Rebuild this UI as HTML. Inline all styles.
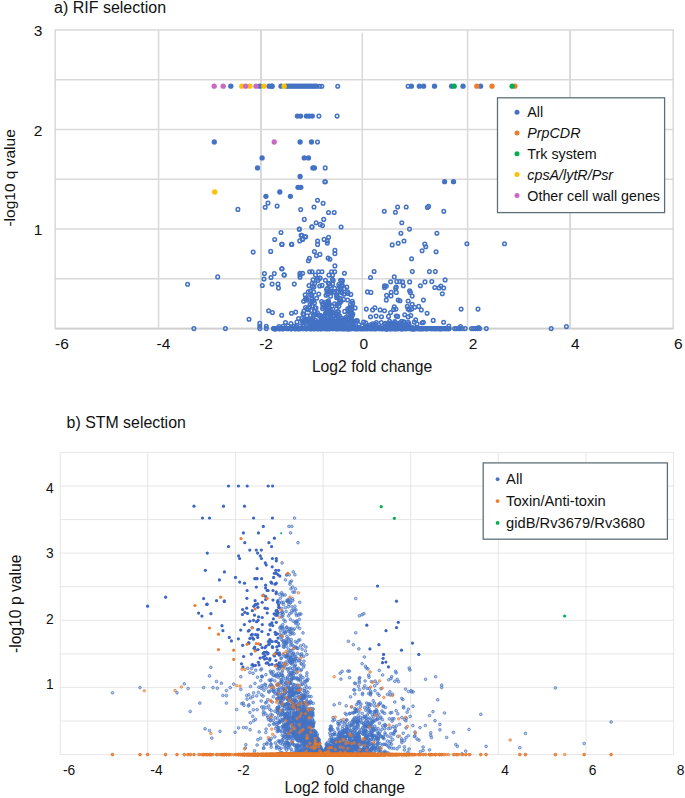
<!DOCTYPE html><html><head><meta charset="utf-8"><title>Volcano plots</title><style>
html,body{margin:0;padding:0;background:#fff}svg{display:block}text{font-family:"Liberation Sans", Arial, sans-serif;fill:#111}
.g line{stroke:#d9d9d9;stroke-width:1.5}.g2 line{stroke:#dedede;stroke-width:.75}
.to circle{r:1.8px}.ts circle{r:2.65px}.bo circle{r:1.35px}.bs circle{r:1.6px}.bb circle{r:1.3px}
</style></head><body>
<svg width="685" height="798" viewBox="0 0 685 798">
<rect width="685" height="798" fill="#fff"/>
<g class="g">
<line x1="55.2" y1="30" x2="55.2" y2="328.6"/>
<line x1="158.6" y1="30" x2="158.6" y2="328.6"/>
<line x1="261" y1="30" x2="261" y2="328.6" style="stroke-width:2"/>
<line x1="362.3" y1="32.8" x2="362.3" y2="328.6"/>
<line x1="467.6" y1="30" x2="467.6" y2="328.6"/>
<line x1="570.1" y1="30" x2="570.1" y2="328.6" style="stroke-width:2"/>
<line x1="673.2" y1="30" x2="673.2" y2="328.6"/>
<line x1="54.5" y1="328.6" x2="674" y2="328.6"/>
<line x1="54.5" y1="278.8" x2="674" y2="278.8"/>
<line x1="54.5" y1="229.1" x2="674" y2="229.1"/>
<line x1="54.5" y1="179.3" x2="674" y2="179.3"/>
<line x1="54.5" y1="129.5" x2="674" y2="129.5"/>
<line x1="54.5" y1="79.8" x2="674" y2="79.8"/>
<line x1="54.5" y1="30" x2="674" y2="30"/>
</g>
<line x1="55.2" y1="328.6" x2="673.2" y2="328.6" stroke="#cfcfcf" stroke-width="1.6"/>
<g class="to" fill="none" stroke="#4472c4" stroke-width="1.5">
<circle cx="339.7" cy="321.1" r="1.8"/>
<circle cx="344.7" cy="311.4" r="1.8"/>
<circle cx="322.9" cy="307.1" r="1.8"/>
<circle cx="326.8" cy="320.6" r="1.8"/>
<circle cx="330.6" cy="316.1" r="1.8"/>
<circle cx="350.4" cy="307.2" r="1.8"/>
<circle cx="320.2" cy="278.1" r="1.8"/>
<circle cx="334.8" cy="318.9" r="1.8"/>
<circle cx="317.4" cy="312.7" r="1.8"/>
<circle cx="312" cy="301.1" r="1.8"/>
<circle cx="321.6" cy="301.6" r="1.8"/>
<circle cx="336.5" cy="295" r="1.8"/>
<circle cx="330.7" cy="312.4" r="1.8"/>
<circle cx="325.7" cy="313" r="1.8"/>
<circle cx="337.9" cy="315.4" r="1.8"/>
<circle cx="329.3" cy="283.9" r="1.8"/>
<circle cx="317.4" cy="278.2" r="1.8"/>
<circle cx="305" cy="319.6" r="1.8"/>
<circle cx="339.4" cy="321.9" r="1.8"/>
<circle cx="341.2" cy="301.3" r="1.8"/>
<circle cx="318.7" cy="294.1" r="1.8"/>
<circle cx="332" cy="306" r="1.8"/>
<circle cx="350.2" cy="310.6" r="1.8"/>
<circle cx="306" cy="299.5" r="1.8"/>
<circle cx="352.7" cy="303.3" r="1.8"/>
<circle cx="310.2" cy="322.3" r="1.8"/>
<circle cx="341.7" cy="318.3" r="1.8"/>
<circle cx="350.9" cy="320.5" r="1.8"/>
<circle cx="336.3" cy="309.1" r="1.8"/>
<circle cx="307" cy="309.1" r="1.8"/>
<circle cx="347.6" cy="291.9" r="1.8"/>
<circle cx="308.4" cy="309.8" r="1.8"/>
<circle cx="355.2" cy="321.3" r="1.8"/>
<circle cx="301.9" cy="318.6" r="1.8"/>
<circle cx="307.1" cy="315.9" r="1.8"/>
<circle cx="328.9" cy="307.8" r="1.8"/>
<circle cx="312" cy="295.7" r="1.8"/>
<circle cx="310.3" cy="321.6" r="1.8"/>
<circle cx="342" cy="286" r="1.8"/>
<circle cx="322.6" cy="308.7" r="1.8"/>
<circle cx="311.8" cy="298.6" r="1.8"/>
<circle cx="336.4" cy="318.3" r="1.8"/>
<circle cx="331.2" cy="321.6" r="1.8"/>
<circle cx="331" cy="310.3" r="1.8"/>
<circle cx="332.6" cy="284" r="1.8"/>
<circle cx="310.4" cy="315.5" r="1.8"/>
<circle cx="322" cy="285.4" r="1.8"/>
<circle cx="326.3" cy="304.7" r="1.8"/>
<circle cx="332.8" cy="320.2" r="1.8"/>
<circle cx="324.4" cy="318.3" r="1.8"/>
<circle cx="355.1" cy="307.9" r="1.8"/>
<circle cx="338.4" cy="322.2" r="1.8"/>
<circle cx="342" cy="280.3" r="1.8"/>
<circle cx="337.8" cy="314.7" r="1.8"/>
<circle cx="339.8" cy="302.9" r="1.8"/>
<circle cx="319.5" cy="316.1" r="1.8"/>
<circle cx="352.2" cy="301.3" r="1.8"/>
<circle cx="343.9" cy="294.2" r="1.8"/>
<circle cx="349.4" cy="308.2" r="1.8"/>
<circle cx="330.5" cy="313.8" r="1.8"/>
<circle cx="327.6" cy="294.1" r="1.8"/>
<circle cx="325.4" cy="280.3" r="1.8"/>
<circle cx="350.8" cy="314.4" r="1.8"/>
<circle cx="328.4" cy="316.8" r="1.8"/>
<circle cx="348" cy="293.5" r="1.8"/>
<circle cx="336.8" cy="296.4" r="1.8"/>
<circle cx="307.2" cy="300.1" r="1.8"/>
<circle cx="342.1" cy="292.7" r="1.8"/>
<circle cx="338.5" cy="311.8" r="1.8"/>
<circle cx="351.6" cy="314.2" r="1.8"/>
<circle cx="350.8" cy="294.4" r="1.8"/>
<circle cx="311.5" cy="319.6" r="1.8"/>
<circle cx="349.5" cy="319.8" r="1.8"/>
<circle cx="352" cy="307" r="1.8"/>
<circle cx="311.7" cy="302.7" r="1.8"/>
<circle cx="330.6" cy="296.3" r="1.8"/>
<circle cx="341.6" cy="286" r="1.8"/>
<circle cx="313.6" cy="315.2" r="1.8"/>
<circle cx="320.5" cy="315.4" r="1.8"/>
<circle cx="316" cy="308" r="1.8"/>
<circle cx="338.8" cy="306.3" r="1.8"/>
<circle cx="348.2" cy="310.9" r="1.8"/>
<circle cx="328.1" cy="302.4" r="1.8"/>
<circle cx="319.5" cy="322.3" r="1.8"/>
<circle cx="327.5" cy="288.2" r="1.8"/>
<circle cx="328.2" cy="305.2" r="1.8"/>
<circle cx="330.8" cy="311.9" r="1.8"/>
<circle cx="302.3" cy="321.1" r="1.8"/>
<circle cx="315.4" cy="314.1" r="1.8"/>
<circle cx="328.4" cy="300.9" r="1.8"/>
<circle cx="348.6" cy="310.3" r="1.8"/>
<circle cx="328.3" cy="303.3" r="1.8"/>
<circle cx="325.6" cy="302.3" r="1.8"/>
<circle cx="318" cy="280.4" r="1.8"/>
<circle cx="346.8" cy="287" r="1.8"/>
<circle cx="313.9" cy="287.1" r="1.8"/>
<circle cx="338.7" cy="321.1" r="1.8"/>
<circle cx="338.2" cy="321.1" r="1.8"/>
<circle cx="342.2" cy="284.9" r="1.8"/>
<circle cx="322.3" cy="318.9" r="1.8"/>
<circle cx="351.4" cy="318.6" r="1.8"/>
<circle cx="322.9" cy="304.5" r="1.8"/>
<circle cx="344.6" cy="318.7" r="1.8"/>
<circle cx="305.5" cy="307.6" r="1.8"/>
<circle cx="331.4" cy="292.5" r="1.8"/>
<circle cx="339.4" cy="301.8" r="1.8"/>
<circle cx="340.4" cy="298.5" r="1.8"/>
<circle cx="328.5" cy="321.3" r="1.8"/>
<circle cx="342.4" cy="280.9" r="1.8"/>
<circle cx="326.6" cy="289.4" r="1.8"/>
<circle cx="331.2" cy="319.4" r="1.8"/>
<circle cx="350.5" cy="317.3" r="1.8"/>
<circle cx="312.3" cy="283.4" r="1.8"/>
<circle cx="338" cy="320.6" r="1.8"/>
<circle cx="321" cy="321.1" r="1.8"/>
<circle cx="334.7" cy="288.2" r="1.8"/>
<circle cx="312.4" cy="286.8" r="1.8"/>
<circle cx="337.7" cy="311.5" r="1.8"/>
<circle cx="349.3" cy="316.5" r="1.8"/>
<circle cx="314.5" cy="303.1" r="1.8"/>
<circle cx="333.9" cy="321.7" r="1.8"/>
<circle cx="332.7" cy="312.5" r="1.8"/>
<circle cx="327.7" cy="303.9" r="1.8"/>
<circle cx="314.6" cy="311.3" r="1.8"/>
<circle cx="327" cy="291.9" r="1.8"/>
<circle cx="312.5" cy="306" r="1.8"/>
<circle cx="308.3" cy="291.7" r="1.8"/>
<circle cx="329.6" cy="304.2" r="1.8"/>
<circle cx="322.7" cy="303.6" r="1.8"/>
<circle cx="352.1" cy="316" r="1.8"/>
<circle cx="338.3" cy="297.5" r="1.8"/>
<circle cx="324.1" cy="319.4" r="1.8"/>
<circle cx="331.1" cy="291.5" r="1.8"/>
<circle cx="330.3" cy="285.9" r="1.8"/>
<circle cx="336.5" cy="313.8" r="1.8"/>
<circle cx="332.4" cy="313.3" r="1.8"/>
<circle cx="335.9" cy="314.5" r="1.8"/>
<circle cx="351.6" cy="309.8" r="1.8"/>
<circle cx="340.6" cy="280.2" r="1.8"/>
<circle cx="326.6" cy="309.5" r="1.8"/>
<circle cx="327.5" cy="303.8" r="1.8"/>
<circle cx="325.5" cy="314.4" r="1.8"/>
<circle cx="327" cy="308.6" r="1.8"/>
<circle cx="339.6" cy="315.9" r="1.8"/>
<circle cx="329.5" cy="290.9" r="1.8"/>
<circle cx="338.8" cy="284.5" r="1.8"/>
<circle cx="328.8" cy="311.9" r="1.8"/>
<circle cx="310.5" cy="294.8" r="1.8"/>
<circle cx="305.2" cy="294.9" r="1.8"/>
<circle cx="334.4" cy="291.9" r="1.8"/>
<circle cx="310" cy="304.5" r="1.8"/>
<circle cx="340.8" cy="288.1" r="1.8"/>
<circle cx="347.6" cy="300" r="1.8"/>
<circle cx="314.5" cy="322.1" r="1.8"/>
<circle cx="303.7" cy="314.2" r="1.8"/>
<circle cx="336.8" cy="297.7" r="1.8"/>
<circle cx="337" cy="304.6" r="1.8"/>
<circle cx="310.5" cy="291" r="1.8"/>
<circle cx="328.1" cy="302.2" r="1.8"/>
<circle cx="306.3" cy="297.7" r="1.8"/>
<circle cx="337.5" cy="292.5" r="1.8"/>
<circle cx="332.3" cy="291.5" r="1.8"/>
<circle cx="327.7" cy="309.4" r="1.8"/>
<circle cx="316.6" cy="298.3" r="1.8"/>
<circle cx="306.9" cy="319.4" r="1.8"/>
<circle cx="303.6" cy="301.3" r="1.8"/>
<circle cx="324.8" cy="321.4" r="1.8"/>
<circle cx="326" cy="295.2" r="1.8"/>
<circle cx="336.8" cy="313.5" r="1.8"/>
<circle cx="310.6" cy="319.9" r="1.8"/>
<circle cx="313" cy="279.7" r="1.8"/>
<circle cx="303.9" cy="311" r="1.8"/>
<circle cx="351.4" cy="312.5" r="1.8"/>
<circle cx="330.7" cy="316.6" r="1.8"/>
<circle cx="313.5" cy="300.7" r="1.8"/>
<circle cx="321.4" cy="319.3" r="1.8"/>
<circle cx="328.4" cy="283.2" r="1.8"/>
<circle cx="314.6" cy="283.6" r="1.8"/>
<circle cx="328.3" cy="304.3" r="1.8"/>
<circle cx="327.2" cy="312.9" r="1.8"/>
<circle cx="319.7" cy="286" r="1.8"/>
<circle cx="337.9" cy="291.4" r="1.8"/>
<circle cx="309" cy="285.6" r="1.8"/>
<circle cx="348.1" cy="315.3" r="1.8"/>
<circle cx="315" cy="307.7" r="1.8"/>
<circle cx="319.5" cy="321.7" r="1.8"/>
<circle cx="333.2" cy="280.5" r="1.8"/>
<circle cx="316.4" cy="314.5" r="1.8"/>
<circle cx="332.4" cy="279.2" r="1.8"/>
<circle cx="343.6" cy="299.4" r="1.8"/>
<circle cx="350" cy="307.8" r="1.8"/>
<circle cx="305.5" cy="298.9" r="1.8"/>
<circle cx="340.5" cy="291.9" r="1.8"/>
<circle cx="317.3" cy="321.7" r="1.8"/>
<circle cx="309.4" cy="307" r="1.8"/>
<circle cx="319.7" cy="278.1" r="1.8"/>
<circle cx="350.5" cy="304.6" r="1.8"/>
<circle cx="312.9" cy="318.3" r="1.8"/>
<circle cx="321.7" cy="316.6" r="1.8"/>
<circle cx="327.9" cy="316.2" r="1.8"/>
<circle cx="352.8" cy="314" r="1.8"/>
<circle cx="329.3" cy="311.2" r="1.8"/>
<circle cx="333.1" cy="315.4" r="1.8"/>
<circle cx="313.7" cy="292" r="1.8"/>
<circle cx="311.3" cy="310.5" r="1.8"/>
<circle cx="336.4" cy="321.4" r="1.8"/>
<circle cx="334.6" cy="303.8" r="1.8"/>
<circle cx="346.1" cy="317.2" r="1.8"/>
<circle cx="325.4" cy="315.1" r="1.8"/>
<circle cx="339.4" cy="286.4" r="1.8"/>
<circle cx="304.1" cy="322.2" r="1.8"/>
<circle cx="347.8" cy="308.7" r="1.8"/>
<circle cx="303" cy="313.8" r="1.8"/>
<circle cx="344.3" cy="288.6" r="1.8"/>
<circle cx="315.4" cy="320.1" r="1.8"/>
<circle cx="341" cy="320.6" r="1.8"/>
<circle cx="346" cy="323.1" r="1.8"/>
<circle cx="331.6" cy="328.3" r="1.8"/>
<circle cx="312.4" cy="327.7" r="1.8"/>
<circle cx="350.2" cy="327.5" r="1.8"/>
<circle cx="318.9" cy="323.2" r="1.8"/>
<circle cx="327.5" cy="324.1" r="1.8"/>
<circle cx="322.6" cy="325.3" r="1.8"/>
<circle cx="333.6" cy="326" r="1.8"/>
<circle cx="351.4" cy="320.4" r="1.8"/>
<circle cx="309.6" cy="326.6" r="1.8"/>
<circle cx="303.8" cy="320.4" r="1.8"/>
<circle cx="326.1" cy="324.4" r="1.8"/>
<circle cx="316.8" cy="325" r="1.8"/>
<circle cx="328.9" cy="327.7" r="1.8"/>
<circle cx="353.7" cy="325.7" r="1.8"/>
<circle cx="308.7" cy="321.8" r="1.8"/>
<circle cx="341.6" cy="324.3" r="1.8"/>
<circle cx="341.8" cy="321.6" r="1.8"/>
<circle cx="331.4" cy="327.4" r="1.8"/>
<circle cx="341.2" cy="326.6" r="1.8"/>
<circle cx="334.4" cy="322.9" r="1.8"/>
<circle cx="340.5" cy="328" r="1.8"/>
<circle cx="321.3" cy="328" r="1.8"/>
<circle cx="336.9" cy="328.1" r="1.8"/>
<circle cx="303.2" cy="325.7" r="1.8"/>
<circle cx="351.2" cy="324.9" r="1.8"/>
<circle cx="325.1" cy="325.6" r="1.8"/>
<circle cx="339" cy="323" r="1.8"/>
<circle cx="318.8" cy="327.2" r="1.8"/>
<circle cx="340.7" cy="326.2" r="1.8"/>
<circle cx="306.2" cy="320.4" r="1.8"/>
<circle cx="362.1" cy="325.6" r="1.8"/>
<circle cx="342.9" cy="328.2" r="1.8"/>
<circle cx="303.2" cy="325.4" r="1.8"/>
<circle cx="339.2" cy="321" r="1.8"/>
<circle cx="324.9" cy="325.1" r="1.8"/>
<circle cx="340.3" cy="328.3" r="1.8"/>
<circle cx="304.7" cy="320.8" r="1.8"/>
<circle cx="328.8" cy="327.2" r="1.8"/>
<circle cx="356.5" cy="320.5" r="1.8"/>
<circle cx="320.7" cy="325.9" r="1.8"/>
<circle cx="321.6" cy="328.6" r="1.8"/>
<circle cx="331.3" cy="320.6" r="1.8"/>
<circle cx="341.5" cy="320.5" r="1.8"/>
<circle cx="331.8" cy="327.1" r="1.8"/>
<circle cx="329.9" cy="320.7" r="1.8"/>
<circle cx="347" cy="321.8" r="1.8"/>
<circle cx="327.8" cy="326.2" r="1.8"/>
<circle cx="300.3" cy="325.9" r="1.8"/>
<circle cx="311.9" cy="326.9" r="1.8"/>
<circle cx="351.3" cy="327.6" r="1.8"/>
<circle cx="333.9" cy="325.8" r="1.8"/>
<circle cx="331.7" cy="325.1" r="1.8"/>
<circle cx="342.5" cy="327.8" r="1.8"/>
<circle cx="329" cy="322.6" r="1.8"/>
<circle cx="319" cy="323.3" r="1.8"/>
<circle cx="333.8" cy="322.2" r="1.8"/>
<circle cx="343.5" cy="321.5" r="1.8"/>
<circle cx="310.6" cy="323.8" r="1.8"/>
<circle cx="311.7" cy="326.5" r="1.8"/>
<circle cx="348.8" cy="327.3" r="1.8"/>
<circle cx="345.7" cy="325.2" r="1.8"/>
<circle cx="316" cy="326.6" r="1.8"/>
<circle cx="333.4" cy="320.2" r="1.8"/>
<circle cx="358.9" cy="324.6" r="1.8"/>
<circle cx="342.9" cy="328.4" r="1.8"/>
<circle cx="302.2" cy="327.6" r="1.8"/>
<circle cx="345.9" cy="320.7" r="1.8"/>
<circle cx="307.7" cy="326.4" r="1.8"/>
<circle cx="353.1" cy="324.8" r="1.8"/>
<circle cx="347" cy="326.8" r="1.8"/>
<circle cx="343.3" cy="327.4" r="1.8"/>
<circle cx="333.5" cy="323.1" r="1.8"/>
<circle cx="341.8" cy="328.5" r="1.8"/>
<circle cx="318.8" cy="325.9" r="1.8"/>
<circle cx="351.3" cy="321.8" r="1.8"/>
<circle cx="324.5" cy="325.2" r="1.8"/>
<circle cx="328.3" cy="323.2" r="1.8"/>
<circle cx="338" cy="325.1" r="1.8"/>
<circle cx="335.2" cy="326" r="1.8"/>
<circle cx="343.3" cy="325.6" r="1.8"/>
<circle cx="326" cy="321.3" r="1.8"/>
<circle cx="345.2" cy="322.4" r="1.8"/>
<circle cx="329.7" cy="328.6" r="1.8"/>
<circle cx="343.7" cy="327" r="1.8"/>
<circle cx="320.3" cy="326.8" r="1.8"/>
<circle cx="331.4" cy="323.2" r="1.8"/>
<circle cx="332.4" cy="328.2" r="1.8"/>
<circle cx="318.9" cy="327.4" r="1.8"/>
<circle cx="319.3" cy="324.2" r="1.8"/>
<circle cx="336.9" cy="321.8" r="1.8"/>
<circle cx="326.5" cy="327.8" r="1.8"/>
<circle cx="356.8" cy="326.7" r="1.8"/>
<circle cx="357.4" cy="320.7" r="1.8"/>
<circle cx="303.6" cy="321.6" r="1.8"/>
<circle cx="352.4" cy="321.9" r="1.8"/>
<circle cx="332.8" cy="325.3" r="1.8"/>
<circle cx="346" cy="326.7" r="1.8"/>
<circle cx="314.4" cy="327.6" r="1.8"/>
<circle cx="341.4" cy="322.4" r="1.8"/>
<circle cx="333.7" cy="322.2" r="1.8"/>
<circle cx="327.2" cy="321.5" r="1.8"/>
<circle cx="346" cy="323.3" r="1.8"/>
<circle cx="344.6" cy="325" r="1.8"/>
<circle cx="315.4" cy="324.8" r="1.8"/>
<circle cx="321.6" cy="328.4" r="1.8"/>
<circle cx="316.4" cy="322.1" r="1.8"/>
<circle cx="317.4" cy="326.8" r="1.8"/>
<circle cx="337.8" cy="327.5" r="1.8"/>
<circle cx="346.4" cy="327.8" r="1.8"/>
<circle cx="312.1" cy="323.2" r="1.8"/>
<circle cx="336.8" cy="322.4" r="1.8"/>
<circle cx="333.3" cy="324.3" r="1.8"/>
<circle cx="311.1" cy="320.5" r="1.8"/>
<circle cx="350.7" cy="325.7" r="1.8"/>
<circle cx="353.8" cy="327.8" r="1.8"/>
<circle cx="348.5" cy="324.9" r="1.8"/>
<circle cx="327.9" cy="321.9" r="1.8"/>
<circle cx="335.3" cy="322.2" r="1.8"/>
<circle cx="327.5" cy="321" r="1.8"/>
<circle cx="325.4" cy="324.3" r="1.8"/>
<circle cx="359.1" cy="327.8" r="1.8"/>
<circle cx="328.5" cy="328.3" r="1.8"/>
<circle cx="348.9" cy="327.2" r="1.8"/>
<circle cx="352.2" cy="327.9" r="1.8"/>
<circle cx="320.6" cy="328.1" r="1.8"/>
<circle cx="307.7" cy="321.2" r="1.8"/>
<circle cx="325.6" cy="323.7" r="1.8"/>
<circle cx="335.6" cy="326.1" r="1.8"/>
<circle cx="324.9" cy="321.8" r="1.8"/>
<circle cx="325.5" cy="325.5" r="1.8"/>
<circle cx="331.6" cy="322.3" r="1.8"/>
<circle cx="312.8" cy="321.6" r="1.8"/>
<circle cx="329.5" cy="326.3" r="1.8"/>
<circle cx="352.8" cy="325.9" r="1.8"/>
<circle cx="334.2" cy="323.4" r="1.8"/>
<circle cx="330" cy="324.2" r="1.8"/>
<circle cx="336.7" cy="323" r="1.8"/>
<circle cx="324.8" cy="328.6" r="1.8"/>
<circle cx="325.4" cy="326.7" r="1.8"/>
<circle cx="336" cy="323.6" r="1.8"/>
<circle cx="336.4" cy="327.5" r="1.8"/>
<circle cx="351.5" cy="327.6" r="1.8"/>
<circle cx="334.2" cy="321.2" r="1.8"/>
<circle cx="335.8" cy="327" r="1.8"/>
<circle cx="329.8" cy="323.8" r="1.8"/>
<circle cx="332.4" cy="323.1" r="1.8"/>
<circle cx="343" cy="326.5" r="1.8"/>
<circle cx="333.9" cy="325.1" r="1.8"/>
<circle cx="285.5" cy="322.5" r="1.8"/>
<circle cx="288" cy="326" r="1.8"/>
<circle cx="291" cy="323.5" r="1.8"/>
<circle cx="283" cy="326.2" r="1.8"/>
<circle cx="294" cy="326" r="1.8"/>
<circle cx="297" cy="322" r="1.8"/>
<circle cx="279" cy="326.5" r="1.8"/>
<circle cx="296" cy="326.5" r="1.8"/>
<circle cx="387.1" cy="327.7" r="1.8"/>
<circle cx="417.6" cy="328.6" r="1.8"/>
<circle cx="400.6" cy="325.8" r="1.8"/>
<circle cx="398.8" cy="327.8" r="1.8"/>
<circle cx="386.6" cy="325.3" r="1.8"/>
<circle cx="365.7" cy="322.7" r="1.8"/>
<circle cx="388.9" cy="327.9" r="1.8"/>
<circle cx="384.8" cy="328.4" r="1.8"/>
<circle cx="395.5" cy="328.6" r="1.8"/>
<circle cx="363.6" cy="322.1" r="1.8"/>
<circle cx="389.4" cy="323.9" r="1.8"/>
<circle cx="371" cy="326.5" r="1.8"/>
<circle cx="391.2" cy="327.7" r="1.8"/>
<circle cx="397.9" cy="328.5" r="1.8"/>
<circle cx="375.5" cy="324.4" r="1.8"/>
<circle cx="414.3" cy="322.1" r="1.8"/>
<circle cx="386.8" cy="325.8" r="1.8"/>
<circle cx="377" cy="326.6" r="1.8"/>
<circle cx="395" cy="327.5" r="1.8"/>
<circle cx="369.9" cy="325" r="1.8"/>
<circle cx="401.6" cy="321.2" r="1.8"/>
<circle cx="387.4" cy="328.5" r="1.8"/>
<circle cx="389.2" cy="323.8" r="1.8"/>
<circle cx="389.6" cy="321.2" r="1.8"/>
<circle cx="374.9" cy="327.2" r="1.8"/>
<circle cx="392.5" cy="325.1" r="1.8"/>
<circle cx="366.5" cy="326.4" r="1.8"/>
<circle cx="404" cy="321.8" r="1.8"/>
<circle cx="367.8" cy="326.6" r="1.8"/>
<circle cx="386.5" cy="327.3" r="1.8"/>
<circle cx="368.2" cy="327.8" r="1.8"/>
<circle cx="385.2" cy="328.1" r="1.8"/>
<circle cx="391.4" cy="327.1" r="1.8"/>
<circle cx="392.6" cy="328.5" r="1.8"/>
<circle cx="393.2" cy="324.5" r="1.8"/>
<circle cx="372.5" cy="323.9" r="1.8"/>
<circle cx="370.4" cy="328.4" r="1.8"/>
<circle cx="376.4" cy="322.6" r="1.8"/>
<circle cx="381.3" cy="322.6" r="1.8"/>
<circle cx="394.9" cy="321.5" r="1.8"/>
<circle cx="397.6" cy="327.8" r="1.8"/>
<circle cx="387.2" cy="328.2" r="1.8"/>
<circle cx="422.2" cy="322.8" r="1.8"/>
<circle cx="397.1" cy="325.1" r="1.8"/>
<circle cx="400.9" cy="327.4" r="1.8"/>
<circle cx="368.6" cy="328.2" r="1.8"/>
<circle cx="413.4" cy="327.8" r="1.8"/>
<circle cx="406.5" cy="327.3" r="1.8"/>
<circle cx="386.9" cy="327.6" r="1.8"/>
<circle cx="391.6" cy="327.4" r="1.8"/>
<circle cx="386.5" cy="327.2" r="1.8"/>
<circle cx="389.2" cy="325.2" r="1.8"/>
<circle cx="407.2" cy="326.6" r="1.8"/>
<circle cx="393.4" cy="323.4" r="1.8"/>
<circle cx="374.8" cy="325.9" r="1.8"/>
<circle cx="411.8" cy="327.7" r="1.8"/>
<circle cx="394.8" cy="322.6" r="1.8"/>
<circle cx="384.3" cy="327.9" r="1.8"/>
<circle cx="401.4" cy="323.6" r="1.8"/>
<circle cx="409.7" cy="326.2" r="1.8"/>
<circle cx="390.5" cy="323" r="1.8"/>
<circle cx="397.9" cy="327.1" r="1.8"/>
<circle cx="408.2" cy="322.4" r="1.8"/>
<circle cx="387.3" cy="327.4" r="1.8"/>
<circle cx="395.8" cy="326.2" r="1.8"/>
<circle cx="415.7" cy="328.2" r="1.8"/>
<circle cx="385.4" cy="323.2" r="1.8"/>
<circle cx="384.7" cy="324.4" r="1.8"/>
<circle cx="395.5" cy="327.1" r="1.8"/>
<circle cx="366.7" cy="326.8" r="1.8"/>
<circle cx="412" cy="328.3" r="1.8"/>
<circle cx="392.9" cy="327.8" r="1.8"/>
<circle cx="387.5" cy="327.5" r="1.8"/>
<circle cx="406.3" cy="326.9" r="1.8"/>
<circle cx="391.9" cy="325.9" r="1.8"/>
<circle cx="408.8" cy="323.7" r="1.8"/>
<circle cx="390.5" cy="327.1" r="1.8"/>
<circle cx="365.5" cy="327.2" r="1.8"/>
<circle cx="408.3" cy="324.8" r="1.8"/>
<circle cx="417.1" cy="323.9" r="1.8"/>
<circle cx="398.8" cy="323.4" r="1.8"/>
<circle cx="406" cy="325.6" r="1.8"/>
<circle cx="403.5" cy="327.6" r="1.8"/>
<circle cx="395.2" cy="324.3" r="1.8"/>
<circle cx="403.4" cy="322.1" r="1.8"/>
<circle cx="395.6" cy="327.6" r="1.8"/>
<circle cx="398.2" cy="327.2" r="1.8"/>
<circle cx="380" cy="327.2" r="1.8"/>
<circle cx="388.6" cy="327.9" r="1.8"/>
<circle cx="417.1" cy="328.2" r="1.8"/>
<circle cx="400" cy="323.1" r="1.8"/>
<circle cx="388.1" cy="327.8" r="1.8"/>
<circle cx="371.9" cy="325" r="1.8"/>
<circle cx="292.1" cy="328.6" r="1.8"/>
<circle cx="310" cy="328.6" r="1.8"/>
<circle cx="342.5" cy="328.6" r="1.8"/>
<circle cx="279.1" cy="328.6" r="1.8"/>
<circle cx="344.4" cy="328.6" r="1.8"/>
<circle cx="414.6" cy="328.6" r="1.8"/>
<circle cx="397.1" cy="328.6" r="1.8"/>
<circle cx="362.6" cy="328.6" r="1.8"/>
<circle cx="386.2" cy="328.6" r="1.8"/>
<circle cx="355.9" cy="328.6" r="1.8"/>
<circle cx="298.4" cy="328.6" r="1.8"/>
<circle cx="381.1" cy="328.6" r="1.8"/>
<circle cx="345.4" cy="328.6" r="1.8"/>
<circle cx="405.6" cy="328.6" r="1.8"/>
<circle cx="435.5" cy="328.6" r="1.8"/>
<circle cx="350" cy="328.6" r="1.8"/>
<circle cx="375.7" cy="328.6" r="1.8"/>
<circle cx="407.1" cy="328.6" r="1.8"/>
<circle cx="348.4" cy="328.6" r="1.8"/>
<circle cx="313.9" cy="328.6" r="1.8"/>
<circle cx="402.3" cy="328.6" r="1.8"/>
<circle cx="430.5" cy="328.6" r="1.8"/>
<circle cx="411.6" cy="328.6" r="1.8"/>
<circle cx="398.3" cy="328.6" r="1.8"/>
<circle cx="425.6" cy="328.6" r="1.8"/>
<circle cx="394.6" cy="328.6" r="1.8"/>
<circle cx="387.8" cy="328.6" r="1.8"/>
<circle cx="354.2" cy="328.6" r="1.8"/>
<circle cx="329" cy="328.6" r="1.8"/>
<circle cx="385.5" cy="328.6" r="1.8"/>
<circle cx="290.5" cy="328.6" r="1.8"/>
<circle cx="348.1" cy="328.6" r="1.8"/>
<circle cx="413" cy="328.6" r="1.8"/>
<circle cx="400.7" cy="328.6" r="1.8"/>
<circle cx="385.7" cy="328.6" r="1.8"/>
<circle cx="317.8" cy="328.6" r="1.8"/>
<circle cx="348.8" cy="328.6" r="1.8"/>
<circle cx="354.5" cy="328.6" r="1.8"/>
<circle cx="384.3" cy="328.6" r="1.8"/>
<circle cx="346.3" cy="328.6" r="1.8"/>
<circle cx="393.9" cy="328.6" r="1.8"/>
<circle cx="439.5" cy="328.6" r="1.8"/>
<circle cx="305.8" cy="328.6" r="1.8"/>
<circle cx="390.2" cy="328.6" r="1.8"/>
<circle cx="412.3" cy="328.6" r="1.8"/>
<circle cx="342.6" cy="328.6" r="1.8"/>
<circle cx="360.7" cy="328.6" r="1.8"/>
<circle cx="447.5" cy="328.6" r="1.8"/>
<circle cx="279.8" cy="328.6" r="1.8"/>
<circle cx="370.3" cy="328.6" r="1.8"/>
<circle cx="301.8" cy="328.6" r="1.8"/>
<circle cx="412.9" cy="328.6" r="1.8"/>
<circle cx="441.4" cy="328.6" r="1.8"/>
<circle cx="365.9" cy="328.6" r="1.8"/>
<circle cx="291.1" cy="328.6" r="1.8"/>
<circle cx="375.8" cy="328.6" r="1.8"/>
<circle cx="369.8" cy="328.6" r="1.8"/>
<circle cx="401.4" cy="328.6" r="1.8"/>
<circle cx="364.7" cy="328.6" r="1.8"/>
<circle cx="387.4" cy="328.6" r="1.8"/>
<circle cx="421.4" cy="328.6" r="1.8"/>
<circle cx="366.4" cy="328.6" r="1.8"/>
<circle cx="346.5" cy="328.6" r="1.8"/>
<circle cx="442.7" cy="328.6" r="1.8"/>
<circle cx="310.6" cy="328.6" r="1.8"/>
<circle cx="395.5" cy="328.6" r="1.8"/>
<circle cx="343.3" cy="328.6" r="1.8"/>
<circle cx="409.5" cy="328.6" r="1.8"/>
<circle cx="294.9" cy="328.6" r="1.8"/>
<circle cx="449.2" cy="328.6" r="1.8"/>
<circle cx="336.6" cy="328.6" r="1.8"/>
<circle cx="283.1" cy="328.6" r="1.8"/>
<circle cx="322.1" cy="328.6" r="1.8"/>
<circle cx="344.5" cy="328.6" r="1.8"/>
<circle cx="275.4" cy="328.6" r="1.8"/>
<circle cx="347.9" cy="328.6" r="1.8"/>
<circle cx="348.3" cy="328.6" r="1.8"/>
<circle cx="398" cy="328.6" r="1.8"/>
<circle cx="336" cy="328.6" r="1.8"/>
<circle cx="320.5" cy="328.6" r="1.8"/>
<circle cx="313.2" cy="328.6" r="1.8"/>
<circle cx="405.7" cy="328.6" r="1.8"/>
<circle cx="441.2" cy="328.6" r="1.8"/>
<circle cx="367.3" cy="328.6" r="1.8"/>
<circle cx="312.2" cy="328.6" r="1.8"/>
<circle cx="416.5" cy="328.6" r="1.8"/>
<circle cx="343.2" cy="328.6" r="1.8"/>
<circle cx="311" cy="328.6" r="1.8"/>
<circle cx="296.1" cy="328.6" r="1.8"/>
<circle cx="412" cy="328.6" r="1.8"/>
<circle cx="417.9" cy="328.6" r="1.8"/>
<circle cx="386.5" cy="328.6" r="1.8"/>
<circle cx="357" cy="328.6" r="1.8"/>
<circle cx="373.6" cy="328.6" r="1.8"/>
<circle cx="313.5" cy="328.6" r="1.8"/>
<circle cx="445.5" cy="328.6" r="1.8"/>
<circle cx="336.2" cy="328.6" r="1.8"/>
<circle cx="387.3" cy="328.6" r="1.8"/>
<circle cx="419.6" cy="328.6" r="1.8"/>
<circle cx="419.1" cy="328.6" r="1.8"/>
<circle cx="356.8" cy="328.6" r="1.8"/>
<circle cx="325.7" cy="328.6" r="1.8"/>
<circle cx="371.1" cy="328.6" r="1.8"/>
<circle cx="295.4" cy="328.6" r="1.8"/>
<circle cx="422.2" cy="328.6" r="1.8"/>
<circle cx="336.5" cy="328.6" r="1.8"/>
<circle cx="425.3" cy="328.6" r="1.8"/>
<circle cx="320.9" cy="328.6" r="1.8"/>
<circle cx="340.3" cy="328.6" r="1.8"/>
<circle cx="318.4" cy="328.6" r="1.8"/>
<circle cx="349.3" cy="328.6" r="1.8"/>
<circle cx="306.3" cy="328.6" r="1.8"/>
<circle cx="273.5" cy="328.6" r="1.8"/>
<circle cx="402.2" cy="328.6" r="1.8"/>
<circle cx="323.3" cy="328.6" r="1.8"/>
<circle cx="316.8" cy="328.6" r="1.8"/>
<circle cx="327" cy="328.6" r="1.8"/>
<circle cx="358.8" cy="328.6" r="1.8"/>
<circle cx="349.7" cy="328.6" r="1.8"/>
<circle cx="387.1" cy="328.6" r="1.8"/>
<circle cx="391" cy="328.6" r="1.8"/>
<circle cx="337.9" cy="328.6" r="1.8"/>
<circle cx="439.2" cy="328.6" r="1.8"/>
<circle cx="425.9" cy="328.6" r="1.8"/>
<circle cx="283.2" cy="328.6" r="1.8"/>
<circle cx="421.2" cy="328.6" r="1.8"/>
<circle cx="435.1" cy="328.6" r="1.8"/>
<circle cx="413.3" cy="328.6" r="1.8"/>
<circle cx="298.1" cy="328.6" r="1.8"/>
<circle cx="421.8" cy="328.6" r="1.8"/>
<circle cx="386.3" cy="328.6" r="1.8"/>
<circle cx="275.7" cy="328.6" r="1.8"/>
<circle cx="275.1" cy="328.6" r="1.8"/>
<circle cx="443.4" cy="328.6" r="1.8"/>
<circle cx="390.4" cy="328.6" r="1.8"/>
<circle cx="317.8" cy="328.6" r="1.8"/>
<circle cx="291.2" cy="328.6" r="1.8"/>
<circle cx="298.5" cy="328.6" r="1.8"/>
<circle cx="314.8" cy="328.6" r="1.8"/>
<circle cx="412" cy="328.6" r="1.8"/>
<circle cx="335" cy="328.6" r="1.8"/>
<circle cx="300.3" cy="328.6" r="1.8"/>
<circle cx="434.8" cy="328.6" r="1.8"/>
<circle cx="414.7" cy="328.6" r="1.8"/>
<circle cx="303.1" cy="328.6" r="1.8"/>
<circle cx="432.5" cy="328.6" r="1.8"/>
<circle cx="381.9" cy="328.6" r="1.8"/>
<circle cx="412.8" cy="328.6" r="1.8"/>
<circle cx="392.7" cy="328.6" r="1.8"/>
<circle cx="433" cy="328.6" r="1.8"/>
<circle cx="414.1" cy="328.6" r="1.8"/>
<circle cx="423.1" cy="328.6" r="1.8"/>
<circle cx="308.3" cy="328.6" r="1.8"/>
<circle cx="397" cy="328.6" r="1.8"/>
<circle cx="368" cy="328.6" r="1.8"/>
<circle cx="405.8" cy="328.6" r="1.8"/>
<circle cx="351.5" cy="328.6" r="1.8"/>
<circle cx="431" cy="328.6" r="1.8"/>
<circle cx="372.4" cy="328.6" r="1.8"/>
<circle cx="320.3" cy="328.6" r="1.8"/>
<circle cx="314.9" cy="328.6" r="1.8"/>
<circle cx="297.9" cy="328.6" r="1.8"/>
<circle cx="361.3" cy="328.6" r="1.8"/>
<circle cx="283.5" cy="328.6" r="1.8"/>
<circle cx="356.6" cy="328.6" r="1.8"/>
<circle cx="298.9" cy="328.6" r="1.8"/>
<circle cx="361" cy="328.6" r="1.8"/>
<circle cx="362.2" cy="328.6" r="1.8"/>
<circle cx="369.6" cy="328.6" r="1.8"/>
<circle cx="427.5" cy="328.6" r="1.8"/>
<circle cx="274.2" cy="328.6" r="1.8"/>
<circle cx="423.5" cy="328.6" r="1.8"/>
<circle cx="356.8" cy="328.6" r="1.8"/>
<circle cx="373.7" cy="328.6" r="1.8"/>
<circle cx="392.1" cy="328.6" r="1.8"/>
<circle cx="423.5" cy="328.6" r="1.8"/>
<circle cx="340.1" cy="328.6" r="1.8"/>
<circle cx="348" cy="328.6" r="1.8"/>
<circle cx="444.9" cy="328.6" r="1.8"/>
<circle cx="286.5" cy="328.6" r="1.8"/>
<circle cx="387" cy="328.6" r="1.8"/>
<circle cx="386.9" cy="328.6" r="1.8"/>
<circle cx="278.1" cy="328.6" r="1.8"/>
<circle cx="382.1" cy="328.6" r="1.8"/>
<circle cx="395.2" cy="328.6" r="1.8"/>
<circle cx="439.7" cy="328.6" r="1.8"/>
<circle cx="332.2" cy="328.6" r="1.8"/>
<circle cx="448.7" cy="328.6" r="1.8"/>
<circle cx="364.4" cy="328.6" r="1.8"/>
<circle cx="359.8" cy="328.6" r="1.8"/>
<circle cx="433.7" cy="328.6" r="1.8"/>
<circle cx="279.1" cy="328.6" r="1.8"/>
<circle cx="401.6" cy="328.6" r="1.8"/>
<circle cx="384.9" cy="328.6" r="1.8"/>
<circle cx="333.6" cy="328.6" r="1.8"/>
<circle cx="427.2" cy="328.6" r="1.8"/>
<circle cx="338.5" cy="328.6" r="1.8"/>
<circle cx="357.9" cy="328.6" r="1.8"/>
<circle cx="367.1" cy="328.6" r="1.8"/>
<circle cx="410.9" cy="328.6" r="1.8"/>
<circle cx="310.7" cy="328.6" r="1.8"/>
<circle cx="350.9" cy="328.6" r="1.8"/>
<circle cx="348.6" cy="328.6" r="1.8"/>
<circle cx="372.2" cy="328.6" r="1.8"/>
<circle cx="421" cy="328.6" r="1.8"/>
<circle cx="325.4" cy="328.6" r="1.8"/>
<circle cx="421.2" cy="328.6" r="1.8"/>
<circle cx="345.3" cy="328.6" r="1.8"/>
<circle cx="363.2" cy="328.6" r="1.8"/>
<circle cx="321.6" cy="328.6" r="1.8"/>
<circle cx="363.6" cy="328.6" r="1.8"/>
<circle cx="447.5" cy="328.6" r="1.8"/>
<circle cx="390.2" cy="328.6" r="1.8"/>
<circle cx="414.8" cy="328.6" r="1.8"/>
<circle cx="332.2" cy="328.6" r="1.8"/>
<circle cx="329.8" cy="328.6" r="1.8"/>
<circle cx="326.6" cy="328.6" r="1.8"/>
<circle cx="378" cy="328.6" r="1.8"/>
<circle cx="386.6" cy="328.6" r="1.8"/>
<circle cx="413.4" cy="328.6" r="1.8"/>
<circle cx="280.2" cy="328.6" r="1.8"/>
<circle cx="402.4" cy="328.6" r="1.8"/>
<circle cx="431.5" cy="328.6" r="1.8"/>
<circle cx="370.6" cy="328.6" r="1.8"/>
<circle cx="281.9" cy="328.6" r="1.8"/>
<circle cx="326.8" cy="328.6" r="1.8"/>
<circle cx="274.1" cy="328.6" r="1.8"/>
<circle cx="307" cy="328.6" r="1.8"/>
<circle cx="437.9" cy="328.6" r="1.8"/>
<circle cx="382" cy="328.6" r="1.8"/>
<circle cx="390.8" cy="328.6" r="1.8"/>
<circle cx="414.2" cy="328.6" r="1.8"/>
<circle cx="435.9" cy="328.6" r="1.8"/>
<circle cx="382.5" cy="328.6" r="1.8"/>
<circle cx="383.4" cy="328.6" r="1.8"/>
<circle cx="385.2" cy="328.6" r="1.8"/>
<circle cx="397.7" cy="328.6" r="1.8"/>
<circle cx="379.7" cy="328.6" r="1.8"/>
<circle cx="394.9" cy="328.6" r="1.8"/>
<circle cx="311" cy="328.6" r="1.8"/>
<circle cx="392.4" cy="328.6" r="1.8"/>
<circle cx="355" cy="328.6" r="1.8"/>
<circle cx="409.5" cy="328.6" r="1.8"/>
<circle cx="291.1" cy="328.6" r="1.8"/>
<circle cx="305.5" cy="328.6" r="1.8"/>
<circle cx="279.6" cy="328.6" r="1.8"/>
<circle cx="411.6" cy="328.6" r="1.8"/>
<circle cx="436.6" cy="328.6" r="1.8"/>
<circle cx="390.4" cy="328.6" r="1.8"/>
<circle cx="339" cy="328.6" r="1.8"/>
<circle cx="420.2" cy="328.6" r="1.8"/>
<circle cx="413.8" cy="328.6" r="1.8"/>
<circle cx="373.6" cy="328.6" r="1.8"/>
<circle cx="319.2" cy="328.6" r="1.8"/>
<circle cx="327.1" cy="328.6" r="1.8"/>
<circle cx="348.5" cy="328.6" r="1.8"/>
<circle cx="330" cy="328.6" r="1.8"/>
<circle cx="350.1" cy="328.6" r="1.8"/>
<circle cx="387.9" cy="328.6" r="1.8"/>
<circle cx="440.2" cy="328.6" r="1.8"/>
<circle cx="282.8" cy="328.6" r="1.8"/>
<circle cx="374.6" cy="328.6" r="1.8"/>
<circle cx="280" cy="328.6" r="1.8"/>
<circle cx="294.3" cy="328.6" r="1.8"/>
<circle cx="418" cy="328.6" r="1.8"/>
<circle cx="376" cy="328.6" r="1.8"/>
<circle cx="437.4" cy="328.6" r="1.8"/>
<circle cx="352.9" cy="328.6" r="1.8"/>
<circle cx="275.5" cy="328.6" r="1.8"/>
<circle cx="342.3" cy="328.6" r="1.8"/>
<circle cx="379" cy="328.6" r="1.8"/>
<circle cx="440.9" cy="328.6" r="1.8"/>
<circle cx="448.6" cy="328.6" r="1.8"/>
<circle cx="358.1" cy="328.6" r="1.8"/>
<circle cx="346.8" cy="328.6" r="1.8"/>
<circle cx="291.3" cy="328.6" r="1.8"/>
<circle cx="388.4" cy="328.6" r="1.8"/>
<circle cx="311" cy="328.6" r="1.8"/>
<circle cx="300.2" cy="328.6" r="1.8"/>
<circle cx="275.8" cy="328.6" r="1.8"/>
<circle cx="273.9" cy="328.6" r="1.8"/>
<circle cx="395.4" cy="328.6" r="1.8"/>
<circle cx="294.8" cy="328.6" r="1.8"/>
<circle cx="446" cy="328.6" r="1.8"/>
<circle cx="288.8" cy="328.6" r="1.8"/>
<circle cx="428.6" cy="328.6" r="1.8"/>
<circle cx="296.1" cy="328.6" r="1.8"/>
<circle cx="276.2" cy="328.6" r="1.8"/>
<circle cx="401.8" cy="328.6" r="1.8"/>
<circle cx="316.4" cy="328.6" r="1.8"/>
<circle cx="404.3" cy="328.6" r="1.8"/>
<circle cx="306.5" cy="328.6" r="1.8"/>
<circle cx="282" cy="328.6" r="1.8"/>
<circle cx="411.6" cy="328.6" r="1.8"/>
<circle cx="400.7" cy="328.6" r="1.8"/>
<circle cx="426.1" cy="328.6" r="1.8"/>
<circle cx="403.6" cy="328.6" r="1.8"/>
<circle cx="288.1" cy="328.6" r="1.8"/>
<circle cx="385.5" cy="328.6" r="1.8"/>
<circle cx="400" cy="328.6" r="1.8"/>
<circle cx="355.4" cy="328.6" r="1.8"/>
<circle cx="439.9" cy="328.6" r="1.8"/>
<circle cx="318.5" cy="328.6" r="1.8"/>
<circle cx="445.6" cy="328.6" r="1.8"/>
<circle cx="401.4" cy="328.6" r="1.8"/>
<circle cx="275" cy="328.6" r="1.8"/>
<circle cx="275.6" cy="328.6" r="1.8"/>
<circle cx="389.5" cy="328.6" r="1.8"/>
<circle cx="419.3" cy="328.6" r="1.8"/>
<circle cx="287.3" cy="328.6" r="1.8"/>
<circle cx="328.7" cy="328.6" r="1.8"/>
<circle cx="403.6" cy="328.6" r="1.8"/>
<circle cx="302.7" cy="328.6" r="1.8"/>
<circle cx="427.1" cy="328.6" r="1.8"/>
<circle cx="360.1" cy="328.6" r="1.8"/>
<circle cx="283.7" cy="328.6" r="1.8"/>
<circle cx="338.8" cy="328.6" r="1.8"/>
<circle cx="375.9" cy="328.6" r="1.8"/>
<circle cx="351.5" cy="328.6" r="1.8"/>
<circle cx="394.2" cy="328.6" r="1.8"/>
<circle cx="298.9" cy="328.6" r="1.8"/>
<circle cx="415.7" cy="328.6" r="1.8"/>
<circle cx="338" cy="328.6" r="1.8"/>
<circle cx="388.4" cy="328.6" r="1.8"/>
<circle cx="385.7" cy="328.6" r="1.8"/>
<circle cx="347.8" cy="328.6" r="1.8"/>
<circle cx="342" cy="328.6" r="1.8"/>
<circle cx="413.7" cy="328.6" r="1.8"/>
<circle cx="442.1" cy="328.6" r="1.8"/>
<circle cx="413.4" cy="328.6" r="1.8"/>
<circle cx="454.6" cy="328.6" r="1.8"/>
<circle cx="456.4" cy="328.6" r="1.8"/>
<circle cx="458.5" cy="328.6" r="1.8"/>
<circle cx="460.2" cy="328.6" r="1.8"/>
<circle cx="462.2" cy="328.6" r="1.8"/>
<circle cx="465.2" cy="328.6" r="1.8"/>
<circle cx="471.5" cy="328.6" r="1.8"/>
<circle cx="473.5" cy="328.6" r="1.8"/>
<circle cx="475.6" cy="328.6" r="1.8"/>
<circle cx="477.7" cy="328.6" r="1.8"/>
<circle cx="479.7" cy="328.6" r="1.8"/>
<circle cx="478.6" cy="327.6" r="1.8"/>
<circle cx="319.4" cy="86.2" r="1.8"/>
<circle cx="321.8" cy="86.2" r="1.8"/>
<circle cx="337.7" cy="86.2" r="1.8"/>
<circle cx="408.1" cy="86.2" r="1.8"/>
<circle cx="318.9" cy="116.1" r="1.8"/>
<circle cx="337.1" cy="116.1" r="1.8"/>
<circle cx="317.5" cy="142" r="1.8"/>
<circle cx="325.2" cy="167.9" r="1.8"/>
<circle cx="324.8" cy="181.7" r="1.8"/>
<circle cx="325.4" cy="181.7" r="1.8"/>
<circle cx="317.5" cy="200.3" r="1.8"/>
<circle cx="268" cy="203.1" r="1.8"/>
<circle cx="265.2" cy="207.3" r="1.8"/>
<circle cx="277.1" cy="206.1" r="1.8"/>
<circle cx="237.9" cy="209.4" r="1.8"/>
<circle cx="300.7" cy="209.6" r="1.8"/>
<circle cx="323.1" cy="203.3" r="1.8"/>
<circle cx="314" cy="207" r="1.8"/>
<circle cx="328.5" cy="212.5" r="1.8"/>
<circle cx="334.2" cy="212.5" r="1.8"/>
<circle cx="304.3" cy="219.4" r="1.8"/>
<circle cx="323.7" cy="219.4" r="1.8"/>
<circle cx="316.1" cy="222.7" r="1.8"/>
<circle cx="320.3" cy="224.4" r="1.8"/>
<circle cx="322.5" cy="225.6" r="1.8"/>
<circle cx="312" cy="227" r="1.8"/>
<circle cx="341.1" cy="227" r="1.8"/>
<circle cx="299.3" cy="229" r="1.8"/>
<circle cx="384.3" cy="211.3" r="1.8"/>
<circle cx="397.6" cy="207" r="1.8"/>
<circle cx="395.4" cy="212.3" r="1.8"/>
<circle cx="406.2" cy="207" r="1.8"/>
<circle cx="427.4" cy="207.4" r="1.8"/>
<circle cx="428.6" cy="206.4" r="1.8"/>
<circle cx="443.8" cy="211.3" r="1.8"/>
<circle cx="401.8" cy="222.7" r="1.8"/>
<circle cx="409.5" cy="229.1" r="1.8"/>
<circle cx="400.9" cy="233.3" r="1.8"/>
<circle cx="436.9" cy="233.3" r="1.8"/>
<circle cx="404" cy="241" r="1.8"/>
<circle cx="398.2" cy="243.3" r="1.8"/>
<circle cx="392.2" cy="244.9" r="1.8"/>
<circle cx="424.8" cy="244.1" r="1.8"/>
<circle cx="425.8" cy="246.7" r="1.8"/>
<circle cx="422.1" cy="250.7" r="1.8"/>
<circle cx="436.1" cy="251.7" r="1.8"/>
<circle cx="411.6" cy="258.8" r="1.8"/>
<circle cx="374.1" cy="271.5" r="1.8"/>
<circle cx="412.3" cy="271.6" r="1.8"/>
<circle cx="429.4" cy="271.6" r="1.8"/>
<circle cx="435.3" cy="271.6" r="1.8"/>
<circle cx="370.5" cy="277.5" r="1.8"/>
<circle cx="394.3" cy="276.9" r="1.8"/>
<circle cx="445.1" cy="279.9" r="1.8"/>
<circle cx="390.6" cy="281.7" r="1.8"/>
<circle cx="396.8" cy="281.6" r="1.8"/>
<circle cx="399.9" cy="281.6" r="1.8"/>
<circle cx="402.6" cy="281.9" r="1.8"/>
<circle cx="409.6" cy="281.9" r="1.8"/>
<circle cx="425" cy="281.9" r="1.8"/>
<circle cx="431.8" cy="281.6" r="1.8"/>
<circle cx="384.5" cy="285.8" r="1.8"/>
<circle cx="386.3" cy="286.1" r="1.8"/>
<circle cx="384.5" cy="287.5" r="1.8"/>
<circle cx="403.3" cy="285.8" r="1.8"/>
<circle cx="420.4" cy="285.8" r="1.8"/>
<circle cx="396.3" cy="287" r="1.8"/>
<circle cx="395.6" cy="288.4" r="1.8"/>
<circle cx="434.8" cy="287.5" r="1.8"/>
<circle cx="439.2" cy="287.9" r="1.8"/>
<circle cx="440.9" cy="286.1" r="1.8"/>
<circle cx="443.7" cy="288" r="1.8"/>
<circle cx="367.5" cy="291.9" r="1.8"/>
<circle cx="370.9" cy="292.4" r="1.8"/>
<circle cx="391.2" cy="292.4" r="1.8"/>
<circle cx="396.3" cy="292.4" r="1.8"/>
<circle cx="409.6" cy="290.7" r="1.8"/>
<circle cx="410.4" cy="292.4" r="1.8"/>
<circle cx="442.3" cy="293.7" r="1.8"/>
<circle cx="386.6" cy="295.4" r="1.8"/>
<circle cx="391" cy="295.9" r="1.8"/>
<circle cx="412.2" cy="296.1" r="1.8"/>
<circle cx="386.3" cy="300.1" r="1.8"/>
<circle cx="398.2" cy="300.1" r="1.8"/>
<circle cx="399.9" cy="300.8" r="1.8"/>
<circle cx="408.2" cy="301" r="1.8"/>
<circle cx="423.4" cy="300.1" r="1.8"/>
<circle cx="412.2" cy="304.2" r="1.8"/>
<circle cx="366.3" cy="309.1" r="1.8"/>
<circle cx="372.6" cy="309.9" r="1.8"/>
<circle cx="374.9" cy="307.7" r="1.8"/>
<circle cx="380.1" cy="309.9" r="1.8"/>
<circle cx="384.5" cy="310.8" r="1.8"/>
<circle cx="394.3" cy="306.8" r="1.8"/>
<circle cx="393.6" cy="309.4" r="1.8"/>
<circle cx="395.9" cy="309.1" r="1.8"/>
<circle cx="407.3" cy="306.4" r="1.8"/>
<circle cx="408.2" cy="308.9" r="1.8"/>
<circle cx="409.6" cy="309.9" r="1.8"/>
<circle cx="411.7" cy="308.9" r="1.8"/>
<circle cx="414.6" cy="307.3" r="1.8"/>
<circle cx="418.7" cy="306.4" r="1.8"/>
<circle cx="421.3" cy="309.9" r="1.8"/>
<circle cx="461.1" cy="309.1" r="1.8"/>
<circle cx="478" cy="309.1" r="1.8"/>
<circle cx="390.6" cy="312.6" r="1.8"/>
<circle cx="427.1" cy="313.3" r="1.8"/>
<circle cx="370.5" cy="316.8" r="1.8"/>
<circle cx="376.1" cy="316.1" r="1.8"/>
<circle cx="381.5" cy="316.8" r="1.8"/>
<circle cx="388.5" cy="316.4" r="1.8"/>
<circle cx="396.3" cy="316.1" r="1.8"/>
<circle cx="397.7" cy="316.4" r="1.8"/>
<circle cx="404.7" cy="314.7" r="1.8"/>
<circle cx="408.2" cy="316.9" r="1.8"/>
<circle cx="410.8" cy="315.5" r="1.8"/>
<circle cx="433.2" cy="320.4" r="1.8"/>
<circle cx="415.7" cy="319.9" r="1.8"/>
<circle cx="423.4" cy="322.2" r="1.8"/>
<circle cx="443.6" cy="322.3" r="1.8"/>
<circle cx="448.8" cy="326.1" r="1.8"/>
<circle cx="460.5" cy="326.6" r="1.8"/>
<circle cx="466.9" cy="243.7" r="1.8"/>
<circle cx="504.5" cy="243.7" r="1.8"/>
<circle cx="566.4" cy="326.6" r="1.8"/>
<circle cx="551.2" cy="328.6" r="1.8"/>
<circle cx="486.3" cy="328.6" r="1.8"/>
<circle cx="187.6" cy="284.3" r="1.8"/>
<circle cx="217.7" cy="276.9" r="1.8"/>
<circle cx="253.2" cy="252.1" r="1.8"/>
<circle cx="193.9" cy="328.6" r="1.8"/>
<circle cx="225.4" cy="328.6" r="1.8"/>
<circle cx="249" cy="319.2" r="1.8"/>
<circle cx="259.8" cy="323.4" r="1.8"/>
<circle cx="259.8" cy="326.2" r="1.8"/>
<circle cx="259.8" cy="328.6" r="1.8"/>
<circle cx="266.3" cy="326.2" r="1.8"/>
<circle cx="266.3" cy="328.6" r="1.8"/>
<circle cx="270.7" cy="251.4" r="1.8"/>
<circle cx="264.4" cy="273.6" r="1.8"/>
<circle cx="274.3" cy="273.6" r="1.8"/>
<circle cx="262.3" cy="285.5" r="1.8"/>
<circle cx="272.1" cy="284.1" r="1.8"/>
<circle cx="278.5" cy="288.1" r="1.8"/>
<circle cx="274.7" cy="239.5" r="1.8"/>
<circle cx="281" cy="232.5" r="1.8"/>
<circle cx="281.7" cy="244.2" r="1.8"/>
<circle cx="291.5" cy="244.2" r="1.8"/>
<circle cx="299.3" cy="229.2" r="1.8"/>
<circle cx="301.1" cy="235.3" r="1.8"/>
<circle cx="305.3" cy="236.7" r="1.8"/>
<circle cx="299.7" cy="240.9" r="1.8"/>
<circle cx="302.5" cy="239.5" r="1.8"/>
<circle cx="311.9" cy="226.9" r="1.8"/>
<circle cx="281.7" cy="268.7" r="1.8"/>
<circle cx="284.1" cy="275" r="1.8"/>
<circle cx="294.3" cy="284.1" r="1.8"/>
<circle cx="268.6" cy="310.7" r="1.8"/>
<circle cx="272.4" cy="312.6" r="1.8"/>
<circle cx="281.7" cy="315.2" r="1.8"/>
<circle cx="291.5" cy="313.3" r="1.8"/>
<circle cx="295.7" cy="312.1" r="1.8"/>
<circle cx="298.6" cy="318.5" r="1.8"/>
<circle cx="301.8" cy="235.4" r="1.8"/>
<circle cx="305.7" cy="236.8" r="1.8"/>
<circle cx="302.9" cy="238.9" r="1.8"/>
<circle cx="328.6" cy="237.3" r="1.8"/>
<circle cx="324.1" cy="239.4" r="1.8"/>
<circle cx="327.3" cy="241" r="1.8"/>
<circle cx="317.6" cy="241" r="1.8"/>
<circle cx="327.3" cy="243.1" r="1.8"/>
<circle cx="317.6" cy="244.4" r="1.8"/>
<circle cx="282.1" cy="244.4" r="1.8"/>
<circle cx="291.8" cy="244.4" r="1.8"/>
<circle cx="334.9" cy="250.4" r="1.8"/>
<circle cx="314.4" cy="251.5" r="1.8"/>
<circle cx="334.9" cy="253.8" r="1.8"/>
<circle cx="319.9" cy="254.4" r="1.8"/>
<circle cx="316.5" cy="255.7" r="1.8"/>
<circle cx="328.1" cy="258" r="1.8"/>
<circle cx="329.9" cy="259.3" r="1.8"/>
<circle cx="309.4" cy="258.3" r="1.8"/>
<circle cx="308.4" cy="260.7" r="1.8"/>
<circle cx="334.9" cy="265.9" r="1.8"/>
<circle cx="282.1" cy="268.8" r="1.8"/>
<circle cx="309.7" cy="271.7" r="1.8"/>
<circle cx="312.1" cy="271.7" r="1.8"/>
<circle cx="318.6" cy="271.7" r="1.8"/>
<circle cx="322" cy="271.7" r="1.8"/>
<circle cx="331.5" cy="271.7" r="1.8"/>
<circle cx="334.7" cy="271.7" r="1.8"/>
<circle cx="300" cy="273.3" r="1.8"/>
<circle cx="302.6" cy="273.3" r="1.8"/>
<circle cx="344.4" cy="273.3" r="1.8"/>
<circle cx="284.2" cy="274.9" r="1.8"/>
<circle cx="300" cy="274.9" r="1.8"/>
<circle cx="300" cy="277.2" r="1.8"/>
<circle cx="315.5" cy="275.1" r="1.8"/>
<circle cx="328.9" cy="275.1" r="1.8"/>
<circle cx="332.5" cy="275.1" r="1.8"/>
<circle cx="264" cy="279" r="1.8"/>
<circle cx="271" cy="277.5" r="1.8"/>
<circle cx="278" cy="284" r="1.8"/>
</g>
<g class="ts" fill="#4472c4">
<circle cx="230.8" cy="86.2" r="2.65"/>
<circle cx="259.7" cy="86.2" r="2.65"/>
<circle cx="269" cy="86.2" r="2.65"/>
<circle cx="272" cy="86.2" r="2.65"/>
<circle cx="271.9" cy="86.2" r="2.65"/>
<circle cx="281" cy="86.2" r="2.65"/>
<circle cx="286.6" cy="86.2" r="2.65"/>
<circle cx="288.9" cy="86.2" r="2.65"/>
<circle cx="291.2" cy="86.2" r="2.65"/>
<circle cx="293.5" cy="86.2" r="2.65"/>
<circle cx="295.8" cy="86.2" r="2.65"/>
<circle cx="298.1" cy="86.2" r="2.65"/>
<circle cx="300.4" cy="86.2" r="2.65"/>
<circle cx="302.7" cy="86.2" r="2.65"/>
<circle cx="305" cy="86.2" r="2.65"/>
<circle cx="307.3" cy="86.2" r="2.65"/>
<circle cx="309.6" cy="86.2" r="2.65"/>
<circle cx="311.9" cy="86.2" r="2.65"/>
<circle cx="314.2" cy="86.2" r="2.65"/>
<circle cx="316.5" cy="86.2" r="2.65"/>
<circle cx="411.4" cy="86.2" r="2.65"/>
<circle cx="419.3" cy="86.2" r="2.65"/>
<circle cx="423.6" cy="86.2" r="2.65"/>
<circle cx="434.5" cy="86.2" r="2.65"/>
<circle cx="451.6" cy="86.2" r="2.65"/>
<circle cx="463" cy="86.2" r="2.65"/>
<circle cx="480.6" cy="86.2" r="2.65"/>
<circle cx="297.4" cy="116.1" r="2.65"/>
<circle cx="300.6" cy="116.1" r="2.65"/>
<circle cx="306.4" cy="116.1" r="2.65"/>
<circle cx="309.2" cy="116.1" r="2.65"/>
<circle cx="312.3" cy="116.1" r="2.65"/>
<circle cx="214.3" cy="142" r="2.65"/>
<circle cx="300.1" cy="142" r="2.65"/>
<circle cx="311.5" cy="142" r="2.65"/>
<circle cx="262.1" cy="157.9" r="2.65"/>
<circle cx="304.2" cy="157.9" r="2.65"/>
<circle cx="308.5" cy="157.9" r="2.65"/>
<circle cx="257.5" cy="167.9" r="2.65"/>
<circle cx="312.9" cy="167.9" r="2.65"/>
<circle cx="314.4" cy="167.9" r="2.65"/>
<circle cx="300.1" cy="176.5" r="2.65"/>
<circle cx="444.6" cy="181.7" r="2.65"/>
<circle cx="453.5" cy="181.7" r="2.65"/>
<circle cx="298" cy="187.3" r="2.65"/>
<circle cx="300.8" cy="187.3" r="2.65"/>
<circle cx="279.8" cy="192" r="2.65"/>
<circle cx="265.9" cy="196.3" r="2.65"/>
<circle cx="290.4" cy="196.3" r="2.65"/>
</g>
<g class="ts" fill="#ed7d31">
<circle cx="476.8" cy="86.2" r="2.65"/>
<circle cx="492" cy="86.2" r="2.65"/>
<circle cx="514.9" cy="86.2" r="2.65"/>
</g>
<g class="ts" fill="#00b050">
<circle cx="454.2" cy="86.2" r="2.65"/>
<circle cx="512.1" cy="86.2" r="2.65"/>
</g>
<g class="ts" fill="#ffc000">
<circle cx="241.8" cy="86.2" r="2.65"/>
<circle cx="249.9" cy="86.2" r="2.65"/>
<circle cx="263.9" cy="86.2" r="2.65"/>
<circle cx="284.1" cy="86.2" r="2.65"/>
<circle cx="214.7" cy="192" r="2.65"/>
</g>
<g class="ts" fill="#c969c3">
<circle cx="214.2" cy="86.2" r="2.65"/>
<circle cx="223.2" cy="86.2" r="2.65"/>
<circle cx="245.7" cy="86.2" r="2.65"/>
<circle cx="256" cy="86.2" r="2.65"/>
<circle cx="274.2" cy="142" r="2.65"/>
</g>
<rect x="497.5" y="97.8" width="167.1" height="114.8" fill="#fff" stroke="#5d7078" stroke-width="1.3"/>
<circle cx="517" cy="112.2" r="2.5" fill="#4472c4"/>
<text x="527.3" y="117.4" font-size="14.3">All</text>
<circle cx="517" cy="133" r="2.5" fill="#ed7d31"/>
<text x="527.3" y="138.2" font-size="14.3" font-style="italic">PrpCDR</text>
<circle cx="517" cy="153.8" r="2.5" fill="#00b050"/>
<text x="527.3" y="159" font-size="14.3">Trk system</text>
<circle cx="517" cy="174.6" r="2.5" fill="#ffc000"/>
<text x="527.3" y="179.8" font-size="14.3" font-style="italic">cpsA/lytR/Psr</text>
<circle cx="517" cy="195.4" r="2.5" fill="#c969c3"/>
<text x="527.3" y="200.6" font-size="14.3">Other cell wall genes</text>
<text x="54" y="13.3" font-size="16">a) RIF selection</text>
<text x="42.3" y="36.4" font-size="15.5" text-anchor="end">3</text>
<text x="42.3" y="136" font-size="15.5" text-anchor="end">2</text>
<text x="42.3" y="235.4" font-size="15.5" text-anchor="end">1</text>
<text x="61.9" y="348.9" font-size="15.5" text-anchor="middle">-6</text>
<text x="163.5" y="348.9" font-size="15.5" text-anchor="middle">-4</text>
<text x="266.1" y="348.9" font-size="15.5" text-anchor="middle">-2</text>
<text x="363.9" y="348.9" font-size="15.5" text-anchor="middle">0</text>
<text x="473" y="348.9" font-size="15.5" text-anchor="middle">2</text>
<text x="575.2" y="348.9" font-size="15.5" text-anchor="middle">4</text>
<text x="678.2" y="348.9" font-size="15.5" text-anchor="middle">6</text>
<text x="372.1" y="372" font-size="15.7" text-anchor="middle">Log2 fold change</text>
<text transform="translate(14.6,177.9) rotate(-90)" font-size="15.5" text-anchor="middle">-log10 q value</text>
<g class="g2">
<line x1="60.2" y1="452.4" x2="60.2" y2="754.6"/>
<line x1="147.8" y1="452.4" x2="147.8" y2="754.6"/>
<line x1="235.5" y1="452.4" x2="235.5" y2="754.6"/>
<line x1="323.1" y1="452.4" x2="323.1" y2="754.6"/>
<line x1="410.7" y1="452.4" x2="410.7" y2="754.6"/>
<line x1="498.3" y1="452.4" x2="498.3" y2="754.6"/>
<line x1="586" y1="452.4" x2="586" y2="754.6"/>
<line x1="673.6" y1="452.4" x2="673.6" y2="754.6"/>
<line x1="60.2" y1="754.6" x2="673.6" y2="754.6"/>
<line x1="60.2" y1="721" x2="673.6" y2="721"/>
<line x1="60.2" y1="687.4" x2="673.6" y2="687.4"/>
<line x1="60.2" y1="653.9" x2="673.6" y2="653.9"/>
<line x1="60.2" y1="620.3" x2="673.6" y2="620.3"/>
<line x1="60.2" y1="586.7" x2="673.6" y2="586.7"/>
<line x1="60.2" y1="553.1" x2="673.6" y2="553.1"/>
<line x1="60.2" y1="519.6" x2="673.6" y2="519.6"/>
<line x1="60.2" y1="486" x2="673.6" y2="486"/>
<line x1="60.2" y1="452.4" x2="673.6" y2="452.4"/>
</g>
<g class="bo" fill="#4472c4" fill-opacity=".4" stroke="#4472c4" stroke-opacity=".8" stroke-width=".85">
<circle cx="294.5" cy="518" r="1.35"/>
<circle cx="288.9" cy="526.4" r="1.35"/>
<circle cx="291.8" cy="526.4" r="1.35"/>
<circle cx="290.6" cy="532.9" r="1.35"/>
<circle cx="298" cy="542.7" r="1.35"/>
<circle cx="282.1" cy="562.9" r="1.35"/>
<circle cx="293.3" cy="571.9" r="1.35"/>
<circle cx="355.7" cy="598.5" r="1.35"/>
<circle cx="359.4" cy="615.8" r="1.35"/>
<circle cx="362" cy="614.7" r="1.35"/>
<circle cx="363.9" cy="613.7" r="1.35"/>
<circle cx="355.7" cy="632.8" r="1.35"/>
<circle cx="348.4" cy="641.3" r="1.35"/>
<circle cx="353.4" cy="644.7" r="1.35"/>
<circle cx="358.9" cy="648.9" r="1.35"/>
<circle cx="364.4" cy="657" r="1.35"/>
<circle cx="425.6" cy="679.3" r="1.35"/>
<circle cx="435.6" cy="676.7" r="1.35"/>
<circle cx="441.7" cy="685.1" r="1.35"/>
<circle cx="441.7" cy="687.5" r="1.35"/>
<circle cx="437.7" cy="699.8" r="1.35"/>
<circle cx="444.5" cy="713" r="1.35"/>
<circle cx="480.8" cy="714.3" r="1.35"/>
<circle cx="469" cy="729.5" r="1.35"/>
<circle cx="453.5" cy="732.4" r="1.35"/>
<circle cx="455.8" cy="744.5" r="1.35"/>
<circle cx="457.4" cy="746.3" r="1.35"/>
<circle cx="486.1" cy="746.4" r="1.35"/>
<circle cx="555.4" cy="687.9" r="1.35"/>
<circle cx="611.1" cy="722" r="1.35"/>
<circle cx="525.5" cy="733.4" r="1.35"/>
<circle cx="519.8" cy="747.7" r="1.35"/>
<circle cx="584.2" cy="743.5" r="1.35"/>
<circle cx="433" cy="711.7" r="1.35"/>
<circle cx="429.6" cy="715.6" r="1.35"/>
<circle cx="420" cy="727.6" r="1.35"/>
<circle cx="425.3" cy="725.5" r="1.35"/>
<circle cx="419" cy="740.1" r="1.35"/>
<circle cx="423.1" cy="747" r="1.35"/>
<circle cx="423.1" cy="750.4" r="1.35"/>
<circle cx="420.4" cy="751.7" r="1.35"/>
<circle cx="430.7" cy="732.7" r="1.35"/>
<circle cx="430.7" cy="735.3" r="1.35"/>
<circle cx="431.5" cy="737.5" r="1.35"/>
<circle cx="429.5" cy="749.9" r="1.35"/>
<circle cx="435" cy="720.7" r="1.35"/>
<circle cx="439.9" cy="724.4" r="1.35"/>
<circle cx="439.9" cy="729.8" r="1.35"/>
<circle cx="446.7" cy="737.5" r="1.35"/>
<circle cx="462" cy="753.9" r="1.35"/>
<circle cx="465.7" cy="751.1" r="1.35"/>
<circle cx="203.6" cy="687.6" r="1.35"/>
<circle cx="210.9" cy="667.4" r="1.35"/>
<circle cx="209.5" cy="675.9" r="1.35"/>
<circle cx="216.5" cy="681.5" r="1.35"/>
<circle cx="221.4" cy="683.2" r="1.35"/>
<circle cx="213" cy="687.6" r="1.35"/>
<circle cx="217.3" cy="688.2" r="1.35"/>
<circle cx="226.4" cy="690.5" r="1.35"/>
<circle cx="230.2" cy="687.6" r="1.35"/>
<circle cx="233.7" cy="684.1" r="1.35"/>
<circle cx="222.9" cy="695.5" r="1.35"/>
<circle cx="226.4" cy="695.5" r="1.35"/>
<circle cx="226.4" cy="703.1" r="1.35"/>
<circle cx="236.6" cy="709.5" r="1.35"/>
<circle cx="205.1" cy="728.8" r="1.35"/>
<circle cx="209.5" cy="730.5" r="1.35"/>
<circle cx="220" cy="731.4" r="1.35"/>
<circle cx="211.8" cy="738.1" r="1.35"/>
<circle cx="235.1" cy="732.3" r="1.35"/>
<circle cx="238.5" cy="727.9" r="1.35"/>
<circle cx="112.5" cy="692.8" r="1.35"/>
<circle cx="140" cy="687.6" r="1.35"/>
<circle cx="177" cy="692.8" r="1.35"/>
<circle cx="184.3" cy="683.8" r="1.35"/>
<circle cx="188.1" cy="688.5" r="1.35"/>
<circle cx="190.2" cy="711.5" r="1.35"/>
<circle cx="199.8" cy="703.1" r="1.35"/>
<circle cx="340.7" cy="738.5" r="1.35"/>
<circle cx="335.6" cy="743.4" r="1.35"/>
<circle cx="340.5" cy="750.5" r="1.35"/>
<circle cx="372.1" cy="733.1" r="1.35"/>
<circle cx="383" cy="737.9" r="1.35"/>
<circle cx="297" cy="707.8" r="1.35"/>
<circle cx="265.8" cy="732.5" r="1.35"/>
<circle cx="300.7" cy="733.7" r="1.35"/>
<circle cx="307.1" cy="680.9" r="1.35"/>
<circle cx="317.2" cy="749.5" r="1.35"/>
<circle cx="321.3" cy="748.8" r="1.35"/>
<circle cx="358.8" cy="741.7" r="1.35"/>
<circle cx="320" cy="749.2" r="1.35"/>
<circle cx="313.2" cy="709.1" r="1.35"/>
<circle cx="374" cy="743.8" r="1.35"/>
<circle cx="338.4" cy="752.9" r="1.35"/>
<circle cx="293.7" cy="653.2" r="1.35"/>
<circle cx="405.9" cy="720.8" r="1.35"/>
<circle cx="358" cy="733.8" r="1.35"/>
<circle cx="296.4" cy="661.2" r="1.35"/>
<circle cx="303.9" cy="740.8" r="1.35"/>
<circle cx="305.2" cy="727.2" r="1.35"/>
<circle cx="356.1" cy="747.1" r="1.35"/>
<circle cx="313.7" cy="730.1" r="1.35"/>
<circle cx="289.7" cy="723.2" r="1.35"/>
<circle cx="311" cy="738.9" r="1.35"/>
<circle cx="275.3" cy="743" r="1.35"/>
<circle cx="294.4" cy="706.3" r="1.35"/>
<circle cx="289" cy="604.4" r="1.35"/>
<circle cx="296.6" cy="738.9" r="1.35"/>
<circle cx="333.5" cy="734.5" r="1.35"/>
<circle cx="322.2" cy="753.2" r="1.35"/>
<circle cx="318.7" cy="752.6" r="1.35"/>
<circle cx="293.2" cy="630.1" r="1.35"/>
<circle cx="347" cy="744.7" r="1.35"/>
<circle cx="303.1" cy="738.2" r="1.35"/>
<circle cx="284.2" cy="689.4" r="1.35"/>
<circle cx="291.5" cy="712.8" r="1.35"/>
<circle cx="289.7" cy="613.8" r="1.35"/>
<circle cx="293.7" cy="609.5" r="1.35"/>
<circle cx="309.5" cy="740.7" r="1.35"/>
<circle cx="282" cy="612.3" r="1.35"/>
<circle cx="299.7" cy="602.3" r="1.35"/>
<circle cx="297.6" cy="707" r="1.35"/>
<circle cx="244" cy="705.3" r="1.35"/>
<circle cx="307.7" cy="745.8" r="1.35"/>
<circle cx="314" cy="744.1" r="1.35"/>
<circle cx="324.8" cy="754" r="1.35"/>
<circle cx="337.5" cy="751.6" r="1.35"/>
<circle cx="306" cy="745.6" r="1.35"/>
<circle cx="271.3" cy="673.5" r="1.35"/>
<circle cx="347.7" cy="746.4" r="1.35"/>
<circle cx="296.6" cy="720.3" r="1.35"/>
<circle cx="284.3" cy="696.3" r="1.35"/>
<circle cx="363.6" cy="688.2" r="1.35"/>
<circle cx="305.8" cy="715.9" r="1.35"/>
<circle cx="321.7" cy="750.6" r="1.35"/>
<circle cx="345.9" cy="732.1" r="1.35"/>
<circle cx="337.3" cy="752.5" r="1.35"/>
<circle cx="305.4" cy="732.5" r="1.35"/>
<circle cx="263.1" cy="696.1" r="1.35"/>
<circle cx="369.8" cy="744.3" r="1.35"/>
<circle cx="318.6" cy="742.7" r="1.35"/>
<circle cx="297.2" cy="727" r="1.35"/>
<circle cx="301.5" cy="716.2" r="1.35"/>
<circle cx="327.7" cy="742.3" r="1.35"/>
<circle cx="320.8" cy="750.2" r="1.35"/>
<circle cx="291.1" cy="632.3" r="1.35"/>
<circle cx="353.3" cy="719.3" r="1.35"/>
<circle cx="290.5" cy="645.5" r="1.35"/>
<circle cx="280.4" cy="706.2" r="1.35"/>
<circle cx="347.6" cy="749.1" r="1.35"/>
<circle cx="321.1" cy="748.7" r="1.35"/>
<circle cx="343.5" cy="733.3" r="1.35"/>
<circle cx="312.1" cy="710.3" r="1.35"/>
<circle cx="393.7" cy="734.4" r="1.35"/>
<circle cx="362.6" cy="693.2" r="1.35"/>
<circle cx="277.9" cy="709.2" r="1.35"/>
<circle cx="293.3" cy="726.5" r="1.35"/>
<circle cx="287.9" cy="652.3" r="1.35"/>
<circle cx="305.7" cy="725.2" r="1.35"/>
<circle cx="322.6" cy="753.2" r="1.35"/>
<circle cx="286.4" cy="697.3" r="1.35"/>
<circle cx="353.1" cy="751.2" r="1.35"/>
<circle cx="301.9" cy="702.3" r="1.35"/>
<circle cx="307.4" cy="748.1" r="1.35"/>
<circle cx="323.6" cy="753.7" r="1.35"/>
<circle cx="274.3" cy="723.8" r="1.35"/>
<circle cx="286.7" cy="600.7" r="1.35"/>
<circle cx="306.6" cy="675.8" r="1.35"/>
<circle cx="368.3" cy="739" r="1.35"/>
<circle cx="314.2" cy="730.6" r="1.35"/>
<circle cx="304.6" cy="732.5" r="1.35"/>
<circle cx="306.5" cy="716.5" r="1.35"/>
<circle cx="289.8" cy="717.7" r="1.35"/>
<circle cx="299.2" cy="706.1" r="1.35"/>
<circle cx="381.7" cy="752" r="1.35"/>
<circle cx="291.1" cy="691.6" r="1.35"/>
<circle cx="352" cy="749.6" r="1.35"/>
<circle cx="393.1" cy="733.4" r="1.35"/>
<circle cx="330.2" cy="730" r="1.35"/>
<circle cx="308.6" cy="753.4" r="1.35"/>
<circle cx="377.7" cy="744" r="1.35"/>
<circle cx="314.7" cy="744.3" r="1.35"/>
<circle cx="318.8" cy="739.8" r="1.35"/>
<circle cx="365.3" cy="751.6" r="1.35"/>
<circle cx="282.4" cy="675.7" r="1.35"/>
<circle cx="289.3" cy="718.2" r="1.35"/>
<circle cx="337.1" cy="749.1" r="1.35"/>
<circle cx="364.6" cy="707.7" r="1.35"/>
<circle cx="283.7" cy="666.2" r="1.35"/>
<circle cx="293.1" cy="702.1" r="1.35"/>
<circle cx="298.2" cy="709.2" r="1.35"/>
<circle cx="298.4" cy="692.7" r="1.35"/>
<circle cx="373.7" cy="745.8" r="1.35"/>
<circle cx="300.4" cy="675.2" r="1.35"/>
<circle cx="304.1" cy="696.8" r="1.35"/>
<circle cx="319.5" cy="752.6" r="1.35"/>
<circle cx="314.6" cy="738.3" r="1.35"/>
<circle cx="324.2" cy="754.4" r="1.35"/>
<circle cx="285.8" cy="682.9" r="1.35"/>
<circle cx="302.2" cy="724.8" r="1.35"/>
<circle cx="304.9" cy="739.7" r="1.35"/>
<circle cx="305.5" cy="650.9" r="1.35"/>
<circle cx="342.8" cy="746.2" r="1.35"/>
<circle cx="296" cy="609.9" r="1.35"/>
<circle cx="304.2" cy="733.8" r="1.35"/>
<circle cx="300.6" cy="645.9" r="1.35"/>
<circle cx="370.4" cy="693.7" r="1.35"/>
<circle cx="338" cy="752.9" r="1.35"/>
<circle cx="298.2" cy="690.7" r="1.35"/>
<circle cx="334.3" cy="750.6" r="1.35"/>
<circle cx="318.5" cy="752.4" r="1.35"/>
<circle cx="355.6" cy="749.5" r="1.35"/>
<circle cx="330.7" cy="749.9" r="1.35"/>
<circle cx="329.7" cy="748.7" r="1.35"/>
<circle cx="348.4" cy="751.4" r="1.35"/>
<circle cx="278.1" cy="707.1" r="1.35"/>
<circle cx="309" cy="742.6" r="1.35"/>
<circle cx="347.2" cy="745.6" r="1.35"/>
<circle cx="298.5" cy="752.3" r="1.35"/>
<circle cx="285.4" cy="717.8" r="1.35"/>
<circle cx="319.9" cy="750.6" r="1.35"/>
<circle cx="292.8" cy="654.9" r="1.35"/>
<circle cx="342.3" cy="728.6" r="1.35"/>
<circle cx="413" cy="706.2" r="1.35"/>
<circle cx="357" cy="746.9" r="1.35"/>
<circle cx="321.6" cy="752.4" r="1.35"/>
<circle cx="262.7" cy="687.1" r="1.35"/>
<circle cx="286.8" cy="738.7" r="1.35"/>
<circle cx="318.5" cy="745.4" r="1.35"/>
<circle cx="304.2" cy="720.5" r="1.35"/>
<circle cx="287.7" cy="669.5" r="1.35"/>
<circle cx="302.9" cy="714.3" r="1.35"/>
<circle cx="327.5" cy="750" r="1.35"/>
<circle cx="371.4" cy="681.7" r="1.35"/>
<circle cx="342.9" cy="731.5" r="1.35"/>
<circle cx="286" cy="688.4" r="1.35"/>
<circle cx="341.8" cy="743.4" r="1.35"/>
<circle cx="359" cy="750.5" r="1.35"/>
<circle cx="337.6" cy="750.3" r="1.35"/>
<circle cx="305.8" cy="723.2" r="1.35"/>
<circle cx="333.3" cy="754" r="1.35"/>
<circle cx="295.8" cy="738.1" r="1.35"/>
<circle cx="390.3" cy="712.9" r="1.35"/>
<circle cx="302.3" cy="728.2" r="1.35"/>
<circle cx="366" cy="730.6" r="1.35"/>
<circle cx="292.2" cy="668.5" r="1.35"/>
<circle cx="327.7" cy="752.7" r="1.35"/>
<circle cx="342.8" cy="745.9" r="1.35"/>
<circle cx="355.4" cy="736" r="1.35"/>
<circle cx="295" cy="752.1" r="1.35"/>
<circle cx="283.2" cy="644.5" r="1.35"/>
<circle cx="370.4" cy="726.1" r="1.35"/>
<circle cx="361.3" cy="749.9" r="1.35"/>
<circle cx="269.7" cy="709.2" r="1.35"/>
<circle cx="351.1" cy="753.3" r="1.35"/>
<circle cx="378.5" cy="738.3" r="1.35"/>
<circle cx="368.8" cy="743.8" r="1.35"/>
<circle cx="302.4" cy="719.6" r="1.35"/>
<circle cx="317.4" cy="748.9" r="1.35"/>
<circle cx="289.1" cy="736" r="1.35"/>
<circle cx="288.4" cy="700" r="1.35"/>
<circle cx="310.6" cy="736.9" r="1.35"/>
<circle cx="299.1" cy="751.1" r="1.35"/>
<circle cx="285.3" cy="668.1" r="1.35"/>
<circle cx="332.5" cy="747.1" r="1.35"/>
<circle cx="348" cy="747.3" r="1.35"/>
<circle cx="303.1" cy="742.3" r="1.35"/>
<circle cx="328" cy="753.5" r="1.35"/>
<circle cx="340.2" cy="752.1" r="1.35"/>
<circle cx="367.2" cy="688.4" r="1.35"/>
<circle cx="350.6" cy="730.5" r="1.35"/>
<circle cx="335.7" cy="750.2" r="1.35"/>
<circle cx="375.5" cy="739.9" r="1.35"/>
<circle cx="360.4" cy="717.3" r="1.35"/>
<circle cx="386.5" cy="745" r="1.35"/>
<circle cx="355.7" cy="683.6" r="1.35"/>
<circle cx="364.6" cy="730.5" r="1.35"/>
<circle cx="312.8" cy="722.7" r="1.35"/>
<circle cx="327.3" cy="751" r="1.35"/>
<circle cx="286.9" cy="643.2" r="1.35"/>
<circle cx="334.4" cy="733.8" r="1.35"/>
<circle cx="312" cy="744.2" r="1.35"/>
<circle cx="364.7" cy="685.8" r="1.35"/>
<circle cx="278.9" cy="689.5" r="1.35"/>
<circle cx="339.7" cy="752.2" r="1.35"/>
<circle cx="367.2" cy="715" r="1.35"/>
<circle cx="316.3" cy="745.7" r="1.35"/>
<circle cx="283.2" cy="602.3" r="1.35"/>
<circle cx="361.1" cy="744.9" r="1.35"/>
<circle cx="282.8" cy="627.7" r="1.35"/>
<circle cx="338.5" cy="750.8" r="1.35"/>
<circle cx="339.8" cy="733" r="1.35"/>
<circle cx="334.8" cy="749.9" r="1.35"/>
<circle cx="292.6" cy="691.5" r="1.35"/>
<circle cx="322.7" cy="754.4" r="1.35"/>
<circle cx="271.2" cy="710.7" r="1.35"/>
<circle cx="332.4" cy="749.2" r="1.35"/>
<circle cx="270.6" cy="680.9" r="1.35"/>
<circle cx="318.7" cy="752.9" r="1.35"/>
<circle cx="290.2" cy="657.3" r="1.35"/>
<circle cx="288.4" cy="704.4" r="1.35"/>
<circle cx="285" cy="747.9" r="1.35"/>
<circle cx="292.7" cy="718.3" r="1.35"/>
<circle cx="302" cy="719.9" r="1.35"/>
<circle cx="306.3" cy="741.1" r="1.35"/>
<circle cx="344.3" cy="747.6" r="1.35"/>
<circle cx="299.7" cy="628.4" r="1.35"/>
<circle cx="361.2" cy="751" r="1.35"/>
<circle cx="277.6" cy="684.8" r="1.35"/>
<circle cx="320" cy="750" r="1.35"/>
<circle cx="327.8" cy="752.6" r="1.35"/>
<circle cx="263.5" cy="748.3" r="1.35"/>
<circle cx="282.9" cy="705.9" r="1.35"/>
<circle cx="371.4" cy="750.3" r="1.35"/>
<circle cx="315.2" cy="742.8" r="1.35"/>
<circle cx="283.9" cy="620" r="1.35"/>
<circle cx="304.5" cy="738.6" r="1.35"/>
<circle cx="389.3" cy="747.6" r="1.35"/>
<circle cx="382.5" cy="744.8" r="1.35"/>
<circle cx="278.8" cy="747.2" r="1.35"/>
<circle cx="304.2" cy="743.9" r="1.35"/>
<circle cx="337.2" cy="746.4" r="1.35"/>
<circle cx="292.6" cy="684.1" r="1.35"/>
<circle cx="276.7" cy="698.8" r="1.35"/>
<circle cx="406" cy="737.8" r="1.35"/>
<circle cx="357.5" cy="724.2" r="1.35"/>
<circle cx="340.6" cy="747.8" r="1.35"/>
<circle cx="303.7" cy="752.7" r="1.35"/>
<circle cx="347.5" cy="747.6" r="1.35"/>
<circle cx="380.8" cy="736" r="1.35"/>
<circle cx="306.9" cy="731.9" r="1.35"/>
<circle cx="257.9" cy="739.7" r="1.35"/>
<circle cx="310.8" cy="744.2" r="1.35"/>
<circle cx="346.2" cy="744" r="1.35"/>
<circle cx="300.9" cy="726.5" r="1.35"/>
<circle cx="299.5" cy="703" r="1.35"/>
<circle cx="263.9" cy="690.2" r="1.35"/>
<circle cx="290.9" cy="722.3" r="1.35"/>
<circle cx="369.3" cy="726.2" r="1.35"/>
<circle cx="369.8" cy="740.3" r="1.35"/>
<circle cx="330.8" cy="745.6" r="1.35"/>
<circle cx="313.9" cy="745.8" r="1.35"/>
<circle cx="351.3" cy="724.7" r="1.35"/>
<circle cx="300.9" cy="708.9" r="1.35"/>
<circle cx="283" cy="654.7" r="1.35"/>
<circle cx="324.8" cy="754.4" r="1.35"/>
<circle cx="300.3" cy="654.7" r="1.35"/>
<circle cx="351.4" cy="741.7" r="1.35"/>
<circle cx="389.3" cy="718.8" r="1.35"/>
<circle cx="290.2" cy="582.1" r="1.35"/>
<circle cx="314" cy="736.7" r="1.35"/>
<circle cx="276.9" cy="724.4" r="1.35"/>
<circle cx="279.5" cy="683.2" r="1.35"/>
<circle cx="316.2" cy="739.2" r="1.35"/>
<circle cx="321.8" cy="752.7" r="1.35"/>
<circle cx="312.1" cy="726.5" r="1.35"/>
<circle cx="311.8" cy="735.5" r="1.35"/>
<circle cx="293.1" cy="716.4" r="1.35"/>
<circle cx="367.3" cy="747.6" r="1.35"/>
<circle cx="365.9" cy="752.3" r="1.35"/>
<circle cx="248.9" cy="704.8" r="1.35"/>
<circle cx="284.1" cy="728.3" r="1.35"/>
<circle cx="282.6" cy="719.4" r="1.35"/>
<circle cx="367.9" cy="668.9" r="1.35"/>
<circle cx="352.5" cy="752" r="1.35"/>
<circle cx="298.2" cy="747.3" r="1.35"/>
<circle cx="327" cy="753.2" r="1.35"/>
<circle cx="308.8" cy="731" r="1.35"/>
<circle cx="305.7" cy="744.8" r="1.35"/>
<circle cx="365.7" cy="743.4" r="1.35"/>
<circle cx="290.7" cy="704.1" r="1.35"/>
<circle cx="280.3" cy="721.6" r="1.35"/>
<circle cx="364.9" cy="745.1" r="1.35"/>
<circle cx="323.7" cy="753.7" r="1.35"/>
<circle cx="300.8" cy="728.5" r="1.35"/>
<circle cx="355.7" cy="721.6" r="1.35"/>
<circle cx="297.4" cy="729.7" r="1.35"/>
<circle cx="266.3" cy="687.8" r="1.35"/>
<circle cx="316.1" cy="739.3" r="1.35"/>
<circle cx="367.4" cy="742.8" r="1.35"/>
<circle cx="359.8" cy="722.9" r="1.35"/>
<circle cx="301.3" cy="741.6" r="1.35"/>
<circle cx="326.6" cy="752.8" r="1.35"/>
<circle cx="346.1" cy="740.8" r="1.35"/>
<circle cx="305.2" cy="729.4" r="1.35"/>
<circle cx="296.4" cy="669.7" r="1.35"/>
<circle cx="381" cy="688.7" r="1.35"/>
<circle cx="365.1" cy="738.4" r="1.35"/>
<circle cx="282.5" cy="675.6" r="1.35"/>
<circle cx="299.2" cy="707.6" r="1.35"/>
<circle cx="338" cy="753.8" r="1.35"/>
<circle cx="306.1" cy="711.4" r="1.35"/>
<circle cx="277.7" cy="692.5" r="1.35"/>
<circle cx="357.4" cy="737.7" r="1.35"/>
<circle cx="347.4" cy="744.1" r="1.35"/>
<circle cx="253.6" cy="692.8" r="1.35"/>
<circle cx="344.2" cy="749.4" r="1.35"/>
<circle cx="310.4" cy="723.4" r="1.35"/>
<circle cx="353.9" cy="722.4" r="1.35"/>
<circle cx="392.6" cy="694.3" r="1.35"/>
<circle cx="343.1" cy="739.3" r="1.35"/>
<circle cx="303.1" cy="710.6" r="1.35"/>
<circle cx="285.2" cy="729" r="1.35"/>
<circle cx="377.1" cy="683.4" r="1.35"/>
<circle cx="371" cy="735.5" r="1.35"/>
<circle cx="315.8" cy="736.9" r="1.35"/>
<circle cx="324.2" cy="754" r="1.35"/>
<circle cx="344.1" cy="746.7" r="1.35"/>
<circle cx="308.5" cy="742.9" r="1.35"/>
<circle cx="321" cy="754" r="1.35"/>
<circle cx="295.5" cy="714.4" r="1.35"/>
<circle cx="354.1" cy="733.8" r="1.35"/>
<circle cx="308" cy="679.1" r="1.35"/>
<circle cx="294" cy="717.4" r="1.35"/>
<circle cx="298.4" cy="697" r="1.35"/>
<circle cx="297.8" cy="715.2" r="1.35"/>
<circle cx="309.9" cy="753.1" r="1.35"/>
<circle cx="297.2" cy="658.4" r="1.35"/>
<circle cx="308.5" cy="715.4" r="1.35"/>
<circle cx="299.2" cy="732.2" r="1.35"/>
<circle cx="290.4" cy="619.4" r="1.35"/>
<circle cx="329.7" cy="751" r="1.35"/>
<circle cx="399.6" cy="724.3" r="1.35"/>
<circle cx="274.2" cy="675.4" r="1.35"/>
<circle cx="324.1" cy="753" r="1.35"/>
<circle cx="295.8" cy="730.5" r="1.35"/>
<circle cx="345.4" cy="752.9" r="1.35"/>
<circle cx="308.4" cy="718.7" r="1.35"/>
<circle cx="355.9" cy="729.7" r="1.35"/>
<circle cx="307.7" cy="696" r="1.35"/>
<circle cx="342.6" cy="749.4" r="1.35"/>
<circle cx="316.9" cy="745.4" r="1.35"/>
<circle cx="357.3" cy="722.4" r="1.35"/>
<circle cx="366.7" cy="731.7" r="1.35"/>
<circle cx="276.6" cy="747" r="1.35"/>
<circle cx="279.5" cy="654.9" r="1.35"/>
<circle cx="338.2" cy="753.6" r="1.35"/>
<circle cx="340.3" cy="741" r="1.35"/>
<circle cx="282.6" cy="744.3" r="1.35"/>
<circle cx="330.9" cy="751.6" r="1.35"/>
<circle cx="344.6" cy="732" r="1.35"/>
<circle cx="294.7" cy="722.9" r="1.35"/>
<circle cx="352.4" cy="712.9" r="1.35"/>
<circle cx="279.5" cy="653" r="1.35"/>
<circle cx="313" cy="715.8" r="1.35"/>
<circle cx="317.7" cy="745.9" r="1.35"/>
<circle cx="318.8" cy="740" r="1.35"/>
<circle cx="308.4" cy="752.1" r="1.35"/>
<circle cx="347.2" cy="743.4" r="1.35"/>
<circle cx="338.8" cy="737.9" r="1.35"/>
<circle cx="316.6" cy="749" r="1.35"/>
<circle cx="288" cy="599.5" r="1.35"/>
<circle cx="291.2" cy="642.3" r="1.35"/>
<circle cx="322.1" cy="753" r="1.35"/>
<circle cx="336.1" cy="740.4" r="1.35"/>
<circle cx="293.9" cy="712.2" r="1.35"/>
<circle cx="326.3" cy="748.4" r="1.35"/>
<circle cx="370.1" cy="729.1" r="1.35"/>
<circle cx="264.2" cy="744.5" r="1.35"/>
<circle cx="318.9" cy="746.3" r="1.35"/>
<circle cx="378.7" cy="714" r="1.35"/>
<circle cx="290.6" cy="657.7" r="1.35"/>
<circle cx="342.9" cy="726.3" r="1.35"/>
<circle cx="302.2" cy="728.3" r="1.35"/>
<circle cx="305.2" cy="749.7" r="1.35"/>
<circle cx="355.7" cy="747.8" r="1.35"/>
<circle cx="298" cy="728.5" r="1.35"/>
<circle cx="331.1" cy="753.5" r="1.35"/>
<circle cx="283.4" cy="686.5" r="1.35"/>
<circle cx="303.8" cy="710.8" r="1.35"/>
<circle cx="321.2" cy="753.1" r="1.35"/>
<circle cx="320.4" cy="747.6" r="1.35"/>
<circle cx="273.2" cy="720.4" r="1.35"/>
<circle cx="319.6" cy="747.8" r="1.35"/>
<circle cx="365.4" cy="729.6" r="1.35"/>
<circle cx="354.4" cy="744" r="1.35"/>
<circle cx="243.1" cy="703" r="1.35"/>
<circle cx="299.5" cy="698" r="1.35"/>
<circle cx="336.6" cy="744.2" r="1.35"/>
<circle cx="326.7" cy="752.6" r="1.35"/>
<circle cx="297" cy="642.7" r="1.35"/>
<circle cx="325.2" cy="752.1" r="1.35"/>
<circle cx="363.6" cy="742.6" r="1.35"/>
<circle cx="292.3" cy="725.4" r="1.35"/>
<circle cx="314" cy="737.9" r="1.35"/>
<circle cx="351.2" cy="747.7" r="1.35"/>
<circle cx="295.9" cy="692.7" r="1.35"/>
<circle cx="302.9" cy="697" r="1.35"/>
<circle cx="325.4" cy="753.4" r="1.35"/>
<circle cx="382.6" cy="675" r="1.35"/>
<circle cx="356.1" cy="737.7" r="1.35"/>
<circle cx="282.6" cy="594.3" r="1.35"/>
<circle cx="318.2" cy="750.3" r="1.35"/>
<circle cx="383" cy="737.5" r="1.35"/>
<circle cx="282.1" cy="683.4" r="1.35"/>
<circle cx="357.8" cy="720.8" r="1.35"/>
<circle cx="270.8" cy="714.6" r="1.35"/>
<circle cx="283.9" cy="705.2" r="1.35"/>
<circle cx="299.3" cy="688.4" r="1.35"/>
<circle cx="337" cy="751.4" r="1.35"/>
<circle cx="358.3" cy="703.3" r="1.35"/>
<circle cx="345.4" cy="744.6" r="1.35"/>
<circle cx="281.5" cy="639.5" r="1.35"/>
<circle cx="325.2" cy="754.1" r="1.35"/>
<circle cx="321.4" cy="754.3" r="1.35"/>
<circle cx="319.1" cy="744.5" r="1.35"/>
<circle cx="310.2" cy="740.2" r="1.35"/>
<circle cx="311.8" cy="746.9" r="1.35"/>
<circle cx="347.6" cy="724.9" r="1.35"/>
<circle cx="371.8" cy="753.1" r="1.35"/>
<circle cx="283" cy="725.9" r="1.35"/>
<circle cx="290.5" cy="739.1" r="1.35"/>
<circle cx="280.3" cy="598.3" r="1.35"/>
<circle cx="310.5" cy="744.7" r="1.35"/>
<circle cx="292.9" cy="653.8" r="1.35"/>
<circle cx="325.7" cy="752.8" r="1.35"/>
<circle cx="301.7" cy="732.2" r="1.35"/>
<circle cx="307.2" cy="751.1" r="1.35"/>
<circle cx="280.7" cy="702.2" r="1.35"/>
<circle cx="295.8" cy="738.6" r="1.35"/>
<circle cx="326.5" cy="753.2" r="1.35"/>
<circle cx="286.9" cy="627.3" r="1.35"/>
<circle cx="296.2" cy="718.3" r="1.35"/>
<circle cx="298.5" cy="615.2" r="1.35"/>
<circle cx="294" cy="728.8" r="1.35"/>
<circle cx="319.9" cy="751.7" r="1.35"/>
<circle cx="279.3" cy="602.9" r="1.35"/>
<circle cx="296.8" cy="707.6" r="1.35"/>
<circle cx="366.4" cy="726.2" r="1.35"/>
<circle cx="350.1" cy="751.1" r="1.35"/>
<circle cx="306.3" cy="742.5" r="1.35"/>
<circle cx="310.9" cy="732.1" r="1.35"/>
<circle cx="307.7" cy="702.3" r="1.35"/>
<circle cx="325.8" cy="752.1" r="1.35"/>
<circle cx="276.8" cy="689.7" r="1.35"/>
<circle cx="352.1" cy="721.7" r="1.35"/>
<circle cx="334.2" cy="704.9" r="1.35"/>
<circle cx="313.9" cy="741.9" r="1.35"/>
<circle cx="404.5" cy="740.7" r="1.35"/>
<circle cx="305.1" cy="723.6" r="1.35"/>
<circle cx="288.4" cy="639.6" r="1.35"/>
<circle cx="309.6" cy="748.5" r="1.35"/>
<circle cx="296.1" cy="695.3" r="1.35"/>
<circle cx="293.4" cy="738.3" r="1.35"/>
<circle cx="373" cy="721.2" r="1.35"/>
<circle cx="290.7" cy="722.4" r="1.35"/>
<circle cx="283.6" cy="699" r="1.35"/>
<circle cx="354.3" cy="746.6" r="1.35"/>
<circle cx="293.6" cy="693.9" r="1.35"/>
<circle cx="342.5" cy="753.3" r="1.35"/>
<circle cx="322.1" cy="754.2" r="1.35"/>
<circle cx="288.2" cy="734.3" r="1.35"/>
<circle cx="322.3" cy="754.4" r="1.35"/>
<circle cx="354.4" cy="739.9" r="1.35"/>
<circle cx="287.3" cy="730.1" r="1.35"/>
<circle cx="285.8" cy="656.5" r="1.35"/>
<circle cx="340.7" cy="746.1" r="1.35"/>
<circle cx="297.2" cy="685.2" r="1.35"/>
<circle cx="318.5" cy="749.7" r="1.35"/>
<circle cx="332.5" cy="745.6" r="1.35"/>
<circle cx="293.3" cy="718" r="1.35"/>
<circle cx="357.2" cy="740.1" r="1.35"/>
<circle cx="367.2" cy="741.4" r="1.35"/>
<circle cx="293.6" cy="703.1" r="1.35"/>
<circle cx="263.5" cy="709.3" r="1.35"/>
<circle cx="284.1" cy="647.2" r="1.35"/>
<circle cx="295" cy="606.3" r="1.35"/>
<circle cx="321.1" cy="749.5" r="1.35"/>
<circle cx="332.3" cy="734.7" r="1.35"/>
<circle cx="333.2" cy="741.3" r="1.35"/>
<circle cx="302.3" cy="731.1" r="1.35"/>
<circle cx="343.7" cy="747.7" r="1.35"/>
<circle cx="297.3" cy="747" r="1.35"/>
<circle cx="305.8" cy="732.9" r="1.35"/>
<circle cx="271" cy="744.7" r="1.35"/>
<circle cx="355.9" cy="744.9" r="1.35"/>
<circle cx="296.6" cy="647.5" r="1.35"/>
<circle cx="318.7" cy="750.5" r="1.35"/>
<circle cx="290.8" cy="695.1" r="1.35"/>
<circle cx="326.3" cy="751.5" r="1.35"/>
<circle cx="364.3" cy="746.3" r="1.35"/>
<circle cx="313.2" cy="740.1" r="1.35"/>
<circle cx="283.7" cy="742.4" r="1.35"/>
<circle cx="364.2" cy="732.5" r="1.35"/>
<circle cx="337.5" cy="751.8" r="1.35"/>
<circle cx="391.8" cy="712.5" r="1.35"/>
<circle cx="280.2" cy="752.9" r="1.35"/>
<circle cx="312.7" cy="748.1" r="1.35"/>
<circle cx="321.6" cy="754.6" r="1.35"/>
<circle cx="329.4" cy="748.5" r="1.35"/>
<circle cx="316.4" cy="747.3" r="1.35"/>
<circle cx="333.4" cy="738.7" r="1.35"/>
<circle cx="279.5" cy="722" r="1.35"/>
<circle cx="322" cy="753.4" r="1.35"/>
<circle cx="373.6" cy="730.6" r="1.35"/>
<circle cx="324.8" cy="753.1" r="1.35"/>
<circle cx="302.9" cy="736.6" r="1.35"/>
<circle cx="333.5" cy="746.8" r="1.35"/>
<circle cx="309.6" cy="747.9" r="1.35"/>
<circle cx="343.4" cy="747.9" r="1.35"/>
<circle cx="282.6" cy="695.3" r="1.35"/>
<circle cx="324.4" cy="750.2" r="1.35"/>
<circle cx="299" cy="737.6" r="1.35"/>
<circle cx="268.6" cy="691.3" r="1.35"/>
<circle cx="316.2" cy="748.1" r="1.35"/>
<circle cx="339.4" cy="751.4" r="1.35"/>
<circle cx="319.9" cy="746.5" r="1.35"/>
<circle cx="292.2" cy="729.4" r="1.35"/>
<circle cx="308.8" cy="737" r="1.35"/>
<circle cx="318.9" cy="753.6" r="1.35"/>
<circle cx="321.1" cy="752.3" r="1.35"/>
<circle cx="324" cy="752.9" r="1.35"/>
<circle cx="305.5" cy="723.2" r="1.35"/>
<circle cx="319.8" cy="746.2" r="1.35"/>
<circle cx="314.8" cy="751.9" r="1.35"/>
<circle cx="298.4" cy="736.6" r="1.35"/>
<circle cx="354.8" cy="694" r="1.35"/>
<circle cx="347.2" cy="735.5" r="1.35"/>
<circle cx="354.5" cy="720.1" r="1.35"/>
<circle cx="313.5" cy="738.9" r="1.35"/>
<circle cx="276.4" cy="748.2" r="1.35"/>
<circle cx="335.9" cy="754.2" r="1.35"/>
<circle cx="284.8" cy="731.7" r="1.35"/>
<circle cx="266.9" cy="744.1" r="1.35"/>
<circle cx="368.2" cy="703.8" r="1.35"/>
<circle cx="367.4" cy="726.8" r="1.35"/>
<circle cx="314.5" cy="747.6" r="1.35"/>
<circle cx="287.2" cy="706.1" r="1.35"/>
<circle cx="290.2" cy="602.3" r="1.35"/>
<circle cx="287.9" cy="707.7" r="1.35"/>
<circle cx="315.4" cy="747.1" r="1.35"/>
<circle cx="282.5" cy="740.4" r="1.35"/>
<circle cx="318.2" cy="752.3" r="1.35"/>
<circle cx="285.1" cy="734.1" r="1.35"/>
<circle cx="346.1" cy="748.3" r="1.35"/>
<circle cx="263.4" cy="714.7" r="1.35"/>
<circle cx="371.8" cy="734.9" r="1.35"/>
<circle cx="359" cy="736.9" r="1.35"/>
<circle cx="301.1" cy="735" r="1.35"/>
<circle cx="286.6" cy="574.8" r="1.35"/>
<circle cx="305.6" cy="731.6" r="1.35"/>
<circle cx="349.7" cy="752.1" r="1.35"/>
<circle cx="311.2" cy="733.6" r="1.35"/>
<circle cx="288.2" cy="718.4" r="1.35"/>
<circle cx="333.5" cy="746.6" r="1.35"/>
<circle cx="278.3" cy="740.9" r="1.35"/>
<circle cx="278.7" cy="727.4" r="1.35"/>
<circle cx="279.2" cy="722.8" r="1.35"/>
<circle cx="322.3" cy="752.7" r="1.35"/>
<circle cx="299.2" cy="753.1" r="1.35"/>
<circle cx="294.8" cy="688.9" r="1.35"/>
<circle cx="340.2" cy="673.2" r="1.35"/>
<circle cx="323.1" cy="754.6" r="1.35"/>
<circle cx="303.8" cy="730" r="1.35"/>
<circle cx="358.7" cy="721.1" r="1.35"/>
<circle cx="389.9" cy="691.8" r="1.35"/>
<circle cx="302.3" cy="683.9" r="1.35"/>
<circle cx="279.9" cy="634.2" r="1.35"/>
<circle cx="339.7" cy="723.7" r="1.35"/>
<circle cx="289.9" cy="683.6" r="1.35"/>
<circle cx="290.9" cy="674.7" r="1.35"/>
<circle cx="335.3" cy="748.7" r="1.35"/>
<circle cx="312.1" cy="708.7" r="1.35"/>
<circle cx="339.4" cy="733.4" r="1.35"/>
<circle cx="276.7" cy="726.5" r="1.35"/>
<circle cx="283.4" cy="689.1" r="1.35"/>
<circle cx="314.5" cy="736.2" r="1.35"/>
<circle cx="299.4" cy="739.5" r="1.35"/>
<circle cx="302.9" cy="749.1" r="1.35"/>
<circle cx="303.1" cy="728.4" r="1.35"/>
<circle cx="282.4" cy="671" r="1.35"/>
<circle cx="300.9" cy="689.1" r="1.35"/>
<circle cx="282.2" cy="710" r="1.35"/>
<circle cx="343.8" cy="738.9" r="1.35"/>
<circle cx="277.5" cy="694.3" r="1.35"/>
<circle cx="395.3" cy="730.6" r="1.35"/>
<circle cx="325.2" cy="751.4" r="1.35"/>
<circle cx="364.3" cy="716.7" r="1.35"/>
<circle cx="350.9" cy="731.9" r="1.35"/>
<circle cx="406.5" cy="718.3" r="1.35"/>
<circle cx="401.6" cy="738.9" r="1.35"/>
<circle cx="364.8" cy="735.2" r="1.35"/>
<circle cx="292.3" cy="724.6" r="1.35"/>
<circle cx="338.9" cy="725.1" r="1.35"/>
<circle cx="304.8" cy="727.8" r="1.35"/>
<circle cx="305.9" cy="750.3" r="1.35"/>
<circle cx="320" cy="746.6" r="1.35"/>
<circle cx="366.9" cy="744.1" r="1.35"/>
<circle cx="297.8" cy="678.5" r="1.35"/>
<circle cx="293.9" cy="659.6" r="1.35"/>
<circle cx="288.9" cy="692.2" r="1.35"/>
<circle cx="283" cy="710.3" r="1.35"/>
<circle cx="313" cy="749" r="1.35"/>
<circle cx="332.2" cy="741.5" r="1.35"/>
<circle cx="371.5" cy="749.4" r="1.35"/>
<circle cx="317.9" cy="749.5" r="1.35"/>
<circle cx="351.9" cy="740.8" r="1.35"/>
<circle cx="281.2" cy="679.6" r="1.35"/>
<circle cx="319" cy="743.5" r="1.35"/>
<circle cx="336" cy="750.7" r="1.35"/>
<circle cx="293" cy="693.1" r="1.35"/>
<circle cx="354.1" cy="748.2" r="1.35"/>
<circle cx="350.8" cy="735.6" r="1.35"/>
<circle cx="314.8" cy="748.6" r="1.35"/>
<circle cx="373.7" cy="728.7" r="1.35"/>
<circle cx="295.1" cy="700.8" r="1.35"/>
<circle cx="369.8" cy="703.9" r="1.35"/>
<circle cx="328.5" cy="752.7" r="1.35"/>
<circle cx="358" cy="722" r="1.35"/>
<circle cx="288.9" cy="704.8" r="1.35"/>
<circle cx="326.8" cy="754.4" r="1.35"/>
<circle cx="310.4" cy="723.6" r="1.35"/>
<circle cx="297" cy="740.2" r="1.35"/>
<circle cx="241.7" cy="703.6" r="1.35"/>
<circle cx="300" cy="660.5" r="1.35"/>
<circle cx="331" cy="753.6" r="1.35"/>
<circle cx="351.6" cy="736.6" r="1.35"/>
<circle cx="355.2" cy="738.8" r="1.35"/>
<circle cx="281.9" cy="608.6" r="1.35"/>
<circle cx="359.3" cy="737.9" r="1.35"/>
<circle cx="284.8" cy="656.5" r="1.35"/>
<circle cx="278.7" cy="730.7" r="1.35"/>
<circle cx="281.1" cy="662.9" r="1.35"/>
<circle cx="338.5" cy="746.1" r="1.35"/>
<circle cx="376.1" cy="711.3" r="1.35"/>
<circle cx="336.1" cy="753.5" r="1.35"/>
<circle cx="302.2" cy="720.8" r="1.35"/>
<circle cx="279.7" cy="687.8" r="1.35"/>
<circle cx="293.5" cy="730" r="1.35"/>
<circle cx="284.5" cy="708.5" r="1.35"/>
<circle cx="340.7" cy="751.7" r="1.35"/>
<circle cx="300.8" cy="739.1" r="1.35"/>
<circle cx="357.3" cy="709.2" r="1.35"/>
<circle cx="291.2" cy="628.4" r="1.35"/>
<circle cx="347.3" cy="747.3" r="1.35"/>
<circle cx="316" cy="749.6" r="1.35"/>
<circle cx="304.1" cy="702.6" r="1.35"/>
<circle cx="289.2" cy="692" r="1.35"/>
<circle cx="317.6" cy="753" r="1.35"/>
<circle cx="295.3" cy="641.6" r="1.35"/>
<circle cx="297.8" cy="744.4" r="1.35"/>
<circle cx="308.6" cy="738.2" r="1.35"/>
<circle cx="358.9" cy="747.9" r="1.35"/>
<circle cx="351.9" cy="734.8" r="1.35"/>
<circle cx="292.3" cy="695.5" r="1.35"/>
<circle cx="353.1" cy="742.1" r="1.35"/>
<circle cx="301.9" cy="743.5" r="1.35"/>
<circle cx="378.2" cy="728.7" r="1.35"/>
<circle cx="246.7" cy="695.5" r="1.35"/>
<circle cx="303.1" cy="712.3" r="1.35"/>
<circle cx="359.8" cy="742.7" r="1.35"/>
<circle cx="327.4" cy="751.6" r="1.35"/>
<circle cx="293.6" cy="706.5" r="1.35"/>
<circle cx="364.2" cy="716.8" r="1.35"/>
<circle cx="360.9" cy="752" r="1.35"/>
<circle cx="315" cy="752.4" r="1.35"/>
<circle cx="319.9" cy="751.1" r="1.35"/>
<circle cx="296.9" cy="729.6" r="1.35"/>
<circle cx="309" cy="711.6" r="1.35"/>
<circle cx="334.4" cy="750.3" r="1.35"/>
<circle cx="293.5" cy="646.1" r="1.35"/>
<circle cx="310.9" cy="742.3" r="1.35"/>
<circle cx="291.9" cy="664.1" r="1.35"/>
<circle cx="278" cy="730.8" r="1.35"/>
<circle cx="307.2" cy="736.7" r="1.35"/>
<circle cx="307.2" cy="731.6" r="1.35"/>
<circle cx="307.7" cy="723.2" r="1.35"/>
<circle cx="358.6" cy="718.4" r="1.35"/>
<circle cx="293.2" cy="709.7" r="1.35"/>
<circle cx="329.8" cy="732.9" r="1.35"/>
<circle cx="287.9" cy="718.4" r="1.35"/>
<circle cx="303.8" cy="712.2" r="1.35"/>
<circle cx="309.9" cy="703.7" r="1.35"/>
<circle cx="360.3" cy="752.1" r="1.35"/>
<circle cx="378.5" cy="704.6" r="1.35"/>
<circle cx="339.5" cy="750.8" r="1.35"/>
<circle cx="369.5" cy="718.1" r="1.35"/>
<circle cx="292.1" cy="732.9" r="1.35"/>
<circle cx="339.7" cy="747.4" r="1.35"/>
<circle cx="364.4" cy="748.9" r="1.35"/>
<circle cx="364.7" cy="739.9" r="1.35"/>
<circle cx="299.3" cy="710.5" r="1.35"/>
<circle cx="305.5" cy="718.9" r="1.35"/>
<circle cx="291.8" cy="689.1" r="1.35"/>
<circle cx="322.4" cy="754.3" r="1.35"/>
<circle cx="301.3" cy="732" r="1.35"/>
<circle cx="307" cy="701.2" r="1.35"/>
<circle cx="280.2" cy="702.1" r="1.35"/>
<circle cx="328.2" cy="753.9" r="1.35"/>
<circle cx="277.3" cy="694" r="1.35"/>
<circle cx="341.7" cy="736" r="1.35"/>
<circle cx="338.7" cy="743.3" r="1.35"/>
<circle cx="355.5" cy="737.2" r="1.35"/>
<circle cx="310.5" cy="708.4" r="1.35"/>
<circle cx="294.4" cy="691.1" r="1.35"/>
<circle cx="307.8" cy="750.8" r="1.35"/>
<circle cx="346.7" cy="749.4" r="1.35"/>
<circle cx="302.1" cy="684.4" r="1.35"/>
<circle cx="341.4" cy="749.4" r="1.35"/>
<circle cx="315.1" cy="751.7" r="1.35"/>
<circle cx="372.6" cy="747.6" r="1.35"/>
<circle cx="290.5" cy="728.1" r="1.35"/>
<circle cx="295.8" cy="748.6" r="1.35"/>
<circle cx="362.7" cy="727.7" r="1.35"/>
<circle cx="308.3" cy="732.6" r="1.35"/>
<circle cx="302.9" cy="702.5" r="1.35"/>
<circle cx="352.9" cy="721" r="1.35"/>
<circle cx="341.3" cy="744.2" r="1.35"/>
<circle cx="307" cy="716.5" r="1.35"/>
<circle cx="341.7" cy="748.9" r="1.35"/>
<circle cx="313.2" cy="726.7" r="1.35"/>
<circle cx="312.8" cy="712.3" r="1.35"/>
<circle cx="347.2" cy="749.3" r="1.35"/>
<circle cx="302.5" cy="722.3" r="1.35"/>
<circle cx="336" cy="751.1" r="1.35"/>
<circle cx="307.9" cy="743.7" r="1.35"/>
<circle cx="335.8" cy="743.4" r="1.35"/>
<circle cx="359.5" cy="738.6" r="1.35"/>
<circle cx="293.4" cy="702.1" r="1.35"/>
<circle cx="281.5" cy="616.9" r="1.35"/>
<circle cx="310" cy="742.9" r="1.35"/>
<circle cx="294.4" cy="736.7" r="1.35"/>
<circle cx="324.1" cy="754.3" r="1.35"/>
<circle cx="345.1" cy="747.2" r="1.35"/>
<circle cx="359.4" cy="689.7" r="1.35"/>
<circle cx="315.8" cy="743.9" r="1.35"/>
<circle cx="263.3" cy="712.5" r="1.35"/>
<circle cx="317.7" cy="752.9" r="1.35"/>
<circle cx="261.9" cy="685.6" r="1.35"/>
<circle cx="340.9" cy="679.1" r="1.35"/>
<circle cx="291.9" cy="674.4" r="1.35"/>
<circle cx="304.5" cy="743.7" r="1.35"/>
<circle cx="299.7" cy="721" r="1.35"/>
<circle cx="366" cy="721" r="1.35"/>
<circle cx="369" cy="708.7" r="1.35"/>
<circle cx="294.1" cy="734.2" r="1.35"/>
<circle cx="311.6" cy="741.7" r="1.35"/>
<circle cx="365.1" cy="681" r="1.35"/>
<circle cx="301.3" cy="663.8" r="1.35"/>
<circle cx="286.4" cy="704.2" r="1.35"/>
<circle cx="397" cy="748.8" r="1.35"/>
<circle cx="292.3" cy="704.7" r="1.35"/>
<circle cx="341.6" cy="752.8" r="1.35"/>
<circle cx="285" cy="715.1" r="1.35"/>
<circle cx="346.1" cy="745.4" r="1.35"/>
<circle cx="258.8" cy="687.2" r="1.35"/>
<circle cx="303.1" cy="711.3" r="1.35"/>
<circle cx="325" cy="754.6" r="1.35"/>
<circle cx="287.6" cy="713.9" r="1.35"/>
<circle cx="298.2" cy="740.8" r="1.35"/>
<circle cx="324.5" cy="754.6" r="1.35"/>
<circle cx="371.3" cy="749.9" r="1.35"/>
<circle cx="314.9" cy="731.6" r="1.35"/>
<circle cx="392.7" cy="739.7" r="1.35"/>
<circle cx="348.5" cy="749.4" r="1.35"/>
<circle cx="330" cy="729" r="1.35"/>
<circle cx="349.4" cy="739.7" r="1.35"/>
<circle cx="285" cy="690.7" r="1.35"/>
<circle cx="334.2" cy="751" r="1.35"/>
<circle cx="287" cy="654.8" r="1.35"/>
<circle cx="375.8" cy="745.4" r="1.35"/>
<circle cx="280.7" cy="719.8" r="1.35"/>
<circle cx="337.3" cy="750.3" r="1.35"/>
<circle cx="346.4" cy="746.6" r="1.35"/>
<circle cx="347.8" cy="736.6" r="1.35"/>
<circle cx="317.5" cy="745.8" r="1.35"/>
<circle cx="288.1" cy="747.6" r="1.35"/>
<circle cx="313.6" cy="750.1" r="1.35"/>
<circle cx="355.3" cy="742.2" r="1.35"/>
<circle cx="365.6" cy="725.4" r="1.35"/>
<circle cx="315.6" cy="742.7" r="1.35"/>
<circle cx="374.7" cy="685.9" r="1.35"/>
<circle cx="348.7" cy="749.8" r="1.35"/>
<circle cx="330.1" cy="750.4" r="1.35"/>
<circle cx="342.4" cy="747.5" r="1.35"/>
<circle cx="307.5" cy="745.3" r="1.35"/>
<circle cx="301.7" cy="699.4" r="1.35"/>
<circle cx="270.3" cy="671.2" r="1.35"/>
<circle cx="348.3" cy="746.5" r="1.35"/>
<circle cx="287.1" cy="698.5" r="1.35"/>
<circle cx="288.9" cy="704.7" r="1.35"/>
<circle cx="318.4" cy="750.6" r="1.35"/>
<circle cx="285.2" cy="704.9" r="1.35"/>
<circle cx="288.9" cy="722.7" r="1.35"/>
<circle cx="281.1" cy="731.7" r="1.35"/>
<circle cx="380.1" cy="743.5" r="1.35"/>
<circle cx="300.5" cy="681.2" r="1.35"/>
<circle cx="293.2" cy="660.1" r="1.35"/>
<circle cx="332.7" cy="740.9" r="1.35"/>
<circle cx="306.9" cy="752.7" r="1.35"/>
<circle cx="408.3" cy="735.7" r="1.35"/>
<circle cx="308.2" cy="743.9" r="1.35"/>
<circle cx="334.7" cy="747.3" r="1.35"/>
<circle cx="376.2" cy="709.7" r="1.35"/>
<circle cx="388.1" cy="752.9" r="1.35"/>
<circle cx="322.6" cy="754.6" r="1.35"/>
<circle cx="367.8" cy="749.6" r="1.35"/>
<circle cx="274.8" cy="736.9" r="1.35"/>
<circle cx="311" cy="742.9" r="1.35"/>
<circle cx="381.9" cy="711.1" r="1.35"/>
<circle cx="313.7" cy="744.8" r="1.35"/>
<circle cx="350.2" cy="738" r="1.35"/>
<circle cx="301.6" cy="653.8" r="1.35"/>
<circle cx="261.9" cy="676.7" r="1.35"/>
<circle cx="356" cy="717.9" r="1.35"/>
<circle cx="325.7" cy="753.7" r="1.35"/>
<circle cx="293.6" cy="717" r="1.35"/>
<circle cx="326.8" cy="750.5" r="1.35"/>
<circle cx="293.5" cy="721.5" r="1.35"/>
<circle cx="341.9" cy="749.8" r="1.35"/>
<circle cx="318.5" cy="749.1" r="1.35"/>
<circle cx="285.6" cy="724.2" r="1.35"/>
<circle cx="288" cy="747.8" r="1.35"/>
<circle cx="339.1" cy="749.2" r="1.35"/>
<circle cx="349.4" cy="742.5" r="1.35"/>
<circle cx="385.6" cy="744.2" r="1.35"/>
<circle cx="305.5" cy="723" r="1.35"/>
<circle cx="392.1" cy="721.1" r="1.35"/>
<circle cx="343.6" cy="739.7" r="1.35"/>
<circle cx="290.1" cy="713.4" r="1.35"/>
<circle cx="266.1" cy="729.1" r="1.35"/>
<circle cx="354.7" cy="690" r="1.35"/>
<circle cx="318.2" cy="746.3" r="1.35"/>
<circle cx="297.7" cy="739.9" r="1.35"/>
<circle cx="321.3" cy="753.4" r="1.35"/>
<circle cx="371.2" cy="704.9" r="1.35"/>
<circle cx="311.8" cy="745.4" r="1.35"/>
<circle cx="373.2" cy="700.7" r="1.35"/>
<circle cx="298.1" cy="733.8" r="1.35"/>
<circle cx="299.6" cy="749" r="1.35"/>
<circle cx="380.2" cy="731.5" r="1.35"/>
<circle cx="354.5" cy="722.3" r="1.35"/>
<circle cx="287.7" cy="693.1" r="1.35"/>
<circle cx="384.1" cy="738.7" r="1.35"/>
<circle cx="305.5" cy="715.9" r="1.35"/>
<circle cx="373.3" cy="716.6" r="1.35"/>
<circle cx="299.9" cy="750.5" r="1.35"/>
<circle cx="367.7" cy="722.4" r="1.35"/>
<circle cx="307.6" cy="733.3" r="1.35"/>
<circle cx="305.4" cy="718" r="1.35"/>
<circle cx="300.5" cy="739.1" r="1.35"/>
<circle cx="305" cy="734.7" r="1.35"/>
<circle cx="281" cy="658.6" r="1.35"/>
<circle cx="287" cy="664.6" r="1.35"/>
<circle cx="303.7" cy="729.8" r="1.35"/>
<circle cx="291.4" cy="650.4" r="1.35"/>
<circle cx="354.2" cy="737.1" r="1.35"/>
<circle cx="339.8" cy="743.8" r="1.35"/>
<circle cx="346.5" cy="747" r="1.35"/>
<circle cx="302.2" cy="734.3" r="1.35"/>
<circle cx="357.8" cy="742.8" r="1.35"/>
<circle cx="354.4" cy="721.9" r="1.35"/>
<circle cx="304.1" cy="690.7" r="1.35"/>
<circle cx="324.2" cy="753.6" r="1.35"/>
<circle cx="297.6" cy="653.4" r="1.35"/>
<circle cx="300.9" cy="614.1" r="1.35"/>
<circle cx="307.1" cy="704.8" r="1.35"/>
<circle cx="408.5" cy="691.5" r="1.35"/>
<circle cx="302.8" cy="739.1" r="1.35"/>
<circle cx="359.2" cy="680.9" r="1.35"/>
<circle cx="334.8" cy="732.7" r="1.35"/>
<circle cx="393.8" cy="748.3" r="1.35"/>
<circle cx="317.4" cy="752.5" r="1.35"/>
<circle cx="294.5" cy="744.9" r="1.35"/>
<circle cx="338.7" cy="743.7" r="1.35"/>
<circle cx="385.1" cy="725.9" r="1.35"/>
<circle cx="317.7" cy="752" r="1.35"/>
<circle cx="354.9" cy="708.6" r="1.35"/>
<circle cx="349.6" cy="677.7" r="1.35"/>
<circle cx="324" cy="754.4" r="1.35"/>
<circle cx="372.5" cy="744.1" r="1.35"/>
<circle cx="309.4" cy="747" r="1.35"/>
<circle cx="292" cy="633.6" r="1.35"/>
<circle cx="280.8" cy="715.9" r="1.35"/>
<circle cx="304.6" cy="729.4" r="1.35"/>
<circle cx="377.6" cy="719.3" r="1.35"/>
<circle cx="312.6" cy="720.4" r="1.35"/>
<circle cx="325.5" cy="750.3" r="1.35"/>
<circle cx="368.1" cy="746.1" r="1.35"/>
<circle cx="245.8" cy="744.7" r="1.35"/>
<circle cx="316.6" cy="735.9" r="1.35"/>
<circle cx="357.9" cy="742.2" r="1.35"/>
<circle cx="300.8" cy="732.9" r="1.35"/>
<circle cx="296.7" cy="688.5" r="1.35"/>
<circle cx="299.3" cy="722.1" r="1.35"/>
<circle cx="327.7" cy="746.9" r="1.35"/>
<circle cx="317.6" cy="748.9" r="1.35"/>
<circle cx="344.9" cy="751.5" r="1.35"/>
<circle cx="289.1" cy="738.5" r="1.35"/>
<circle cx="292.7" cy="740.9" r="1.35"/>
<circle cx="356.3" cy="749.1" r="1.35"/>
<circle cx="298.2" cy="688.9" r="1.35"/>
<circle cx="310.6" cy="750.4" r="1.35"/>
<circle cx="320.2" cy="752.3" r="1.35"/>
<circle cx="361.3" cy="732.6" r="1.35"/>
<circle cx="331.6" cy="751.7" r="1.35"/>
<circle cx="283" cy="677.1" r="1.35"/>
<circle cx="261.2" cy="688.3" r="1.35"/>
<circle cx="287.7" cy="678.8" r="1.35"/>
<circle cx="259.2" cy="731.9" r="1.35"/>
<circle cx="330.3" cy="735.3" r="1.35"/>
<circle cx="308.6" cy="711.3" r="1.35"/>
<circle cx="350.3" cy="743.4" r="1.35"/>
<circle cx="318.7" cy="752.8" r="1.35"/>
<circle cx="366.7" cy="737.5" r="1.35"/>
<circle cx="303.7" cy="656.3" r="1.35"/>
<circle cx="305.2" cy="729.4" r="1.35"/>
<circle cx="308" cy="740.3" r="1.35"/>
<circle cx="331" cy="751.9" r="1.35"/>
<circle cx="338.6" cy="747.5" r="1.35"/>
<circle cx="320.9" cy="752.8" r="1.35"/>
<circle cx="240.8" cy="689.4" r="1.35"/>
<circle cx="394.8" cy="681.3" r="1.35"/>
<circle cx="332" cy="749.4" r="1.35"/>
<circle cx="307.2" cy="714.1" r="1.35"/>
<circle cx="350" cy="737.9" r="1.35"/>
<circle cx="297.3" cy="691.1" r="1.35"/>
<circle cx="297.2" cy="746.2" r="1.35"/>
<circle cx="304.6" cy="740.1" r="1.35"/>
<circle cx="279.2" cy="668.9" r="1.35"/>
<circle cx="370.4" cy="724.5" r="1.35"/>
<circle cx="304.2" cy="738.6" r="1.35"/>
<circle cx="321" cy="752.2" r="1.35"/>
<circle cx="364.9" cy="724.8" r="1.35"/>
<circle cx="302.8" cy="720" r="1.35"/>
<circle cx="348.6" cy="749" r="1.35"/>
<circle cx="382.5" cy="719.7" r="1.35"/>
<circle cx="308.1" cy="744.4" r="1.35"/>
<circle cx="358.4" cy="742.7" r="1.35"/>
<circle cx="301" cy="712.8" r="1.35"/>
<circle cx="317.3" cy="743.8" r="1.35"/>
<circle cx="307.7" cy="741.8" r="1.35"/>
<circle cx="277.3" cy="718.5" r="1.35"/>
<circle cx="295.8" cy="698.9" r="1.35"/>
<circle cx="340.8" cy="738.3" r="1.35"/>
<circle cx="278.3" cy="698.6" r="1.35"/>
<circle cx="335.6" cy="744" r="1.35"/>
<circle cx="319.3" cy="749.9" r="1.35"/>
<circle cx="356" cy="739.9" r="1.35"/>
<circle cx="354.2" cy="749.3" r="1.35"/>
<circle cx="340.9" cy="739.1" r="1.35"/>
<circle cx="355.3" cy="746.2" r="1.35"/>
<circle cx="340.4" cy="737.9" r="1.35"/>
<circle cx="289.9" cy="631.5" r="1.35"/>
<circle cx="296.1" cy="721.5" r="1.35"/>
<circle cx="331.7" cy="739.4" r="1.35"/>
<circle cx="300.3" cy="710.2" r="1.35"/>
<circle cx="358.6" cy="733.3" r="1.35"/>
<circle cx="377.8" cy="742.4" r="1.35"/>
<circle cx="327" cy="754" r="1.35"/>
<circle cx="306.2" cy="699" r="1.35"/>
<circle cx="330.2" cy="748.5" r="1.35"/>
<circle cx="304.5" cy="721.1" r="1.35"/>
<circle cx="285.3" cy="632.9" r="1.35"/>
<circle cx="369.9" cy="711.9" r="1.35"/>
<circle cx="301.2" cy="724.7" r="1.35"/>
<circle cx="333.4" cy="746.5" r="1.35"/>
<circle cx="291.8" cy="612.7" r="1.35"/>
<circle cx="295.4" cy="721.4" r="1.35"/>
<circle cx="298.8" cy="740.5" r="1.35"/>
<circle cx="286.8" cy="729.1" r="1.35"/>
<circle cx="359.9" cy="739.7" r="1.35"/>
<circle cx="368" cy="736.4" r="1.35"/>
<circle cx="371.8" cy="739.2" r="1.35"/>
<circle cx="311.6" cy="741.3" r="1.35"/>
<circle cx="311.6" cy="713.6" r="1.35"/>
<circle cx="318.5" cy="748.3" r="1.35"/>
<circle cx="291.5" cy="691.9" r="1.35"/>
<circle cx="257.1" cy="709.6" r="1.35"/>
<circle cx="326.9" cy="747.4" r="1.35"/>
<circle cx="364.6" cy="745.9" r="1.35"/>
<circle cx="318.8" cy="739.3" r="1.35"/>
<circle cx="269" cy="739.6" r="1.35"/>
<circle cx="307.7" cy="737.5" r="1.35"/>
<circle cx="294" cy="713.4" r="1.35"/>
<circle cx="320.1" cy="753.6" r="1.35"/>
<circle cx="303.7" cy="707.5" r="1.35"/>
<circle cx="309.3" cy="729.9" r="1.35"/>
<circle cx="301.6" cy="740.7" r="1.35"/>
<circle cx="297.5" cy="724.1" r="1.35"/>
<circle cx="305.6" cy="742.9" r="1.35"/>
<circle cx="306.4" cy="717.9" r="1.35"/>
<circle cx="308.3" cy="737.8" r="1.35"/>
<circle cx="301" cy="712.2" r="1.35"/>
<circle cx="283.2" cy="698.2" r="1.35"/>
<circle cx="282.9" cy="700" r="1.35"/>
<circle cx="293.9" cy="702.7" r="1.35"/>
<circle cx="285.6" cy="690.1" r="1.35"/>
<circle cx="313.9" cy="753.5" r="1.35"/>
<circle cx="308.6" cy="750.1" r="1.35"/>
<circle cx="340.4" cy="751.5" r="1.35"/>
<circle cx="303.2" cy="698.6" r="1.35"/>
<circle cx="327.1" cy="751.7" r="1.35"/>
<circle cx="382.7" cy="725.9" r="1.35"/>
<circle cx="317.5" cy="738.5" r="1.35"/>
<circle cx="279.3" cy="704.1" r="1.35"/>
<circle cx="383.2" cy="705.9" r="1.35"/>
<circle cx="350.5" cy="745.4" r="1.35"/>
<circle cx="319.2" cy="752.7" r="1.35"/>
<circle cx="299.4" cy="736.7" r="1.35"/>
<circle cx="323.1" cy="754.5" r="1.35"/>
<circle cx="289.9" cy="584.2" r="1.35"/>
<circle cx="306" cy="714.6" r="1.35"/>
<circle cx="273.5" cy="688.1" r="1.35"/>
<circle cx="283.7" cy="640.9" r="1.35"/>
<circle cx="339.6" cy="735" r="1.35"/>
<circle cx="346.5" cy="750.1" r="1.35"/>
<circle cx="316.2" cy="749.3" r="1.35"/>
<circle cx="303.5" cy="729.9" r="1.35"/>
<circle cx="329.3" cy="754.2" r="1.35"/>
<circle cx="391" cy="678.6" r="1.35"/>
<circle cx="299.2" cy="704.7" r="1.35"/>
<circle cx="365" cy="735.1" r="1.35"/>
<circle cx="324.4" cy="753.1" r="1.35"/>
<circle cx="291.9" cy="606.8" r="1.35"/>
<circle cx="281.3" cy="697.5" r="1.35"/>
<circle cx="300.1" cy="705.2" r="1.35"/>
<circle cx="287.8" cy="722.2" r="1.35"/>
<circle cx="293.9" cy="708.8" r="1.35"/>
<circle cx="360.4" cy="750" r="1.35"/>
<circle cx="330.4" cy="753.9" r="1.35"/>
<circle cx="401.7" cy="740.7" r="1.35"/>
<circle cx="289" cy="688.4" r="1.35"/>
<circle cx="282.1" cy="636.9" r="1.35"/>
<circle cx="309.7" cy="737.8" r="1.35"/>
<circle cx="395.6" cy="671.3" r="1.35"/>
<circle cx="321.9" cy="753.9" r="1.35"/>
<circle cx="411.7" cy="692" r="1.35"/>
<circle cx="292.5" cy="695.3" r="1.35"/>
<circle cx="361.2" cy="730.1" r="1.35"/>
<circle cx="314.4" cy="735.8" r="1.35"/>
<circle cx="344.5" cy="747.4" r="1.35"/>
<circle cx="293.1" cy="670.6" r="1.35"/>
<circle cx="285.4" cy="736.9" r="1.35"/>
<circle cx="303.9" cy="705" r="1.35"/>
<circle cx="302.9" cy="738.6" r="1.35"/>
<circle cx="338" cy="754.2" r="1.35"/>
<circle cx="318.9" cy="740.2" r="1.35"/>
<circle cx="290.8" cy="700.6" r="1.35"/>
<circle cx="341.2" cy="746.9" r="1.35"/>
<circle cx="364" cy="741.9" r="1.35"/>
<circle cx="321.2" cy="754.2" r="1.35"/>
<circle cx="338.9" cy="744.6" r="1.35"/>
<circle cx="315.3" cy="737.2" r="1.35"/>
<circle cx="304.5" cy="688.4" r="1.35"/>
<circle cx="359" cy="749.2" r="1.35"/>
<circle cx="306.1" cy="729.8" r="1.35"/>
<circle cx="383.3" cy="736.6" r="1.35"/>
<circle cx="343.7" cy="745.2" r="1.35"/>
<circle cx="286.1" cy="734.8" r="1.35"/>
<circle cx="348.9" cy="752.7" r="1.35"/>
<circle cx="312.9" cy="750.8" r="1.35"/>
<circle cx="293" cy="592.1" r="1.35"/>
<circle cx="320.8" cy="752.1" r="1.35"/>
<circle cx="314.6" cy="749.9" r="1.35"/>
<circle cx="303" cy="677.8" r="1.35"/>
<circle cx="356.6" cy="752.7" r="1.35"/>
<circle cx="280.8" cy="636.1" r="1.35"/>
<circle cx="316.5" cy="746.1" r="1.35"/>
<circle cx="320.7" cy="753.9" r="1.35"/>
<circle cx="281.3" cy="658.1" r="1.35"/>
<circle cx="318.3" cy="749.9" r="1.35"/>
<circle cx="279.9" cy="713.6" r="1.35"/>
<circle cx="293.3" cy="687.9" r="1.35"/>
<circle cx="369.3" cy="688.5" r="1.35"/>
<circle cx="369.3" cy="735" r="1.35"/>
<circle cx="337.9" cy="748.4" r="1.35"/>
<circle cx="302.1" cy="727.9" r="1.35"/>
<circle cx="366.8" cy="737.8" r="1.35"/>
<circle cx="341.8" cy="751.9" r="1.35"/>
<circle cx="316.8" cy="743.7" r="1.35"/>
<circle cx="358.5" cy="686.2" r="1.35"/>
<circle cx="315.6" cy="746.3" r="1.35"/>
<circle cx="341.9" cy="753.2" r="1.35"/>
<circle cx="410.2" cy="716.4" r="1.35"/>
<circle cx="343.6" cy="750.7" r="1.35"/>
<circle cx="294" cy="633.8" r="1.35"/>
<circle cx="401.8" cy="698.4" r="1.35"/>
<circle cx="366.3" cy="718.4" r="1.35"/>
<circle cx="315" cy="751.3" r="1.35"/>
<circle cx="299.6" cy="733.6" r="1.35"/>
<circle cx="270.7" cy="680.6" r="1.35"/>
<circle cx="346.2" cy="705.8" r="1.35"/>
<circle cx="340" cy="750.4" r="1.35"/>
<circle cx="304.2" cy="729.4" r="1.35"/>
<circle cx="334.4" cy="752.5" r="1.35"/>
<circle cx="282.1" cy="752.7" r="1.35"/>
<circle cx="301.9" cy="724" r="1.35"/>
<circle cx="403.6" cy="707.9" r="1.35"/>
<circle cx="296" cy="701" r="1.35"/>
<circle cx="277" cy="685" r="1.35"/>
<circle cx="364.7" cy="740.2" r="1.35"/>
<circle cx="293.4" cy="734.6" r="1.35"/>
<circle cx="316" cy="751.6" r="1.35"/>
<circle cx="269.2" cy="680.1" r="1.35"/>
<circle cx="312" cy="749" r="1.35"/>
<circle cx="346.7" cy="745.8" r="1.35"/>
<circle cx="374" cy="748.1" r="1.35"/>
<circle cx="304" cy="664.9" r="1.35"/>
<circle cx="345.6" cy="743.9" r="1.35"/>
<circle cx="298.2" cy="716" r="1.35"/>
<circle cx="306" cy="740.1" r="1.35"/>
<circle cx="367" cy="743.5" r="1.35"/>
<circle cx="342.1" cy="749.4" r="1.35"/>
<circle cx="281.8" cy="672.9" r="1.35"/>
<circle cx="305.3" cy="726.3" r="1.35"/>
<circle cx="355.1" cy="733.7" r="1.35"/>
<circle cx="298" cy="711" r="1.35"/>
<circle cx="331.6" cy="752.4" r="1.35"/>
<circle cx="288.3" cy="685.1" r="1.35"/>
<circle cx="313.1" cy="724.5" r="1.35"/>
<circle cx="271.2" cy="747.2" r="1.35"/>
<circle cx="321.7" cy="753" r="1.35"/>
<circle cx="308.2" cy="716.3" r="1.35"/>
<circle cx="322" cy="753.6" r="1.35"/>
<circle cx="298.3" cy="712.7" r="1.35"/>
<circle cx="297.7" cy="692.4" r="1.35"/>
<circle cx="292.8" cy="716.9" r="1.35"/>
<circle cx="303.9" cy="741.3" r="1.35"/>
<circle cx="344.8" cy="752.4" r="1.35"/>
<circle cx="331" cy="754.1" r="1.35"/>
<circle cx="296.2" cy="745.2" r="1.35"/>
<circle cx="351.7" cy="736.2" r="1.35"/>
<circle cx="385.7" cy="752.3" r="1.35"/>
<circle cx="352" cy="736.8" r="1.35"/>
<circle cx="306.2" cy="744.1" r="1.35"/>
<circle cx="357.3" cy="721.2" r="1.35"/>
<circle cx="358.1" cy="741.1" r="1.35"/>
<circle cx="280.4" cy="698.4" r="1.35"/>
<circle cx="303.4" cy="737.2" r="1.35"/>
<circle cx="344.1" cy="751.4" r="1.35"/>
<circle cx="289" cy="708.6" r="1.35"/>
<circle cx="331" cy="752.6" r="1.35"/>
<circle cx="343.2" cy="743.3" r="1.35"/>
<circle cx="298.2" cy="728.9" r="1.35"/>
<circle cx="282.8" cy="712.2" r="1.35"/>
<circle cx="328.4" cy="753.3" r="1.35"/>
<circle cx="348.5" cy="743.5" r="1.35"/>
<circle cx="280.5" cy="665.6" r="1.35"/>
<circle cx="321.6" cy="754.2" r="1.35"/>
<circle cx="403.2" cy="733.2" r="1.35"/>
<circle cx="305.7" cy="696.5" r="1.35"/>
<circle cx="290.6" cy="683.2" r="1.35"/>
<circle cx="255.8" cy="670.2" r="1.35"/>
<circle cx="304.2" cy="698" r="1.35"/>
<circle cx="295.4" cy="708.8" r="1.35"/>
<circle cx="299.9" cy="724.9" r="1.35"/>
<circle cx="399.3" cy="746.6" r="1.35"/>
<circle cx="294.4" cy="628.8" r="1.35"/>
<circle cx="321.4" cy="753" r="1.35"/>
<circle cx="296.6" cy="677.7" r="1.35"/>
<circle cx="349.5" cy="749.1" r="1.35"/>
<circle cx="368.4" cy="749.5" r="1.35"/>
<circle cx="316.2" cy="744.6" r="1.35"/>
<circle cx="298.3" cy="623.9" r="1.35"/>
<circle cx="300.8" cy="719.2" r="1.35"/>
<circle cx="374.8" cy="726.1" r="1.35"/>
<circle cx="388.4" cy="728.7" r="1.35"/>
<circle cx="287.8" cy="681.3" r="1.35"/>
<circle cx="316.2" cy="751.7" r="1.35"/>
<circle cx="376.4" cy="736.1" r="1.35"/>
<circle cx="249.9" cy="672.5" r="1.35"/>
<circle cx="246.3" cy="727.7" r="1.35"/>
<circle cx="297" cy="716.4" r="1.35"/>
<circle cx="311.4" cy="747.2" r="1.35"/>
<circle cx="372.6" cy="728" r="1.35"/>
<circle cx="317.3" cy="744.9" r="1.35"/>
<circle cx="298.1" cy="692.9" r="1.35"/>
<circle cx="342.1" cy="671.4" r="1.35"/>
<circle cx="302.1" cy="722.5" r="1.35"/>
<circle cx="315.5" cy="740.9" r="1.35"/>
<circle cx="289.4" cy="712" r="1.35"/>
<circle cx="273.2" cy="675.2" r="1.35"/>
<circle cx="342.2" cy="735.4" r="1.35"/>
<circle cx="294.5" cy="735.6" r="1.35"/>
<circle cx="291.6" cy="672.8" r="1.35"/>
<circle cx="324.4" cy="754.1" r="1.35"/>
<circle cx="398.5" cy="681.6" r="1.35"/>
<circle cx="334.2" cy="743.2" r="1.35"/>
<circle cx="322.2" cy="754.4" r="1.35"/>
<circle cx="281.6" cy="602.3" r="1.35"/>
<circle cx="357.9" cy="743.2" r="1.35"/>
<circle cx="293.7" cy="704.8" r="1.35"/>
<circle cx="357.5" cy="745.5" r="1.35"/>
<circle cx="339.2" cy="732.6" r="1.35"/>
<circle cx="357.1" cy="722.2" r="1.35"/>
<circle cx="308.6" cy="752.5" r="1.35"/>
<circle cx="289.8" cy="662.2" r="1.35"/>
<circle cx="295.4" cy="588.8" r="1.35"/>
<circle cx="268.4" cy="719.3" r="1.35"/>
<circle cx="344.8" cy="730.4" r="1.35"/>
<circle cx="302.4" cy="748.4" r="1.35"/>
<circle cx="329.8" cy="745.9" r="1.35"/>
<circle cx="358.3" cy="715.6" r="1.35"/>
<circle cx="315.6" cy="732.3" r="1.35"/>
<circle cx="298.2" cy="713.1" r="1.35"/>
<circle cx="318.9" cy="750" r="1.35"/>
<circle cx="359.8" cy="677.8" r="1.35"/>
<circle cx="342.3" cy="722" r="1.35"/>
<circle cx="287.1" cy="713.7" r="1.35"/>
<circle cx="305.1" cy="735.5" r="1.35"/>
<circle cx="288.8" cy="672.1" r="1.35"/>
<circle cx="335.1" cy="742.8" r="1.35"/>
<circle cx="313.7" cy="749.6" r="1.35"/>
<circle cx="286.4" cy="627.3" r="1.35"/>
<circle cx="289.8" cy="641.9" r="1.35"/>
<circle cx="340.2" cy="745.3" r="1.35"/>
<circle cx="305.9" cy="743.7" r="1.35"/>
<circle cx="288.3" cy="638.4" r="1.35"/>
<circle cx="297.9" cy="714.9" r="1.35"/>
<circle cx="348.3" cy="750.3" r="1.35"/>
<circle cx="339.6" cy="703.4" r="1.35"/>
<circle cx="341.1" cy="747.6" r="1.35"/>
<circle cx="366.2" cy="746.4" r="1.35"/>
<circle cx="301" cy="751.9" r="1.35"/>
<circle cx="290.4" cy="736.6" r="1.35"/>
<circle cx="315.7" cy="739.9" r="1.35"/>
<circle cx="307.4" cy="721.3" r="1.35"/>
<circle cx="311.7" cy="712.3" r="1.35"/>
<circle cx="293.4" cy="732.4" r="1.35"/>
<circle cx="331.4" cy="741.4" r="1.35"/>
<circle cx="312.9" cy="750.6" r="1.35"/>
<circle cx="313.3" cy="724.2" r="1.35"/>
<circle cx="339.1" cy="744.1" r="1.35"/>
<circle cx="343.3" cy="739.3" r="1.35"/>
<circle cx="354.1" cy="743.8" r="1.35"/>
<circle cx="284.5" cy="693.6" r="1.35"/>
<circle cx="315.2" cy="734.9" r="1.35"/>
<circle cx="364.3" cy="740.3" r="1.35"/>
<circle cx="338.2" cy="734.7" r="1.35"/>
<circle cx="298.2" cy="689.7" r="1.35"/>
<circle cx="369.1" cy="732.4" r="1.35"/>
<circle cx="340.9" cy="735.1" r="1.35"/>
<circle cx="261.4" cy="694.8" r="1.35"/>
<circle cx="359.3" cy="743.9" r="1.35"/>
<circle cx="353.6" cy="725.1" r="1.35"/>
<circle cx="317.5" cy="751.9" r="1.35"/>
<circle cx="305.4" cy="705.6" r="1.35"/>
<circle cx="313.8" cy="739.8" r="1.35"/>
<circle cx="322.8" cy="754.6" r="1.35"/>
<circle cx="350.6" cy="753" r="1.35"/>
<circle cx="358.3" cy="726.2" r="1.35"/>
<circle cx="253.1" cy="673.3" r="1.35"/>
<circle cx="365.7" cy="726.6" r="1.35"/>
<circle cx="295.3" cy="723.5" r="1.35"/>
<circle cx="306.3" cy="712.9" r="1.35"/>
<circle cx="350.4" cy="748.6" r="1.35"/>
<circle cx="414.9" cy="735.7" r="1.35"/>
<circle cx="318.6" cy="753.8" r="1.35"/>
<circle cx="357" cy="753.7" r="1.35"/>
<circle cx="260.6" cy="738.3" r="1.35"/>
<circle cx="274.8" cy="680.9" r="1.35"/>
<circle cx="293.4" cy="705.3" r="1.35"/>
<circle cx="357.1" cy="739.7" r="1.35"/>
<circle cx="296.9" cy="726.2" r="1.35"/>
<circle cx="356.1" cy="747" r="1.35"/>
<circle cx="299.2" cy="707.2" r="1.35"/>
<circle cx="345.2" cy="736.5" r="1.35"/>
<circle cx="372.4" cy="736.9" r="1.35"/>
<circle cx="297.3" cy="717.1" r="1.35"/>
<circle cx="305.3" cy="719.7" r="1.35"/>
<circle cx="300.5" cy="731.7" r="1.35"/>
<circle cx="314.8" cy="737.1" r="1.35"/>
<circle cx="281.8" cy="694.8" r="1.35"/>
<circle cx="281.5" cy="679.9" r="1.35"/>
<circle cx="335.4" cy="752.1" r="1.35"/>
<circle cx="310.4" cy="727" r="1.35"/>
<circle cx="357.6" cy="738.4" r="1.35"/>
<circle cx="288.7" cy="715.6" r="1.35"/>
<circle cx="310.6" cy="749.9" r="1.35"/>
<circle cx="322.3" cy="754.1" r="1.35"/>
<circle cx="309.7" cy="725.5" r="1.35"/>
<circle cx="310.2" cy="710.1" r="1.35"/>
<circle cx="333.4" cy="751.9" r="1.35"/>
<circle cx="309.5" cy="739.4" r="1.35"/>
<circle cx="348.7" cy="730.1" r="1.35"/>
<circle cx="355.3" cy="709.9" r="1.35"/>
<circle cx="287.6" cy="699" r="1.35"/>
<circle cx="299.8" cy="741.2" r="1.35"/>
<circle cx="293.8" cy="648.5" r="1.35"/>
<circle cx="273.2" cy="691.4" r="1.35"/>
<circle cx="353.8" cy="689.8" r="1.35"/>
<circle cx="323.7" cy="753.8" r="1.35"/>
<circle cx="350" cy="749.5" r="1.35"/>
<circle cx="334.4" cy="740" r="1.35"/>
<circle cx="297.2" cy="729.8" r="1.35"/>
<circle cx="278.5" cy="707.6" r="1.35"/>
<circle cx="290.2" cy="634.4" r="1.35"/>
<circle cx="296.9" cy="621.2" r="1.35"/>
<circle cx="296.2" cy="751.8" r="1.35"/>
<circle cx="331.5" cy="730.2" r="1.35"/>
<circle cx="381" cy="736.1" r="1.35"/>
<circle cx="304.8" cy="744.2" r="1.35"/>
<circle cx="320.9" cy="748.9" r="1.35"/>
<circle cx="277" cy="708.8" r="1.35"/>
<circle cx="385.2" cy="734.5" r="1.35"/>
<circle cx="291.1" cy="690.2" r="1.35"/>
<circle cx="346.8" cy="751.1" r="1.35"/>
<circle cx="324.9" cy="753.8" r="1.35"/>
<circle cx="280.7" cy="698" r="1.35"/>
<circle cx="341.8" cy="746.5" r="1.35"/>
<circle cx="314.1" cy="747.5" r="1.35"/>
<circle cx="331.4" cy="747.2" r="1.35"/>
<circle cx="345.1" cy="743.3" r="1.35"/>
<circle cx="320.6" cy="753.2" r="1.35"/>
<circle cx="307.8" cy="718.8" r="1.35"/>
<circle cx="303" cy="632.9" r="1.35"/>
<circle cx="286.8" cy="657.4" r="1.35"/>
<circle cx="297.2" cy="716.7" r="1.35"/>
<circle cx="304.4" cy="736.6" r="1.35"/>
<circle cx="304" cy="724.1" r="1.35"/>
<circle cx="314.1" cy="744.1" r="1.35"/>
<circle cx="293.8" cy="659.1" r="1.35"/>
<circle cx="355.6" cy="711.8" r="1.35"/>
<circle cx="316.3" cy="751.5" r="1.35"/>
<circle cx="363.7" cy="731.7" r="1.35"/>
<circle cx="364.4" cy="744.4" r="1.35"/>
<circle cx="370.2" cy="711.8" r="1.35"/>
<circle cx="397.8" cy="736.5" r="1.35"/>
<circle cx="325.6" cy="753.8" r="1.35"/>
<circle cx="308.7" cy="731.6" r="1.35"/>
<circle cx="289.3" cy="659.6" r="1.35"/>
<circle cx="291.4" cy="732.4" r="1.35"/>
<circle cx="331.2" cy="752" r="1.35"/>
<circle cx="298.2" cy="708.4" r="1.35"/>
<circle cx="287.3" cy="601.2" r="1.35"/>
<circle cx="326.2" cy="754.1" r="1.35"/>
<circle cx="380.2" cy="748.2" r="1.35"/>
<circle cx="317.8" cy="743.7" r="1.35"/>
<circle cx="359.5" cy="732.3" r="1.35"/>
<circle cx="344" cy="737.5" r="1.35"/>
<circle cx="319.2" cy="752.3" r="1.35"/>
<circle cx="325.7" cy="754.5" r="1.35"/>
<circle cx="349.7" cy="753.6" r="1.35"/>
<circle cx="326.3" cy="751.8" r="1.35"/>
<circle cx="323.6" cy="753.7" r="1.35"/>
<circle cx="357.7" cy="721.6" r="1.35"/>
<circle cx="349.6" cy="748.5" r="1.35"/>
<circle cx="345.2" cy="721.9" r="1.35"/>
<circle cx="329" cy="748.2" r="1.35"/>
<circle cx="248.5" cy="706" r="1.35"/>
<circle cx="370.6" cy="691.2" r="1.35"/>
<circle cx="348.9" cy="750.2" r="1.35"/>
<circle cx="293.9" cy="726.1" r="1.35"/>
<circle cx="310.5" cy="744.5" r="1.35"/>
<circle cx="287" cy="698.4" r="1.35"/>
<circle cx="289.4" cy="744.8" r="1.35"/>
<circle cx="302.1" cy="714.1" r="1.35"/>
<circle cx="306.7" cy="725.9" r="1.35"/>
<circle cx="369.3" cy="751.4" r="1.35"/>
<circle cx="350.4" cy="725.9" r="1.35"/>
<circle cx="286.6" cy="727" r="1.35"/>
<circle cx="289.9" cy="692.3" r="1.35"/>
<circle cx="311.5" cy="744.1" r="1.35"/>
<circle cx="287.1" cy="655.3" r="1.35"/>
<circle cx="363.5" cy="723.6" r="1.35"/>
<circle cx="346.8" cy="729.6" r="1.35"/>
<circle cx="294.8" cy="731.3" r="1.35"/>
<circle cx="305.4" cy="729.4" r="1.35"/>
<circle cx="302" cy="720.5" r="1.35"/>
<circle cx="287.1" cy="629.7" r="1.35"/>
<circle cx="312.5" cy="713.9" r="1.35"/>
<circle cx="311.5" cy="752" r="1.35"/>
<circle cx="272.3" cy="702.1" r="1.35"/>
<circle cx="313.9" cy="752.2" r="1.35"/>
<circle cx="320.7" cy="752.4" r="1.35"/>
<circle cx="351.5" cy="750.4" r="1.35"/>
<circle cx="335.9" cy="749.8" r="1.35"/>
<circle cx="280.8" cy="666.3" r="1.35"/>
<circle cx="254.5" cy="750.8" r="1.35"/>
<circle cx="379.1" cy="695.3" r="1.35"/>
<circle cx="285.7" cy="643.3" r="1.35"/>
<circle cx="300.3" cy="750.3" r="1.35"/>
<circle cx="312.9" cy="736.2" r="1.35"/>
<circle cx="303.1" cy="715.1" r="1.35"/>
<circle cx="306.6" cy="711.3" r="1.35"/>
<circle cx="327.6" cy="745.6" r="1.35"/>
<circle cx="329.7" cy="739.5" r="1.35"/>
<circle cx="266.6" cy="702.1" r="1.35"/>
<circle cx="344.6" cy="749.7" r="1.35"/>
<circle cx="295.5" cy="685.2" r="1.35"/>
<circle cx="309.7" cy="727.9" r="1.35"/>
<circle cx="357.6" cy="735.2" r="1.35"/>
<circle cx="389.8" cy="743.4" r="1.35"/>
<circle cx="338.5" cy="748.9" r="1.35"/>
<circle cx="288.4" cy="727.1" r="1.35"/>
<circle cx="377.7" cy="693.6" r="1.35"/>
<circle cx="360.1" cy="744.4" r="1.35"/>
<circle cx="283.4" cy="633.3" r="1.35"/>
<circle cx="336.1" cy="741.2" r="1.35"/>
<circle cx="365.3" cy="738.1" r="1.35"/>
<circle cx="302.1" cy="738.4" r="1.35"/>
<circle cx="302.1" cy="649.1" r="1.35"/>
<circle cx="313" cy="740.7" r="1.35"/>
<circle cx="325" cy="752.2" r="1.35"/>
<circle cx="297" cy="727.7" r="1.35"/>
<circle cx="298.7" cy="678.9" r="1.35"/>
<circle cx="271.6" cy="684.8" r="1.35"/>
<circle cx="319.3" cy="751.4" r="1.35"/>
<circle cx="314.8" cy="752.2" r="1.35"/>
<circle cx="305.5" cy="709" r="1.35"/>
<circle cx="356.4" cy="727.9" r="1.35"/>
<circle cx="318.2" cy="751.1" r="1.35"/>
<circle cx="356.3" cy="752.8" r="1.35"/>
<circle cx="271.1" cy="717.5" r="1.35"/>
<circle cx="293.9" cy="725.9" r="1.35"/>
<circle cx="312" cy="722.4" r="1.35"/>
<circle cx="383" cy="712.5" r="1.35"/>
<circle cx="292.9" cy="704" r="1.35"/>
<circle cx="292" cy="644.8" r="1.35"/>
<circle cx="356.5" cy="704.7" r="1.35"/>
<circle cx="343.9" cy="743.2" r="1.35"/>
<circle cx="321.3" cy="752.3" r="1.35"/>
<circle cx="325" cy="752.8" r="1.35"/>
<circle cx="365" cy="726.1" r="1.35"/>
<circle cx="303" cy="737.6" r="1.35"/>
<circle cx="336.1" cy="738.6" r="1.35"/>
<circle cx="370.2" cy="711.2" r="1.35"/>
<circle cx="325.1" cy="753.8" r="1.35"/>
<circle cx="343.7" cy="747" r="1.35"/>
<circle cx="299" cy="660.9" r="1.35"/>
<circle cx="292.6" cy="598.9" r="1.35"/>
<circle cx="288.6" cy="660.1" r="1.35"/>
<circle cx="322.6" cy="754.5" r="1.35"/>
<circle cx="305.8" cy="736.2" r="1.35"/>
<circle cx="289.5" cy="715" r="1.35"/>
<circle cx="396.2" cy="672.9" r="1.35"/>
<circle cx="295.7" cy="678.6" r="1.35"/>
<circle cx="253.6" cy="720.8" r="1.35"/>
<circle cx="291" cy="695.2" r="1.35"/>
<circle cx="310.5" cy="701.1" r="1.35"/>
<circle cx="306.2" cy="710.6" r="1.35"/>
<circle cx="294.9" cy="574.8" r="1.35"/>
<circle cx="282.7" cy="690.5" r="1.35"/>
<circle cx="307" cy="743.1" r="1.35"/>
<circle cx="307.1" cy="736.1" r="1.35"/>
<circle cx="375.8" cy="748.7" r="1.35"/>
<circle cx="353.7" cy="753" r="1.35"/>
<circle cx="287.3" cy="703.4" r="1.35"/>
<circle cx="309.6" cy="720.6" r="1.35"/>
<circle cx="325.1" cy="754.4" r="1.35"/>
<circle cx="290" cy="721.2" r="1.35"/>
<circle cx="415" cy="732.2" r="1.35"/>
<circle cx="305.4" cy="733.6" r="1.35"/>
<circle cx="286.9" cy="656.3" r="1.35"/>
<circle cx="303.1" cy="695.6" r="1.35"/>
<circle cx="300.6" cy="731.4" r="1.35"/>
<circle cx="349.4" cy="737.9" r="1.35"/>
<circle cx="377.1" cy="731.4" r="1.35"/>
<circle cx="291.3" cy="639.6" r="1.35"/>
<circle cx="370.7" cy="723.8" r="1.35"/>
<circle cx="291.7" cy="610.7" r="1.35"/>
<circle cx="324.8" cy="752.9" r="1.35"/>
<circle cx="295.4" cy="664.9" r="1.35"/>
<circle cx="289.1" cy="730.8" r="1.35"/>
<circle cx="296.1" cy="746.6" r="1.35"/>
<circle cx="351.2" cy="747" r="1.35"/>
<circle cx="283.5" cy="696.8" r="1.35"/>
<circle cx="310.2" cy="745.8" r="1.35"/>
<circle cx="281.5" cy="682.3" r="1.35"/>
<circle cx="339.2" cy="749.6" r="1.35"/>
<circle cx="310.9" cy="717.2" r="1.35"/>
<circle cx="302.3" cy="737.7" r="1.35"/>
<circle cx="340" cy="746.8" r="1.35"/>
<circle cx="359.3" cy="743.6" r="1.35"/>
<circle cx="296.1" cy="687.8" r="1.35"/>
<circle cx="379.5" cy="723.2" r="1.35"/>
<circle cx="282.8" cy="720.9" r="1.35"/>
<circle cx="319.4" cy="751.3" r="1.35"/>
<circle cx="313.3" cy="743.3" r="1.35"/>
<circle cx="270.6" cy="720.8" r="1.35"/>
<circle cx="334.3" cy="750.8" r="1.35"/>
<circle cx="323.1" cy="754.8" r="1.35"/>
<circle cx="315.4" cy="732.4" r="1.35"/>
<circle cx="298.6" cy="737.1" r="1.35"/>
<circle cx="360.3" cy="706.9" r="1.35"/>
<circle cx="345.2" cy="713.4" r="1.35"/>
<circle cx="288.9" cy="675" r="1.35"/>
<circle cx="306.4" cy="735.3" r="1.35"/>
<circle cx="255.5" cy="719.3" r="1.35"/>
<circle cx="377.6" cy="715.9" r="1.35"/>
<circle cx="378" cy="733.4" r="1.35"/>
<circle cx="305.6" cy="694.2" r="1.35"/>
<circle cx="309.7" cy="720.6" r="1.35"/>
<circle cx="286.5" cy="718.7" r="1.35"/>
<circle cx="284.8" cy="704.2" r="1.35"/>
<circle cx="334.9" cy="752.4" r="1.35"/>
<circle cx="353.2" cy="732" r="1.35"/>
<circle cx="318.3" cy="754.2" r="1.35"/>
<circle cx="326.2" cy="744.8" r="1.35"/>
<circle cx="265.5" cy="702.9" r="1.35"/>
<circle cx="340.9" cy="747.7" r="1.35"/>
<circle cx="288.3" cy="631.3" r="1.35"/>
<circle cx="374.6" cy="714.4" r="1.35"/>
<circle cx="291" cy="701.4" r="1.35"/>
<circle cx="356.2" cy="709.9" r="1.35"/>
<circle cx="326.4" cy="751.9" r="1.35"/>
<circle cx="321.9" cy="750.1" r="1.35"/>
<circle cx="301" cy="676.5" r="1.35"/>
<circle cx="282.7" cy="616.2" r="1.35"/>
<circle cx="274.3" cy="691.9" r="1.35"/>
<circle cx="374.2" cy="730" r="1.35"/>
<circle cx="303" cy="744.8" r="1.35"/>
<circle cx="342" cy="747" r="1.35"/>
<circle cx="291.5" cy="723.1" r="1.35"/>
<circle cx="349.2" cy="735.1" r="1.35"/>
<circle cx="285.7" cy="678.5" r="1.35"/>
<circle cx="337.3" cy="746.7" r="1.35"/>
<circle cx="293.8" cy="733.8" r="1.35"/>
<circle cx="313.6" cy="741.8" r="1.35"/>
<circle cx="312.4" cy="730.7" r="1.35"/>
<circle cx="336.4" cy="749.3" r="1.35"/>
<circle cx="303" cy="735" r="1.35"/>
<circle cx="297.5" cy="718.7" r="1.35"/>
<circle cx="289.9" cy="679.9" r="1.35"/>
<circle cx="299.2" cy="746" r="1.35"/>
<circle cx="344.8" cy="751.7" r="1.35"/>
<circle cx="373.1" cy="735.8" r="1.35"/>
<circle cx="288.7" cy="601.2" r="1.35"/>
<circle cx="285.3" cy="714" r="1.35"/>
<circle cx="278.4" cy="697.5" r="1.35"/>
<circle cx="363.4" cy="724.1" r="1.35"/>
<circle cx="353.4" cy="737.1" r="1.35"/>
<circle cx="292.1" cy="708.5" r="1.35"/>
<circle cx="294.5" cy="610.7" r="1.35"/>
<circle cx="375.9" cy="719.5" r="1.35"/>
<circle cx="304.9" cy="710.1" r="1.35"/>
<circle cx="269.2" cy="692.1" r="1.35"/>
<circle cx="301.5" cy="716.8" r="1.35"/>
<circle cx="333" cy="729.8" r="1.35"/>
<circle cx="358" cy="744.5" r="1.35"/>
<circle cx="310.4" cy="741" r="1.35"/>
<circle cx="289" cy="725.6" r="1.35"/>
<circle cx="310.1" cy="721.5" r="1.35"/>
<circle cx="271.4" cy="672.5" r="1.35"/>
<circle cx="302.2" cy="728.5" r="1.35"/>
<circle cx="285.4" cy="579.9" r="1.35"/>
<circle cx="284.5" cy="713.4" r="1.35"/>
<circle cx="294.7" cy="714.3" r="1.35"/>
<circle cx="289.4" cy="690.9" r="1.35"/>
<circle cx="338.3" cy="743.6" r="1.35"/>
<circle cx="288.5" cy="720.2" r="1.35"/>
<circle cx="337.4" cy="745.9" r="1.35"/>
<circle cx="306.5" cy="680.1" r="1.35"/>
<circle cx="321.6" cy="754.7" r="1.35"/>
<circle cx="413.1" cy="691.8" r="1.35"/>
<circle cx="337.2" cy="746.1" r="1.35"/>
<circle cx="340.9" cy="746.5" r="1.35"/>
<circle cx="373.8" cy="739.4" r="1.35"/>
<circle cx="396.3" cy="725.9" r="1.35"/>
<circle cx="303.2" cy="721.8" r="1.35"/>
<circle cx="251.5" cy="668.6" r="1.35"/>
<circle cx="260.8" cy="680.7" r="1.35"/>
<circle cx="364" cy="747.4" r="1.35"/>
<circle cx="267.9" cy="717.4" r="1.35"/>
<circle cx="390.4" cy="728.1" r="1.35"/>
<circle cx="301.4" cy="695.2" r="1.35"/>
<circle cx="380" cy="747.5" r="1.35"/>
<circle cx="354.5" cy="744.4" r="1.35"/>
<circle cx="353.1" cy="729.3" r="1.35"/>
<circle cx="341.4" cy="741.2" r="1.35"/>
<circle cx="367.4" cy="723.1" r="1.35"/>
<circle cx="334.4" cy="719.7" r="1.35"/>
<circle cx="306.3" cy="717.6" r="1.35"/>
<circle cx="299" cy="733.3" r="1.35"/>
<circle cx="288.5" cy="615.9" r="1.35"/>
<circle cx="303.7" cy="714.1" r="1.35"/>
<circle cx="328.8" cy="749.7" r="1.35"/>
<circle cx="352.1" cy="740.9" r="1.35"/>
<circle cx="409.1" cy="749" r="1.35"/>
<circle cx="303" cy="734" r="1.35"/>
<circle cx="313.7" cy="739.2" r="1.35"/>
<circle cx="342.2" cy="746.7" r="1.35"/>
<circle cx="357.2" cy="746.1" r="1.35"/>
<circle cx="367.5" cy="747.2" r="1.35"/>
<circle cx="335.9" cy="741.7" r="1.35"/>
<circle cx="301.5" cy="727.8" r="1.35"/>
<circle cx="314.4" cy="747.6" r="1.35"/>
<circle cx="295.5" cy="706.4" r="1.35"/>
<circle cx="346.8" cy="732.1" r="1.35"/>
<circle cx="346.7" cy="732.4" r="1.35"/>
<circle cx="375.4" cy="750.5" r="1.35"/>
<circle cx="281" cy="702.8" r="1.35"/>
<circle cx="328.8" cy="751.2" r="1.35"/>
<circle cx="291.8" cy="690.6" r="1.35"/>
<circle cx="310.2" cy="749.3" r="1.35"/>
<circle cx="290" cy="656.5" r="1.35"/>
<circle cx="276" cy="675.3" r="1.35"/>
<circle cx="293.6" cy="735.6" r="1.35"/>
<circle cx="306.6" cy="691.1" r="1.35"/>
<circle cx="283.1" cy="736.6" r="1.35"/>
<circle cx="316.1" cy="741.3" r="1.35"/>
<circle cx="277.1" cy="699.1" r="1.35"/>
<circle cx="281" cy="627.7" r="1.35"/>
<circle cx="289" cy="688.2" r="1.35"/>
<circle cx="395.1" cy="731" r="1.35"/>
<circle cx="257.5" cy="677.2" r="1.35"/>
<circle cx="321.8" cy="752.1" r="1.35"/>
<circle cx="311.6" cy="741.7" r="1.35"/>
<circle cx="300.6" cy="711.2" r="1.35"/>
<circle cx="277.5" cy="710.4" r="1.35"/>
<circle cx="310.9" cy="738.8" r="1.35"/>
<circle cx="395" cy="728.1" r="1.35"/>
<circle cx="339.7" cy="743.1" r="1.35"/>
<circle cx="286.8" cy="741.1" r="1.35"/>
<circle cx="279.5" cy="721" r="1.35"/>
<circle cx="330.5" cy="746.1" r="1.35"/>
<circle cx="358.5" cy="737" r="1.35"/>
<circle cx="299.6" cy="685.8" r="1.35"/>
<circle cx="292.9" cy="725.6" r="1.35"/>
<circle cx="290.6" cy="721.6" r="1.35"/>
<circle cx="356.2" cy="739.6" r="1.35"/>
<circle cx="364.1" cy="752.7" r="1.35"/>
<circle cx="347.4" cy="751.1" r="1.35"/>
<circle cx="296.3" cy="734.7" r="1.35"/>
<circle cx="304" cy="745.2" r="1.35"/>
<circle cx="347.4" cy="740.8" r="1.35"/>
<circle cx="305" cy="741" r="1.35"/>
<circle cx="372.6" cy="722.4" r="1.35"/>
<circle cx="337.1" cy="744" r="1.35"/>
<circle cx="308.4" cy="715.7" r="1.35"/>
<circle cx="345.2" cy="738.5" r="1.35"/>
<circle cx="295.3" cy="705.4" r="1.35"/>
<circle cx="391.6" cy="676.7" r="1.35"/>
<circle cx="302.4" cy="723.5" r="1.35"/>
<circle cx="293.6" cy="700.7" r="1.35"/>
<circle cx="290.1" cy="682.7" r="1.35"/>
<circle cx="334.5" cy="752.1" r="1.35"/>
<circle cx="322.9" cy="754.7" r="1.35"/>
<circle cx="417" cy="739" r="1.35"/>
<circle cx="327.4" cy="754" r="1.35"/>
<circle cx="272.4" cy="686.1" r="1.35"/>
<circle cx="321.6" cy="752.8" r="1.35"/>
<circle cx="327.1" cy="746.1" r="1.35"/>
<circle cx="397.2" cy="679.4" r="1.35"/>
<circle cx="306.3" cy="727.5" r="1.35"/>
<circle cx="285.6" cy="724.5" r="1.35"/>
<circle cx="330" cy="749.1" r="1.35"/>
<circle cx="349.4" cy="713.7" r="1.35"/>
<circle cx="295.4" cy="658.9" r="1.35"/>
<circle cx="321.7" cy="752.2" r="1.35"/>
<circle cx="335.5" cy="747.6" r="1.35"/>
<circle cx="325" cy="753.6" r="1.35"/>
<circle cx="311.3" cy="742.1" r="1.35"/>
<circle cx="311.4" cy="747.3" r="1.35"/>
<circle cx="293.1" cy="708.6" r="1.35"/>
<circle cx="282.8" cy="728.2" r="1.35"/>
<circle cx="282.4" cy="712.1" r="1.35"/>
<circle cx="291.7" cy="678.5" r="1.35"/>
<circle cx="324.3" cy="751.5" r="1.35"/>
<circle cx="303.8" cy="726.6" r="1.35"/>
<circle cx="332.5" cy="750.1" r="1.35"/>
<circle cx="272.3" cy="715.1" r="1.35"/>
<circle cx="355.4" cy="746.4" r="1.35"/>
<circle cx="303.4" cy="738.2" r="1.35"/>
<circle cx="277.4" cy="669" r="1.35"/>
<circle cx="293" cy="736.7" r="1.35"/>
<circle cx="372.2" cy="714.7" r="1.35"/>
<circle cx="293.9" cy="705.4" r="1.35"/>
<circle cx="411.1" cy="690.6" r="1.35"/>
<circle cx="324.6" cy="752.8" r="1.35"/>
<circle cx="354.4" cy="742" r="1.35"/>
<circle cx="302.9" cy="706.9" r="1.35"/>
<circle cx="343.3" cy="741.9" r="1.35"/>
<circle cx="317.8" cy="742.9" r="1.35"/>
<circle cx="297.8" cy="689.8" r="1.35"/>
<circle cx="314.6" cy="750.3" r="1.35"/>
<circle cx="390.1" cy="695" r="1.35"/>
<circle cx="371.9" cy="726.5" r="1.35"/>
<circle cx="308.5" cy="724.7" r="1.35"/>
<circle cx="299.7" cy="697.7" r="1.35"/>
<circle cx="279.1" cy="675.9" r="1.35"/>
<circle cx="243.5" cy="727.5" r="1.35"/>
<circle cx="280.7" cy="613.4" r="1.35"/>
<circle cx="295.7" cy="725.8" r="1.35"/>
<circle cx="317.6" cy="748.6" r="1.35"/>
<circle cx="379" cy="749.7" r="1.35"/>
<circle cx="323.5" cy="753.8" r="1.35"/>
<circle cx="290.2" cy="672.3" r="1.35"/>
<circle cx="303.6" cy="742.1" r="1.35"/>
<circle cx="346.6" cy="726.8" r="1.35"/>
<circle cx="305.2" cy="749.2" r="1.35"/>
<circle cx="346.2" cy="729.2" r="1.35"/>
<circle cx="324.8" cy="753.8" r="1.35"/>
<circle cx="308.1" cy="735.4" r="1.35"/>
<circle cx="331.9" cy="747.7" r="1.35"/>
<circle cx="302.7" cy="742.8" r="1.35"/>
<circle cx="412.9" cy="725.6" r="1.35"/>
<circle cx="315.9" cy="751.9" r="1.35"/>
<circle cx="309.7" cy="726.5" r="1.35"/>
<circle cx="277.1" cy="707.6" r="1.35"/>
<circle cx="289" cy="699.8" r="1.35"/>
<circle cx="388.4" cy="746.5" r="1.35"/>
<circle cx="302.3" cy="698.7" r="1.35"/>
<circle cx="302.2" cy="710.9" r="1.35"/>
<circle cx="288.3" cy="728.8" r="1.35"/>
<circle cx="326.6" cy="753" r="1.35"/>
<circle cx="367.2" cy="725.9" r="1.35"/>
<circle cx="302.5" cy="714.7" r="1.35"/>
<circle cx="321.5" cy="752.5" r="1.35"/>
<circle cx="304.8" cy="726.1" r="1.35"/>
<circle cx="291.7" cy="657.6" r="1.35"/>
<circle cx="284.6" cy="719.1" r="1.35"/>
<circle cx="322.6" cy="754.3" r="1.35"/>
<circle cx="338.5" cy="738.2" r="1.35"/>
<circle cx="305.4" cy="681.5" r="1.35"/>
<circle cx="384.5" cy="752.7" r="1.35"/>
<circle cx="320" cy="750.4" r="1.35"/>
<circle cx="308.1" cy="714.5" r="1.35"/>
<circle cx="316.9" cy="752.3" r="1.35"/>
<circle cx="336.5" cy="748" r="1.35"/>
<circle cx="301.7" cy="740.8" r="1.35"/>
<circle cx="378.6" cy="737.1" r="1.35"/>
<circle cx="306.1" cy="739.2" r="1.35"/>
<circle cx="354.9" cy="745.1" r="1.35"/>
<circle cx="331.4" cy="726.6" r="1.35"/>
<circle cx="301.5" cy="664" r="1.35"/>
<circle cx="311.6" cy="742.3" r="1.35"/>
<circle cx="291.1" cy="661.3" r="1.35"/>
<circle cx="308.9" cy="742.3" r="1.35"/>
<circle cx="323.9" cy="753.7" r="1.35"/>
<circle cx="299.2" cy="691.8" r="1.35"/>
<circle cx="319.3" cy="746.5" r="1.35"/>
<circle cx="304.5" cy="723.8" r="1.35"/>
<circle cx="308.5" cy="711.9" r="1.35"/>
<circle cx="285.8" cy="719.7" r="1.35"/>
<circle cx="305.9" cy="719.9" r="1.35"/>
<circle cx="309.7" cy="732.3" r="1.35"/>
<circle cx="317.8" cy="746" r="1.35"/>
<circle cx="312.7" cy="747" r="1.35"/>
<circle cx="284.6" cy="745.3" r="1.35"/>
<circle cx="300.2" cy="734.1" r="1.35"/>
<circle cx="293.1" cy="706.4" r="1.35"/>
<circle cx="335.1" cy="751.5" r="1.35"/>
<circle cx="359.5" cy="701.7" r="1.35"/>
<circle cx="313.5" cy="746.2" r="1.35"/>
<circle cx="285.3" cy="736.9" r="1.35"/>
<circle cx="366.6" cy="703" r="1.35"/>
<circle cx="315.7" cy="751" r="1.35"/>
<circle cx="414.4" cy="736.5" r="1.35"/>
<circle cx="273.4" cy="724" r="1.35"/>
<circle cx="329.5" cy="749.2" r="1.35"/>
<circle cx="299.3" cy="729.2" r="1.35"/>
<circle cx="315.6" cy="748.4" r="1.35"/>
<circle cx="333.2" cy="743.9" r="1.35"/>
<circle cx="365.2" cy="722.3" r="1.35"/>
<circle cx="337.2" cy="749.8" r="1.35"/>
<circle cx="311.6" cy="716.6" r="1.35"/>
<circle cx="290.1" cy="697.1" r="1.35"/>
<circle cx="354.3" cy="746" r="1.35"/>
<circle cx="285.3" cy="693.2" r="1.35"/>
<circle cx="309.6" cy="723.6" r="1.35"/>
<circle cx="322.5" cy="754.3" r="1.35"/>
<circle cx="409.2" cy="668" r="1.35"/>
<circle cx="384.8" cy="728.8" r="1.35"/>
<circle cx="378.5" cy="750.8" r="1.35"/>
<circle cx="293.7" cy="733.7" r="1.35"/>
<circle cx="320.4" cy="753.1" r="1.35"/>
<circle cx="296.7" cy="722" r="1.35"/>
<circle cx="361.1" cy="750.5" r="1.35"/>
<circle cx="338" cy="723.7" r="1.35"/>
<circle cx="390.5" cy="741.5" r="1.35"/>
<circle cx="394" cy="718.7" r="1.35"/>
<circle cx="338.4" cy="749.1" r="1.35"/>
<circle cx="312.3" cy="725.6" r="1.35"/>
<circle cx="338.1" cy="744.8" r="1.35"/>
<circle cx="297.7" cy="711.1" r="1.35"/>
<circle cx="362" cy="722.4" r="1.35"/>
<circle cx="337.4" cy="743" r="1.35"/>
<circle cx="374.4" cy="703" r="1.35"/>
<circle cx="319.8" cy="747.7" r="1.35"/>
<circle cx="356.7" cy="739.2" r="1.35"/>
<circle cx="370.9" cy="693" r="1.35"/>
<circle cx="284.9" cy="693.2" r="1.35"/>
<circle cx="343.6" cy="744.9" r="1.35"/>
<circle cx="346.6" cy="745.3" r="1.35"/>
<circle cx="309.9" cy="726.1" r="1.35"/>
<circle cx="384.8" cy="751.2" r="1.35"/>
<circle cx="296.3" cy="728.6" r="1.35"/>
<circle cx="374.4" cy="751.7" r="1.35"/>
<circle cx="288" cy="735" r="1.35"/>
<circle cx="374.9" cy="735.3" r="1.35"/>
<circle cx="338.8" cy="744.3" r="1.35"/>
<circle cx="298.3" cy="668.2" r="1.35"/>
<circle cx="296.4" cy="621.2" r="1.35"/>
<circle cx="377.3" cy="718.6" r="1.35"/>
<circle cx="283" cy="704" r="1.35"/>
<circle cx="305.7" cy="716.5" r="1.35"/>
<circle cx="316.5" cy="751.6" r="1.35"/>
<circle cx="298.3" cy="715.5" r="1.35"/>
<circle cx="298" cy="722.7" r="1.35"/>
<circle cx="288.4" cy="735.9" r="1.35"/>
<circle cx="311" cy="743.3" r="1.35"/>
<circle cx="402.9" cy="699.5" r="1.35"/>
<circle cx="297.2" cy="706.1" r="1.35"/>
<circle cx="285.3" cy="724.7" r="1.35"/>
<circle cx="339.6" cy="750.4" r="1.35"/>
<circle cx="308.6" cy="742.8" r="1.35"/>
<circle cx="297.9" cy="730.1" r="1.35"/>
<circle cx="320.2" cy="752.3" r="1.35"/>
<circle cx="291.9" cy="742.4" r="1.35"/>
<circle cx="344.4" cy="730" r="1.35"/>
<circle cx="290.7" cy="707.6" r="1.35"/>
<circle cx="299.1" cy="736.1" r="1.35"/>
<circle cx="257.1" cy="745" r="1.35"/>
<circle cx="305.5" cy="743.4" r="1.35"/>
<circle cx="325.6" cy="754.1" r="1.35"/>
<circle cx="341.6" cy="749.6" r="1.35"/>
<circle cx="332.6" cy="751.3" r="1.35"/>
<circle cx="296.3" cy="669.1" r="1.35"/>
<circle cx="364.4" cy="743.8" r="1.35"/>
<circle cx="279.1" cy="742" r="1.35"/>
<circle cx="283.5" cy="604.4" r="1.35"/>
<circle cx="305.2" cy="713.6" r="1.35"/>
<circle cx="296.7" cy="750.1" r="1.35"/>
<circle cx="290.5" cy="698.6" r="1.35"/>
<circle cx="312.6" cy="743.6" r="1.35"/>
<circle cx="287.9" cy="723.5" r="1.35"/>
<circle cx="338.7" cy="744.3" r="1.35"/>
<circle cx="312.4" cy="747" r="1.35"/>
<circle cx="329.5" cy="751.5" r="1.35"/>
<circle cx="294.1" cy="732.8" r="1.35"/>
<circle cx="325.7" cy="751.5" r="1.35"/>
<circle cx="273.2" cy="671.6" r="1.35"/>
<circle cx="363.3" cy="734" r="1.35"/>
<circle cx="289.5" cy="628.6" r="1.35"/>
<circle cx="293.9" cy="677.9" r="1.35"/>
<circle cx="316" cy="740.6" r="1.35"/>
<circle cx="296.9" cy="738.5" r="1.35"/>
<circle cx="318.6" cy="750.7" r="1.35"/>
<circle cx="287" cy="687.4" r="1.35"/>
<circle cx="293.6" cy="695.7" r="1.35"/>
<circle cx="290.6" cy="602.3" r="1.35"/>
<circle cx="240.8" cy="676.7" r="1.35"/>
<circle cx="303" cy="704.6" r="1.35"/>
<circle cx="326.2" cy="753.3" r="1.35"/>
<circle cx="406.1" cy="727.9" r="1.35"/>
<circle cx="378" cy="740.3" r="1.35"/>
<circle cx="344.3" cy="741.7" r="1.35"/>
<circle cx="385.7" cy="725.6" r="1.35"/>
<circle cx="346.9" cy="751.8" r="1.35"/>
<circle cx="339.7" cy="750" r="1.35"/>
<circle cx="303.6" cy="667.1" r="1.35"/>
<circle cx="268.7" cy="705.9" r="1.35"/>
<circle cx="295.9" cy="623.6" r="1.35"/>
<circle cx="289.4" cy="697" r="1.35"/>
<circle cx="375.3" cy="748.5" r="1.35"/>
<circle cx="288.9" cy="724.1" r="1.35"/>
<circle cx="313.1" cy="734.9" r="1.35"/>
<circle cx="326.4" cy="752.5" r="1.35"/>
<circle cx="326" cy="750.7" r="1.35"/>
<circle cx="300.3" cy="679.3" r="1.35"/>
<circle cx="325.8" cy="754" r="1.35"/>
<circle cx="377.5" cy="746.6" r="1.35"/>
<circle cx="328.6" cy="752.9" r="1.35"/>
<circle cx="350.7" cy="746.9" r="1.35"/>
<circle cx="275.2" cy="693.9" r="1.35"/>
<circle cx="302.9" cy="731.8" r="1.35"/>
<circle cx="291.9" cy="677.3" r="1.35"/>
<circle cx="350.5" cy="732.1" r="1.35"/>
<circle cx="362.4" cy="741.2" r="1.35"/>
<circle cx="336.5" cy="741.8" r="1.35"/>
<circle cx="341.7" cy="742.9" r="1.35"/>
<circle cx="283.3" cy="646.8" r="1.35"/>
<circle cx="357.7" cy="753.3" r="1.35"/>
<circle cx="334.7" cy="734.7" r="1.35"/>
<circle cx="384.7" cy="713.3" r="1.35"/>
<circle cx="286" cy="716.9" r="1.35"/>
<circle cx="297.9" cy="735.2" r="1.35"/>
<circle cx="326.2" cy="753.3" r="1.35"/>
<circle cx="317.3" cy="742.3" r="1.35"/>
<circle cx="328.6" cy="751.5" r="1.35"/>
<circle cx="362.9" cy="727.8" r="1.35"/>
<circle cx="315.6" cy="732.6" r="1.35"/>
<circle cx="358" cy="748" r="1.35"/>
<circle cx="323.3" cy="754.3" r="1.35"/>
<circle cx="305" cy="730.6" r="1.35"/>
<circle cx="309.3" cy="740.2" r="1.35"/>
<circle cx="356.8" cy="734.4" r="1.35"/>
<circle cx="291" cy="737.5" r="1.35"/>
<circle cx="299.8" cy="639.9" r="1.35"/>
<circle cx="303" cy="706.7" r="1.35"/>
<circle cx="298.6" cy="737.9" r="1.35"/>
<circle cx="380.3" cy="718.4" r="1.35"/>
<circle cx="250.5" cy="686.5" r="1.35"/>
<circle cx="308.4" cy="747.8" r="1.35"/>
<circle cx="312.2" cy="725.3" r="1.35"/>
<circle cx="262.1" cy="676.7" r="1.35"/>
<circle cx="322.6" cy="753.7" r="1.35"/>
<circle cx="309.1" cy="728.8" r="1.35"/>
<circle cx="357.7" cy="718.7" r="1.35"/>
<circle cx="305.1" cy="702.7" r="1.35"/>
<circle cx="310.7" cy="715" r="1.35"/>
<circle cx="298.3" cy="724.4" r="1.35"/>
<circle cx="270.2" cy="720.3" r="1.35"/>
<circle cx="298" cy="689.5" r="1.35"/>
<circle cx="332.9" cy="720.8" r="1.35"/>
<circle cx="292.5" cy="661.5" r="1.35"/>
<circle cx="360.1" cy="741.2" r="1.35"/>
<circle cx="304.6" cy="723" r="1.35"/>
<circle cx="295.2" cy="725.6" r="1.35"/>
<circle cx="281.4" cy="674.4" r="1.35"/>
<circle cx="371.7" cy="723.3" r="1.35"/>
<circle cx="304" cy="696.5" r="1.35"/>
<circle cx="354.9" cy="741.6" r="1.35"/>
<circle cx="404.4" cy="750" r="1.35"/>
<circle cx="377" cy="711.1" r="1.35"/>
<circle cx="342.3" cy="750.5" r="1.35"/>
<circle cx="333.1" cy="717.6" r="1.35"/>
<circle cx="408.3" cy="709.2" r="1.35"/>
<circle cx="343.3" cy="752.3" r="1.35"/>
<circle cx="271" cy="743.7" r="1.35"/>
<circle cx="280.6" cy="743.3" r="1.35"/>
<circle cx="322.4" cy="752.6" r="1.35"/>
<circle cx="303.4" cy="644.8" r="1.35"/>
<circle cx="319.4" cy="749.5" r="1.35"/>
<circle cx="409.9" cy="670" r="1.35"/>
<circle cx="281.4" cy="702.3" r="1.35"/>
<circle cx="315.9" cy="751.7" r="1.35"/>
<circle cx="307.2" cy="721.6" r="1.35"/>
<circle cx="331.9" cy="751.8" r="1.35"/>
<circle cx="336.5" cy="753.9" r="1.35"/>
<circle cx="349.8" cy="747.7" r="1.35"/>
<circle cx="293.6" cy="671.9" r="1.35"/>
<circle cx="351.1" cy="747" r="1.35"/>
<circle cx="337" cy="752.3" r="1.35"/>
<circle cx="351.9" cy="744" r="1.35"/>
<circle cx="297.6" cy="704.9" r="1.35"/>
<circle cx="309.4" cy="732.4" r="1.35"/>
<circle cx="369.6" cy="735.3" r="1.35"/>
<circle cx="253.4" cy="709.8" r="1.35"/>
<circle cx="283.2" cy="614.1" r="1.35"/>
<circle cx="370.6" cy="694.9" r="1.35"/>
<circle cx="290.3" cy="668" r="1.35"/>
<circle cx="344.3" cy="732.3" r="1.35"/>
<circle cx="314.3" cy="746.4" r="1.35"/>
<circle cx="337" cy="750.5" r="1.35"/>
<circle cx="317.3" cy="751.5" r="1.35"/>
<circle cx="288.2" cy="745.2" r="1.35"/>
<circle cx="353.4" cy="741.1" r="1.35"/>
<circle cx="317" cy="735.9" r="1.35"/>
<circle cx="343.9" cy="743" r="1.35"/>
<circle cx="337.5" cy="753" r="1.35"/>
<circle cx="357.7" cy="725.1" r="1.35"/>
<circle cx="286.4" cy="641.6" r="1.35"/>
<circle cx="318.9" cy="750.3" r="1.35"/>
<circle cx="312.5" cy="750.8" r="1.35"/>
<circle cx="366.2" cy="735.3" r="1.35"/>
<circle cx="346.2" cy="751.8" r="1.35"/>
<circle cx="287.6" cy="742.7" r="1.35"/>
<circle cx="370" cy="751" r="1.35"/>
<circle cx="360.6" cy="752.6" r="1.35"/>
<circle cx="364.6" cy="732.5" r="1.35"/>
<circle cx="396.2" cy="710.7" r="1.35"/>
<circle cx="311.1" cy="696.6" r="1.35"/>
<circle cx="282.7" cy="611.9" r="1.35"/>
<circle cx="303.4" cy="715.2" r="1.35"/>
<circle cx="328.6" cy="747.2" r="1.35"/>
<circle cx="248.8" cy="694.8" r="1.35"/>
<circle cx="300.3" cy="732" r="1.35"/>
<circle cx="285.1" cy="684.4" r="1.35"/>
<circle cx="408" cy="752.2" r="1.35"/>
<circle cx="288.4" cy="668.7" r="1.35"/>
<circle cx="359" cy="732.8" r="1.35"/>
<circle cx="370.8" cy="749.1" r="1.35"/>
<circle cx="297.3" cy="712.2" r="1.35"/>
<circle cx="294.6" cy="693.2" r="1.35"/>
<circle cx="378.3" cy="739.1" r="1.35"/>
<circle cx="258.4" cy="692.3" r="1.35"/>
<circle cx="308" cy="737.5" r="1.35"/>
<circle cx="285.8" cy="691.4" r="1.35"/>
<circle cx="327.1" cy="751.6" r="1.35"/>
<circle cx="301.9" cy="733.1" r="1.35"/>
<circle cx="314.6" cy="752" r="1.35"/>
<circle cx="309.3" cy="741.1" r="1.35"/>
<circle cx="297.4" cy="727.3" r="1.35"/>
<circle cx="297.8" cy="724.9" r="1.35"/>
<circle cx="326.1" cy="753.7" r="1.35"/>
<circle cx="310.9" cy="734.5" r="1.35"/>
<circle cx="284.3" cy="732.1" r="1.35"/>
<circle cx="298.4" cy="716.1" r="1.35"/>
<circle cx="323.5" cy="754.3" r="1.35"/>
<circle cx="296.1" cy="701.9" r="1.35"/>
<circle cx="345.6" cy="749.6" r="1.35"/>
<circle cx="328.1" cy="753.8" r="1.35"/>
<circle cx="311" cy="740.4" r="1.35"/>
<circle cx="327.3" cy="745" r="1.35"/>
<circle cx="377.9" cy="743.3" r="1.35"/>
<circle cx="296.8" cy="733.9" r="1.35"/>
<circle cx="300.9" cy="709.6" r="1.35"/>
<circle cx="308.8" cy="736.7" r="1.35"/>
<circle cx="312.9" cy="748.8" r="1.35"/>
<circle cx="296.9" cy="749.1" r="1.35"/>
<circle cx="325.6" cy="753.2" r="1.35"/>
<circle cx="360.1" cy="751.9" r="1.35"/>
<circle cx="307.8" cy="734.7" r="1.35"/>
<circle cx="299.4" cy="745.3" r="1.35"/>
<circle cx="335.7" cy="742.1" r="1.35"/>
<circle cx="322.9" cy="754.1" r="1.35"/>
<circle cx="365.8" cy="710.2" r="1.35"/>
<circle cx="325.4" cy="752.8" r="1.35"/>
<circle cx="320.4" cy="753.4" r="1.35"/>
<circle cx="363.4" cy="749.7" r="1.35"/>
<circle cx="359.2" cy="678.3" r="1.35"/>
<circle cx="295.3" cy="622.3" r="1.35"/>
<circle cx="296.9" cy="648.3" r="1.35"/>
<circle cx="349" cy="745.4" r="1.35"/>
<circle cx="362.6" cy="742.7" r="1.35"/>
<circle cx="288.6" cy="696.4" r="1.35"/>
<circle cx="312.7" cy="742.1" r="1.35"/>
<circle cx="347.7" cy="733.6" r="1.35"/>
<circle cx="377.1" cy="747.4" r="1.35"/>
<circle cx="304.9" cy="743.7" r="1.35"/>
<circle cx="351.3" cy="747.6" r="1.35"/>
<circle cx="318.9" cy="753.7" r="1.35"/>
<circle cx="383.9" cy="744.2" r="1.35"/>
<circle cx="294.5" cy="718.6" r="1.35"/>
<circle cx="284.3" cy="715.7" r="1.35"/>
<circle cx="291.4" cy="680.5" r="1.35"/>
<circle cx="311" cy="740.9" r="1.35"/>
<circle cx="300.2" cy="719.1" r="1.35"/>
<circle cx="292.3" cy="706.7" r="1.35"/>
<circle cx="323.8" cy="753.3" r="1.35"/>
<circle cx="266.5" cy="707.6" r="1.35"/>
<circle cx="301.5" cy="656.2" r="1.35"/>
<circle cx="335.4" cy="745.9" r="1.35"/>
<circle cx="277.8" cy="712.9" r="1.35"/>
<circle cx="297.6" cy="626.8" r="1.35"/>
<circle cx="303.4" cy="724.5" r="1.35"/>
<circle cx="352" cy="752.9" r="1.35"/>
<circle cx="283.6" cy="719" r="1.35"/>
<circle cx="343.3" cy="742.3" r="1.35"/>
<circle cx="311.1" cy="745.3" r="1.35"/>
<circle cx="333" cy="747.6" r="1.35"/>
<circle cx="346.5" cy="736.9" r="1.35"/>
<circle cx="372.1" cy="719" r="1.35"/>
<circle cx="310.1" cy="740.5" r="1.35"/>
<circle cx="278.7" cy="715.5" r="1.35"/>
<circle cx="292.7" cy="600.7" r="1.35"/>
<circle cx="282.2" cy="735.2" r="1.35"/>
<circle cx="291" cy="588.8" r="1.35"/>
<circle cx="323.4" cy="754.1" r="1.35"/>
<circle cx="313.7" cy="723.7" r="1.35"/>
<circle cx="390.7" cy="733.7" r="1.35"/>
<circle cx="286.5" cy="750.2" r="1.35"/>
<circle cx="334.9" cy="747" r="1.35"/>
<circle cx="302.1" cy="723.6" r="1.35"/>
<circle cx="322.5" cy="752.9" r="1.35"/>
<circle cx="289.6" cy="688.7" r="1.35"/>
<circle cx="289.2" cy="732.1" r="1.35"/>
<circle cx="342.5" cy="732.9" r="1.35"/>
<circle cx="323.7" cy="753.3" r="1.35"/>
<circle cx="390.8" cy="737.2" r="1.35"/>
<circle cx="337.8" cy="728.1" r="1.35"/>
<circle cx="320.6" cy="750.8" r="1.35"/>
<circle cx="287.2" cy="656.5" r="1.35"/>
<circle cx="297.4" cy="738.3" r="1.35"/>
<circle cx="293.2" cy="621.2" r="1.35"/>
<circle cx="309.6" cy="737.7" r="1.35"/>
<circle cx="287.9" cy="716.4" r="1.35"/>
<circle cx="322.8" cy="754.6" r="1.35"/>
<circle cx="353.6" cy="746.6" r="1.35"/>
<circle cx="351.6" cy="744.7" r="1.35"/>
<circle cx="377.1" cy="738.9" r="1.35"/>
<circle cx="299.2" cy="696.5" r="1.35"/>
<circle cx="338" cy="748.9" r="1.35"/>
<circle cx="286.9" cy="709" r="1.35"/>
<circle cx="345.9" cy="745.3" r="1.35"/>
<circle cx="277.2" cy="731.6" r="1.35"/>
<circle cx="313.1" cy="737.5" r="1.35"/>
<circle cx="286" cy="742.6" r="1.35"/>
<circle cx="269.2" cy="725.1" r="1.35"/>
<circle cx="293.4" cy="716.1" r="1.35"/>
<circle cx="341.8" cy="745.2" r="1.35"/>
<circle cx="305.6" cy="751.2" r="1.35"/>
<circle cx="317.2" cy="734.2" r="1.35"/>
<circle cx="293" cy="717.5" r="1.35"/>
<circle cx="292.9" cy="705.7" r="1.35"/>
<circle cx="291.1" cy="749" r="1.35"/>
<circle cx="302.5" cy="695.7" r="1.35"/>
<circle cx="366" cy="750.3" r="1.35"/>
<circle cx="312.1" cy="751" r="1.35"/>
<circle cx="314" cy="742.6" r="1.35"/>
<circle cx="336.9" cy="741.2" r="1.35"/>
<circle cx="373" cy="747.3" r="1.35"/>
<circle cx="325.9" cy="748.6" r="1.35"/>
<circle cx="306" cy="721.6" r="1.35"/>
<circle cx="284.8" cy="726.6" r="1.35"/>
<circle cx="329.3" cy="751.7" r="1.35"/>
<circle cx="312.6" cy="714.7" r="1.35"/>
<circle cx="297.7" cy="745.8" r="1.35"/>
<circle cx="298.5" cy="701.3" r="1.35"/>
<circle cx="379.3" cy="670.4" r="1.35"/>
<circle cx="279.1" cy="668.2" r="1.35"/>
<circle cx="309.8" cy="737.3" r="1.35"/>
<circle cx="321.5" cy="753.4" r="1.35"/>
<circle cx="305.7" cy="731.2" r="1.35"/>
<circle cx="284.8" cy="691.4" r="1.35"/>
<circle cx="250.5" cy="722.9" r="1.35"/>
<circle cx="297.4" cy="669.3" r="1.35"/>
<circle cx="366" cy="749.9" r="1.35"/>
<circle cx="269.6" cy="740.2" r="1.35"/>
<circle cx="295" cy="735.8" r="1.35"/>
<circle cx="355.7" cy="748.8" r="1.35"/>
<circle cx="282.8" cy="641.1" r="1.35"/>
<circle cx="261.2" cy="701" r="1.35"/>
<circle cx="319" cy="749.3" r="1.35"/>
<circle cx="368.4" cy="722" r="1.35"/>
<circle cx="332.2" cy="750.9" r="1.35"/>
<circle cx="288.7" cy="708.2" r="1.35"/>
<circle cx="321.9" cy="754.1" r="1.35"/>
<circle cx="265.5" cy="684.9" r="1.35"/>
<circle cx="306.1" cy="723" r="1.35"/>
<circle cx="356.6" cy="748.7" r="1.35"/>
<circle cx="290.6" cy="650.8" r="1.35"/>
<circle cx="379.3" cy="733.9" r="1.35"/>
<circle cx="309" cy="731.2" r="1.35"/>
<circle cx="327.9" cy="751.8" r="1.35"/>
<circle cx="289.2" cy="732.2" r="1.35"/>
<circle cx="288.6" cy="734.5" r="1.35"/>
<circle cx="305.9" cy="714.1" r="1.35"/>
<circle cx="309.4" cy="745.6" r="1.35"/>
<circle cx="305.2" cy="741.7" r="1.35"/>
<circle cx="321.6" cy="754" r="1.35"/>
<circle cx="318.7" cy="753.2" r="1.35"/>
<circle cx="284.5" cy="631.3" r="1.35"/>
<circle cx="309.6" cy="687.9" r="1.35"/>
<circle cx="314.3" cy="743.2" r="1.35"/>
<circle cx="391.5" cy="744.2" r="1.35"/>
<circle cx="368.7" cy="675.1" r="1.35"/>
<circle cx="305.3" cy="746.8" r="1.35"/>
<circle cx="300.8" cy="731.7" r="1.35"/>
<circle cx="326.2" cy="754.5" r="1.35"/>
<circle cx="283.3" cy="722.7" r="1.35"/>
<circle cx="334" cy="747.9" r="1.35"/>
<circle cx="331" cy="727.9" r="1.35"/>
<circle cx="315.7" cy="749.8" r="1.35"/>
<circle cx="373.2" cy="721.5" r="1.35"/>
<circle cx="285.4" cy="607.7" r="1.35"/>
<circle cx="294.6" cy="716.8" r="1.35"/>
<circle cx="280.7" cy="730.9" r="1.35"/>
<circle cx="315.1" cy="751" r="1.35"/>
<circle cx="301.9" cy="718.3" r="1.35"/>
<circle cx="328.6" cy="749.4" r="1.35"/>
<circle cx="366.5" cy="752.1" r="1.35"/>
<circle cx="288" cy="724.2" r="1.35"/>
<circle cx="333.3" cy="747.3" r="1.35"/>
<circle cx="340.9" cy="751.9" r="1.35"/>
<circle cx="338.2" cy="729.9" r="1.35"/>
<circle cx="307.8" cy="742.6" r="1.35"/>
<circle cx="308.9" cy="745.2" r="1.35"/>
<circle cx="394.8" cy="702" r="1.35"/>
<circle cx="338" cy="748.1" r="1.35"/>
<circle cx="376.2" cy="737.9" r="1.35"/>
<circle cx="333.5" cy="742.1" r="1.35"/>
<circle cx="307.8" cy="730.6" r="1.35"/>
<circle cx="280.5" cy="700.7" r="1.35"/>
<circle cx="359.1" cy="729.2" r="1.35"/>
<circle cx="316.9" cy="750.8" r="1.35"/>
<circle cx="302.2" cy="753.3" r="1.35"/>
<circle cx="387.5" cy="741" r="1.35"/>
<circle cx="263.7" cy="706.8" r="1.35"/>
<circle cx="319.4" cy="742.3" r="1.35"/>
<circle cx="368.3" cy="742.1" r="1.35"/>
<circle cx="310.9" cy="739.8" r="1.35"/>
<circle cx="303.3" cy="721.3" r="1.35"/>
<circle cx="323.5" cy="753.6" r="1.35"/>
<circle cx="313" cy="741.3" r="1.35"/>
<circle cx="365.6" cy="744.3" r="1.35"/>
<circle cx="288.6" cy="743.6" r="1.35"/>
<circle cx="291.8" cy="687.3" r="1.35"/>
<circle cx="300.2" cy="703.1" r="1.35"/>
<circle cx="314.7" cy="748.4" r="1.35"/>
<circle cx="305.2" cy="707.6" r="1.35"/>
<circle cx="324.3" cy="752.4" r="1.35"/>
<circle cx="351.7" cy="735.3" r="1.35"/>
<circle cx="354.6" cy="683.2" r="1.35"/>
<circle cx="324.8" cy="753.8" r="1.35"/>
<circle cx="303.9" cy="745.1" r="1.35"/>
<circle cx="298.7" cy="733.5" r="1.35"/>
<circle cx="312.6" cy="751.2" r="1.35"/>
<circle cx="320.4" cy="750.4" r="1.35"/>
<circle cx="305.5" cy="739.6" r="1.35"/>
<circle cx="284.8" cy="644.5" r="1.35"/>
<circle cx="295.4" cy="715.1" r="1.35"/>
<circle cx="290.7" cy="629.3" r="1.35"/>
<circle cx="284.5" cy="680.8" r="1.35"/>
<circle cx="286.5" cy="717.7" r="1.35"/>
<circle cx="302.5" cy="733.6" r="1.35"/>
<circle cx="286.8" cy="704.2" r="1.35"/>
<circle cx="285.3" cy="714.2" r="1.35"/>
<circle cx="358.2" cy="701.8" r="1.35"/>
<circle cx="341.9" cy="743.5" r="1.35"/>
<circle cx="305.6" cy="747.6" r="1.35"/>
<circle cx="288.3" cy="744.5" r="1.35"/>
<circle cx="330.8" cy="753.1" r="1.35"/>
<circle cx="347.5" cy="750.4" r="1.35"/>
<circle cx="341.7" cy="744.8" r="1.35"/>
<circle cx="282.3" cy="666.4" r="1.35"/>
<circle cx="283.7" cy="663.4" r="1.35"/>
<circle cx="298.5" cy="732.4" r="1.35"/>
<circle cx="281.1" cy="681.4" r="1.35"/>
<circle cx="289.8" cy="745.7" r="1.35"/>
<circle cx="363.7" cy="748.3" r="1.35"/>
<circle cx="300.7" cy="670.6" r="1.35"/>
<circle cx="293" cy="719.2" r="1.35"/>
<circle cx="293.2" cy="694.7" r="1.35"/>
<circle cx="346.9" cy="726.8" r="1.35"/>
<circle cx="356.7" cy="746.1" r="1.35"/>
<circle cx="264.9" cy="713" r="1.35"/>
<circle cx="320.4" cy="750.9" r="1.35"/>
<circle cx="364.9" cy="749.7" r="1.35"/>
<circle cx="314.1" cy="743.1" r="1.35"/>
<circle cx="287" cy="574.8" r="1.35"/>
<circle cx="313.7" cy="750.2" r="1.35"/>
<circle cx="309.7" cy="702.5" r="1.35"/>
<circle cx="313.7" cy="751.1" r="1.35"/>
<circle cx="387.6" cy="694.5" r="1.35"/>
<circle cx="313.8" cy="745.8" r="1.35"/>
<circle cx="358.9" cy="712.1" r="1.35"/>
<circle cx="320.7" cy="747.1" r="1.35"/>
<circle cx="301.2" cy="733.7" r="1.35"/>
<circle cx="326.4" cy="743.6" r="1.35"/>
<circle cx="309.4" cy="735.3" r="1.35"/>
<circle cx="362.6" cy="749.1" r="1.35"/>
<circle cx="293.9" cy="673.6" r="1.35"/>
<circle cx="317" cy="745.2" r="1.35"/>
<circle cx="303.5" cy="712" r="1.35"/>
<circle cx="301.8" cy="750" r="1.35"/>
<circle cx="307.7" cy="735.4" r="1.35"/>
<circle cx="325.3" cy="750.3" r="1.35"/>
<circle cx="372.3" cy="736.9" r="1.35"/>
<circle cx="329.2" cy="744.6" r="1.35"/>
<circle cx="359.4" cy="682.7" r="1.35"/>
<circle cx="284.9" cy="632.5" r="1.35"/>
<circle cx="301.8" cy="728.7" r="1.35"/>
<circle cx="307.8" cy="751.8" r="1.35"/>
<circle cx="306.2" cy="742.1" r="1.35"/>
<circle cx="375.1" cy="720.7" r="1.35"/>
<circle cx="303" cy="725.9" r="1.35"/>
<circle cx="341.7" cy="753.2" r="1.35"/>
<circle cx="291.6" cy="707.8" r="1.35"/>
<circle cx="302.3" cy="719.6" r="1.35"/>
<circle cx="317.3" cy="747.9" r="1.35"/>
<circle cx="292.5" cy="731.9" r="1.35"/>
<circle cx="321.6" cy="753.2" r="1.35"/>
<circle cx="347.7" cy="747.4" r="1.35"/>
<circle cx="393" cy="726.5" r="1.35"/>
<circle cx="286" cy="662" r="1.35"/>
<circle cx="287.2" cy="717.2" r="1.35"/>
<circle cx="404.4" cy="746.8" r="1.35"/>
<circle cx="316.2" cy="740.3" r="1.35"/>
<circle cx="317.6" cy="751.7" r="1.35"/>
<circle cx="294.2" cy="713.2" r="1.35"/>
<circle cx="349.4" cy="671.1" r="1.35"/>
<circle cx="280.6" cy="692.8" r="1.35"/>
<circle cx="357.6" cy="749.5" r="1.35"/>
<circle cx="362.3" cy="713.4" r="1.35"/>
<circle cx="325.9" cy="753" r="1.35"/>
<circle cx="311.4" cy="732.5" r="1.35"/>
<circle cx="294.2" cy="707.1" r="1.35"/>
<circle cx="250.7" cy="698" r="1.35"/>
<circle cx="312.4" cy="743.9" r="1.35"/>
<circle cx="300.6" cy="728.5" r="1.35"/>
<circle cx="264.9" cy="684.2" r="1.35"/>
<circle cx="371.5" cy="748.2" r="1.35"/>
<circle cx="293" cy="687.3" r="1.35"/>
<circle cx="284.6" cy="725.1" r="1.35"/>
<circle cx="314" cy="722" r="1.35"/>
<circle cx="347.4" cy="751.4" r="1.35"/>
<circle cx="303.8" cy="729.6" r="1.35"/>
<circle cx="284.7" cy="715.7" r="1.35"/>
<circle cx="278.6" cy="729" r="1.35"/>
<circle cx="294.5" cy="666.9" r="1.35"/>
<circle cx="318.5" cy="750.1" r="1.35"/>
<circle cx="352.2" cy="741.9" r="1.35"/>
<circle cx="292.2" cy="673.9" r="1.35"/>
<circle cx="274.9" cy="711.2" r="1.35"/>
<circle cx="309.8" cy="733.3" r="1.35"/>
<circle cx="271.4" cy="738.4" r="1.35"/>
<circle cx="290.9" cy="718.2" r="1.35"/>
<circle cx="333.2" cy="747.7" r="1.35"/>
<circle cx="394.7" cy="732.1" r="1.35"/>
<circle cx="331" cy="753.1" r="1.35"/>
<circle cx="306.9" cy="672.9" r="1.35"/>
<circle cx="323" cy="754.3" r="1.35"/>
<circle cx="318.5" cy="750" r="1.35"/>
<circle cx="354.7" cy="717.7" r="1.35"/>
<circle cx="253.2" cy="702.4" r="1.35"/>
<circle cx="343.1" cy="748.6" r="1.35"/>
<circle cx="350.6" cy="751.5" r="1.35"/>
<circle cx="309.2" cy="740.6" r="1.35"/>
<circle cx="270.6" cy="684.7" r="1.35"/>
<circle cx="376.1" cy="713.3" r="1.35"/>
<circle cx="369.2" cy="706" r="1.35"/>
<circle cx="294.2" cy="698.9" r="1.35"/>
<circle cx="297.5" cy="734.1" r="1.35"/>
<circle cx="311.7" cy="744.8" r="1.35"/>
<circle cx="325.6" cy="753.7" r="1.35"/>
<circle cx="331.4" cy="737.1" r="1.35"/>
<circle cx="336.7" cy="739.3" r="1.35"/>
<circle cx="329.2" cy="747.8" r="1.35"/>
<circle cx="338.6" cy="749.9" r="1.35"/>
<circle cx="288.2" cy="606.8" r="1.35"/>
<circle cx="279.3" cy="665.9" r="1.35"/>
<circle cx="313.4" cy="748" r="1.35"/>
<circle cx="330.7" cy="741.6" r="1.35"/>
<circle cx="391.5" cy="748.1" r="1.35"/>
<circle cx="284.5" cy="731" r="1.35"/>
<circle cx="288" cy="699.8" r="1.35"/>
<circle cx="291.5" cy="581" r="1.35"/>
<circle cx="347.2" cy="749" r="1.35"/>
<circle cx="343.6" cy="746.5" r="1.35"/>
<circle cx="339.6" cy="745.1" r="1.35"/>
<circle cx="297.5" cy="691" r="1.35"/>
<circle cx="330.5" cy="726.1" r="1.35"/>
<circle cx="290.3" cy="683.3" r="1.35"/>
<circle cx="304.8" cy="696" r="1.35"/>
<circle cx="356.2" cy="738.6" r="1.35"/>
<circle cx="284.2" cy="642.7" r="1.35"/>
<circle cx="286.2" cy="611.5" r="1.35"/>
<circle cx="306.4" cy="721.9" r="1.35"/>
<circle cx="307.5" cy="710.1" r="1.35"/>
<circle cx="341.8" cy="746.1" r="1.35"/>
<circle cx="290.6" cy="710.2" r="1.35"/>
<circle cx="265.9" cy="674.7" r="1.35"/>
<circle cx="358.7" cy="735.3" r="1.35"/>
<circle cx="331.2" cy="747.5" r="1.35"/>
<circle cx="329.3" cy="748.2" r="1.35"/>
<circle cx="329" cy="746.8" r="1.35"/>
<circle cx="322.4" cy="753.8" r="1.35"/>
<circle cx="336.1" cy="749.3" r="1.35"/>
<circle cx="319.8" cy="752.9" r="1.35"/>
<circle cx="336.5" cy="748" r="1.35"/>
<circle cx="304.2" cy="720.1" r="1.35"/>
<circle cx="289.7" cy="709.2" r="1.35"/>
<circle cx="299.5" cy="613.8" r="1.35"/>
<circle cx="307.6" cy="723.8" r="1.35"/>
<circle cx="353.9" cy="746.2" r="1.35"/>
<circle cx="347.9" cy="671.1" r="1.35"/>
<circle cx="374.9" cy="712" r="1.35"/>
<circle cx="288.4" cy="735.5" r="1.35"/>
<circle cx="314.1" cy="747.6" r="1.35"/>
<circle cx="311.8" cy="724.2" r="1.35"/>
<circle cx="359.1" cy="736" r="1.35"/>
<circle cx="292.4" cy="662.8" r="1.35"/>
<circle cx="309.7" cy="735" r="1.35"/>
<circle cx="303.4" cy="708.7" r="1.35"/>
<circle cx="324.4" cy="753" r="1.35"/>
<circle cx="286.9" cy="636.3" r="1.35"/>
<circle cx="310.2" cy="748.8" r="1.35"/>
<circle cx="336.1" cy="751.4" r="1.35"/>
<circle cx="300.9" cy="732.1" r="1.35"/>
<circle cx="332.2" cy="739.7" r="1.35"/>
<circle cx="249.9" cy="712.4" r="1.35"/>
<circle cx="407.1" cy="712.2" r="1.35"/>
<circle cx="313" cy="749.2" r="1.35"/>
<circle cx="277.3" cy="712.5" r="1.35"/>
<circle cx="298.5" cy="640.4" r="1.35"/>
<circle cx="281.1" cy="748.3" r="1.35"/>
<circle cx="359.7" cy="741.7" r="1.35"/>
<circle cx="365.5" cy="666.3" r="1.35"/>
<circle cx="365.4" cy="716.4" r="1.35"/>
<circle cx="342.6" cy="731.5" r="1.35"/>
<circle cx="322.6" cy="754.1" r="1.35"/>
<circle cx="388.7" cy="679.8" r="1.35"/>
<circle cx="315.9" cy="743.9" r="1.35"/>
<circle cx="304.5" cy="691.6" r="1.35"/>
<circle cx="283" cy="628.8" r="1.35"/>
<circle cx="383.4" cy="706.6" r="1.35"/>
<circle cx="368.6" cy="750.3" r="1.35"/>
<circle cx="278.6" cy="694.2" r="1.35"/>
<circle cx="298" cy="714.3" r="1.35"/>
<circle cx="295.6" cy="715.3" r="1.35"/>
<circle cx="367.7" cy="745.4" r="1.35"/>
<circle cx="348.2" cy="734.3" r="1.35"/>
<circle cx="319" cy="742.3" r="1.35"/>
<circle cx="323.7" cy="754" r="1.35"/>
<circle cx="329.5" cy="752.1" r="1.35"/>
<circle cx="368" cy="738.3" r="1.35"/>
<circle cx="308.4" cy="703.3" r="1.35"/>
<circle cx="288.3" cy="698.5" r="1.35"/>
<circle cx="362.5" cy="694.6" r="1.35"/>
<circle cx="351.8" cy="742.4" r="1.35"/>
<circle cx="304.9" cy="730.6" r="1.35"/>
<circle cx="343.6" cy="749" r="1.35"/>
<circle cx="356.5" cy="711.5" r="1.35"/>
<circle cx="298.5" cy="719.5" r="1.35"/>
<circle cx="361.6" cy="749.8" r="1.35"/>
<circle cx="362.7" cy="742.9" r="1.35"/>
<circle cx="358.9" cy="752.2" r="1.35"/>
<circle cx="336.3" cy="748.6" r="1.35"/>
<circle cx="355" cy="727.7" r="1.35"/>
<circle cx="328.1" cy="752.1" r="1.35"/>
<circle cx="347" cy="747.2" r="1.35"/>
<circle cx="351.5" cy="752.8" r="1.35"/>
<circle cx="331.2" cy="748" r="1.35"/>
<circle cx="366.3" cy="668" r="1.35"/>
<circle cx="293.3" cy="675.6" r="1.35"/>
<circle cx="291.8" cy="751.3" r="1.35"/>
<circle cx="261.8" cy="676.2" r="1.35"/>
<circle cx="404.4" cy="719.3" r="1.35"/>
<circle cx="299.5" cy="733.5" r="1.35"/>
<circle cx="309.1" cy="743.1" r="1.35"/>
<circle cx="352.4" cy="724.9" r="1.35"/>
<circle cx="365.8" cy="718.3" r="1.35"/>
<circle cx="365.4" cy="731.1" r="1.35"/>
<circle cx="346.2" cy="752.1" r="1.35"/>
<circle cx="342.7" cy="740.7" r="1.35"/>
<circle cx="306.9" cy="654.5" r="1.35"/>
<circle cx="281.1" cy="666.5" r="1.35"/>
<circle cx="349.4" cy="741.9" r="1.35"/>
<circle cx="287.7" cy="735.8" r="1.35"/>
<circle cx="306.2" cy="712.9" r="1.35"/>
<circle cx="296.7" cy="692.8" r="1.35"/>
<circle cx="331" cy="752.2" r="1.35"/>
<circle cx="298.7" cy="736.3" r="1.35"/>
<circle cx="290.8" cy="663.2" r="1.35"/>
<circle cx="332.3" cy="752.7" r="1.35"/>
<circle cx="288.7" cy="721.4" r="1.35"/>
<circle cx="279.3" cy="594.3" r="1.35"/>
<circle cx="329.2" cy="751.8" r="1.35"/>
<circle cx="346.6" cy="719.8" r="1.35"/>
<circle cx="337.5" cy="740.7" r="1.35"/>
<circle cx="273.3" cy="696.8" r="1.35"/>
<circle cx="252.8" cy="696.4" r="1.35"/>
<circle cx="289.3" cy="574.8" r="1.35"/>
<circle cx="294.1" cy="714.7" r="1.35"/>
<circle cx="285.1" cy="664.3" r="1.35"/>
<circle cx="273.2" cy="690.2" r="1.35"/>
<circle cx="332.9" cy="750.6" r="1.35"/>
<circle cx="314.2" cy="741.3" r="1.35"/>
<circle cx="327.6" cy="749.9" r="1.35"/>
<circle cx="341.4" cy="731.4" r="1.35"/>
<circle cx="303.2" cy="735.9" r="1.35"/>
<circle cx="351" cy="725.7" r="1.35"/>
<circle cx="351.5" cy="746.5" r="1.35"/>
<circle cx="294.7" cy="592.1" r="1.35"/>
<circle cx="323.4" cy="753.9" r="1.35"/>
<circle cx="286.9" cy="733" r="1.35"/>
<circle cx="353.6" cy="741.1" r="1.35"/>
<circle cx="252.7" cy="716.3" r="1.35"/>
<circle cx="295.3" cy="647" r="1.35"/>
<circle cx="304.2" cy="694.5" r="1.35"/>
<circle cx="300" cy="715.2" r="1.35"/>
<circle cx="330.7" cy="746" r="1.35"/>
<circle cx="367.1" cy="706.6" r="1.35"/>
<circle cx="315.8" cy="732" r="1.35"/>
<circle cx="276" cy="676.5" r="1.35"/>
<circle cx="330.7" cy="748.6" r="1.35"/>
<circle cx="366.4" cy="736.5" r="1.35"/>
<circle cx="291.8" cy="661.6" r="1.35"/>
<circle cx="289.9" cy="653.2" r="1.35"/>
<circle cx="368.7" cy="693.6" r="1.35"/>
<circle cx="349.6" cy="740.3" r="1.35"/>
<circle cx="349.2" cy="728.8" r="1.35"/>
<circle cx="344.1" cy="730.2" r="1.35"/>
<circle cx="285.1" cy="595" r="1.35"/>
<circle cx="304.4" cy="728.5" r="1.35"/>
<circle cx="351.8" cy="749.7" r="1.35"/>
<circle cx="304.1" cy="713.7" r="1.35"/>
<circle cx="311.2" cy="702.4" r="1.35"/>
<circle cx="309.7" cy="726.4" r="1.35"/>
<circle cx="321.7" cy="753.4" r="1.35"/>
<circle cx="336.1" cy="749.5" r="1.35"/>
<circle cx="282.1" cy="726.8" r="1.35"/>
<circle cx="341.6" cy="750.6" r="1.35"/>
<circle cx="276.9" cy="745.9" r="1.35"/>
<circle cx="290.6" cy="658.7" r="1.35"/>
<circle cx="247.7" cy="668.3" r="1.35"/>
<circle cx="288.4" cy="649" r="1.35"/>
<circle cx="298.2" cy="716.8" r="1.35"/>
<circle cx="307.6" cy="728.2" r="1.35"/>
<circle cx="380.9" cy="717.1" r="1.35"/>
<circle cx="317" cy="740.5" r="1.35"/>
<circle cx="278.2" cy="684.3" r="1.35"/>
<circle cx="353.8" cy="728.1" r="1.35"/>
<circle cx="298" cy="679.9" r="1.35"/>
<circle cx="302.6" cy="738.3" r="1.35"/>
<circle cx="303.8" cy="709.6" r="1.35"/>
<circle cx="294.8" cy="719.9" r="1.35"/>
<circle cx="315.9" cy="739.2" r="1.35"/>
<circle cx="278.2" cy="698" r="1.35"/>
<circle cx="295.5" cy="656.5" r="1.35"/>
<circle cx="333.5" cy="749.9" r="1.35"/>
<circle cx="305.8" cy="710.9" r="1.35"/>
<circle cx="267.1" cy="715.3" r="1.35"/>
<circle cx="280.3" cy="696.8" r="1.35"/>
<circle cx="378.8" cy="733.9" r="1.35"/>
<circle cx="278.4" cy="677.4" r="1.35"/>
<circle cx="365.2" cy="750" r="1.35"/>
<circle cx="300.5" cy="730.4" r="1.35"/>
<circle cx="282.8" cy="624.6" r="1.35"/>
<circle cx="293.4" cy="701.5" r="1.35"/>
<circle cx="285.2" cy="621.4" r="1.35"/>
<circle cx="307" cy="729.5" r="1.35"/>
<circle cx="289.8" cy="598.9" r="1.35"/>
<circle cx="297.2" cy="725.4" r="1.35"/>
<circle cx="341.8" cy="746.8" r="1.35"/>
<circle cx="308.1" cy="743" r="1.35"/>
<circle cx="368.3" cy="726.9" r="1.35"/>
<circle cx="403.5" cy="706.6" r="1.35"/>
<circle cx="317.9" cy="738.3" r="1.35"/>
<circle cx="341" cy="747.1" r="1.35"/>
<circle cx="287.1" cy="738.4" r="1.35"/>
<circle cx="321.7" cy="752.8" r="1.35"/>
<circle cx="319.7" cy="753.9" r="1.35"/>
<circle cx="309.3" cy="714.6" r="1.35"/>
<circle cx="334.6" cy="741" r="1.35"/>
<circle cx="280.7" cy="630.7" r="1.35"/>
<circle cx="255" cy="683.4" r="1.35"/>
<circle cx="284.6" cy="706.4" r="1.35"/>
<circle cx="289.3" cy="661.4" r="1.35"/>
<circle cx="311.7" cy="751.8" r="1.35"/>
<circle cx="340.3" cy="746.7" r="1.35"/>
<circle cx="397.8" cy="713.8" r="1.35"/>
<circle cx="341.1" cy="751.4" r="1.35"/>
<circle cx="287.6" cy="721.8" r="1.35"/>
<circle cx="330.6" cy="753.6" r="1.35"/>
<circle cx="353.1" cy="747" r="1.35"/>
<circle cx="278.6" cy="708.5" r="1.35"/>
<circle cx="317.1" cy="743.5" r="1.35"/>
<circle cx="292.7" cy="743.9" r="1.35"/>
<circle cx="261.6" cy="668.9" r="1.35"/>
<circle cx="369.6" cy="725" r="1.35"/>
<circle cx="392.2" cy="718.8" r="1.35"/>
<circle cx="304.8" cy="749.8" r="1.35"/>
<circle cx="319.2" cy="747.5" r="1.35"/>
<circle cx="327.5" cy="752.4" r="1.35"/>
<circle cx="301.5" cy="669.7" r="1.35"/>
<circle cx="332.1" cy="754.1" r="1.35"/>
<circle cx="312.6" cy="713.8" r="1.35"/>
<circle cx="290.3" cy="675.2" r="1.35"/>
<circle cx="321.5" cy="752.8" r="1.35"/>
<circle cx="311.1" cy="740.6" r="1.35"/>
<circle cx="271.9" cy="679.4" r="1.35"/>
<circle cx="313" cy="740.6" r="1.35"/>
<circle cx="350.5" cy="696.9" r="1.35"/>
<circle cx="275.2" cy="717.7" r="1.35"/>
<circle cx="286" cy="639.9" r="1.35"/>
<circle cx="304.5" cy="721.8" r="1.35"/>
<circle cx="276.2" cy="722.6" r="1.35"/>
<circle cx="375.9" cy="728.8" r="1.35"/>
<circle cx="314" cy="736.4" r="1.35"/>
<circle cx="296.1" cy="613.8" r="1.35"/>
<circle cx="298.7" cy="725.9" r="1.35"/>
<circle cx="312.9" cy="740" r="1.35"/>
<circle cx="385.4" cy="707.6" r="1.35"/>
<circle cx="330.3" cy="753.5" r="1.35"/>
<circle cx="287.9" cy="703" r="1.35"/>
<circle cx="301.1" cy="752.4" r="1.35"/>
<circle cx="286.4" cy="725.8" r="1.35"/>
<circle cx="303.5" cy="724.5" r="1.35"/>
<circle cx="307.9" cy="745" r="1.35"/>
<circle cx="374.3" cy="748.6" r="1.35"/>
<circle cx="250.1" cy="729.7" r="1.35"/>
<circle cx="355.3" cy="749.4" r="1.35"/>
<circle cx="342.6" cy="734.3" r="1.35"/>
<circle cx="299.1" cy="720.1" r="1.35"/>
<circle cx="336" cy="751.4" r="1.35"/>
<circle cx="352.1" cy="746.4" r="1.35"/>
<circle cx="362.6" cy="734" r="1.35"/>
<circle cx="335.9" cy="752.9" r="1.35"/>
<circle cx="302.5" cy="751.2" r="1.35"/>
<circle cx="299.4" cy="619.4" r="1.35"/>
<circle cx="346.4" cy="714.7" r="1.35"/>
<circle cx="289.5" cy="696.4" r="1.35"/>
<circle cx="287.6" cy="677.2" r="1.35"/>
<circle cx="292.2" cy="722.8" r="1.35"/>
<circle cx="306" cy="724.6" r="1.35"/>
<circle cx="337.9" cy="751.4" r="1.35"/>
<circle cx="307.9" cy="692.5" r="1.35"/>
<circle cx="380" cy="752.4" r="1.35"/>
<circle cx="279.7" cy="749.3" r="1.35"/>
<circle cx="351.6" cy="734.5" r="1.35"/>
<circle cx="327.3" cy="752.9" r="1.35"/>
<circle cx="306.8" cy="687.2" r="1.35"/>
<circle cx="301.6" cy="746.5" r="1.35"/>
<circle cx="339.7" cy="735.6" r="1.35"/>
<circle cx="299.5" cy="719.9" r="1.35"/>
<circle cx="317" cy="738.5" r="1.35"/>
<circle cx="286.3" cy="646.4" r="1.35"/>
<circle cx="288.1" cy="730.4" r="1.35"/>
<circle cx="314.3" cy="749.2" r="1.35"/>
<circle cx="308.9" cy="753.7" r="1.35"/>
<circle cx="309.2" cy="728" r="1.35"/>
<circle cx="357.8" cy="742.2" r="1.35"/>
<circle cx="305.9" cy="647" r="1.35"/>
<circle cx="285.5" cy="743.9" r="1.35"/>
<circle cx="288.3" cy="687.2" r="1.35"/>
<circle cx="321.1" cy="749.1" r="1.35"/>
<circle cx="350" cy="713.4" r="1.35"/>
<circle cx="307.3" cy="734.3" r="1.35"/>
<circle cx="329.7" cy="751.7" r="1.35"/>
<circle cx="340.8" cy="745.7" r="1.35"/>
<circle cx="327" cy="746.2" r="1.35"/>
<circle cx="380.1" cy="750.6" r="1.35"/>
<circle cx="310.7" cy="731.7" r="1.35"/>
<circle cx="289.8" cy="729.1" r="1.35"/>
<circle cx="375" cy="690.6" r="1.35"/>
<circle cx="320.9" cy="752.9" r="1.35"/>
<circle cx="282.1" cy="739.9" r="1.35"/>
<circle cx="363.4" cy="731.3" r="1.35"/>
<circle cx="349.4" cy="747.6" r="1.35"/>
<circle cx="294.4" cy="661.2" r="1.35"/>
<circle cx="307.6" cy="751.8" r="1.35"/>
<circle cx="325.2" cy="749.8" r="1.35"/>
<circle cx="294.5" cy="692.7" r="1.35"/>
<circle cx="293.8" cy="703.8" r="1.35"/>
<circle cx="330.7" cy="752.6" r="1.35"/>
<circle cx="302.7" cy="728.1" r="1.35"/>
<circle cx="304.4" cy="681.7" r="1.35"/>
<circle cx="308.3" cy="733.6" r="1.35"/>
<circle cx="296.1" cy="733.7" r="1.35"/>
<circle cx="339.5" cy="749.3" r="1.35"/>
<circle cx="309.1" cy="696.4" r="1.35"/>
<circle cx="297" cy="720.4" r="1.35"/>
<circle cx="309.1" cy="742.2" r="1.35"/>
<circle cx="354.1" cy="743.7" r="1.35"/>
<circle cx="296" cy="713.4" r="1.35"/>
<circle cx="317.7" cy="745.3" r="1.35"/>
<circle cx="380.4" cy="702.9" r="1.35"/>
<circle cx="300.8" cy="698.3" r="1.35"/>
<circle cx="269.6" cy="686.3" r="1.35"/>
<circle cx="277.9" cy="727.5" r="1.35"/>
<circle cx="334.9" cy="748.7" r="1.35"/>
<circle cx="341.8" cy="750.6" r="1.35"/>
<circle cx="368.4" cy="719.1" r="1.35"/>
<circle cx="299.5" cy="707.3" r="1.35"/>
<circle cx="309.8" cy="727.7" r="1.35"/>
<circle cx="296.6" cy="672.9" r="1.35"/>
<circle cx="283.8" cy="738.1" r="1.35"/>
<circle cx="305.5" cy="684.8" r="1.35"/>
<circle cx="365.3" cy="731" r="1.35"/>
<circle cx="321.8" cy="753.2" r="1.35"/>
<circle cx="302.9" cy="716.3" r="1.35"/>
<circle cx="310.4" cy="723.8" r="1.35"/>
<circle cx="360.5" cy="720" r="1.35"/>
<circle cx="344.8" cy="723.9" r="1.35"/>
<circle cx="292.6" cy="587.1" r="1.35"/>
<circle cx="297.1" cy="712.8" r="1.35"/>
<circle cx="333" cy="750.1" r="1.35"/>
<circle cx="315.3" cy="743.8" r="1.35"/>
<circle cx="279.2" cy="710.5" r="1.35"/>
<circle cx="287.6" cy="601.8" r="1.35"/>
<circle cx="347.3" cy="729.2" r="1.35"/>
<circle cx="405.5" cy="689.1" r="1.35"/>
<circle cx="325.9" cy="752.7" r="1.35"/>
<circle cx="316.6" cy="737.8" r="1.35"/>
<circle cx="296.6" cy="615.5" r="1.35"/>
<circle cx="330.5" cy="743.6" r="1.35"/>
<circle cx="303.8" cy="743.2" r="1.35"/>
<circle cx="374.9" cy="706" r="1.35"/>
<circle cx="297.9" cy="708.1" r="1.35"/>
<circle cx="303.7" cy="738.5" r="1.35"/>
<circle cx="334.7" cy="750.5" r="1.35"/>
<circle cx="352.7" cy="748" r="1.35"/>
<circle cx="289.3" cy="695" r="1.35"/>
<circle cx="375.1" cy="681.1" r="1.35"/>
<circle cx="291.1" cy="691" r="1.35"/>
<circle cx="294.9" cy="715.8" r="1.35"/>
<circle cx="351.5" cy="707" r="1.35"/>
<circle cx="339.5" cy="753.3" r="1.35"/>
<circle cx="294.7" cy="721.1" r="1.35"/>
<circle cx="347.7" cy="746.3" r="1.35"/>
<circle cx="371.4" cy="730.7" r="1.35"/>
<circle cx="256.7" cy="695.9" r="1.35"/>
<circle cx="287.6" cy="743.2" r="1.35"/>
<circle cx="321" cy="752.7" r="1.35"/>
<circle cx="286.4" cy="642.6" r="1.35"/>
<circle cx="297.3" cy="705" r="1.35"/>
<circle cx="309.9" cy="735.6" r="1.35"/>
<circle cx="297.8" cy="739.2" r="1.35"/>
<circle cx="260.8" cy="669.9" r="1.35"/>
<circle cx="324.5" cy="753.6" r="1.35"/>
<circle cx="359.2" cy="743.9" r="1.35"/>
<circle cx="364.7" cy="749.7" r="1.35"/>
<circle cx="300.6" cy="697.8" r="1.35"/>
<circle cx="340.9" cy="720.4" r="1.35"/>
<circle cx="337.8" cy="735.8" r="1.35"/>
<circle cx="321.5" cy="750.2" r="1.35"/>
<circle cx="278.6" cy="673.1" r="1.35"/>
<circle cx="295.4" cy="735.3" r="1.35"/>
<circle cx="247.1" cy="699.1" r="1.35"/>
<circle cx="316" cy="750.5" r="1.35"/>
<circle cx="371" cy="732.3" r="1.35"/>
<circle cx="310.5" cy="742.5" r="1.35"/>
<circle cx="301.6" cy="741" r="1.35"/>
<circle cx="290.3" cy="708.1" r="1.35"/>
<circle cx="325.5" cy="753.1" r="1.35"/>
<circle cx="312.6" cy="732.8" r="1.35"/>
<circle cx="313.5" cy="746.2" r="1.35"/>
<circle cx="285.9" cy="726.9" r="1.35"/>
<circle cx="355.9" cy="732" r="1.35"/>
<circle cx="293.5" cy="678.2" r="1.35"/>
<circle cx="293.2" cy="705.4" r="1.35"/>
<circle cx="340.4" cy="752.7" r="1.35"/>
<circle cx="270.2" cy="740.4" r="1.35"/>
<circle cx="330.7" cy="747.3" r="1.35"/>
<circle cx="401.9" cy="717.5" r="1.35"/>
<circle cx="342.5" cy="737.2" r="1.35"/>
<circle cx="315.8" cy="745.4" r="1.35"/>
<circle cx="356.1" cy="743.5" r="1.35"/>
<circle cx="303.8" cy="739.9" r="1.35"/>
<circle cx="326.7" cy="751.5" r="1.35"/>
<circle cx="317.2" cy="750.6" r="1.35"/>
<circle cx="314.8" cy="749.3" r="1.35"/>
<circle cx="322.6" cy="753.7" r="1.35"/>
<circle cx="335.9" cy="750.2" r="1.35"/>
<circle cx="308.3" cy="737.6" r="1.35"/>
<circle cx="245.4" cy="748" r="1.35"/>
<circle cx="368.5" cy="712.5" r="1.35"/>
<circle cx="313.1" cy="726.1" r="1.35"/>
<circle cx="278.2" cy="722.9" r="1.35"/>
<circle cx="345.7" cy="750.8" r="1.35"/>
<circle cx="326" cy="748" r="1.35"/>
<circle cx="354.3" cy="730.6" r="1.35"/>
<circle cx="271.2" cy="689.8" r="1.35"/>
<circle cx="288.3" cy="742.8" r="1.35"/>
<circle cx="332" cy="748.1" r="1.35"/>
<circle cx="344.7" cy="749.5" r="1.35"/>
<circle cx="362.1" cy="663.7" r="1.35"/>
<circle cx="333.2" cy="740.8" r="1.35"/>
<circle cx="294.5" cy="745.4" r="1.35"/>
<circle cx="298.6" cy="710.3" r="1.35"/>
<circle cx="373.2" cy="736.2" r="1.35"/>
<circle cx="376.9" cy="737.2" r="1.35"/>
<circle cx="337.9" cy="721.8" r="1.35"/>
<circle cx="341" cy="743.9" r="1.35"/>
<circle cx="326.6" cy="753.7" r="1.35"/>
<circle cx="356.7" cy="726.2" r="1.35"/>
<circle cx="307.4" cy="743.4" r="1.35"/>
<circle cx="339" cy="741.7" r="1.35"/>
<circle cx="307.8" cy="708.4" r="1.35"/>
<circle cx="291.6" cy="708.1" r="1.35"/>
<circle cx="349.1" cy="745.7" r="1.35"/>
<circle cx="293.9" cy="684.7" r="1.35"/>
<circle cx="313.2" cy="703.4" r="1.35"/>
<circle cx="326.3" cy="750" r="1.35"/>
<circle cx="328.3" cy="749.1" r="1.35"/>
<circle cx="320.9" cy="751.8" r="1.35"/>
<circle cx="385" cy="732.9" r="1.35"/>
<circle cx="370.9" cy="739.9" r="1.35"/>
<circle cx="325" cy="754.6" r="1.35"/>
<circle cx="355.4" cy="742.2" r="1.35"/>
<circle cx="321.7" cy="753" r="1.35"/>
<circle cx="349.8" cy="753.4" r="1.35"/>
<circle cx="344.1" cy="736.5" r="1.35"/>
<circle cx="342.8" cy="750.5" r="1.35"/>
<circle cx="287.6" cy="716.4" r="1.35"/>
<circle cx="298.7" cy="721.3" r="1.35"/>
<circle cx="369" cy="677.2" r="1.35"/>
<circle cx="329.8" cy="750" r="1.35"/>
<circle cx="331.2" cy="739.4" r="1.35"/>
<circle cx="321" cy="753.2" r="1.35"/>
<circle cx="282.3" cy="595.7" r="1.35"/>
<circle cx="361.9" cy="751.7" r="1.35"/>
<circle cx="361" cy="704.1" r="1.35"/>
<circle cx="323" cy="754.4" r="1.35"/>
<circle cx="336.4" cy="741" r="1.35"/>
<circle cx="319.6" cy="745.3" r="1.35"/>
<circle cx="337.6" cy="752.5" r="1.35"/>
<circle cx="330.2" cy="750.8" r="1.35"/>
<circle cx="368.5" cy="749.1" r="1.35"/>
<circle cx="344.9" cy="743.5" r="1.35"/>
<circle cx="339" cy="738.7" r="1.35"/>
<circle cx="325.1" cy="752.3" r="1.35"/>
<circle cx="371.6" cy="732.4" r="1.35"/>
<circle cx="373.2" cy="729.9" r="1.35"/>
<circle cx="290.4" cy="734.3" r="1.35"/>
<circle cx="285.8" cy="746.5" r="1.35"/>
<circle cx="346.8" cy="720.1" r="1.35"/>
<circle cx="322.7" cy="754.5" r="1.35"/>
<circle cx="294.5" cy="655.8" r="1.35"/>
<circle cx="313.1" cy="747.4" r="1.35"/>
<circle cx="382.1" cy="729.2" r="1.35"/>
<circle cx="354.6" cy="712.1" r="1.35"/>
<circle cx="384.9" cy="724.4" r="1.35"/>
<circle cx="308.7" cy="735.8" r="1.35"/>
<circle cx="302.8" cy="720.6" r="1.35"/>
<circle cx="303.9" cy="661.1" r="1.35"/>
<circle cx="293.8" cy="718.8" r="1.35"/>
<circle cx="303.8" cy="723.4" r="1.35"/>
<circle cx="334.4" cy="742.6" r="1.35"/>
<circle cx="312.2" cy="737.2" r="1.35"/>
<circle cx="332" cy="747.3" r="1.35"/>
<circle cx="295.4" cy="712.3" r="1.35"/>
<circle cx="292.4" cy="743.5" r="1.35"/>
<circle cx="322.8" cy="754.6" r="1.35"/>
<circle cx="276.4" cy="674.3" r="1.35"/>
<circle cx="366.7" cy="734.2" r="1.35"/>
<circle cx="338.2" cy="747.9" r="1.35"/>
<circle cx="304.8" cy="722.5" r="1.35"/>
<circle cx="355.4" cy="739.6" r="1.35"/>
<circle cx="327.4" cy="751.8" r="1.35"/>
<circle cx="349.2" cy="745.5" r="1.35"/>
<circle cx="342.7" cy="751" r="1.35"/>
<circle cx="346.1" cy="736.3" r="1.35"/>
<circle cx="371.5" cy="721" r="1.35"/>
<circle cx="339.5" cy="735.9" r="1.35"/>
<circle cx="401.9" cy="742.6" r="1.35"/>
<circle cx="346.1" cy="731.5" r="1.35"/>
<circle cx="313.1" cy="744.3" r="1.35"/>
<circle cx="367.9" cy="709.5" r="1.35"/>
<circle cx="308.7" cy="713" r="1.35"/>
<circle cx="281.3" cy="714.4" r="1.35"/>
<circle cx="310.6" cy="742.9" r="1.35"/>
<circle cx="301.5" cy="700.5" r="1.35"/>
<circle cx="279.8" cy="627.9" r="1.35"/>
<circle cx="327.3" cy="752.5" r="1.35"/>
<circle cx="300.7" cy="746" r="1.35"/>
<circle cx="263.7" cy="747.9" r="1.35"/>
<circle cx="305" cy="717.5" r="1.35"/>
<circle cx="295.9" cy="730.4" r="1.35"/>
<circle cx="267" cy="743" r="1.35"/>
<circle cx="279.6" cy="741.1" r="1.35"/>
<circle cx="379.8" cy="704" r="1.35"/>
<circle cx="294.8" cy="666" r="1.35"/>
<circle cx="275.6" cy="728.6" r="1.35"/>
<circle cx="339.6" cy="750.3" r="1.35"/>
<circle cx="308.1" cy="717.2" r="1.35"/>
<circle cx="304.5" cy="748.1" r="1.35"/>
<circle cx="318" cy="748.5" r="1.35"/>
<circle cx="261.7" cy="707" r="1.35"/>
<circle cx="329.8" cy="752.5" r="1.35"/>
<circle cx="307.7" cy="742.3" r="1.35"/>
<circle cx="291.3" cy="716.3" r="1.35"/>
<circle cx="292.3" cy="699.6" r="1.35"/>
<circle cx="319.7" cy="750.9" r="1.35"/>
<circle cx="338" cy="743.6" r="1.35"/>
<circle cx="291.7" cy="679.3" r="1.35"/>
<circle cx="353.7" cy="713" r="1.35"/>
<circle cx="289" cy="728.8" r="1.35"/>
<circle cx="327" cy="753.4" r="1.35"/>
<circle cx="371.2" cy="743.8" r="1.35"/>
<circle cx="311.3" cy="725.9" r="1.35"/>
<circle cx="297.6" cy="706.4" r="1.35"/>
<circle cx="286.4" cy="683.7" r="1.35"/>
<circle cx="349.6" cy="723.1" r="1.35"/>
<circle cx="298.1" cy="648.4" r="1.35"/>
<circle cx="312.6" cy="719.4" r="1.35"/>
<circle cx="281" cy="626.3" r="1.35"/>
<circle cx="282.2" cy="687.8" r="1.35"/>
<circle cx="282.1" cy="714.1" r="1.35"/>
<circle cx="387.8" cy="736.1" r="1.35"/>
<circle cx="372.6" cy="735.3" r="1.35"/>
<circle cx="362.2" cy="718.8" r="1.35"/>
<circle cx="301" cy="693.4" r="1.35"/>
<circle cx="281.6" cy="592.8" r="1.35"/>
<circle cx="348.3" cy="750.7" r="1.35"/>
<circle cx="286.8" cy="710.1" r="1.35"/>
<circle cx="355.6" cy="738.4" r="1.35"/>
<circle cx="315.1" cy="745.9" r="1.35"/>
<circle cx="348.2" cy="747.1" r="1.35"/>
<circle cx="287.3" cy="712.8" r="1.35"/>
<circle cx="291.6" cy="721" r="1.35"/>
<circle cx="323.8" cy="753.7" r="1.35"/>
<circle cx="298.4" cy="704.9" r="1.35"/>
<circle cx="297.8" cy="705.5" r="1.35"/>
<circle cx="283.7" cy="726.3" r="1.35"/>
<circle cx="330.4" cy="729.4" r="1.35"/>
<circle cx="346.7" cy="752.3" r="1.35"/>
<circle cx="368.8" cy="742" r="1.35"/>
<circle cx="309.7" cy="739" r="1.35"/>
<circle cx="279.5" cy="675.5" r="1.35"/>
<circle cx="311.6" cy="730.7" r="1.35"/>
<circle cx="311.3" cy="750.5" r="1.35"/>
<circle cx="267.7" cy="699.7" r="1.35"/>
<circle cx="371.6" cy="745.5" r="1.35"/>
<circle cx="279" cy="690.8" r="1.35"/>
<circle cx="374" cy="711.7" r="1.35"/>
<circle cx="291.9" cy="691" r="1.35"/>
<circle cx="344.6" cy="737.4" r="1.35"/>
<circle cx="315.2" cy="741.5" r="1.35"/>
</g>
<g class="bs" fill="#3b66c4">
<circle cx="228.5" cy="486" r="1.6"/>
<circle cx="238.4" cy="486" r="1.6"/>
<circle cx="247.2" cy="486" r="1.6"/>
<circle cx="268.2" cy="486" r="1.6"/>
<circle cx="272.6" cy="486" r="1.6"/>
<circle cx="194" cy="506.2" r="1.6"/>
<circle cx="223.5" cy="506.2" r="1.6"/>
<circle cx="244.5" cy="506.2" r="1.6"/>
<circle cx="202.5" cy="518" r="1.6"/>
<circle cx="209.5" cy="518" r="1.6"/>
<circle cx="253.6" cy="518" r="1.6"/>
<circle cx="272.4" cy="518" r="1.6"/>
<circle cx="263.3" cy="526.4" r="1.6"/>
<circle cx="243.4" cy="532.9" r="1.6"/>
<circle cx="258.4" cy="532.9" r="1.6"/>
<circle cx="274.4" cy="538.2" r="1.6"/>
<circle cx="244.8" cy="542.7" r="1.6"/>
<circle cx="268.9" cy="542.7" r="1.6"/>
<circle cx="228.5" cy="546.6" r="1.6"/>
<circle cx="271.6" cy="546.6" r="1.6"/>
<circle cx="249.8" cy="550.1" r="1.6"/>
<circle cx="256.3" cy="550.1" r="1.6"/>
<circle cx="261.3" cy="550.1" r="1.6"/>
<circle cx="207.3" cy="553.1" r="1.6"/>
<circle cx="257.6" cy="553.1" r="1.6"/>
<circle cx="238.6" cy="555.9" r="1.6"/>
<circle cx="260.3" cy="555.9" r="1.6"/>
<circle cx="239.6" cy="558.5" r="1.6"/>
<circle cx="261.5" cy="558.5" r="1.6"/>
<circle cx="272.4" cy="558.5" r="1.6"/>
<circle cx="276.3" cy="558.5" r="1.6"/>
<circle cx="276.3" cy="560.8" r="1.6"/>
<circle cx="265.3" cy="562.9" r="1.6"/>
<circle cx="266.2" cy="565" r="1.6"/>
<circle cx="272.2" cy="566.8" r="1.6"/>
<circle cx="257.1" cy="568.6" r="1.6"/>
<circle cx="205.4" cy="570.3" r="1.6"/>
<circle cx="275.8" cy="570.3" r="1.6"/>
<circle cx="278.6" cy="570.3" r="1.6"/>
<circle cx="224.4" cy="571.9" r="1.6"/>
<circle cx="274.4" cy="573.3" r="1.6"/>
<circle cx="276.3" cy="573.3" r="1.6"/>
<circle cx="278.1" cy="574.8" r="1.6"/>
<circle cx="279.9" cy="576.1" r="1.6"/>
<circle cx="235.5" cy="577.4" r="1.6"/>
<circle cx="273.6" cy="577.4" r="1.6"/>
<circle cx="255.6" cy="578.7" r="1.6"/>
<circle cx="257.1" cy="578.7" r="1.6"/>
<circle cx="261.6" cy="578.7" r="1.6"/>
<circle cx="239.7" cy="582.1" r="1.6"/>
<circle cx="244.5" cy="583.2" r="1.6"/>
<circle cx="270.9" cy="582.1" r="1.6"/>
<circle cx="271.8" cy="583.2" r="1.6"/>
<circle cx="275.1" cy="584.2" r="1.6"/>
<circle cx="276.3" cy="583.2" r="1.6"/>
<circle cx="219.4" cy="579.9" r="1.6"/>
<circle cx="254.7" cy="578.7" r="1.6"/>
<circle cx="265.6" cy="585.2" r="1.6"/>
<circle cx="256.3" cy="587.1" r="1.6"/>
<circle cx="265.6" cy="588" r="1.6"/>
<circle cx="165.6" cy="597.2" r="1.6"/>
<circle cx="203.6" cy="598.6" r="1.6"/>
<circle cx="216.5" cy="600.7" r="1.6"/>
<circle cx="224.3" cy="600.9" r="1.6"/>
<circle cx="224.3" cy="601.6" r="1.6"/>
<circle cx="207.1" cy="604.2" r="1.6"/>
<circle cx="147.6" cy="606.2" r="1.6"/>
<circle cx="198.6" cy="613.1" r="1.6"/>
<circle cx="201.9" cy="616.1" r="1.6"/>
<circle cx="210.9" cy="613.7" r="1.6"/>
<circle cx="206.8" cy="604.4" r="1.6"/>
<circle cx="222" cy="625.7" r="1.6"/>
<circle cx="222.9" cy="630.7" r="1.6"/>
<circle cx="229.3" cy="637.4" r="1.6"/>
<circle cx="231.4" cy="640.9" r="1.6"/>
<circle cx="238.4" cy="638.8" r="1.6"/>
<circle cx="377.5" cy="586.1" r="1.6"/>
<circle cx="396.5" cy="601.2" r="1.6"/>
<circle cx="366.8" cy="625.2" r="1.6"/>
<circle cx="398.3" cy="622.3" r="1.6"/>
<circle cx="396.5" cy="627.6" r="1.6"/>
<circle cx="386" cy="630.7" r="1.6"/>
<circle cx="412.5" cy="643.1" r="1.6"/>
<circle cx="378.9" cy="644.7" r="1.6"/>
<circle cx="369.9" cy="648.9" r="1.6"/>
<circle cx="401.5" cy="650.2" r="1.6"/>
<circle cx="383.6" cy="654.4" r="1.6"/>
<circle cx="418.8" cy="654.4" r="1.6"/>
<circle cx="383.1" cy="658.3" r="1.6"/>
<circle cx="244.4" cy="624.6" r="1.6"/>
<circle cx="264.6" cy="659.1" r="1.6"/>
<circle cx="278.7" cy="607.3" r="1.6"/>
<circle cx="252.3" cy="610.7" r="1.6"/>
<circle cx="263.2" cy="595" r="1.6"/>
<circle cx="267.8" cy="653.8" r="1.6"/>
<circle cx="253.5" cy="639.2" r="1.6"/>
<circle cx="253.9" cy="606.3" r="1.6"/>
<circle cx="255" cy="604.9" r="1.6"/>
<circle cx="252.7" cy="637.9" r="1.6"/>
<circle cx="255.7" cy="650.1" r="1.6"/>
<circle cx="278.9" cy="653.3" r="1.6"/>
<circle cx="276.1" cy="652.9" r="1.6"/>
<circle cx="276.5" cy="641.4" r="1.6"/>
<circle cx="256.6" cy="621.7" r="1.6"/>
<circle cx="276.3" cy="622.3" r="1.6"/>
<circle cx="278.1" cy="638.1" r="1.6"/>
<circle cx="277.8" cy="612.3" r="1.6"/>
<circle cx="275.2" cy="632.3" r="1.6"/>
<circle cx="258" cy="649.6" r="1.6"/>
<circle cx="249.8" cy="621.2" r="1.6"/>
<circle cx="277.9" cy="600.7" r="1.6"/>
<circle cx="269.9" cy="639.5" r="1.6"/>
<circle cx="277.6" cy="602.3" r="1.6"/>
<circle cx="277.4" cy="653.5" r="1.6"/>
<circle cx="265.5" cy="596.3" r="1.6"/>
<circle cx="267.1" cy="590.5" r="1.6"/>
<circle cx="266.7" cy="658.5" r="1.6"/>
<circle cx="262.1" cy="647.6" r="1.6"/>
<circle cx="242.6" cy="609.5" r="1.6"/>
<circle cx="242.6" cy="645.3" r="1.6"/>
<circle cx="252" cy="665" r="1.6"/>
<circle cx="267.7" cy="662.8" r="1.6"/>
<circle cx="265" cy="647.7" r="1.6"/>
<circle cx="240.7" cy="630.1" r="1.6"/>
<circle cx="257.7" cy="629.7" r="1.6"/>
<circle cx="257.7" cy="603.9" r="1.6"/>
<circle cx="269.3" cy="664.8" r="1.6"/>
<circle cx="273" cy="590.5" r="1.6"/>
<circle cx="242.9" cy="667" r="1.6"/>
<circle cx="272.6" cy="647.4" r="1.6"/>
<circle cx="277.6" cy="601.8" r="1.6"/>
<circle cx="277.1" cy="615.2" r="1.6"/>
<circle cx="276.3" cy="592.1" r="1.6"/>
<circle cx="249.2" cy="630.3" r="1.6"/>
<circle cx="279.1" cy="645.7" r="1.6"/>
<circle cx="241.5" cy="663.8" r="1.6"/>
<circle cx="254.8" cy="647" r="1.6"/>
<circle cx="276.8" cy="646.8" r="1.6"/>
<circle cx="258.6" cy="629.3" r="1.6"/>
<circle cx="276.9" cy="610.3" r="1.6"/>
<circle cx="270" cy="624.4" r="1.6"/>
<circle cx="278.6" cy="643" r="1.6"/>
<circle cx="251.3" cy="654.1" r="1.6"/>
<circle cx="246.7" cy="608.2" r="1.6"/>
<circle cx="269.7" cy="660.1" r="1.6"/>
<circle cx="279.2" cy="607.7" r="1.6"/>
<circle cx="261.9" cy="631.5" r="1.6"/>
<circle cx="257.9" cy="607.3" r="1.6"/>
<circle cx="279.1" cy="654.9" r="1.6"/>
<circle cx="274" cy="655.2" r="1.6"/>
<circle cx="265" cy="655.7" r="1.6"/>
<circle cx="269.9" cy="640.5" r="1.6"/>
<circle cx="277.3" cy="633.8" r="1.6"/>
<circle cx="277.3" cy="650.1" r="1.6"/>
<circle cx="268.6" cy="644.5" r="1.6"/>
<circle cx="388.5" cy="666.9" r="1.6"/>
<circle cx="266.3" cy="663.2" r="1.6"/>
<circle cx="268.1" cy="590.5" r="1.6"/>
<circle cx="272.7" cy="625.6" r="1.6"/>
<circle cx="251.2" cy="635.1" r="1.6"/>
<circle cx="268.4" cy="641.5" r="1.6"/>
<circle cx="276.1" cy="593.6" r="1.6"/>
<circle cx="256" cy="604.4" r="1.6"/>
<circle cx="266.2" cy="646.1" r="1.6"/>
<circle cx="279.2" cy="662.8" r="1.6"/>
<circle cx="262.3" cy="624.6" r="1.6"/>
<circle cx="267.2" cy="613" r="1.6"/>
<circle cx="244.8" cy="612.3" r="1.6"/>
<circle cx="254.5" cy="615.2" r="1.6"/>
<circle cx="270.5" cy="641.2" r="1.6"/>
<circle cx="277.1" cy="613" r="1.6"/>
<circle cx="264.3" cy="652.4" r="1.6"/>
<circle cx="258.1" cy="620.3" r="1.6"/>
<circle cx="266.5" cy="652" r="1.6"/>
<circle cx="255.1" cy="600.7" r="1.6"/>
<circle cx="275.9" cy="660.5" r="1.6"/>
<circle cx="252.2" cy="627.5" r="1.6"/>
<circle cx="246.9" cy="598.3" r="1.6"/>
<circle cx="258.6" cy="616.9" r="1.6"/>
<circle cx="255.4" cy="665.3" r="1.6"/>
<circle cx="265.6" cy="599.5" r="1.6"/>
<circle cx="279.2" cy="654.4" r="1.6"/>
<circle cx="258.4" cy="662.3" r="1.6"/>
<circle cx="272.2" cy="641.5" r="1.6"/>
<circle cx="269.4" cy="643.8" r="1.6"/>
<circle cx="276.6" cy="610.7" r="1.6"/>
<circle cx="273" cy="600.1" r="1.6"/>
<circle cx="267.4" cy="608.6" r="1.6"/>
<circle cx="263.2" cy="653.4" r="1.6"/>
<circle cx="259.1" cy="664.9" r="1.6"/>
<circle cx="270.1" cy="625.1" r="1.6"/>
<circle cx="278.3" cy="665.9" r="1.6"/>
<circle cx="248.3" cy="631.1" r="1.6"/>
<circle cx="263.1" cy="657.2" r="1.6"/>
<circle cx="260.1" cy="658.1" r="1.6"/>
<circle cx="252.3" cy="634.4" r="1.6"/>
<circle cx="253.5" cy="620.3" r="1.6"/>
<circle cx="274.5" cy="656" r="1.6"/>
<circle cx="270.1" cy="629.9" r="1.6"/>
<circle cx="273.4" cy="618.8" r="1.6"/>
<circle cx="247.5" cy="613.4" r="1.6"/>
<circle cx="242.4" cy="614.5" r="1.6"/>
<circle cx="260.4" cy="644.5" r="1.6"/>
<circle cx="278.6" cy="604.9" r="1.6"/>
<circle cx="276.9" cy="664.6" r="1.6"/>
<circle cx="255.6" cy="634.7" r="1.6"/>
<circle cx="249.9" cy="638.4" r="1.6"/>
<circle cx="248.6" cy="642.9" r="1.6"/>
<circle cx="265" cy="608.2" r="1.6"/>
<circle cx="385.9" cy="662.1" r="1.6"/>
<circle cx="275.8" cy="634.4" r="1.6"/>
<circle cx="275.7" cy="641.4" r="1.6"/>
<circle cx="276.1" cy="611.1" r="1.6"/>
<circle cx="254" cy="648.3" r="1.6"/>
<circle cx="382.5" cy="662.7" r="1.6"/>
<circle cx="243.6" cy="656.5" r="1.6"/>
<circle cx="275.3" cy="665.7" r="1.6"/>
<circle cx="257.7" cy="637.4" r="1.6"/>
<circle cx="274.1" cy="613.8" r="1.6"/>
<circle cx="271.9" cy="622.8" r="1.6"/>
<circle cx="248.4" cy="643.2" r="1.6"/>
<circle cx="272.3" cy="646.7" r="1.6"/>
<circle cx="267.9" cy="653.1" r="1.6"/>
<circle cx="262.2" cy="617.5" r="1.6"/>
<circle cx="252.6" cy="664.7" r="1.6"/>
<circle cx="247.1" cy="590.5" r="1.6"/>
<circle cx="253.6" cy="665.8" r="1.6"/>
<circle cx="249" cy="642.9" r="1.6"/>
<circle cx="277.1" cy="613.4" r="1.6"/>
<circle cx="275.9" cy="615.2" r="1.6"/>
<circle cx="262.2" cy="602.3" r="1.6"/>
<circle cx="257.7" cy="634.9" r="1.6"/>
<circle cx="270" cy="658.7" r="1.6"/>
<circle cx="272" cy="664.3" r="1.6"/>
<circle cx="268.3" cy="634.4" r="1.6"/>
</g>
<g class="bb" fill="#ed7d31" fill-opacity=".55" stroke="#e0752b" stroke-opacity=".85" stroke-width=".7">
<circle cx="340.7" cy="754.6" r="1.3"/>
<circle cx="335.6" cy="754.6" r="1.3"/>
<circle cx="340.5" cy="754.6" r="1.3"/>
<circle cx="372.1" cy="754.6" r="1.3"/>
<circle cx="383" cy="754.6" r="1.3"/>
<circle cx="297" cy="754.6" r="1.3"/>
<circle cx="265.8" cy="754.6" r="1.3"/>
<circle cx="300.7" cy="754.6" r="1.3"/>
<circle cx="307.1" cy="754.6" r="1.3"/>
<circle cx="299.2" cy="754.6" r="1.3"/>
<circle cx="244.4" cy="754.6" r="1.3"/>
<circle cx="264.6" cy="754.6" r="1.3"/>
<circle cx="317.2" cy="754.6" r="1.3"/>
<circle cx="321.3" cy="754.6" r="1.3"/>
<circle cx="358.8" cy="754.6" r="1.3"/>
<circle cx="320" cy="754.6" r="1.3"/>
<circle cx="313.2" cy="754.6" r="1.3"/>
<circle cx="374" cy="754.6" r="1.3"/>
<circle cx="282.6" cy="754.6" r="1.3"/>
<circle cx="338.4" cy="754.6" r="1.3"/>
<circle cx="278.7" cy="754.6" r="1.3"/>
<circle cx="252.3" cy="754.6" r="1.3"/>
<circle cx="293.7" cy="754.6" r="1.3"/>
<circle cx="405.9" cy="754.6" r="1.3"/>
<circle cx="358" cy="754.6" r="1.3"/>
<circle cx="296.4" cy="754.6" r="1.3"/>
<circle cx="303.9" cy="754.6" r="1.3"/>
<circle cx="305.2" cy="754.6" r="1.3"/>
<circle cx="356.1" cy="754.6" r="1.3"/>
<circle cx="313.7" cy="754.6" r="1.3"/>
<circle cx="289.7" cy="754.6" r="1.3"/>
<circle cx="311" cy="754.6" r="1.3"/>
<circle cx="275.3" cy="754.6" r="1.3"/>
<circle cx="294.4" cy="754.6" r="1.3"/>
<circle cx="289" cy="754.6" r="1.3"/>
<circle cx="296.6" cy="754.6" r="1.3"/>
<circle cx="333.5" cy="754.6" r="1.3"/>
<circle cx="322.2" cy="754.6" r="1.3"/>
<circle cx="318.7" cy="754.6" r="1.3"/>
<circle cx="293.2" cy="754.6" r="1.3"/>
<circle cx="347" cy="754.6" r="1.3"/>
<circle cx="303.1" cy="754.6" r="1.3"/>
<circle cx="284.2" cy="754.6" r="1.3"/>
<circle cx="291.5" cy="754.6" r="1.3"/>
<circle cx="289.7" cy="754.6" r="1.3"/>
<circle cx="293.7" cy="754.6" r="1.3"/>
<circle cx="309.5" cy="754.6" r="1.3"/>
<circle cx="282" cy="754.6" r="1.3"/>
<circle cx="299.7" cy="754.6" r="1.3"/>
<circle cx="297.6" cy="754.6" r="1.3"/>
<circle cx="244" cy="754.6" r="1.3"/>
<circle cx="307.7" cy="754.6" r="1.3"/>
<circle cx="314" cy="754.6" r="1.3"/>
<circle cx="263.2" cy="754.6" r="1.3"/>
<circle cx="324.8" cy="754.6" r="1.3"/>
<circle cx="337.5" cy="754.6" r="1.3"/>
<circle cx="306" cy="754.6" r="1.3"/>
<circle cx="271.3" cy="754.6" r="1.3"/>
<circle cx="347.7" cy="754.6" r="1.3"/>
<circle cx="296.6" cy="754.6" r="1.3"/>
<circle cx="284.3" cy="754.6" r="1.3"/>
<circle cx="363.6" cy="754.6" r="1.3"/>
<circle cx="305.8" cy="754.6" r="1.3"/>
<circle cx="321.7" cy="754.6" r="1.3"/>
<circle cx="345.9" cy="754.6" r="1.3"/>
<circle cx="328.5" cy="754.6" r="1.3"/>
<circle cx="337.3" cy="754.6" r="1.3"/>
<circle cx="288.5" cy="754.6" r="1.3"/>
<circle cx="305.4" cy="754.6" r="1.3"/>
<circle cx="263.1" cy="754.6" r="1.3"/>
<circle cx="369.8" cy="754.6" r="1.3"/>
<circle cx="318.6" cy="754.6" r="1.3"/>
<circle cx="297.2" cy="754.6" r="1.3"/>
<circle cx="301.5" cy="754.6" r="1.3"/>
<circle cx="327.7" cy="754.6" r="1.3"/>
<circle cx="297.4" cy="754.6" r="1.3"/>
<circle cx="320.8" cy="754.6" r="1.3"/>
<circle cx="291.1" cy="754.6" r="1.3"/>
<circle cx="353.3" cy="754.6" r="1.3"/>
<circle cx="290.5" cy="754.6" r="1.3"/>
<circle cx="322.2" cy="754.6" r="1.3"/>
<circle cx="280.4" cy="754.6" r="1.3"/>
<circle cx="347.6" cy="754.6" r="1.3"/>
<circle cx="321.1" cy="754.6" r="1.3"/>
<circle cx="281.9" cy="754.6" r="1.3"/>
<circle cx="343.5" cy="754.6" r="1.3"/>
<circle cx="312.1" cy="754.6" r="1.3"/>
<circle cx="393.7" cy="754.6" r="1.3"/>
<circle cx="362.6" cy="754.6" r="1.3"/>
<circle cx="277.9" cy="754.6" r="1.3"/>
<circle cx="359.1" cy="754.6" r="1.3"/>
<circle cx="293.3" cy="754.6" r="1.3"/>
<circle cx="305.6" cy="754.6" r="1.3"/>
<circle cx="287.9" cy="754.6" r="1.3"/>
<circle cx="305.7" cy="754.6" r="1.3"/>
<circle cx="322.6" cy="754.6" r="1.3"/>
<circle cx="286.4" cy="754.6" r="1.3"/>
<circle cx="353.1" cy="754.6" r="1.3"/>
<circle cx="301.9" cy="754.6" r="1.3"/>
<circle cx="307.4" cy="754.6" r="1.3"/>
<circle cx="323.6" cy="754.6" r="1.3"/>
<circle cx="274.3" cy="754.6" r="1.3"/>
<circle cx="286.7" cy="754.6" r="1.3"/>
<circle cx="306.6" cy="754.6" r="1.3"/>
<circle cx="368.3" cy="754.6" r="1.3"/>
<circle cx="267.8" cy="754.6" r="1.3"/>
<circle cx="314.2" cy="754.6" r="1.3"/>
<circle cx="304.6" cy="754.6" r="1.3"/>
<circle cx="306.5" cy="754.6" r="1.3"/>
<circle cx="289.8" cy="754.6" r="1.3"/>
<circle cx="299.2" cy="754.6" r="1.3"/>
<circle cx="381.7" cy="754.6" r="1.3"/>
<circle cx="308.9" cy="754.6" r="1.3"/>
<circle cx="291.1" cy="754.6" r="1.3"/>
<circle cx="352" cy="754.6" r="1.3"/>
<circle cx="393.1" cy="754.6" r="1.3"/>
<circle cx="330.2" cy="754.6" r="1.3"/>
<circle cx="288.3" cy="754.6" r="1.3"/>
<circle cx="381.2" cy="754.6" r="1.3"/>
<circle cx="308.6" cy="754.6" r="1.3"/>
<circle cx="377.7" cy="754.6" r="1.3"/>
<circle cx="314.7" cy="754.6" r="1.3"/>
<circle cx="318.8" cy="754.6" r="1.3"/>
<circle cx="365.3" cy="754.6" r="1.3"/>
<circle cx="282.4" cy="754.6" r="1.3"/>
<circle cx="289.3" cy="754.6" r="1.3"/>
<circle cx="253.5" cy="754.6" r="1.3"/>
<circle cx="337.1" cy="754.6" r="1.3"/>
<circle cx="364.6" cy="754.6" r="1.3"/>
<circle cx="283.7" cy="754.6" r="1.3"/>
<circle cx="293.1" cy="754.6" r="1.3"/>
<circle cx="298.2" cy="754.6" r="1.3"/>
<circle cx="298.4" cy="754.6" r="1.3"/>
<circle cx="373.7" cy="754.6" r="1.3"/>
<circle cx="298.2" cy="754.6" r="1.3"/>
<circle cx="300.4" cy="754.6" r="1.3"/>
<circle cx="304.1" cy="754.6" r="1.3"/>
<circle cx="319.5" cy="754.6" r="1.3"/>
<circle cx="314.6" cy="754.6" r="1.3"/>
<circle cx="324.2" cy="754.6" r="1.3"/>
<circle cx="285.8" cy="754.6" r="1.3"/>
<circle cx="302.2" cy="754.6" r="1.3"/>
<circle cx="304.9" cy="754.6" r="1.3"/>
<circle cx="305.5" cy="754.6" r="1.3"/>
<circle cx="342.8" cy="754.6" r="1.3"/>
<circle cx="296" cy="754.6" r="1.3"/>
<circle cx="304.2" cy="754.6" r="1.3"/>
<circle cx="300.6" cy="754.6" r="1.3"/>
<circle cx="370.4" cy="754.6" r="1.3"/>
<circle cx="338" cy="754.6" r="1.3"/>
<circle cx="298.2" cy="754.6" r="1.3"/>
<circle cx="271.7" cy="754.6" r="1.3"/>
<circle cx="334.3" cy="754.6" r="1.3"/>
<circle cx="318.5" cy="754.6" r="1.3"/>
<circle cx="355.6" cy="754.6" r="1.3"/>
<circle cx="253.9" cy="754.6" r="1.3"/>
<circle cx="330.7" cy="754.6" r="1.3"/>
<circle cx="329.7" cy="754.6" r="1.3"/>
<circle cx="348.4" cy="754.6" r="1.3"/>
<circle cx="278.1" cy="754.6" r="1.3"/>
<circle cx="309" cy="754.6" r="1.3"/>
<circle cx="329.6" cy="754.6" r="1.3"/>
<circle cx="347.2" cy="754.6" r="1.3"/>
<circle cx="298.5" cy="754.6" r="1.3"/>
<circle cx="285.4" cy="754.6" r="1.3"/>
<circle cx="319.9" cy="754.6" r="1.3"/>
<circle cx="292.8" cy="754.6" r="1.3"/>
<circle cx="342.3" cy="754.6" r="1.3"/>
<circle cx="255" cy="754.6" r="1.3"/>
<circle cx="413" cy="754.6" r="1.3"/>
<circle cx="357" cy="754.6" r="1.3"/>
<circle cx="321.6" cy="754.6" r="1.3"/>
<circle cx="262.7" cy="754.6" r="1.3"/>
<circle cx="286.8" cy="754.6" r="1.3"/>
<circle cx="318.5" cy="754.6" r="1.3"/>
<circle cx="304.2" cy="754.6" r="1.3"/>
<circle cx="287.7" cy="754.6" r="1.3"/>
<circle cx="302.9" cy="754.6" r="1.3"/>
<circle cx="327.5" cy="754.6" r="1.3"/>
<circle cx="371.4" cy="754.6" r="1.3"/>
<circle cx="342.9" cy="754.6" r="1.3"/>
<circle cx="286" cy="754.6" r="1.3"/>
<circle cx="341.8" cy="754.6" r="1.3"/>
<circle cx="359" cy="754.6" r="1.3"/>
<circle cx="337.6" cy="754.6" r="1.3"/>
<circle cx="305.8" cy="754.6" r="1.3"/>
<circle cx="333.3" cy="754.6" r="1.3"/>
<circle cx="295.8" cy="754.6" r="1.3"/>
<circle cx="390.3" cy="754.6" r="1.3"/>
<circle cx="302.3" cy="754.6" r="1.3"/>
<circle cx="366" cy="754.6" r="1.3"/>
<circle cx="292.2" cy="754.6" r="1.3"/>
<circle cx="327.7" cy="754.6" r="1.3"/>
<circle cx="252.7" cy="754.6" r="1.3"/>
<circle cx="342.8" cy="754.6" r="1.3"/>
<circle cx="355.4" cy="754.6" r="1.3"/>
<circle cx="295" cy="754.6" r="1.3"/>
<circle cx="255.7" cy="754.6" r="1.3"/>
<circle cx="283.2" cy="754.6" r="1.3"/>
<circle cx="370.4" cy="754.6" r="1.3"/>
<circle cx="313.1" cy="754.6" r="1.3"/>
<circle cx="361.3" cy="754.6" r="1.3"/>
<circle cx="269.7" cy="754.6" r="1.3"/>
<circle cx="351.1" cy="754.6" r="1.3"/>
<circle cx="378.5" cy="754.6" r="1.3"/>
<circle cx="368.8" cy="754.6" r="1.3"/>
<circle cx="302.4" cy="754.6" r="1.3"/>
<circle cx="317.4" cy="754.6" r="1.3"/>
<circle cx="289.1" cy="754.6" r="1.3"/>
<circle cx="288.4" cy="754.6" r="1.3"/>
<circle cx="310.6" cy="754.6" r="1.3"/>
<circle cx="299.1" cy="754.6" r="1.3"/>
<circle cx="285.3" cy="754.6" r="1.3"/>
<circle cx="332.5" cy="754.6" r="1.3"/>
<circle cx="348" cy="754.6" r="1.3"/>
<circle cx="303.1" cy="754.6" r="1.3"/>
<circle cx="328" cy="754.6" r="1.3"/>
<circle cx="340.2" cy="754.6" r="1.3"/>
<circle cx="367.2" cy="754.6" r="1.3"/>
<circle cx="350.6" cy="754.6" r="1.3"/>
<circle cx="335.7" cy="754.6" r="1.3"/>
<circle cx="375.5" cy="754.6" r="1.3"/>
<circle cx="360.4" cy="754.6" r="1.3"/>
<circle cx="386.5" cy="754.6" r="1.3"/>
<circle cx="286" cy="754.6" r="1.3"/>
<circle cx="355.7" cy="754.6" r="1.3"/>
<circle cx="364.6" cy="754.6" r="1.3"/>
<circle cx="312.8" cy="754.6" r="1.3"/>
<circle cx="327.3" cy="754.6" r="1.3"/>
<circle cx="286.9" cy="754.6" r="1.3"/>
<circle cx="315.9" cy="754.6" r="1.3"/>
<circle cx="334.4" cy="754.6" r="1.3"/>
<circle cx="312" cy="754.6" r="1.3"/>
<circle cx="364.7" cy="754.6" r="1.3"/>
<circle cx="318.7" cy="754.6" r="1.3"/>
<circle cx="278.9" cy="754.6" r="1.3"/>
<circle cx="339.7" cy="754.6" r="1.3"/>
<circle cx="367.2" cy="754.6" r="1.3"/>
<circle cx="327.2" cy="754.6" r="1.3"/>
<circle cx="316.3" cy="754.6" r="1.3"/>
<circle cx="310.7" cy="754.6" r="1.3"/>
<circle cx="283.2" cy="754.6" r="1.3"/>
<circle cx="361.1" cy="754.6" r="1.3"/>
<circle cx="282.8" cy="754.6" r="1.3"/>
<circle cx="271.1" cy="754.6" r="1.3"/>
<circle cx="338.5" cy="754.6" r="1.3"/>
<circle cx="339.8" cy="754.6" r="1.3"/>
<circle cx="334.8" cy="754.6" r="1.3"/>
<circle cx="292.6" cy="754.6" r="1.3"/>
<circle cx="322.7" cy="754.6" r="1.3"/>
<circle cx="271.2" cy="754.6" r="1.3"/>
<circle cx="332.4" cy="754.6" r="1.3"/>
<circle cx="270.6" cy="754.6" r="1.3"/>
<circle cx="318.7" cy="754.6" r="1.3"/>
<circle cx="290.2" cy="754.6" r="1.3"/>
<circle cx="288.4" cy="754.6" r="1.3"/>
<circle cx="285" cy="754.6" r="1.3"/>
<circle cx="292.7" cy="754.6" r="1.3"/>
<circle cx="302" cy="754.6" r="1.3"/>
<circle cx="392.5" cy="754.6" r="1.3"/>
<circle cx="306.3" cy="754.6" r="1.3"/>
<circle cx="344.3" cy="754.6" r="1.3"/>
<circle cx="331.7" cy="754.6" r="1.3"/>
<circle cx="299.7" cy="754.6" r="1.3"/>
<circle cx="361.2" cy="754.6" r="1.3"/>
<circle cx="277.6" cy="754.6" r="1.3"/>
<circle cx="320" cy="754.6" r="1.3"/>
<circle cx="327.8" cy="754.6" r="1.3"/>
<circle cx="263.5" cy="754.6" r="1.3"/>
<circle cx="282.9" cy="754.6" r="1.3"/>
<circle cx="371.4" cy="754.6" r="1.3"/>
<circle cx="315.2" cy="754.6" r="1.3"/>
<circle cx="283.9" cy="754.6" r="1.3"/>
<circle cx="304.5" cy="754.6" r="1.3"/>
<circle cx="389.3" cy="754.6" r="1.3"/>
<circle cx="340.4" cy="754.6" r="1.3"/>
<circle cx="382.5" cy="754.6" r="1.3"/>
<circle cx="244.6" cy="754.6" r="1.3"/>
<circle cx="278.8" cy="754.6" r="1.3"/>
<circle cx="304.2" cy="754.6" r="1.3"/>
<circle cx="337.2" cy="754.6" r="1.3"/>
<circle cx="292.6" cy="754.6" r="1.3"/>
<circle cx="276.7" cy="754.6" r="1.3"/>
<circle cx="406" cy="754.6" r="1.3"/>
<circle cx="357.5" cy="754.6" r="1.3"/>
<circle cx="340.6" cy="754.6" r="1.3"/>
<circle cx="303.7" cy="754.6" r="1.3"/>
<circle cx="347.5" cy="754.6" r="1.3"/>
<circle cx="380.8" cy="754.6" r="1.3"/>
<circle cx="306.9" cy="754.6" r="1.3"/>
<circle cx="257.9" cy="754.6" r="1.3"/>
<circle cx="310.8" cy="754.6" r="1.3"/>
<circle cx="346.2" cy="754.6" r="1.3"/>
<circle cx="300.9" cy="754.6" r="1.3"/>
<circle cx="299.5" cy="754.6" r="1.3"/>
<circle cx="263.9" cy="754.6" r="1.3"/>
<circle cx="290.9" cy="754.6" r="1.3"/>
<circle cx="369.3" cy="754.6" r="1.3"/>
<circle cx="369.8" cy="754.6" r="1.3"/>
<circle cx="330.8" cy="754.6" r="1.3"/>
<circle cx="313.9" cy="754.6" r="1.3"/>
<circle cx="351.3" cy="754.6" r="1.3"/>
<circle cx="300.9" cy="754.6" r="1.3"/>
<circle cx="283" cy="754.6" r="1.3"/>
<circle cx="324.8" cy="754.6" r="1.3"/>
<circle cx="300.3" cy="754.6" r="1.3"/>
<circle cx="351.4" cy="754.6" r="1.3"/>
<circle cx="389.3" cy="754.6" r="1.3"/>
<circle cx="290.2" cy="754.6" r="1.3"/>
<circle cx="314" cy="754.6" r="1.3"/>
<circle cx="276.9" cy="754.6" r="1.3"/>
<circle cx="279.5" cy="754.6" r="1.3"/>
<circle cx="316.2" cy="754.6" r="1.3"/>
<circle cx="321.8" cy="754.6" r="1.3"/>
<circle cx="312.1" cy="754.6" r="1.3"/>
<circle cx="311.8" cy="754.6" r="1.3"/>
<circle cx="293.1" cy="754.6" r="1.3"/>
<circle cx="347.9" cy="754.6" r="1.3"/>
<circle cx="278.9" cy="754.6" r="1.3"/>
<circle cx="367.3" cy="754.6" r="1.3"/>
<circle cx="365.9" cy="754.6" r="1.3"/>
<circle cx="248.9" cy="754.6" r="1.3"/>
<circle cx="284.1" cy="754.6" r="1.3"/>
<circle cx="282.6" cy="754.6" r="1.3"/>
<circle cx="367.9" cy="754.6" r="1.3"/>
<circle cx="352.5" cy="754.6" r="1.3"/>
<circle cx="298.2" cy="754.6" r="1.3"/>
<circle cx="327" cy="754.6" r="1.3"/>
<circle cx="308.8" cy="754.6" r="1.3"/>
<circle cx="276.1" cy="754.6" r="1.3"/>
<circle cx="305.7" cy="754.6" r="1.3"/>
<circle cx="365.7" cy="754.6" r="1.3"/>
<circle cx="290.7" cy="754.6" r="1.3"/>
<circle cx="280.3" cy="754.6" r="1.3"/>
<circle cx="364.9" cy="754.6" r="1.3"/>
<circle cx="323.7" cy="754.6" r="1.3"/>
<circle cx="300.8" cy="754.6" r="1.3"/>
<circle cx="355.7" cy="754.6" r="1.3"/>
<circle cx="297.4" cy="754.6" r="1.3"/>
<circle cx="266.3" cy="754.6" r="1.3"/>
<circle cx="316.1" cy="754.6" r="1.3"/>
<circle cx="367.4" cy="754.6" r="1.3"/>
<circle cx="359.8" cy="754.6" r="1.3"/>
<circle cx="301.3" cy="754.6" r="1.3"/>
<circle cx="326.6" cy="754.6" r="1.3"/>
<circle cx="346.1" cy="754.6" r="1.3"/>
<circle cx="305.2" cy="754.6" r="1.3"/>
<circle cx="296.4" cy="754.6" r="1.3"/>
<circle cx="381" cy="754.6" r="1.3"/>
<circle cx="365.1" cy="754.6" r="1.3"/>
<circle cx="282.5" cy="754.6" r="1.3"/>
<circle cx="299.2" cy="754.6" r="1.3"/>
<circle cx="338" cy="754.6" r="1.3"/>
<circle cx="306.1" cy="754.6" r="1.3"/>
<circle cx="277.7" cy="754.6" r="1.3"/>
<circle cx="357.4" cy="754.6" r="1.3"/>
<circle cx="347.4" cy="754.6" r="1.3"/>
<circle cx="253.6" cy="754.6" r="1.3"/>
<circle cx="344.2" cy="754.6" r="1.3"/>
<circle cx="310.4" cy="754.6" r="1.3"/>
<circle cx="353.9" cy="754.6" r="1.3"/>
<circle cx="327.2" cy="754.6" r="1.3"/>
<circle cx="392.6" cy="754.6" r="1.3"/>
<circle cx="343.1" cy="754.6" r="1.3"/>
<circle cx="303.1" cy="754.6" r="1.3"/>
<circle cx="285.2" cy="754.6" r="1.3"/>
<circle cx="377.1" cy="754.6" r="1.3"/>
<circle cx="371" cy="754.6" r="1.3"/>
<circle cx="315.8" cy="754.6" r="1.3"/>
<circle cx="324.2" cy="754.6" r="1.3"/>
<circle cx="344.1" cy="754.6" r="1.3"/>
<circle cx="308.5" cy="754.6" r="1.3"/>
<circle cx="321" cy="754.6" r="1.3"/>
<circle cx="295.5" cy="754.6" r="1.3"/>
<circle cx="354.1" cy="754.6" r="1.3"/>
<circle cx="308" cy="754.6" r="1.3"/>
<circle cx="294" cy="754.6" r="1.3"/>
<circle cx="298.4" cy="754.6" r="1.3"/>
<circle cx="297.8" cy="754.6" r="1.3"/>
<circle cx="291.5" cy="754.6" r="1.3"/>
<circle cx="309.9" cy="754.6" r="1.3"/>
<circle cx="363" cy="754.6" r="1.3"/>
<circle cx="297.2" cy="754.6" r="1.3"/>
<circle cx="308.5" cy="754.6" r="1.3"/>
<circle cx="299.2" cy="754.6" r="1.3"/>
<circle cx="290.4" cy="754.6" r="1.3"/>
<circle cx="329.7" cy="754.6" r="1.3"/>
<circle cx="399.6" cy="754.6" r="1.3"/>
<circle cx="274.2" cy="754.6" r="1.3"/>
<circle cx="324.1" cy="754.6" r="1.3"/>
<circle cx="295.8" cy="754.6" r="1.3"/>
<circle cx="345.4" cy="754.6" r="1.3"/>
<circle cx="308.4" cy="754.6" r="1.3"/>
<circle cx="355.9" cy="754.6" r="1.3"/>
<circle cx="307.7" cy="754.6" r="1.3"/>
<circle cx="276.5" cy="754.6" r="1.3"/>
<circle cx="342.6" cy="754.6" r="1.3"/>
<circle cx="316.9" cy="754.6" r="1.3"/>
<circle cx="357.3" cy="754.6" r="1.3"/>
<circle cx="366.7" cy="754.6" r="1.3"/>
<circle cx="276.6" cy="754.6" r="1.3"/>
<circle cx="279.5" cy="754.6" r="1.3"/>
<circle cx="338.2" cy="754.6" r="1.3"/>
<circle cx="340.3" cy="754.6" r="1.3"/>
<circle cx="282.6" cy="754.6" r="1.3"/>
<circle cx="330.9" cy="754.6" r="1.3"/>
<circle cx="344.6" cy="754.6" r="1.3"/>
<circle cx="294.7" cy="754.6" r="1.3"/>
<circle cx="352.4" cy="754.6" r="1.3"/>
<circle cx="279.5" cy="754.6" r="1.3"/>
<circle cx="313" cy="754.6" r="1.3"/>
<circle cx="317.7" cy="754.6" r="1.3"/>
<circle cx="318.8" cy="754.6" r="1.3"/>
<circle cx="308.4" cy="754.6" r="1.3"/>
<circle cx="347.2" cy="754.6" r="1.3"/>
<circle cx="338.8" cy="754.6" r="1.3"/>
<circle cx="316.6" cy="754.6" r="1.3"/>
<circle cx="256.6" cy="754.6" r="1.3"/>
<circle cx="288" cy="754.6" r="1.3"/>
<circle cx="291.2" cy="754.6" r="1.3"/>
<circle cx="322.1" cy="754.6" r="1.3"/>
<circle cx="336.1" cy="754.6" r="1.3"/>
<circle cx="293.9" cy="754.6" r="1.3"/>
<circle cx="326.3" cy="754.6" r="1.3"/>
<circle cx="370.1" cy="754.6" r="1.3"/>
<circle cx="264.2" cy="754.6" r="1.3"/>
<circle cx="318.9" cy="754.6" r="1.3"/>
<circle cx="378.7" cy="754.6" r="1.3"/>
<circle cx="290.6" cy="754.6" r="1.3"/>
<circle cx="342.9" cy="754.6" r="1.3"/>
<circle cx="302.2" cy="754.6" r="1.3"/>
<circle cx="305.2" cy="754.6" r="1.3"/>
<circle cx="355.7" cy="754.6" r="1.3"/>
<circle cx="298" cy="754.6" r="1.3"/>
<circle cx="331.1" cy="754.6" r="1.3"/>
<circle cx="283.4" cy="754.6" r="1.3"/>
<circle cx="303.8" cy="754.6" r="1.3"/>
<circle cx="321.2" cy="754.6" r="1.3"/>
<circle cx="320.4" cy="754.6" r="1.3"/>
<circle cx="273.2" cy="754.6" r="1.3"/>
<circle cx="319.6" cy="754.6" r="1.3"/>
<circle cx="365.4" cy="754.6" r="1.3"/>
<circle cx="354.4" cy="754.6" r="1.3"/>
<circle cx="243.1" cy="754.6" r="1.3"/>
<circle cx="336.2" cy="754.6" r="1.3"/>
<circle cx="299.5" cy="754.6" r="1.3"/>
<circle cx="336.6" cy="754.6" r="1.3"/>
<circle cx="326.7" cy="754.6" r="1.3"/>
<circle cx="297" cy="754.6" r="1.3"/>
<circle cx="325.2" cy="754.6" r="1.3"/>
<circle cx="363.6" cy="754.6" r="1.3"/>
<circle cx="292.3" cy="754.6" r="1.3"/>
<circle cx="314" cy="754.6" r="1.3"/>
<circle cx="351.2" cy="754.6" r="1.3"/>
<circle cx="295.9" cy="754.6" r="1.3"/>
<circle cx="302.9" cy="754.6" r="1.3"/>
<circle cx="325.4" cy="754.6" r="1.3"/>
<circle cx="382.6" cy="754.6" r="1.3"/>
<circle cx="356.1" cy="754.6" r="1.3"/>
<circle cx="282.6" cy="754.6" r="1.3"/>
<circle cx="276.3" cy="754.6" r="1.3"/>
<circle cx="318.2" cy="754.6" r="1.3"/>
<circle cx="383" cy="754.6" r="1.3"/>
<circle cx="282.1" cy="754.6" r="1.3"/>
<circle cx="278.1" cy="754.6" r="1.3"/>
<circle cx="357.8" cy="754.6" r="1.3"/>
<circle cx="270.8" cy="754.6" r="1.3"/>
<circle cx="283.9" cy="754.6" r="1.3"/>
<circle cx="299.3" cy="754.6" r="1.3"/>
<circle cx="337" cy="754.6" r="1.3"/>
<circle cx="277.8" cy="754.6" r="1.3"/>
<circle cx="358.3" cy="754.6" r="1.3"/>
<circle cx="345.4" cy="754.6" r="1.3"/>
<circle cx="281.5" cy="754.6" r="1.3"/>
<circle cx="325.2" cy="754.6" r="1.3"/>
<circle cx="321.4" cy="754.6" r="1.3"/>
<circle cx="319.1" cy="754.6" r="1.3"/>
<circle cx="310.2" cy="754.6" r="1.3"/>
<circle cx="311.8" cy="754.6" r="1.3"/>
<circle cx="347.6" cy="754.6" r="1.3"/>
<circle cx="371.8" cy="754.6" r="1.3"/>
<circle cx="283" cy="754.6" r="1.3"/>
<circle cx="290.5" cy="754.6" r="1.3"/>
<circle cx="280.3" cy="754.6" r="1.3"/>
<circle cx="270.4" cy="754.6" r="1.3"/>
<circle cx="310.5" cy="754.6" r="1.3"/>
<circle cx="292.9" cy="754.6" r="1.3"/>
<circle cx="325.7" cy="754.6" r="1.3"/>
<circle cx="301.7" cy="754.6" r="1.3"/>
<circle cx="307.2" cy="754.6" r="1.3"/>
<circle cx="280.7" cy="754.6" r="1.3"/>
<circle cx="295.8" cy="754.6" r="1.3"/>
<circle cx="326.5" cy="754.6" r="1.3"/>
<circle cx="286.9" cy="754.6" r="1.3"/>
<circle cx="296.2" cy="754.6" r="1.3"/>
<circle cx="298.5" cy="754.6" r="1.3"/>
<circle cx="294" cy="754.6" r="1.3"/>
<circle cx="319.9" cy="754.6" r="1.3"/>
<circle cx="279.3" cy="754.6" r="1.3"/>
<circle cx="296.8" cy="754.6" r="1.3"/>
<circle cx="366.4" cy="754.6" r="1.3"/>
<circle cx="350.1" cy="754.6" r="1.3"/>
<circle cx="306.3" cy="754.6" r="1.3"/>
<circle cx="310.9" cy="754.6" r="1.3"/>
<circle cx="307.7" cy="754.6" r="1.3"/>
<circle cx="325.8" cy="754.6" r="1.3"/>
<circle cx="276.8" cy="754.6" r="1.3"/>
<circle cx="352.1" cy="754.6" r="1.3"/>
<circle cx="334.2" cy="754.6" r="1.3"/>
<circle cx="313.9" cy="754.6" r="1.3"/>
<circle cx="404.5" cy="754.6" r="1.3"/>
<circle cx="305.1" cy="754.6" r="1.3"/>
<circle cx="288.4" cy="754.6" r="1.3"/>
<circle cx="309.6" cy="754.6" r="1.3"/>
<circle cx="296.1" cy="754.6" r="1.3"/>
<circle cx="293.4" cy="754.6" r="1.3"/>
<circle cx="373" cy="754.6" r="1.3"/>
<circle cx="364.1" cy="754.6" r="1.3"/>
<circle cx="290.7" cy="754.6" r="1.3"/>
<circle cx="283.6" cy="754.6" r="1.3"/>
<circle cx="354.3" cy="754.6" r="1.3"/>
<circle cx="293.6" cy="754.6" r="1.3"/>
<circle cx="342.5" cy="754.6" r="1.3"/>
<circle cx="322.1" cy="754.6" r="1.3"/>
<circle cx="288.2" cy="754.6" r="1.3"/>
<circle cx="275.2" cy="754.6" r="1.3"/>
<circle cx="322.3" cy="754.6" r="1.3"/>
<circle cx="328.8" cy="754.6" r="1.3"/>
<circle cx="354.4" cy="754.6" r="1.3"/>
<circle cx="287.3" cy="754.6" r="1.3"/>
<circle cx="285.8" cy="754.6" r="1.3"/>
<circle cx="340.7" cy="754.6" r="1.3"/>
<circle cx="297.2" cy="754.6" r="1.3"/>
<circle cx="290.9" cy="754.6" r="1.3"/>
<circle cx="318.5" cy="754.6" r="1.3"/>
<circle cx="332.5" cy="754.6" r="1.3"/>
<circle cx="293.3" cy="754.6" r="1.3"/>
<circle cx="357.2" cy="754.6" r="1.3"/>
<circle cx="367.2" cy="754.6" r="1.3"/>
<circle cx="293.6" cy="754.6" r="1.3"/>
<circle cx="263.5" cy="754.6" r="1.3"/>
<circle cx="284.1" cy="754.6" r="1.3"/>
<circle cx="295" cy="754.6" r="1.3"/>
<circle cx="321.1" cy="754.6" r="1.3"/>
<circle cx="332.3" cy="754.6" r="1.3"/>
<circle cx="258" cy="754.6" r="1.3"/>
<circle cx="333.2" cy="754.6" r="1.3"/>
<circle cx="302.3" cy="754.6" r="1.3"/>
<circle cx="301.2" cy="754.6" r="1.3"/>
<circle cx="292.5" cy="754.6" r="1.3"/>
<circle cx="343.7" cy="754.6" r="1.3"/>
<circle cx="297.3" cy="754.6" r="1.3"/>
<circle cx="305.8" cy="754.6" r="1.3"/>
<circle cx="271" cy="754.6" r="1.3"/>
<circle cx="355.9" cy="754.6" r="1.3"/>
<circle cx="296.6" cy="754.6" r="1.3"/>
<circle cx="318.7" cy="754.6" r="1.3"/>
<circle cx="290.8" cy="754.6" r="1.3"/>
<circle cx="326.3" cy="754.6" r="1.3"/>
<circle cx="364.3" cy="754.6" r="1.3"/>
<circle cx="249.8" cy="754.6" r="1.3"/>
<circle cx="313.2" cy="754.6" r="1.3"/>
<circle cx="277.9" cy="754.6" r="1.3"/>
<circle cx="283.7" cy="754.6" r="1.3"/>
<circle cx="364.2" cy="754.6" r="1.3"/>
<circle cx="337.5" cy="754.6" r="1.3"/>
<circle cx="391.8" cy="754.6" r="1.3"/>
<circle cx="280.2" cy="754.6" r="1.3"/>
<circle cx="312.7" cy="754.6" r="1.3"/>
<circle cx="321.6" cy="754.6" r="1.3"/>
<circle cx="329.4" cy="754.6" r="1.3"/>
<circle cx="269.9" cy="754.6" r="1.3"/>
<circle cx="316.4" cy="754.6" r="1.3"/>
<circle cx="333.4" cy="754.6" r="1.3"/>
<circle cx="279.5" cy="754.6" r="1.3"/>
<circle cx="322" cy="754.6" r="1.3"/>
<circle cx="373.6" cy="754.6" r="1.3"/>
<circle cx="324.8" cy="754.6" r="1.3"/>
<circle cx="302.9" cy="754.6" r="1.3"/>
<circle cx="333.5" cy="754.6" r="1.3"/>
<circle cx="309.6" cy="754.6" r="1.3"/>
<circle cx="343.4" cy="754.6" r="1.3"/>
<circle cx="282.6" cy="754.6" r="1.3"/>
<circle cx="324.4" cy="754.6" r="1.3"/>
<circle cx="299" cy="754.6" r="1.3"/>
<circle cx="268.6" cy="754.6" r="1.3"/>
<circle cx="316.2" cy="754.6" r="1.3"/>
<circle cx="339.4" cy="754.6" r="1.3"/>
<circle cx="319.9" cy="754.6" r="1.3"/>
<circle cx="292.2" cy="754.6" r="1.3"/>
<circle cx="308.8" cy="754.6" r="1.3"/>
<circle cx="318.9" cy="754.6" r="1.3"/>
<circle cx="321.1" cy="754.6" r="1.3"/>
<circle cx="324" cy="754.6" r="1.3"/>
<circle cx="305.5" cy="754.6" r="1.3"/>
<circle cx="319.8" cy="754.6" r="1.3"/>
<circle cx="314.8" cy="754.6" r="1.3"/>
<circle cx="298.4" cy="754.6" r="1.3"/>
<circle cx="354.8" cy="754.6" r="1.3"/>
<circle cx="347.2" cy="754.6" r="1.3"/>
<circle cx="354.5" cy="754.6" r="1.3"/>
<circle cx="313.5" cy="754.6" r="1.3"/>
<circle cx="276.4" cy="754.6" r="1.3"/>
<circle cx="335.9" cy="754.6" r="1.3"/>
<circle cx="284.8" cy="754.6" r="1.3"/>
<circle cx="266.9" cy="754.6" r="1.3"/>
<circle cx="277.6" cy="754.6" r="1.3"/>
<circle cx="368.2" cy="754.6" r="1.3"/>
<circle cx="367.4" cy="754.6" r="1.3"/>
<circle cx="314.5" cy="754.6" r="1.3"/>
<circle cx="287.2" cy="754.6" r="1.3"/>
<circle cx="290.2" cy="754.6" r="1.3"/>
<circle cx="287.9" cy="754.6" r="1.3"/>
<circle cx="315.4" cy="754.6" r="1.3"/>
<circle cx="277.4" cy="754.6" r="1.3"/>
<circle cx="282.5" cy="754.6" r="1.3"/>
<circle cx="318.2" cy="754.6" r="1.3"/>
<circle cx="285.1" cy="754.6" r="1.3"/>
<circle cx="346.1" cy="754.6" r="1.3"/>
<circle cx="307.2" cy="754.6" r="1.3"/>
<circle cx="263.4" cy="754.6" r="1.3"/>
<circle cx="371.8" cy="754.6" r="1.3"/>
<circle cx="359" cy="754.6" r="1.3"/>
<circle cx="301.1" cy="754.6" r="1.3"/>
<circle cx="286.6" cy="754.6" r="1.3"/>
<circle cx="305.6" cy="754.6" r="1.3"/>
<circle cx="349.7" cy="754.6" r="1.3"/>
<circle cx="311.2" cy="754.6" r="1.3"/>
<circle cx="288.2" cy="754.6" r="1.3"/>
<circle cx="333.5" cy="754.6" r="1.3"/>
<circle cx="278.3" cy="754.6" r="1.3"/>
<circle cx="278.7" cy="754.6" r="1.3"/>
<circle cx="279.2" cy="754.6" r="1.3"/>
<circle cx="322.3" cy="754.6" r="1.3"/>
<circle cx="299.2" cy="754.6" r="1.3"/>
<circle cx="294.8" cy="754.6" r="1.3"/>
<circle cx="313.9" cy="754.6" r="1.3"/>
<circle cx="340.2" cy="754.6" r="1.3"/>
<circle cx="323.1" cy="754.6" r="1.3"/>
<circle cx="303.8" cy="754.6" r="1.3"/>
<circle cx="358.7" cy="754.6" r="1.3"/>
<circle cx="389.9" cy="754.6" r="1.3"/>
<circle cx="302.3" cy="754.6" r="1.3"/>
<circle cx="279.9" cy="754.6" r="1.3"/>
<circle cx="339.7" cy="754.6" r="1.3"/>
<circle cx="289.9" cy="754.6" r="1.3"/>
<circle cx="290.9" cy="754.6" r="1.3"/>
<circle cx="343.3" cy="754.6" r="1.3"/>
<circle cx="335.3" cy="754.6" r="1.3"/>
<circle cx="312.1" cy="754.6" r="1.3"/>
<circle cx="339.4" cy="754.6" r="1.3"/>
<circle cx="276.7" cy="754.6" r="1.3"/>
<circle cx="283.4" cy="754.6" r="1.3"/>
<circle cx="314.5" cy="754.6" r="1.3"/>
<circle cx="265.5" cy="754.6" r="1.3"/>
<circle cx="299.4" cy="754.6" r="1.3"/>
<circle cx="302.9" cy="754.6" r="1.3"/>
<circle cx="303.1" cy="754.6" r="1.3"/>
<circle cx="282.4" cy="754.6" r="1.3"/>
<circle cx="300.9" cy="754.6" r="1.3"/>
<circle cx="282.2" cy="754.6" r="1.3"/>
<circle cx="343.8" cy="754.6" r="1.3"/>
<circle cx="277.5" cy="754.6" r="1.3"/>
<circle cx="395.3" cy="754.6" r="1.3"/>
<circle cx="325.2" cy="754.6" r="1.3"/>
<circle cx="364.3" cy="754.6" r="1.3"/>
<circle cx="350.9" cy="754.6" r="1.3"/>
<circle cx="406.5" cy="754.6" r="1.3"/>
<circle cx="401.6" cy="754.6" r="1.3"/>
<circle cx="364.8" cy="754.6" r="1.3"/>
<circle cx="292.3" cy="754.6" r="1.3"/>
<circle cx="338.9" cy="754.6" r="1.3"/>
<circle cx="304.8" cy="754.6" r="1.3"/>
<circle cx="305.9" cy="754.6" r="1.3"/>
<circle cx="293.8" cy="754.6" r="1.3"/>
<circle cx="320" cy="754.6" r="1.3"/>
<circle cx="366.9" cy="754.6" r="1.3"/>
<circle cx="297.8" cy="754.6" r="1.3"/>
<circle cx="293.9" cy="754.6" r="1.3"/>
<circle cx="288.9" cy="754.6" r="1.3"/>
<circle cx="351.4" cy="754.6" r="1.3"/>
<circle cx="283" cy="754.6" r="1.3"/>
<circle cx="313" cy="754.6" r="1.3"/>
<circle cx="332.2" cy="754.6" r="1.3"/>
<circle cx="371.5" cy="754.6" r="1.3"/>
<circle cx="317.9" cy="754.6" r="1.3"/>
<circle cx="351.9" cy="754.6" r="1.3"/>
<circle cx="281.2" cy="754.6" r="1.3"/>
<circle cx="319" cy="754.6" r="1.3"/>
<circle cx="336" cy="754.6" r="1.3"/>
<circle cx="340.3" cy="754.6" r="1.3"/>
<circle cx="293" cy="754.6" r="1.3"/>
<circle cx="354.1" cy="754.6" r="1.3"/>
<circle cx="350.8" cy="754.6" r="1.3"/>
<circle cx="314.8" cy="754.6" r="1.3"/>
<circle cx="373.7" cy="754.6" r="1.3"/>
<circle cx="295.1" cy="754.6" r="1.3"/>
<circle cx="267.1" cy="754.6" r="1.3"/>
<circle cx="369.8" cy="754.6" r="1.3"/>
<circle cx="328.5" cy="754.6" r="1.3"/>
<circle cx="358" cy="754.6" r="1.3"/>
<circle cx="288.9" cy="754.6" r="1.3"/>
<circle cx="266.7" cy="754.6" r="1.3"/>
<circle cx="326.8" cy="754.6" r="1.3"/>
<circle cx="310.4" cy="754.6" r="1.3"/>
<circle cx="297" cy="754.6" r="1.3"/>
<circle cx="241.7" cy="754.6" r="1.3"/>
<circle cx="300" cy="754.6" r="1.3"/>
<circle cx="331" cy="754.6" r="1.3"/>
<circle cx="351.6" cy="754.6" r="1.3"/>
<circle cx="355.2" cy="754.6" r="1.3"/>
<circle cx="281.9" cy="754.6" r="1.3"/>
<circle cx="359.3" cy="754.6" r="1.3"/>
<circle cx="262.1" cy="754.6" r="1.3"/>
<circle cx="284.8" cy="754.6" r="1.3"/>
<circle cx="278.7" cy="754.6" r="1.3"/>
<circle cx="281.1" cy="754.6" r="1.3"/>
<circle cx="343.3" cy="754.6" r="1.3"/>
<circle cx="338.5" cy="754.6" r="1.3"/>
<circle cx="376.1" cy="754.6" r="1.3"/>
<circle cx="336.1" cy="754.6" r="1.3"/>
<circle cx="302.2" cy="754.6" r="1.3"/>
<circle cx="279.7" cy="754.6" r="1.3"/>
<circle cx="293.5" cy="754.6" r="1.3"/>
<circle cx="284.8" cy="754.6" r="1.3"/>
<circle cx="284.5" cy="754.6" r="1.3"/>
<circle cx="340.7" cy="754.6" r="1.3"/>
<circle cx="300.8" cy="754.6" r="1.3"/>
<circle cx="357.3" cy="754.6" r="1.3"/>
<circle cx="291.2" cy="754.6" r="1.3"/>
<circle cx="347.3" cy="754.6" r="1.3"/>
<circle cx="316" cy="754.6" r="1.3"/>
<circle cx="304.1" cy="754.6" r="1.3"/>
<circle cx="289.2" cy="754.6" r="1.3"/>
<circle cx="317.6" cy="754.6" r="1.3"/>
<circle cx="295.3" cy="754.6" r="1.3"/>
<circle cx="297.8" cy="754.6" r="1.3"/>
<circle cx="308.6" cy="754.6" r="1.3"/>
<circle cx="358.9" cy="754.6" r="1.3"/>
<circle cx="351.9" cy="754.6" r="1.3"/>
<circle cx="292.3" cy="754.6" r="1.3"/>
<circle cx="353.1" cy="754.6" r="1.3"/>
<circle cx="301.9" cy="754.6" r="1.3"/>
<circle cx="378.2" cy="754.6" r="1.3"/>
<circle cx="246.7" cy="754.6" r="1.3"/>
<circle cx="303.1" cy="754.6" r="1.3"/>
<circle cx="359.8" cy="754.6" r="1.3"/>
<circle cx="327.4" cy="754.6" r="1.3"/>
<circle cx="293.6" cy="754.6" r="1.3"/>
<circle cx="364.2" cy="754.6" r="1.3"/>
<circle cx="360.9" cy="754.6" r="1.3"/>
<circle cx="315" cy="754.6" r="1.3"/>
<circle cx="319.9" cy="754.6" r="1.3"/>
<circle cx="296.9" cy="754.6" r="1.3"/>
<circle cx="309" cy="754.6" r="1.3"/>
<circle cx="334.4" cy="754.6" r="1.3"/>
<circle cx="293.5" cy="754.6" r="1.3"/>
<circle cx="310.9" cy="754.6" r="1.3"/>
<circle cx="242.6" cy="754.6" r="1.3"/>
<circle cx="291.9" cy="754.6" r="1.3"/>
<circle cx="278" cy="754.6" r="1.3"/>
<circle cx="407.4" cy="754.6" r="1.3"/>
<circle cx="307.2" cy="754.6" r="1.3"/>
<circle cx="307.2" cy="754.6" r="1.3"/>
<circle cx="307.7" cy="754.6" r="1.3"/>
<circle cx="358.6" cy="754.6" r="1.3"/>
<circle cx="293.2" cy="754.6" r="1.3"/>
<circle cx="329.8" cy="754.6" r="1.3"/>
<circle cx="287.9" cy="754.6" r="1.3"/>
<circle cx="303.8" cy="754.6" r="1.3"/>
<circle cx="309.9" cy="754.6" r="1.3"/>
<circle cx="360.3" cy="754.6" r="1.3"/>
<circle cx="378.5" cy="754.6" r="1.3"/>
<circle cx="339.5" cy="754.6" r="1.3"/>
<circle cx="369.5" cy="754.6" r="1.3"/>
<circle cx="292.1" cy="754.6" r="1.3"/>
<circle cx="339.7" cy="754.6" r="1.3"/>
<circle cx="364.4" cy="754.6" r="1.3"/>
<circle cx="242.6" cy="754.6" r="1.3"/>
<circle cx="364.7" cy="754.6" r="1.3"/>
<circle cx="252" cy="754.6" r="1.3"/>
<circle cx="299.3" cy="754.6" r="1.3"/>
<circle cx="267.7" cy="754.6" r="1.3"/>
<circle cx="305.5" cy="754.6" r="1.3"/>
<circle cx="291.8" cy="754.6" r="1.3"/>
<circle cx="322.4" cy="754.6" r="1.3"/>
<circle cx="301.3" cy="754.6" r="1.3"/>
<circle cx="307" cy="754.6" r="1.3"/>
<circle cx="247.1" cy="754.6" r="1.3"/>
<circle cx="280.2" cy="754.6" r="1.3"/>
<circle cx="328.2" cy="754.6" r="1.3"/>
<circle cx="277.3" cy="754.6" r="1.3"/>
<circle cx="341.7" cy="754.6" r="1.3"/>
<circle cx="338.7" cy="754.6" r="1.3"/>
<circle cx="355.5" cy="754.6" r="1.3"/>
<circle cx="310.5" cy="754.6" r="1.3"/>
<circle cx="294.4" cy="754.6" r="1.3"/>
<circle cx="307.8" cy="754.6" r="1.3"/>
<circle cx="375.7" cy="754.6" r="1.3"/>
<circle cx="346.7" cy="754.6" r="1.3"/>
<circle cx="302.1" cy="754.6" r="1.3"/>
<circle cx="341.4" cy="754.6" r="1.3"/>
<circle cx="315.1" cy="754.6" r="1.3"/>
<circle cx="372.6" cy="754.6" r="1.3"/>
<circle cx="290.5" cy="754.6" r="1.3"/>
<circle cx="295.8" cy="754.6" r="1.3"/>
<circle cx="362.7" cy="754.6" r="1.3"/>
<circle cx="265" cy="754.6" r="1.3"/>
<circle cx="308.3" cy="754.6" r="1.3"/>
<circle cx="302.9" cy="754.6" r="1.3"/>
<circle cx="240.7" cy="754.6" r="1.3"/>
<circle cx="352.9" cy="754.6" r="1.3"/>
<circle cx="341.3" cy="754.6" r="1.3"/>
<circle cx="307" cy="754.6" r="1.3"/>
<circle cx="341.7" cy="754.6" r="1.3"/>
<circle cx="313.2" cy="754.6" r="1.3"/>
<circle cx="312.8" cy="754.6" r="1.3"/>
<circle cx="347.2" cy="754.6" r="1.3"/>
<circle cx="302.5" cy="754.6" r="1.3"/>
<circle cx="336" cy="754.6" r="1.3"/>
<circle cx="307.9" cy="754.6" r="1.3"/>
<circle cx="335.8" cy="754.6" r="1.3"/>
<circle cx="359.5" cy="754.6" r="1.3"/>
<circle cx="293.4" cy="754.6" r="1.3"/>
<circle cx="281.5" cy="754.6" r="1.3"/>
<circle cx="310" cy="754.6" r="1.3"/>
<circle cx="276.5" cy="754.6" r="1.3"/>
<circle cx="294.4" cy="754.6" r="1.3"/>
<circle cx="324.1" cy="754.6" r="1.3"/>
<circle cx="345.1" cy="754.6" r="1.3"/>
<circle cx="359.4" cy="754.6" r="1.3"/>
<circle cx="315.8" cy="754.6" r="1.3"/>
<circle cx="263.3" cy="754.6" r="1.3"/>
<circle cx="317.7" cy="754.6" r="1.3"/>
<circle cx="261.9" cy="754.6" r="1.3"/>
<circle cx="340.9" cy="754.6" r="1.3"/>
<circle cx="291.9" cy="754.6" r="1.3"/>
<circle cx="304.5" cy="754.6" r="1.3"/>
<circle cx="299.7" cy="754.6" r="1.3"/>
<circle cx="366" cy="754.6" r="1.3"/>
<circle cx="369" cy="754.6" r="1.3"/>
<circle cx="294.1" cy="754.6" r="1.3"/>
<circle cx="311.6" cy="754.6" r="1.3"/>
<circle cx="365.1" cy="754.6" r="1.3"/>
<circle cx="301.3" cy="754.6" r="1.3"/>
<circle cx="286.4" cy="754.6" r="1.3"/>
<circle cx="397" cy="754.6" r="1.3"/>
<circle cx="292.3" cy="754.6" r="1.3"/>
<circle cx="341.6" cy="754.6" r="1.3"/>
<circle cx="257.7" cy="754.6" r="1.3"/>
<circle cx="285" cy="754.6" r="1.3"/>
<circle cx="346.1" cy="754.6" r="1.3"/>
<circle cx="258.8" cy="754.6" r="1.3"/>
<circle cx="303.1" cy="754.6" r="1.3"/>
<circle cx="325" cy="754.6" r="1.3"/>
<circle cx="287.6" cy="754.6" r="1.3"/>
<circle cx="298.2" cy="754.6" r="1.3"/>
<circle cx="324.5" cy="754.6" r="1.3"/>
<circle cx="371.3" cy="754.6" r="1.3"/>
<circle cx="314.9" cy="754.6" r="1.3"/>
<circle cx="392.7" cy="754.6" r="1.3"/>
<circle cx="348.5" cy="754.6" r="1.3"/>
<circle cx="330" cy="754.6" r="1.3"/>
<circle cx="349.4" cy="754.6" r="1.3"/>
<circle cx="285" cy="754.6" r="1.3"/>
<circle cx="334.2" cy="754.6" r="1.3"/>
<circle cx="287" cy="754.6" r="1.3"/>
<circle cx="375.8" cy="754.6" r="1.3"/>
<circle cx="280.7" cy="754.6" r="1.3"/>
<circle cx="337.3" cy="754.6" r="1.3"/>
<circle cx="346.4" cy="754.6" r="1.3"/>
<circle cx="347.8" cy="754.6" r="1.3"/>
<circle cx="317.5" cy="754.6" r="1.3"/>
<circle cx="288.1" cy="754.6" r="1.3"/>
<circle cx="313.6" cy="754.6" r="1.3"/>
<circle cx="355.3" cy="754.6" r="1.3"/>
<circle cx="365.6" cy="754.6" r="1.3"/>
<circle cx="315.6" cy="754.6" r="1.3"/>
<circle cx="374.7" cy="754.6" r="1.3"/>
<circle cx="308.2" cy="754.6" r="1.3"/>
<circle cx="348.7" cy="754.6" r="1.3"/>
<circle cx="330.1" cy="754.6" r="1.3"/>
<circle cx="342.4" cy="754.6" r="1.3"/>
<circle cx="307.5" cy="754.6" r="1.3"/>
<circle cx="301.7" cy="754.6" r="1.3"/>
<circle cx="270.3" cy="754.6" r="1.3"/>
<circle cx="348.3" cy="754.6" r="1.3"/>
<circle cx="287.1" cy="754.6" r="1.3"/>
<circle cx="288.9" cy="754.6" r="1.3"/>
<circle cx="318.4" cy="754.6" r="1.3"/>
<circle cx="285.2" cy="754.6" r="1.3"/>
<circle cx="288.9" cy="754.6" r="1.3"/>
<circle cx="281.1" cy="754.6" r="1.3"/>
<circle cx="257.7" cy="754.6" r="1.3"/>
<circle cx="380.1" cy="754.6" r="1.3"/>
<circle cx="300.5" cy="754.6" r="1.3"/>
<circle cx="293.2" cy="754.6" r="1.3"/>
<circle cx="332.7" cy="754.6" r="1.3"/>
<circle cx="306.9" cy="754.6" r="1.3"/>
<circle cx="408.3" cy="754.6" r="1.3"/>
<circle cx="308.2" cy="754.6" r="1.3"/>
<circle cx="334.7" cy="754.6" r="1.3"/>
<circle cx="376.2" cy="754.6" r="1.3"/>
<circle cx="388.1" cy="754.6" r="1.3"/>
<circle cx="322.6" cy="754.6" r="1.3"/>
<circle cx="367.8" cy="754.6" r="1.3"/>
<circle cx="274.8" cy="754.6" r="1.3"/>
<circle cx="311" cy="754.6" r="1.3"/>
<circle cx="381.9" cy="754.6" r="1.3"/>
<circle cx="313.7" cy="754.6" r="1.3"/>
<circle cx="350.2" cy="754.6" r="1.3"/>
<circle cx="301.6" cy="754.6" r="1.3"/>
<circle cx="261.9" cy="754.6" r="1.3"/>
<circle cx="356" cy="754.6" r="1.3"/>
<circle cx="325.7" cy="754.6" r="1.3"/>
<circle cx="293.6" cy="754.6" r="1.3"/>
<circle cx="326.8" cy="754.6" r="1.3"/>
<circle cx="293.5" cy="754.6" r="1.3"/>
<circle cx="369.3" cy="754.6" r="1.3"/>
<circle cx="341.9" cy="754.6" r="1.3"/>
<circle cx="318.5" cy="754.6" r="1.3"/>
<circle cx="285.6" cy="754.6" r="1.3"/>
<circle cx="288" cy="754.6" r="1.3"/>
<circle cx="339.1" cy="754.6" r="1.3"/>
<circle cx="349.4" cy="754.6" r="1.3"/>
<circle cx="385.6" cy="754.6" r="1.3"/>
<circle cx="305.5" cy="754.6" r="1.3"/>
<circle cx="392.1" cy="754.6" r="1.3"/>
<circle cx="343.6" cy="754.6" r="1.3"/>
<circle cx="290.1" cy="754.6" r="1.3"/>
<circle cx="266.1" cy="754.6" r="1.3"/>
<circle cx="354.7" cy="754.6" r="1.3"/>
<circle cx="318.2" cy="754.6" r="1.3"/>
<circle cx="297.7" cy="754.6" r="1.3"/>
<circle cx="321.3" cy="754.6" r="1.3"/>
<circle cx="371.2" cy="754.6" r="1.3"/>
<circle cx="311.8" cy="754.6" r="1.3"/>
<circle cx="373.2" cy="754.6" r="1.3"/>
<circle cx="298.1" cy="754.6" r="1.3"/>
<circle cx="299.6" cy="754.6" r="1.3"/>
<circle cx="380.2" cy="754.6" r="1.3"/>
<circle cx="354.5" cy="754.6" r="1.3"/>
<circle cx="287.7" cy="754.6" r="1.3"/>
<circle cx="384.1" cy="754.6" r="1.3"/>
<circle cx="305.5" cy="754.6" r="1.3"/>
<circle cx="373.3" cy="754.6" r="1.3"/>
<circle cx="299.9" cy="754.6" r="1.3"/>
<circle cx="367.7" cy="754.6" r="1.3"/>
<circle cx="307.6" cy="754.6" r="1.3"/>
<circle cx="305.4" cy="754.6" r="1.3"/>
<circle cx="300.5" cy="754.6" r="1.3"/>
<circle cx="305" cy="754.6" r="1.3"/>
<circle cx="281" cy="754.6" r="1.3"/>
<circle cx="287" cy="754.6" r="1.3"/>
<circle cx="303.7" cy="754.6" r="1.3"/>
<circle cx="291.4" cy="754.6" r="1.3"/>
<circle cx="354.2" cy="754.6" r="1.3"/>
<circle cx="339.8" cy="754.6" r="1.3"/>
<circle cx="346.5" cy="754.6" r="1.3"/>
<circle cx="343" cy="754.6" r="1.3"/>
<circle cx="302.2" cy="754.6" r="1.3"/>
<circle cx="357.8" cy="754.6" r="1.3"/>
<circle cx="354.4" cy="754.6" r="1.3"/>
<circle cx="304.1" cy="754.6" r="1.3"/>
<circle cx="324.2" cy="754.6" r="1.3"/>
<circle cx="297.6" cy="754.6" r="1.3"/>
<circle cx="300.9" cy="754.6" r="1.3"/>
<circle cx="307.1" cy="754.6" r="1.3"/>
<circle cx="408.5" cy="754.6" r="1.3"/>
<circle cx="302.8" cy="754.6" r="1.3"/>
<circle cx="359.2" cy="754.6" r="1.3"/>
<circle cx="334.8" cy="754.6" r="1.3"/>
<circle cx="393.8" cy="754.6" r="1.3"/>
<circle cx="317.4" cy="754.6" r="1.3"/>
<circle cx="294.5" cy="754.6" r="1.3"/>
<circle cx="269.3" cy="754.6" r="1.3"/>
<circle cx="338.7" cy="754.6" r="1.3"/>
<circle cx="385.1" cy="754.6" r="1.3"/>
<circle cx="317.7" cy="754.6" r="1.3"/>
<circle cx="354.9" cy="754.6" r="1.3"/>
<circle cx="349.6" cy="754.6" r="1.3"/>
<circle cx="324" cy="754.6" r="1.3"/>
<circle cx="351.6" cy="754.6" r="1.3"/>
<circle cx="372.5" cy="754.6" r="1.3"/>
<circle cx="309.4" cy="754.6" r="1.3"/>
<circle cx="292" cy="754.6" r="1.3"/>
<circle cx="280.8" cy="754.6" r="1.3"/>
<circle cx="304.6" cy="754.6" r="1.3"/>
<circle cx="377.6" cy="754.6" r="1.3"/>
<circle cx="312.6" cy="754.6" r="1.3"/>
<circle cx="325.5" cy="754.6" r="1.3"/>
<circle cx="368.1" cy="754.6" r="1.3"/>
<circle cx="245.8" cy="754.6" r="1.3"/>
<circle cx="316.6" cy="754.6" r="1.3"/>
<circle cx="357.9" cy="754.6" r="1.3"/>
<circle cx="300.8" cy="754.6" r="1.3"/>
<circle cx="296.7" cy="754.6" r="1.3"/>
<circle cx="299.3" cy="754.6" r="1.3"/>
<circle cx="320.2" cy="754.6" r="1.3"/>
<circle cx="327.7" cy="754.6" r="1.3"/>
<circle cx="317.6" cy="754.6" r="1.3"/>
<circle cx="344.9" cy="754.6" r="1.3"/>
<circle cx="289.1" cy="754.6" r="1.3"/>
<circle cx="292.7" cy="754.6" r="1.3"/>
<circle cx="356.3" cy="754.6" r="1.3"/>
<circle cx="298.2" cy="754.6" r="1.3"/>
<circle cx="273" cy="754.6" r="1.3"/>
<circle cx="310.6" cy="754.6" r="1.3"/>
<circle cx="315.3" cy="754.6" r="1.3"/>
<circle cx="320.2" cy="754.6" r="1.3"/>
<circle cx="361.3" cy="754.6" r="1.3"/>
<circle cx="331.6" cy="754.6" r="1.3"/>
<circle cx="283" cy="754.6" r="1.3"/>
<circle cx="261.2" cy="754.6" r="1.3"/>
<circle cx="287.7" cy="754.6" r="1.3"/>
<circle cx="259.2" cy="754.6" r="1.3"/>
<circle cx="330.3" cy="754.6" r="1.3"/>
<circle cx="308.6" cy="754.6" r="1.3"/>
<circle cx="350.3" cy="754.6" r="1.3"/>
<circle cx="318.7" cy="754.6" r="1.3"/>
<circle cx="366.7" cy="754.6" r="1.3"/>
<circle cx="303.7" cy="754.6" r="1.3"/>
<circle cx="305.2" cy="754.6" r="1.3"/>
<circle cx="242.9" cy="754.6" r="1.3"/>
<circle cx="308" cy="754.6" r="1.3"/>
<circle cx="331" cy="754.6" r="1.3"/>
<circle cx="338.6" cy="754.6" r="1.3"/>
<circle cx="320.9" cy="754.6" r="1.3"/>
<circle cx="240.8" cy="754.6" r="1.3"/>
<circle cx="394.8" cy="754.6" r="1.3"/>
<circle cx="332" cy="754.6" r="1.3"/>
<circle cx="307.2" cy="754.6" r="1.3"/>
<circle cx="350" cy="754.6" r="1.3"/>
<circle cx="297.3" cy="754.6" r="1.3"/>
<circle cx="297.2" cy="754.6" r="1.3"/>
<circle cx="304.6" cy="754.6" r="1.3"/>
<circle cx="279.2" cy="754.6" r="1.3"/>
<circle cx="370.4" cy="754.6" r="1.3"/>
<circle cx="293.5" cy="754.6" r="1.3"/>
<circle cx="304.2" cy="754.6" r="1.3"/>
<circle cx="321" cy="754.6" r="1.3"/>
<circle cx="364.9" cy="754.6" r="1.3"/>
<circle cx="302.8" cy="754.6" r="1.3"/>
<circle cx="279.5" cy="754.6" r="1.3"/>
<circle cx="348.6" cy="754.6" r="1.3"/>
<circle cx="382.5" cy="754.6" r="1.3"/>
<circle cx="308.1" cy="754.6" r="1.3"/>
<circle cx="358.4" cy="754.6" r="1.3"/>
<circle cx="301" cy="754.6" r="1.3"/>
<circle cx="317.3" cy="754.6" r="1.3"/>
<circle cx="307.7" cy="754.6" r="1.3"/>
<circle cx="277.3" cy="754.6" r="1.3"/>
<circle cx="295.8" cy="754.6" r="1.3"/>
<circle cx="340.8" cy="754.6" r="1.3"/>
<circle cx="278.3" cy="754.6" r="1.3"/>
<circle cx="335.6" cy="754.6" r="1.3"/>
<circle cx="319.3" cy="754.6" r="1.3"/>
<circle cx="356" cy="754.6" r="1.3"/>
<circle cx="354.2" cy="754.6" r="1.3"/>
<circle cx="340.9" cy="754.6" r="1.3"/>
<circle cx="355.3" cy="754.6" r="1.3"/>
<circle cx="340.4" cy="754.6" r="1.3"/>
<circle cx="289.9" cy="754.6" r="1.3"/>
<circle cx="296.1" cy="754.6" r="1.3"/>
<circle cx="331.7" cy="754.6" r="1.3"/>
<circle cx="300.3" cy="754.6" r="1.3"/>
<circle cx="358.6" cy="754.6" r="1.3"/>
<circle cx="301.3" cy="754.6" r="1.3"/>
<circle cx="377.8" cy="754.6" r="1.3"/>
<circle cx="327" cy="754.6" r="1.3"/>
<circle cx="306.2" cy="754.6" r="1.3"/>
<circle cx="330.2" cy="754.6" r="1.3"/>
<circle cx="304.5" cy="754.6" r="1.3"/>
<circle cx="285.3" cy="754.6" r="1.3"/>
<circle cx="369.9" cy="754.6" r="1.3"/>
<circle cx="301.2" cy="754.6" r="1.3"/>
<circle cx="333.4" cy="754.6" r="1.3"/>
<circle cx="291.8" cy="754.6" r="1.3"/>
<circle cx="295.4" cy="754.6" r="1.3"/>
<circle cx="298.8" cy="754.6" r="1.3"/>
<circle cx="286.8" cy="754.6" r="1.3"/>
<circle cx="359.9" cy="754.6" r="1.3"/>
<circle cx="368" cy="754.6" r="1.3"/>
<circle cx="371.8" cy="754.6" r="1.3"/>
<circle cx="311.6" cy="754.6" r="1.3"/>
<circle cx="311.6" cy="754.6" r="1.3"/>
<circle cx="318.5" cy="754.6" r="1.3"/>
<circle cx="291.5" cy="754.6" r="1.3"/>
<circle cx="257.1" cy="754.6" r="1.3"/>
<circle cx="326.9" cy="754.6" r="1.3"/>
<circle cx="364.6" cy="754.6" r="1.3"/>
<circle cx="309.3" cy="754.6" r="1.3"/>
<circle cx="318.8" cy="754.6" r="1.3"/>
<circle cx="269" cy="754.6" r="1.3"/>
<circle cx="272.6" cy="754.6" r="1.3"/>
<circle cx="307.7" cy="754.6" r="1.3"/>
<circle cx="294" cy="754.6" r="1.3"/>
<circle cx="320.1" cy="754.6" r="1.3"/>
<circle cx="303.7" cy="754.6" r="1.3"/>
<circle cx="309.3" cy="754.6" r="1.3"/>
<circle cx="301.6" cy="754.6" r="1.3"/>
<circle cx="297.5" cy="754.6" r="1.3"/>
<circle cx="277.6" cy="754.6" r="1.3"/>
<circle cx="305.6" cy="754.6" r="1.3"/>
<circle cx="306.4" cy="754.6" r="1.3"/>
<circle cx="308.3" cy="754.6" r="1.3"/>
<circle cx="301" cy="754.6" r="1.3"/>
<circle cx="283.2" cy="754.6" r="1.3"/>
<circle cx="282.9" cy="754.6" r="1.3"/>
<circle cx="277.1" cy="754.6" r="1.3"/>
<circle cx="276.3" cy="754.6" r="1.3"/>
<circle cx="293.9" cy="754.6" r="1.3"/>
<circle cx="285.6" cy="754.6" r="1.3"/>
<circle cx="313.9" cy="754.6" r="1.3"/>
<circle cx="308.6" cy="754.6" r="1.3"/>
<circle cx="249.2" cy="754.6" r="1.3"/>
<circle cx="340.4" cy="754.6" r="1.3"/>
<circle cx="298.1" cy="754.6" r="1.3"/>
<circle cx="303.2" cy="754.6" r="1.3"/>
<circle cx="327.1" cy="754.6" r="1.3"/>
<circle cx="382.7" cy="754.6" r="1.3"/>
<circle cx="317.5" cy="754.6" r="1.3"/>
<circle cx="289.5" cy="754.6" r="1.3"/>
<circle cx="279.3" cy="754.6" r="1.3"/>
<circle cx="383.2" cy="754.6" r="1.3"/>
<circle cx="350.5" cy="754.6" r="1.3"/>
<circle cx="319.2" cy="754.6" r="1.3"/>
<circle cx="299.4" cy="754.6" r="1.3"/>
<circle cx="323.1" cy="754.6" r="1.3"/>
<circle cx="289.9" cy="754.6" r="1.3"/>
<circle cx="306" cy="754.6" r="1.3"/>
<circle cx="273.5" cy="754.6" r="1.3"/>
<circle cx="283.7" cy="754.6" r="1.3"/>
<circle cx="339.6" cy="754.6" r="1.3"/>
<circle cx="346.5" cy="754.6" r="1.3"/>
<circle cx="316.2" cy="754.6" r="1.3"/>
<circle cx="303.5" cy="754.6" r="1.3"/>
<circle cx="329.3" cy="754.6" r="1.3"/>
<circle cx="391" cy="754.6" r="1.3"/>
<circle cx="299.2" cy="754.6" r="1.3"/>
<circle cx="365" cy="754.6" r="1.3"/>
<circle cx="324.4" cy="754.6" r="1.3"/>
<circle cx="291.9" cy="754.6" r="1.3"/>
<circle cx="281.3" cy="754.6" r="1.3"/>
<circle cx="300.1" cy="754.6" r="1.3"/>
<circle cx="287.8" cy="754.6" r="1.3"/>
<circle cx="293.9" cy="754.6" r="1.3"/>
<circle cx="360.4" cy="754.6" r="1.3"/>
<circle cx="330.4" cy="754.6" r="1.3"/>
<circle cx="401.7" cy="754.6" r="1.3"/>
<circle cx="289" cy="754.6" r="1.3"/>
<circle cx="282.1" cy="754.6" r="1.3"/>
<circle cx="309.7" cy="754.6" r="1.3"/>
<circle cx="395.6" cy="754.6" r="1.3"/>
<circle cx="321.9" cy="754.6" r="1.3"/>
<circle cx="411.7" cy="754.6" r="1.3"/>
<circle cx="292.5" cy="754.6" r="1.3"/>
<circle cx="361.2" cy="754.6" r="1.3"/>
<circle cx="314.4" cy="754.6" r="1.3"/>
<circle cx="344.5" cy="754.6" r="1.3"/>
<circle cx="293.1" cy="754.6" r="1.3"/>
<circle cx="285.4" cy="754.6" r="1.3"/>
<circle cx="303.9" cy="754.6" r="1.3"/>
<circle cx="302.9" cy="754.6" r="1.3"/>
<circle cx="338" cy="754.6" r="1.3"/>
<circle cx="318.9" cy="754.6" r="1.3"/>
<circle cx="290.8" cy="754.6" r="1.3"/>
<circle cx="341.2" cy="754.6" r="1.3"/>
<circle cx="364" cy="754.6" r="1.3"/>
<circle cx="279.1" cy="754.6" r="1.3"/>
<circle cx="321.2" cy="754.6" r="1.3"/>
<circle cx="241.5" cy="754.6" r="1.3"/>
<circle cx="338.9" cy="754.6" r="1.3"/>
<circle cx="315.3" cy="754.6" r="1.3"/>
<circle cx="304.5" cy="754.6" r="1.3"/>
<circle cx="359" cy="754.6" r="1.3"/>
<circle cx="306.1" cy="754.6" r="1.3"/>
<circle cx="383.3" cy="754.6" r="1.3"/>
<circle cx="343.7" cy="754.6" r="1.3"/>
<circle cx="286.1" cy="754.6" r="1.3"/>
<circle cx="348.9" cy="754.6" r="1.3"/>
<circle cx="312.9" cy="754.6" r="1.3"/>
<circle cx="293" cy="754.6" r="1.3"/>
<circle cx="320.8" cy="754.6" r="1.3"/>
<circle cx="314.6" cy="754.6" r="1.3"/>
<circle cx="303" cy="754.6" r="1.3"/>
<circle cx="356.6" cy="754.6" r="1.3"/>
<circle cx="280.8" cy="754.6" r="1.3"/>
<circle cx="316.5" cy="754.6" r="1.3"/>
<circle cx="320.7" cy="754.6" r="1.3"/>
<circle cx="281.3" cy="754.6" r="1.3"/>
<circle cx="318.3" cy="754.6" r="1.3"/>
<circle cx="279.9" cy="754.6" r="1.3"/>
<circle cx="293.3" cy="754.6" r="1.3"/>
<circle cx="369.3" cy="754.6" r="1.3"/>
<circle cx="254.8" cy="754.6" r="1.3"/>
<circle cx="369.3" cy="754.6" r="1.3"/>
<circle cx="337.9" cy="754.6" r="1.3"/>
<circle cx="302.1" cy="754.6" r="1.3"/>
<circle cx="366.8" cy="754.6" r="1.3"/>
<circle cx="341.8" cy="754.6" r="1.3"/>
<circle cx="316.8" cy="754.6" r="1.3"/>
<circle cx="358.5" cy="754.6" r="1.3"/>
<circle cx="315.6" cy="754.6" r="1.3"/>
<circle cx="341.9" cy="754.6" r="1.3"/>
<circle cx="410.2" cy="754.6" r="1.3"/>
<circle cx="343.6" cy="754.6" r="1.3"/>
<circle cx="294" cy="754.6" r="1.3"/>
<circle cx="401.8" cy="754.6" r="1.3"/>
<circle cx="366.3" cy="754.6" r="1.3"/>
<circle cx="315" cy="754.6" r="1.3"/>
<circle cx="299.6" cy="754.6" r="1.3"/>
<circle cx="270.7" cy="754.6" r="1.3"/>
<circle cx="291.8" cy="754.6" r="1.3"/>
<circle cx="346.2" cy="754.6" r="1.3"/>
<circle cx="340" cy="754.6" r="1.3"/>
<circle cx="304.2" cy="754.6" r="1.3"/>
<circle cx="334.4" cy="754.6" r="1.3"/>
<circle cx="282.1" cy="754.6" r="1.3"/>
<circle cx="301.9" cy="754.6" r="1.3"/>
<circle cx="403.6" cy="754.6" r="1.3"/>
<circle cx="296" cy="754.6" r="1.3"/>
<circle cx="277" cy="754.6" r="1.3"/>
<circle cx="364.7" cy="754.6" r="1.3"/>
<circle cx="293.4" cy="754.6" r="1.3"/>
<circle cx="316" cy="754.6" r="1.3"/>
<circle cx="305.3" cy="754.6" r="1.3"/>
<circle cx="269.2" cy="754.6" r="1.3"/>
<circle cx="312" cy="754.6" r="1.3"/>
<circle cx="346.7" cy="754.6" r="1.3"/>
<circle cx="374" cy="754.6" r="1.3"/>
<circle cx="304" cy="754.6" r="1.3"/>
<circle cx="345.6" cy="754.6" r="1.3"/>
<circle cx="298.2" cy="754.6" r="1.3"/>
<circle cx="306" cy="754.6" r="1.3"/>
<circle cx="315.3" cy="754.6" r="1.3"/>
<circle cx="276.8" cy="754.6" r="1.3"/>
<circle cx="367" cy="754.6" r="1.3"/>
<circle cx="342.1" cy="754.6" r="1.3"/>
<circle cx="281.8" cy="754.6" r="1.3"/>
<circle cx="305.3" cy="754.6" r="1.3"/>
<circle cx="355.1" cy="754.6" r="1.3"/>
<circle cx="298" cy="754.6" r="1.3"/>
<circle cx="331.6" cy="754.6" r="1.3"/>
<circle cx="288.3" cy="754.6" r="1.3"/>
<circle cx="313.1" cy="754.6" r="1.3"/>
<circle cx="271.2" cy="754.6" r="1.3"/>
<circle cx="321.7" cy="754.6" r="1.3"/>
<circle cx="308.2" cy="754.6" r="1.3"/>
<circle cx="322" cy="754.6" r="1.3"/>
<circle cx="298.3" cy="754.6" r="1.3"/>
<circle cx="297.7" cy="754.6" r="1.3"/>
<circle cx="292.8" cy="754.6" r="1.3"/>
<circle cx="303.9" cy="754.6" r="1.3"/>
<circle cx="344.8" cy="754.6" r="1.3"/>
<circle cx="331" cy="754.6" r="1.3"/>
<circle cx="296.2" cy="754.6" r="1.3"/>
<circle cx="351.7" cy="754.6" r="1.3"/>
<circle cx="385.7" cy="754.6" r="1.3"/>
<circle cx="352" cy="754.6" r="1.3"/>
<circle cx="306.2" cy="754.6" r="1.3"/>
<circle cx="357.3" cy="754.6" r="1.3"/>
<circle cx="358.1" cy="754.6" r="1.3"/>
<circle cx="280.4" cy="754.6" r="1.3"/>
<circle cx="303.4" cy="754.6" r="1.3"/>
<circle cx="344.1" cy="754.6" r="1.3"/>
<circle cx="289" cy="754.6" r="1.3"/>
<circle cx="258.6" cy="754.6" r="1.3"/>
<circle cx="331" cy="754.6" r="1.3"/>
<circle cx="343.2" cy="754.6" r="1.3"/>
<circle cx="298.2" cy="754.6" r="1.3"/>
<circle cx="282.8" cy="754.6" r="1.3"/>
<circle cx="328.4" cy="754.6" r="1.3"/>
<circle cx="348.5" cy="754.6" r="1.3"/>
<circle cx="280.5" cy="754.6" r="1.3"/>
<circle cx="321.6" cy="754.6" r="1.3"/>
<circle cx="403.2" cy="754.6" r="1.3"/>
<circle cx="305.7" cy="754.6" r="1.3"/>
<circle cx="290.6" cy="754.6" r="1.3"/>
<circle cx="255.8" cy="754.6" r="1.3"/>
<circle cx="304.2" cy="754.6" r="1.3"/>
<circle cx="295.4" cy="754.6" r="1.3"/>
<circle cx="299.9" cy="754.6" r="1.3"/>
<circle cx="399.3" cy="754.6" r="1.3"/>
<circle cx="294.4" cy="754.6" r="1.3"/>
<circle cx="321.4" cy="754.6" r="1.3"/>
<circle cx="296.6" cy="754.6" r="1.3"/>
<circle cx="349.5" cy="754.6" r="1.3"/>
<circle cx="276.9" cy="754.6" r="1.3"/>
<circle cx="368.4" cy="754.6" r="1.3"/>
<circle cx="316.2" cy="754.6" r="1.3"/>
<circle cx="298.3" cy="754.6" r="1.3"/>
<circle cx="300.8" cy="754.6" r="1.3"/>
<circle cx="374.8" cy="754.6" r="1.3"/>
<circle cx="388.4" cy="754.6" r="1.3"/>
<circle cx="287.8" cy="754.6" r="1.3"/>
<circle cx="316.2" cy="754.6" r="1.3"/>
<circle cx="376.4" cy="754.6" r="1.3"/>
<circle cx="249.9" cy="754.6" r="1.3"/>
<circle cx="246.3" cy="754.6" r="1.3"/>
<circle cx="297" cy="754.6" r="1.3"/>
<circle cx="311.4" cy="754.6" r="1.3"/>
<circle cx="372.6" cy="754.6" r="1.3"/>
<circle cx="317.3" cy="754.6" r="1.3"/>
<circle cx="298.1" cy="754.6" r="1.3"/>
<circle cx="270" cy="754.6" r="1.3"/>
<circle cx="320.8" cy="754.6" r="1.3"/>
<circle cx="342.1" cy="754.6" r="1.3"/>
<circle cx="302.1" cy="754.6" r="1.3"/>
<circle cx="318.6" cy="754.6" r="1.3"/>
<circle cx="315.5" cy="754.6" r="1.3"/>
<circle cx="289.4" cy="754.6" r="1.3"/>
<circle cx="273.2" cy="754.6" r="1.3"/>
<circle cx="342.2" cy="754.6" r="1.3"/>
<circle cx="294.5" cy="754.6" r="1.3"/>
<circle cx="291.6" cy="754.6" r="1.3"/>
<circle cx="324.4" cy="754.6" r="1.3"/>
<circle cx="398.5" cy="754.6" r="1.3"/>
<circle cx="334.2" cy="754.6" r="1.3"/>
<circle cx="322.2" cy="754.6" r="1.3"/>
<circle cx="281.6" cy="754.6" r="1.3"/>
<circle cx="357.9" cy="754.6" r="1.3"/>
<circle cx="293.7" cy="754.6" r="1.3"/>
<circle cx="357.5" cy="754.6" r="1.3"/>
<circle cx="339.2" cy="754.6" r="1.3"/>
<circle cx="357.1" cy="754.6" r="1.3"/>
<circle cx="308.6" cy="754.6" r="1.3"/>
<circle cx="289.8" cy="754.6" r="1.3"/>
<circle cx="295.4" cy="754.6" r="1.3"/>
<circle cx="268.4" cy="754.6" r="1.3"/>
<circle cx="344.8" cy="754.6" r="1.3"/>
<circle cx="302.4" cy="754.6" r="1.3"/>
<circle cx="398.7" cy="754.6" r="1.3"/>
<circle cx="329.8" cy="754.6" r="1.3"/>
<circle cx="358.3" cy="754.6" r="1.3"/>
<circle cx="315.6" cy="754.6" r="1.3"/>
<circle cx="298.2" cy="754.6" r="1.3"/>
<circle cx="318.9" cy="754.6" r="1.3"/>
<circle cx="359.8" cy="754.6" r="1.3"/>
<circle cx="342.3" cy="754.6" r="1.3"/>
<circle cx="287.1" cy="754.6" r="1.3"/>
<circle cx="305.1" cy="754.6" r="1.3"/>
<circle cx="288.8" cy="754.6" r="1.3"/>
<circle cx="335.1" cy="754.6" r="1.3"/>
<circle cx="313.7" cy="754.6" r="1.3"/>
<circle cx="286.4" cy="754.6" r="1.3"/>
<circle cx="289.8" cy="754.6" r="1.3"/>
<circle cx="340.2" cy="754.6" r="1.3"/>
<circle cx="305.9" cy="754.6" r="1.3"/>
<circle cx="288.3" cy="754.6" r="1.3"/>
<circle cx="297.9" cy="754.6" r="1.3"/>
<circle cx="348.3" cy="754.6" r="1.3"/>
<circle cx="278.6" cy="754.6" r="1.3"/>
<circle cx="339.6" cy="754.6" r="1.3"/>
<circle cx="341.1" cy="754.6" r="1.3"/>
<circle cx="366.2" cy="754.6" r="1.3"/>
<circle cx="301" cy="754.6" r="1.3"/>
<circle cx="290.4" cy="754.6" r="1.3"/>
<circle cx="315.7" cy="754.6" r="1.3"/>
<circle cx="307.4" cy="754.6" r="1.3"/>
<circle cx="311.7" cy="754.6" r="1.3"/>
<circle cx="373.7" cy="754.6" r="1.3"/>
<circle cx="293.4" cy="754.6" r="1.3"/>
<circle cx="331.4" cy="754.6" r="1.3"/>
<circle cx="312.9" cy="754.6" r="1.3"/>
<circle cx="313.3" cy="754.6" r="1.3"/>
<circle cx="339.1" cy="754.6" r="1.3"/>
<circle cx="343.3" cy="754.6" r="1.3"/>
<circle cx="354.1" cy="754.6" r="1.3"/>
<circle cx="284.5" cy="754.6" r="1.3"/>
<circle cx="315.2" cy="754.6" r="1.3"/>
<circle cx="364.3" cy="754.6" r="1.3"/>
<circle cx="338.2" cy="754.6" r="1.3"/>
<circle cx="298.2" cy="754.6" r="1.3"/>
<circle cx="369.1" cy="754.6" r="1.3"/>
<circle cx="340.9" cy="754.6" r="1.3"/>
<circle cx="261.4" cy="754.6" r="1.3"/>
<circle cx="359.3" cy="754.6" r="1.3"/>
<circle cx="353.6" cy="754.6" r="1.3"/>
<circle cx="317.5" cy="754.6" r="1.3"/>
<circle cx="305.4" cy="754.6" r="1.3"/>
<circle cx="313.8" cy="754.6" r="1.3"/>
<circle cx="322.8" cy="754.6" r="1.3"/>
<circle cx="350.6" cy="754.6" r="1.3"/>
<circle cx="358.3" cy="754.6" r="1.3"/>
<circle cx="253.1" cy="754.6" r="1.3"/>
<circle cx="365.7" cy="754.6" r="1.3"/>
<circle cx="295.3" cy="754.6" r="1.3"/>
<circle cx="306.3" cy="754.6" r="1.3"/>
<circle cx="350.4" cy="754.6" r="1.3"/>
<circle cx="414.9" cy="754.6" r="1.3"/>
<circle cx="318.6" cy="754.6" r="1.3"/>
<circle cx="357" cy="754.6" r="1.3"/>
<circle cx="260.6" cy="754.6" r="1.3"/>
<circle cx="274.8" cy="754.6" r="1.3"/>
<circle cx="293.4" cy="754.6" r="1.3"/>
<circle cx="357.1" cy="754.6" r="1.3"/>
<circle cx="296.9" cy="754.6" r="1.3"/>
<circle cx="356.1" cy="754.6" r="1.3"/>
<circle cx="299.2" cy="754.6" r="1.3"/>
<circle cx="345.2" cy="754.6" r="1.3"/>
<circle cx="372.4" cy="754.6" r="1.3"/>
<circle cx="297.3" cy="754.6" r="1.3"/>
<circle cx="305.3" cy="754.6" r="1.3"/>
<circle cx="335.2" cy="754.6" r="1.3"/>
<circle cx="300.5" cy="754.6" r="1.3"/>
<circle cx="314.8" cy="754.6" r="1.3"/>
<circle cx="281.8" cy="754.6" r="1.3"/>
<circle cx="281.5" cy="754.6" r="1.3"/>
<circle cx="335.4" cy="754.6" r="1.3"/>
<circle cx="310.4" cy="754.6" r="1.3"/>
<circle cx="251.3" cy="754.6" r="1.3"/>
<circle cx="357.6" cy="754.6" r="1.3"/>
<circle cx="288.7" cy="754.6" r="1.3"/>
<circle cx="310.6" cy="754.6" r="1.3"/>
<circle cx="322.3" cy="754.6" r="1.3"/>
<circle cx="309.7" cy="754.6" r="1.3"/>
<circle cx="310.2" cy="754.6" r="1.3"/>
<circle cx="333.4" cy="754.6" r="1.3"/>
<circle cx="309.5" cy="754.6" r="1.3"/>
<circle cx="279.3" cy="754.6" r="1.3"/>
<circle cx="348.7" cy="754.6" r="1.3"/>
<circle cx="355.3" cy="754.6" r="1.3"/>
<circle cx="310.9" cy="754.6" r="1.3"/>
<circle cx="287.6" cy="754.6" r="1.3"/>
<circle cx="299.8" cy="754.6" r="1.3"/>
<circle cx="293.8" cy="754.6" r="1.3"/>
<circle cx="273.2" cy="754.6" r="1.3"/>
<circle cx="353.8" cy="754.6" r="1.3"/>
<circle cx="323.7" cy="754.6" r="1.3"/>
<circle cx="350" cy="754.6" r="1.3"/>
<circle cx="334.4" cy="754.6" r="1.3"/>
<circle cx="297.2" cy="754.6" r="1.3"/>
<circle cx="278.5" cy="754.6" r="1.3"/>
<circle cx="280.7" cy="754.6" r="1.3"/>
<circle cx="290.2" cy="754.6" r="1.3"/>
<circle cx="282.6" cy="754.6" r="1.3"/>
<circle cx="296.9" cy="754.6" r="1.3"/>
<circle cx="296.2" cy="754.6" r="1.3"/>
<circle cx="331.5" cy="754.6" r="1.3"/>
<circle cx="381" cy="754.6" r="1.3"/>
<circle cx="304.8" cy="754.6" r="1.3"/>
<circle cx="320.9" cy="754.6" r="1.3"/>
<circle cx="277" cy="754.6" r="1.3"/>
<circle cx="277" cy="754.6" r="1.3"/>
<circle cx="385.2" cy="754.6" r="1.3"/>
<circle cx="291.1" cy="754.6" r="1.3"/>
<circle cx="346.8" cy="754.6" r="1.3"/>
<circle cx="324.9" cy="754.6" r="1.3"/>
<circle cx="280.7" cy="754.6" r="1.3"/>
<circle cx="341.8" cy="754.6" r="1.3"/>
<circle cx="314.1" cy="754.6" r="1.3"/>
<circle cx="331.4" cy="754.6" r="1.3"/>
<circle cx="345.1" cy="754.6" r="1.3"/>
<circle cx="320.6" cy="754.6" r="1.3"/>
<circle cx="307.8" cy="754.6" r="1.3"/>
<circle cx="303" cy="754.6" r="1.3"/>
<circle cx="286.8" cy="754.6" r="1.3"/>
<circle cx="297.2" cy="754.6" r="1.3"/>
<circle cx="304.4" cy="754.6" r="1.3"/>
<circle cx="304" cy="754.6" r="1.3"/>
<circle cx="314.1" cy="754.6" r="1.3"/>
<circle cx="293.8" cy="754.6" r="1.3"/>
<circle cx="355.6" cy="754.6" r="1.3"/>
<circle cx="316.3" cy="754.6" r="1.3"/>
<circle cx="363.7" cy="754.6" r="1.3"/>
<circle cx="364.4" cy="754.6" r="1.3"/>
<circle cx="370.2" cy="754.6" r="1.3"/>
<circle cx="397.8" cy="754.6" r="1.3"/>
<circle cx="325.6" cy="754.6" r="1.3"/>
<circle cx="308.7" cy="754.6" r="1.3"/>
<circle cx="289.3" cy="754.6" r="1.3"/>
<circle cx="291.4" cy="754.6" r="1.3"/>
<circle cx="331.2" cy="754.6" r="1.3"/>
<circle cx="298.2" cy="754.6" r="1.3"/>
<circle cx="287.3" cy="754.6" r="1.3"/>
<circle cx="326.2" cy="754.6" r="1.3"/>
<circle cx="380.2" cy="754.6" r="1.3"/>
<circle cx="317.8" cy="754.6" r="1.3"/>
<circle cx="359.5" cy="754.6" r="1.3"/>
<circle cx="344" cy="754.6" r="1.3"/>
<circle cx="319.2" cy="754.6" r="1.3"/>
<circle cx="325.7" cy="754.6" r="1.3"/>
<circle cx="349.7" cy="754.6" r="1.3"/>
<circle cx="326.3" cy="754.6" r="1.3"/>
<circle cx="323.6" cy="754.6" r="1.3"/>
<circle cx="357.7" cy="754.6" r="1.3"/>
<circle cx="349.6" cy="754.6" r="1.3"/>
<circle cx="345.2" cy="754.6" r="1.3"/>
<circle cx="329" cy="754.6" r="1.3"/>
<circle cx="246.7" cy="754.6" r="1.3"/>
<circle cx="248.5" cy="754.6" r="1.3"/>
<circle cx="370.6" cy="754.6" r="1.3"/>
<circle cx="279" cy="754.6" r="1.3"/>
<circle cx="348.9" cy="754.6" r="1.3"/>
<circle cx="293.9" cy="754.6" r="1.3"/>
<circle cx="310.5" cy="754.6" r="1.3"/>
<circle cx="287" cy="754.6" r="1.3"/>
<circle cx="289.4" cy="754.6" r="1.3"/>
<circle cx="302.1" cy="754.6" r="1.3"/>
<circle cx="306.7" cy="754.6" r="1.3"/>
<circle cx="369.3" cy="754.6" r="1.3"/>
<circle cx="350.4" cy="754.6" r="1.3"/>
<circle cx="286.6" cy="754.6" r="1.3"/>
<circle cx="289.9" cy="754.6" r="1.3"/>
<circle cx="311.5" cy="754.6" r="1.3"/>
<circle cx="287.1" cy="754.6" r="1.3"/>
<circle cx="363.5" cy="754.6" r="1.3"/>
<circle cx="346.8" cy="754.6" r="1.3"/>
<circle cx="294.8" cy="754.6" r="1.3"/>
<circle cx="305.4" cy="754.6" r="1.3"/>
<circle cx="302" cy="754.6" r="1.3"/>
<circle cx="287.1" cy="754.6" r="1.3"/>
<circle cx="312.5" cy="754.6" r="1.3"/>
<circle cx="311.5" cy="754.6" r="1.3"/>
<circle cx="272.3" cy="754.6" r="1.3"/>
<circle cx="313.9" cy="754.6" r="1.3"/>
<circle cx="320.7" cy="754.6" r="1.3"/>
<circle cx="320.5" cy="754.6" r="1.3"/>
<circle cx="351.5" cy="754.6" r="1.3"/>
<circle cx="335.9" cy="754.6" r="1.3"/>
<circle cx="280.8" cy="754.6" r="1.3"/>
<circle cx="254.5" cy="754.6" r="1.3"/>
<circle cx="379.1" cy="754.6" r="1.3"/>
<circle cx="285.7" cy="754.6" r="1.3"/>
<circle cx="300.3" cy="754.6" r="1.3"/>
<circle cx="312.9" cy="754.6" r="1.3"/>
<circle cx="299.8" cy="754.6" r="1.3"/>
<circle cx="269.7" cy="754.6" r="1.3"/>
<circle cx="303.1" cy="754.6" r="1.3"/>
<circle cx="306.6" cy="754.6" r="1.3"/>
<circle cx="327.6" cy="754.6" r="1.3"/>
<circle cx="329.7" cy="754.6" r="1.3"/>
<circle cx="266.6" cy="754.6" r="1.3"/>
<circle cx="344.6" cy="754.6" r="1.3"/>
<circle cx="295.5" cy="754.6" r="1.3"/>
<circle cx="279.2" cy="754.6" r="1.3"/>
<circle cx="309.7" cy="754.6" r="1.3"/>
<circle cx="357.6" cy="754.6" r="1.3"/>
<circle cx="389.8" cy="754.6" r="1.3"/>
<circle cx="338.5" cy="754.6" r="1.3"/>
<circle cx="288.4" cy="754.6" r="1.3"/>
<circle cx="261.9" cy="754.6" r="1.3"/>
<circle cx="377.7" cy="754.6" r="1.3"/>
<circle cx="360.1" cy="754.6" r="1.3"/>
<circle cx="257.9" cy="754.6" r="1.3"/>
<circle cx="279.1" cy="754.6" r="1.3"/>
<circle cx="283.4" cy="754.6" r="1.3"/>
<circle cx="336.1" cy="754.6" r="1.3"/>
<circle cx="365.3" cy="754.6" r="1.3"/>
<circle cx="302.1" cy="754.6" r="1.3"/>
<circle cx="302.1" cy="754.6" r="1.3"/>
<circle cx="313" cy="754.6" r="1.3"/>
<circle cx="274" cy="754.6" r="1.3"/>
<circle cx="325" cy="754.6" r="1.3"/>
<circle cx="324.8" cy="754.6" r="1.3"/>
<circle cx="297" cy="754.6" r="1.3"/>
<circle cx="298.7" cy="754.6" r="1.3"/>
<circle cx="271.6" cy="754.6" r="1.3"/>
<circle cx="319.3" cy="754.6" r="1.3"/>
<circle cx="314.8" cy="754.6" r="1.3"/>
<circle cx="305.5" cy="754.6" r="1.3"/>
<circle cx="356.4" cy="754.6" r="1.3"/>
<circle cx="318.2" cy="754.6" r="1.3"/>
<circle cx="356.3" cy="754.6" r="1.3"/>
<circle cx="271.1" cy="754.6" r="1.3"/>
<circle cx="293.9" cy="754.6" r="1.3"/>
<circle cx="312" cy="754.6" r="1.3"/>
<circle cx="383" cy="754.6" r="1.3"/>
<circle cx="292.9" cy="754.6" r="1.3"/>
<circle cx="292" cy="754.6" r="1.3"/>
<circle cx="356.5" cy="754.6" r="1.3"/>
<circle cx="343.9" cy="754.6" r="1.3"/>
<circle cx="321.3" cy="754.6" r="1.3"/>
<circle cx="325" cy="754.6" r="1.3"/>
<circle cx="265" cy="754.6" r="1.3"/>
<circle cx="365" cy="754.6" r="1.3"/>
<circle cx="303" cy="754.6" r="1.3"/>
<circle cx="336.1" cy="754.6" r="1.3"/>
<circle cx="370.2" cy="754.6" r="1.3"/>
<circle cx="325.1" cy="754.6" r="1.3"/>
<circle cx="343.7" cy="754.6" r="1.3"/>
<circle cx="299" cy="754.6" r="1.3"/>
<circle cx="292.6" cy="754.6" r="1.3"/>
<circle cx="288.6" cy="754.6" r="1.3"/>
<circle cx="322.6" cy="754.6" r="1.3"/>
<circle cx="305.8" cy="754.6" r="1.3"/>
<circle cx="289.5" cy="754.6" r="1.3"/>
<circle cx="262.8" cy="754.6" r="1.3"/>
<circle cx="396.2" cy="754.6" r="1.3"/>
<circle cx="295.7" cy="754.6" r="1.3"/>
<circle cx="253.6" cy="754.6" r="1.3"/>
<circle cx="291" cy="754.6" r="1.3"/>
<circle cx="310.5" cy="754.6" r="1.3"/>
<circle cx="306.2" cy="754.6" r="1.3"/>
<circle cx="294.9" cy="754.6" r="1.3"/>
<circle cx="282.7" cy="754.6" r="1.3"/>
<circle cx="351.3" cy="754.6" r="1.3"/>
<circle cx="377.6" cy="754.6" r="1.3"/>
<circle cx="307" cy="754.6" r="1.3"/>
<circle cx="307.1" cy="754.6" r="1.3"/>
<circle cx="375.8" cy="754.6" r="1.3"/>
<circle cx="353.7" cy="754.6" r="1.3"/>
<circle cx="287.3" cy="754.6" r="1.3"/>
<circle cx="309.6" cy="754.6" r="1.3"/>
<circle cx="325.1" cy="754.6" r="1.3"/>
<circle cx="290" cy="754.6" r="1.3"/>
<circle cx="415" cy="754.6" r="1.3"/>
<circle cx="305.4" cy="754.6" r="1.3"/>
<circle cx="286.9" cy="754.6" r="1.3"/>
<circle cx="303.1" cy="754.6" r="1.3"/>
<circle cx="300.6" cy="754.6" r="1.3"/>
<circle cx="349.4" cy="754.6" r="1.3"/>
<circle cx="377.1" cy="754.6" r="1.3"/>
<circle cx="291.3" cy="754.6" r="1.3"/>
<circle cx="370.7" cy="754.6" r="1.3"/>
<circle cx="291.7" cy="754.6" r="1.3"/>
<circle cx="324.8" cy="754.6" r="1.3"/>
<circle cx="295.4" cy="754.6" r="1.3"/>
<circle cx="308" cy="754.6" r="1.3"/>
<circle cx="289.1" cy="754.6" r="1.3"/>
<circle cx="296.1" cy="754.6" r="1.3"/>
<circle cx="351.2" cy="754.6" r="1.3"/>
<circle cx="283.5" cy="754.6" r="1.3"/>
<circle cx="310.2" cy="754.6" r="1.3"/>
<circle cx="286.3" cy="754.6" r="1.3"/>
<circle cx="281.5" cy="754.6" r="1.3"/>
<circle cx="339.2" cy="754.6" r="1.3"/>
<circle cx="310.9" cy="754.6" r="1.3"/>
<circle cx="302.3" cy="754.6" r="1.3"/>
<circle cx="340" cy="754.6" r="1.3"/>
<circle cx="359.3" cy="754.6" r="1.3"/>
<circle cx="296.1" cy="754.6" r="1.3"/>
<circle cx="379.5" cy="754.6" r="1.3"/>
<circle cx="282.8" cy="754.6" r="1.3"/>
<circle cx="319.4" cy="754.6" r="1.3"/>
<circle cx="313.3" cy="754.6" r="1.3"/>
<circle cx="270.6" cy="754.6" r="1.3"/>
<circle cx="334.3" cy="754.6" r="1.3"/>
<circle cx="323.1" cy="754.6" r="1.3"/>
<circle cx="315.4" cy="754.6" r="1.3"/>
<circle cx="298.6" cy="754.6" r="1.3"/>
<circle cx="360.3" cy="754.6" r="1.3"/>
<circle cx="345.2" cy="754.6" r="1.3"/>
<circle cx="288.9" cy="754.6" r="1.3"/>
<circle cx="306.4" cy="754.6" r="1.3"/>
<circle cx="255.5" cy="754.6" r="1.3"/>
<circle cx="377.6" cy="754.6" r="1.3"/>
<circle cx="378" cy="754.6" r="1.3"/>
<circle cx="305.6" cy="754.6" r="1.3"/>
<circle cx="309.7" cy="754.6" r="1.3"/>
<circle cx="286.5" cy="754.6" r="1.3"/>
<circle cx="284.8" cy="754.6" r="1.3"/>
<circle cx="334.9" cy="754.6" r="1.3"/>
<circle cx="353.2" cy="754.6" r="1.3"/>
<circle cx="318.3" cy="754.6" r="1.3"/>
<circle cx="366.8" cy="754.6" r="1.3"/>
<circle cx="326.2" cy="754.6" r="1.3"/>
<circle cx="265.5" cy="754.6" r="1.3"/>
<circle cx="340.9" cy="754.6" r="1.3"/>
<circle cx="288.3" cy="754.6" r="1.3"/>
<circle cx="374.6" cy="754.6" r="1.3"/>
<circle cx="291" cy="754.6" r="1.3"/>
<circle cx="269.9" cy="754.6" r="1.3"/>
<circle cx="356.2" cy="754.6" r="1.3"/>
<circle cx="326.4" cy="754.6" r="1.3"/>
<circle cx="321.9" cy="754.6" r="1.3"/>
<circle cx="301" cy="754.6" r="1.3"/>
<circle cx="282.7" cy="754.6" r="1.3"/>
<circle cx="277.3" cy="754.6" r="1.3"/>
<circle cx="274.3" cy="754.6" r="1.3"/>
<circle cx="374.2" cy="754.6" r="1.3"/>
<circle cx="303" cy="754.6" r="1.3"/>
<circle cx="342" cy="754.6" r="1.3"/>
<circle cx="315.4" cy="754.6" r="1.3"/>
<circle cx="291.5" cy="754.6" r="1.3"/>
<circle cx="349.2" cy="754.6" r="1.3"/>
<circle cx="271.1" cy="754.6" r="1.3"/>
<circle cx="285.7" cy="754.6" r="1.3"/>
<circle cx="337.3" cy="754.6" r="1.3"/>
<circle cx="293.8" cy="754.6" r="1.3"/>
<circle cx="313.6" cy="754.6" r="1.3"/>
<circle cx="312.4" cy="754.6" r="1.3"/>
<circle cx="336.4" cy="754.6" r="1.3"/>
<circle cx="303" cy="754.6" r="1.3"/>
<circle cx="297.5" cy="754.6" r="1.3"/>
<circle cx="289.9" cy="754.6" r="1.3"/>
<circle cx="299.2" cy="754.6" r="1.3"/>
<circle cx="344.8" cy="754.6" r="1.3"/>
<circle cx="373.1" cy="754.6" r="1.3"/>
<circle cx="288.7" cy="754.6" r="1.3"/>
<circle cx="285.3" cy="754.6" r="1.3"/>
<circle cx="278.4" cy="754.6" r="1.3"/>
<circle cx="340.1" cy="754.6" r="1.3"/>
<circle cx="363.4" cy="754.6" r="1.3"/>
<circle cx="353.4" cy="754.6" r="1.3"/>
<circle cx="292.1" cy="754.6" r="1.3"/>
<circle cx="294.5" cy="754.6" r="1.3"/>
<circle cx="375.9" cy="754.6" r="1.3"/>
<circle cx="304.9" cy="754.6" r="1.3"/>
<circle cx="269.2" cy="754.6" r="1.3"/>
<circle cx="301.5" cy="754.6" r="1.3"/>
<circle cx="333" cy="754.6" r="1.3"/>
<circle cx="358" cy="754.6" r="1.3"/>
<circle cx="310.4" cy="754.6" r="1.3"/>
<circle cx="289" cy="754.6" r="1.3"/>
<circle cx="310.1" cy="754.6" r="1.3"/>
<circle cx="271.4" cy="754.6" r="1.3"/>
<circle cx="302.2" cy="754.6" r="1.3"/>
<circle cx="285.4" cy="754.6" r="1.3"/>
<circle cx="284.5" cy="754.6" r="1.3"/>
<circle cx="349.8" cy="754.6" r="1.3"/>
<circle cx="294.7" cy="754.6" r="1.3"/>
<circle cx="289.4" cy="754.6" r="1.3"/>
<circle cx="338.3" cy="754.6" r="1.3"/>
<circle cx="315.6" cy="754.6" r="1.3"/>
<circle cx="288.5" cy="754.6" r="1.3"/>
<circle cx="337.4" cy="754.6" r="1.3"/>
<circle cx="306.5" cy="754.6" r="1.3"/>
<circle cx="321.6" cy="754.6" r="1.3"/>
<circle cx="413.1" cy="754.6" r="1.3"/>
<circle cx="337.2" cy="754.6" r="1.3"/>
<circle cx="340.9" cy="754.6" r="1.3"/>
<circle cx="277.3" cy="754.6" r="1.3"/>
<circle cx="373.8" cy="754.6" r="1.3"/>
<circle cx="396.3" cy="754.6" r="1.3"/>
<circle cx="303.2" cy="754.6" r="1.3"/>
<circle cx="251.5" cy="754.6" r="1.3"/>
<circle cx="311.7" cy="754.6" r="1.3"/>
<circle cx="260.8" cy="754.6" r="1.3"/>
<circle cx="364" cy="754.6" r="1.3"/>
<circle cx="345.8" cy="754.6" r="1.3"/>
<circle cx="267.9" cy="754.6" r="1.3"/>
<circle cx="390.4" cy="754.6" r="1.3"/>
<circle cx="301.4" cy="754.6" r="1.3"/>
<circle cx="380" cy="754.6" r="1.3"/>
<circle cx="354.5" cy="754.6" r="1.3"/>
<circle cx="353.1" cy="754.6" r="1.3"/>
<circle cx="341.4" cy="754.6" r="1.3"/>
<circle cx="367.4" cy="754.6" r="1.3"/>
<circle cx="334.4" cy="754.6" r="1.3"/>
<circle cx="306.3" cy="754.6" r="1.3"/>
<circle cx="299" cy="754.6" r="1.3"/>
<circle cx="268.6" cy="754.6" r="1.3"/>
<circle cx="288.5" cy="754.6" r="1.3"/>
<circle cx="303.7" cy="754.6" r="1.3"/>
<circle cx="388.5" cy="754.6" r="1.3"/>
<circle cx="328.8" cy="754.6" r="1.3"/>
<circle cx="352.1" cy="754.6" r="1.3"/>
<circle cx="409.1" cy="754.6" r="1.3"/>
<circle cx="303" cy="754.6" r="1.3"/>
<circle cx="313.7" cy="754.6" r="1.3"/>
<circle cx="342.2" cy="754.6" r="1.3"/>
<circle cx="357.2" cy="754.6" r="1.3"/>
<circle cx="367.5" cy="754.6" r="1.3"/>
<circle cx="335.9" cy="754.6" r="1.3"/>
<circle cx="301.5" cy="754.6" r="1.3"/>
<circle cx="314.4" cy="754.6" r="1.3"/>
<circle cx="255.1" cy="754.6" r="1.3"/>
<circle cx="295.5" cy="754.6" r="1.3"/>
<circle cx="346.8" cy="754.6" r="1.3"/>
<circle cx="346.7" cy="754.6" r="1.3"/>
<circle cx="375.4" cy="754.6" r="1.3"/>
<circle cx="281" cy="754.6" r="1.3"/>
<circle cx="328.8" cy="754.6" r="1.3"/>
<circle cx="291.8" cy="754.6" r="1.3"/>
<circle cx="310.2" cy="754.6" r="1.3"/>
<circle cx="290" cy="754.6" r="1.3"/>
<circle cx="276" cy="754.6" r="1.3"/>
<circle cx="293.6" cy="754.6" r="1.3"/>
<circle cx="306.6" cy="754.6" r="1.3"/>
<circle cx="283.1" cy="754.6" r="1.3"/>
<circle cx="316.1" cy="754.6" r="1.3"/>
<circle cx="277.1" cy="754.6" r="1.3"/>
<circle cx="281" cy="754.6" r="1.3"/>
<circle cx="289" cy="754.6" r="1.3"/>
<circle cx="395.1" cy="754.6" r="1.3"/>
<circle cx="257.5" cy="754.6" r="1.3"/>
<circle cx="321.8" cy="754.6" r="1.3"/>
<circle cx="311.6" cy="754.6" r="1.3"/>
<circle cx="300.6" cy="754.6" r="1.3"/>
<circle cx="266.3" cy="754.6" r="1.3"/>
<circle cx="277.5" cy="754.6" r="1.3"/>
<circle cx="310.9" cy="754.6" r="1.3"/>
<circle cx="395" cy="754.6" r="1.3"/>
<circle cx="339.7" cy="754.6" r="1.3"/>
<circle cx="286.8" cy="754.6" r="1.3"/>
<circle cx="279.5" cy="754.6" r="1.3"/>
<circle cx="330.5" cy="754.6" r="1.3"/>
<circle cx="358.5" cy="754.6" r="1.3"/>
<circle cx="299.6" cy="754.6" r="1.3"/>
<circle cx="292.9" cy="754.6" r="1.3"/>
<circle cx="290.6" cy="754.6" r="1.3"/>
<circle cx="356.2" cy="754.6" r="1.3"/>
<circle cx="364.1" cy="754.6" r="1.3"/>
<circle cx="347.4" cy="754.6" r="1.3"/>
<circle cx="270.8" cy="754.6" r="1.3"/>
<circle cx="294.7" cy="754.6" r="1.3"/>
<circle cx="296.3" cy="754.6" r="1.3"/>
<circle cx="304" cy="754.6" r="1.3"/>
<circle cx="347.4" cy="754.6" r="1.3"/>
<circle cx="305" cy="754.6" r="1.3"/>
<circle cx="372.6" cy="754.6" r="1.3"/>
<circle cx="268.1" cy="754.6" r="1.3"/>
<circle cx="337.1" cy="754.6" r="1.3"/>
<circle cx="308.4" cy="754.6" r="1.3"/>
<circle cx="345.2" cy="754.6" r="1.3"/>
<circle cx="295.3" cy="754.6" r="1.3"/>
<circle cx="391.6" cy="754.6" r="1.3"/>
<circle cx="302.4" cy="754.6" r="1.3"/>
<circle cx="293.6" cy="754.6" r="1.3"/>
<circle cx="290.1" cy="754.6" r="1.3"/>
<circle cx="334.5" cy="754.6" r="1.3"/>
<circle cx="322.9" cy="754.6" r="1.3"/>
<circle cx="417" cy="754.6" r="1.3"/>
<circle cx="327.4" cy="754.6" r="1.3"/>
<circle cx="272.4" cy="754.6" r="1.3"/>
<circle cx="321.6" cy="754.6" r="1.3"/>
<circle cx="327.1" cy="754.6" r="1.3"/>
<circle cx="397.2" cy="754.6" r="1.3"/>
<circle cx="306.3" cy="754.6" r="1.3"/>
<circle cx="285.6" cy="754.6" r="1.3"/>
<circle cx="330" cy="754.6" r="1.3"/>
<circle cx="349.4" cy="754.6" r="1.3"/>
<circle cx="295.4" cy="754.6" r="1.3"/>
<circle cx="321.7" cy="754.6" r="1.3"/>
<circle cx="335.5" cy="754.6" r="1.3"/>
<circle cx="325" cy="754.6" r="1.3"/>
<circle cx="306.7" cy="754.6" r="1.3"/>
<circle cx="311.3" cy="754.6" r="1.3"/>
<circle cx="311.4" cy="754.6" r="1.3"/>
<circle cx="293.1" cy="754.6" r="1.3"/>
<circle cx="282.8" cy="754.6" r="1.3"/>
<circle cx="282.4" cy="754.6" r="1.3"/>
<circle cx="291.7" cy="754.6" r="1.3"/>
<circle cx="324.3" cy="754.6" r="1.3"/>
<circle cx="303.8" cy="754.6" r="1.3"/>
<circle cx="332.5" cy="754.6" r="1.3"/>
<circle cx="272.3" cy="754.6" r="1.3"/>
<circle cx="355.4" cy="754.6" r="1.3"/>
<circle cx="303.4" cy="754.6" r="1.3"/>
<circle cx="277.4" cy="754.6" r="1.3"/>
<circle cx="293" cy="754.6" r="1.3"/>
<circle cx="372.2" cy="754.6" r="1.3"/>
<circle cx="293.9" cy="754.6" r="1.3"/>
<circle cx="411.1" cy="754.6" r="1.3"/>
<circle cx="324.6" cy="754.6" r="1.3"/>
<circle cx="354.4" cy="754.6" r="1.3"/>
<circle cx="302.9" cy="754.6" r="1.3"/>
<circle cx="343.3" cy="754.6" r="1.3"/>
<circle cx="317.8" cy="754.6" r="1.3"/>
<circle cx="277.5" cy="754.6" r="1.3"/>
<circle cx="297.8" cy="754.6" r="1.3"/>
<circle cx="314.6" cy="754.6" r="1.3"/>
<circle cx="390.1" cy="754.6" r="1.3"/>
<circle cx="371.9" cy="754.6" r="1.3"/>
<circle cx="308.5" cy="754.6" r="1.3"/>
<circle cx="299.7" cy="754.6" r="1.3"/>
<circle cx="279.1" cy="754.6" r="1.3"/>
<circle cx="243.5" cy="754.6" r="1.3"/>
<circle cx="280.7" cy="754.6" r="1.3"/>
<circle cx="295.7" cy="754.6" r="1.3"/>
<circle cx="317.6" cy="754.6" r="1.3"/>
<circle cx="272.7" cy="754.6" r="1.3"/>
<circle cx="379" cy="754.6" r="1.3"/>
<circle cx="323.5" cy="754.6" r="1.3"/>
<circle cx="290.2" cy="754.6" r="1.3"/>
<circle cx="303.6" cy="754.6" r="1.3"/>
<circle cx="300.5" cy="754.6" r="1.3"/>
<circle cx="346.6" cy="754.6" r="1.3"/>
<circle cx="300.6" cy="754.6" r="1.3"/>
<circle cx="305.2" cy="754.6" r="1.3"/>
<circle cx="346.2" cy="754.6" r="1.3"/>
<circle cx="324.8" cy="754.6" r="1.3"/>
<circle cx="308.1" cy="754.6" r="1.3"/>
<circle cx="331.9" cy="754.6" r="1.3"/>
<circle cx="302.7" cy="754.6" r="1.3"/>
<circle cx="412.9" cy="754.6" r="1.3"/>
<circle cx="315.9" cy="754.6" r="1.3"/>
<circle cx="309.7" cy="754.6" r="1.3"/>
<circle cx="277.1" cy="754.6" r="1.3"/>
<circle cx="289" cy="754.6" r="1.3"/>
<circle cx="388.4" cy="754.6" r="1.3"/>
<circle cx="302.3" cy="754.6" r="1.3"/>
<circle cx="302.2" cy="754.6" r="1.3"/>
<circle cx="288.3" cy="754.6" r="1.3"/>
<circle cx="326.6" cy="754.6" r="1.3"/>
<circle cx="367.2" cy="754.6" r="1.3"/>
<circle cx="302.5" cy="754.6" r="1.3"/>
<circle cx="321.5" cy="754.6" r="1.3"/>
<circle cx="298.3" cy="754.6" r="1.3"/>
<circle cx="304.8" cy="754.6" r="1.3"/>
<circle cx="310.9" cy="754.6" r="1.3"/>
<circle cx="291.7" cy="754.6" r="1.3"/>
<circle cx="284.6" cy="754.6" r="1.3"/>
<circle cx="322.6" cy="754.6" r="1.3"/>
<circle cx="338.5" cy="754.6" r="1.3"/>
<circle cx="305.4" cy="754.6" r="1.3"/>
<circle cx="384.5" cy="754.6" r="1.3"/>
<circle cx="320" cy="754.6" r="1.3"/>
<circle cx="308.1" cy="754.6" r="1.3"/>
<circle cx="316.9" cy="754.6" r="1.3"/>
<circle cx="336.5" cy="754.6" r="1.3"/>
<circle cx="301.7" cy="754.6" r="1.3"/>
<circle cx="378.6" cy="754.6" r="1.3"/>
<circle cx="306.1" cy="754.6" r="1.3"/>
<circle cx="275.5" cy="754.6" r="1.3"/>
<circle cx="354.9" cy="754.6" r="1.3"/>
<circle cx="251.2" cy="754.6" r="1.3"/>
<circle cx="268.4" cy="754.6" r="1.3"/>
<circle cx="331.4" cy="754.6" r="1.3"/>
<circle cx="301.5" cy="754.6" r="1.3"/>
<circle cx="330.3" cy="754.6" r="1.3"/>
<circle cx="311.6" cy="754.6" r="1.3"/>
<circle cx="291.1" cy="754.6" r="1.3"/>
<circle cx="308.9" cy="754.6" r="1.3"/>
<circle cx="323.9" cy="754.6" r="1.3"/>
<circle cx="299.2" cy="754.6" r="1.3"/>
<circle cx="319.3" cy="754.6" r="1.3"/>
<circle cx="304.5" cy="754.6" r="1.3"/>
<circle cx="308.5" cy="754.6" r="1.3"/>
<circle cx="285.8" cy="754.6" r="1.3"/>
<circle cx="305.9" cy="754.6" r="1.3"/>
<circle cx="276.1" cy="754.6" r="1.3"/>
<circle cx="309.7" cy="754.6" r="1.3"/>
<circle cx="317.8" cy="754.6" r="1.3"/>
<circle cx="312.7" cy="754.6" r="1.3"/>
<circle cx="256" cy="754.6" r="1.3"/>
<circle cx="284.6" cy="754.6" r="1.3"/>
<circle cx="300.2" cy="754.6" r="1.3"/>
<circle cx="293.1" cy="754.6" r="1.3"/>
<circle cx="359.5" cy="754.6" r="1.3"/>
<circle cx="335.1" cy="754.6" r="1.3"/>
<circle cx="359.5" cy="754.6" r="1.3"/>
<circle cx="313.5" cy="754.6" r="1.3"/>
<circle cx="285.3" cy="754.6" r="1.3"/>
<circle cx="293.4" cy="754.6" r="1.3"/>
<circle cx="283.8" cy="754.6" r="1.3"/>
<circle cx="366.6" cy="754.6" r="1.3"/>
<circle cx="315.7" cy="754.6" r="1.3"/>
<circle cx="414.4" cy="754.6" r="1.3"/>
<circle cx="273.4" cy="754.6" r="1.3"/>
<circle cx="329.5" cy="754.6" r="1.3"/>
<circle cx="299.3" cy="754.6" r="1.3"/>
<circle cx="315.6" cy="754.6" r="1.3"/>
<circle cx="333.2" cy="754.6" r="1.3"/>
<circle cx="365.2" cy="754.6" r="1.3"/>
<circle cx="337.2" cy="754.6" r="1.3"/>
<circle cx="311.6" cy="754.6" r="1.3"/>
<circle cx="290.1" cy="754.6" r="1.3"/>
<circle cx="354.3" cy="754.6" r="1.3"/>
<circle cx="285.3" cy="754.6" r="1.3"/>
<circle cx="309.6" cy="754.6" r="1.3"/>
<circle cx="322.5" cy="754.6" r="1.3"/>
<circle cx="409.2" cy="754.6" r="1.3"/>
<circle cx="384.8" cy="754.6" r="1.3"/>
<circle cx="378.5" cy="754.6" r="1.3"/>
<circle cx="293.7" cy="754.6" r="1.3"/>
<circle cx="320.4" cy="754.6" r="1.3"/>
<circle cx="296.7" cy="754.6" r="1.3"/>
<circle cx="361.1" cy="754.6" r="1.3"/>
<circle cx="266.2" cy="754.6" r="1.3"/>
<circle cx="338" cy="754.6" r="1.3"/>
<circle cx="279.2" cy="754.6" r="1.3"/>
<circle cx="309.9" cy="754.6" r="1.3"/>
<circle cx="390.5" cy="754.6" r="1.3"/>
<circle cx="274.5" cy="754.6" r="1.3"/>
<circle cx="394" cy="754.6" r="1.3"/>
<circle cx="338.4" cy="754.6" r="1.3"/>
<circle cx="312.3" cy="754.6" r="1.3"/>
<circle cx="338.1" cy="754.6" r="1.3"/>
<circle cx="297.7" cy="754.6" r="1.3"/>
<circle cx="362" cy="754.6" r="1.3"/>
<circle cx="262.3" cy="754.6" r="1.3"/>
<circle cx="337.4" cy="754.6" r="1.3"/>
<circle cx="374.4" cy="754.6" r="1.3"/>
<circle cx="319.8" cy="754.6" r="1.3"/>
<circle cx="356.7" cy="754.6" r="1.3"/>
<circle cx="370.9" cy="754.6" r="1.3"/>
<circle cx="284.9" cy="754.6" r="1.3"/>
<circle cx="343.6" cy="754.6" r="1.3"/>
<circle cx="346.6" cy="754.6" r="1.3"/>
<circle cx="309.9" cy="754.6" r="1.3"/>
<circle cx="267.2" cy="754.6" r="1.3"/>
<circle cx="384.8" cy="754.6" r="1.3"/>
<circle cx="296.3" cy="754.6" r="1.3"/>
<circle cx="374.4" cy="754.6" r="1.3"/>
<circle cx="288" cy="754.6" r="1.3"/>
<circle cx="374.9" cy="754.6" r="1.3"/>
<circle cx="338.8" cy="754.6" r="1.3"/>
<circle cx="298.3" cy="754.6" r="1.3"/>
<circle cx="296.4" cy="754.6" r="1.3"/>
<circle cx="377.3" cy="754.6" r="1.3"/>
<circle cx="283" cy="754.6" r="1.3"/>
<circle cx="305.7" cy="754.6" r="1.3"/>
<circle cx="316.5" cy="754.6" r="1.3"/>
<circle cx="298.3" cy="754.6" r="1.3"/>
<circle cx="298" cy="754.6" r="1.3"/>
<circle cx="288.4" cy="754.6" r="1.3"/>
<circle cx="311" cy="754.6" r="1.3"/>
<circle cx="402.9" cy="754.6" r="1.3"/>
<circle cx="244.8" cy="754.6" r="1.3"/>
<circle cx="297.2" cy="754.6" r="1.3"/>
<circle cx="285.3" cy="754.6" r="1.3"/>
<circle cx="339.6" cy="754.6" r="1.3"/>
<circle cx="308.6" cy="754.6" r="1.3"/>
<circle cx="297.9" cy="754.6" r="1.3"/>
<circle cx="320.2" cy="754.6" r="1.3"/>
<circle cx="291.9" cy="754.6" r="1.3"/>
<circle cx="344.4" cy="754.6" r="1.3"/>
<circle cx="290.7" cy="754.6" r="1.3"/>
<circle cx="299.1" cy="754.6" r="1.3"/>
<circle cx="257.1" cy="754.6" r="1.3"/>
<circle cx="305.5" cy="754.6" r="1.3"/>
<circle cx="325.6" cy="754.6" r="1.3"/>
<circle cx="341.6" cy="754.6" r="1.3"/>
<circle cx="332.6" cy="754.6" r="1.3"/>
<circle cx="296.3" cy="754.6" r="1.3"/>
<circle cx="364.4" cy="754.6" r="1.3"/>
<circle cx="279.1" cy="754.6" r="1.3"/>
<circle cx="254.5" cy="754.6" r="1.3"/>
<circle cx="283.5" cy="754.6" r="1.3"/>
<circle cx="305.2" cy="754.6" r="1.3"/>
<circle cx="296.7" cy="754.6" r="1.3"/>
<circle cx="290.5" cy="754.6" r="1.3"/>
<circle cx="312.6" cy="754.6" r="1.3"/>
<circle cx="287.9" cy="754.6" r="1.3"/>
<circle cx="338.7" cy="754.6" r="1.3"/>
<circle cx="312.4" cy="754.6" r="1.3"/>
<circle cx="329.5" cy="754.6" r="1.3"/>
<circle cx="294.1" cy="754.6" r="1.3"/>
<circle cx="325.7" cy="754.6" r="1.3"/>
<circle cx="273.2" cy="754.6" r="1.3"/>
<circle cx="363.3" cy="754.6" r="1.3"/>
<circle cx="289.5" cy="754.6" r="1.3"/>
<circle cx="284.7" cy="754.6" r="1.3"/>
<circle cx="293.9" cy="754.6" r="1.3"/>
<circle cx="316" cy="754.6" r="1.3"/>
<circle cx="296.9" cy="754.6" r="1.3"/>
<circle cx="318.6" cy="754.6" r="1.3"/>
<circle cx="287" cy="754.6" r="1.3"/>
<circle cx="293.6" cy="754.6" r="1.3"/>
<circle cx="290.6" cy="754.6" r="1.3"/>
<circle cx="240.8" cy="754.6" r="1.3"/>
<circle cx="303" cy="754.6" r="1.3"/>
<circle cx="270.5" cy="754.6" r="1.3"/>
<circle cx="326.2" cy="754.6" r="1.3"/>
<circle cx="406.1" cy="754.6" r="1.3"/>
<circle cx="378" cy="754.6" r="1.3"/>
<circle cx="344.3" cy="754.6" r="1.3"/>
<circle cx="385.7" cy="754.6" r="1.3"/>
<circle cx="346.9" cy="754.6" r="1.3"/>
<circle cx="339.7" cy="754.6" r="1.3"/>
<circle cx="303.6" cy="754.6" r="1.3"/>
<circle cx="268.7" cy="754.6" r="1.3"/>
<circle cx="295.9" cy="754.6" r="1.3"/>
<circle cx="289.4" cy="754.6" r="1.3"/>
<circle cx="375.3" cy="754.6" r="1.3"/>
<circle cx="288.9" cy="754.6" r="1.3"/>
<circle cx="313.1" cy="754.6" r="1.3"/>
<circle cx="326.4" cy="754.6" r="1.3"/>
<circle cx="326" cy="754.6" r="1.3"/>
<circle cx="300.3" cy="754.6" r="1.3"/>
<circle cx="325.8" cy="754.6" r="1.3"/>
<circle cx="377.5" cy="754.6" r="1.3"/>
<circle cx="328.6" cy="754.6" r="1.3"/>
<circle cx="350.7" cy="754.6" r="1.3"/>
<circle cx="275.2" cy="754.6" r="1.3"/>
<circle cx="302.9" cy="754.6" r="1.3"/>
<circle cx="277.1" cy="754.6" r="1.3"/>
<circle cx="291.9" cy="754.6" r="1.3"/>
<circle cx="350.5" cy="754.6" r="1.3"/>
<circle cx="362.4" cy="754.6" r="1.3"/>
<circle cx="336.5" cy="754.6" r="1.3"/>
<circle cx="341.7" cy="754.6" r="1.3"/>
<circle cx="283.3" cy="754.6" r="1.3"/>
<circle cx="357.7" cy="754.6" r="1.3"/>
<circle cx="334.7" cy="754.6" r="1.3"/>
<circle cx="384.7" cy="754.6" r="1.3"/>
<circle cx="286" cy="754.6" r="1.3"/>
<circle cx="297.9" cy="754.6" r="1.3"/>
<circle cx="326.2" cy="754.6" r="1.3"/>
<circle cx="317.3" cy="754.6" r="1.3"/>
<circle cx="328.6" cy="754.6" r="1.3"/>
<circle cx="362.9" cy="754.6" r="1.3"/>
<circle cx="315.6" cy="754.6" r="1.3"/>
<circle cx="358" cy="754.6" r="1.3"/>
<circle cx="323.3" cy="754.6" r="1.3"/>
<circle cx="305" cy="754.6" r="1.3"/>
<circle cx="309.3" cy="754.6" r="1.3"/>
<circle cx="356.8" cy="754.6" r="1.3"/>
<circle cx="291" cy="754.6" r="1.3"/>
<circle cx="299.8" cy="754.6" r="1.3"/>
<circle cx="303" cy="754.6" r="1.3"/>
<circle cx="298.6" cy="754.6" r="1.3"/>
<circle cx="380.3" cy="754.6" r="1.3"/>
<circle cx="264.3" cy="754.6" r="1.3"/>
<circle cx="280.8" cy="754.6" r="1.3"/>
<circle cx="250.5" cy="754.6" r="1.3"/>
<circle cx="308.4" cy="754.6" r="1.3"/>
<circle cx="312.2" cy="754.6" r="1.3"/>
<circle cx="262.1" cy="754.6" r="1.3"/>
<circle cx="322.6" cy="754.6" r="1.3"/>
<circle cx="309.1" cy="754.6" r="1.3"/>
<circle cx="357.7" cy="754.6" r="1.3"/>
<circle cx="305.1" cy="754.6" r="1.3"/>
<circle cx="310.7" cy="754.6" r="1.3"/>
<circle cx="298.3" cy="754.6" r="1.3"/>
<circle cx="270.2" cy="754.6" r="1.3"/>
<circle cx="298" cy="754.6" r="1.3"/>
<circle cx="258.1" cy="754.6" r="1.3"/>
<circle cx="332.9" cy="754.6" r="1.3"/>
<circle cx="292.5" cy="754.6" r="1.3"/>
<circle cx="360.1" cy="754.6" r="1.3"/>
<circle cx="266.5" cy="754.6" r="1.3"/>
<circle cx="286.1" cy="754.6" r="1.3"/>
<circle cx="304.6" cy="754.6" r="1.3"/>
<circle cx="295.2" cy="754.6" r="1.3"/>
<circle cx="281.4" cy="754.6" r="1.3"/>
<circle cx="371.7" cy="754.6" r="1.3"/>
<circle cx="304" cy="754.6" r="1.3"/>
<circle cx="354.9" cy="754.6" r="1.3"/>
<circle cx="404.4" cy="754.6" r="1.3"/>
<circle cx="377" cy="754.6" r="1.3"/>
<circle cx="342.3" cy="754.6" r="1.3"/>
<circle cx="333.1" cy="754.6" r="1.3"/>
<circle cx="408.3" cy="754.6" r="1.3"/>
<circle cx="343.3" cy="754.6" r="1.3"/>
<circle cx="271" cy="754.6" r="1.3"/>
<circle cx="314.5" cy="754.6" r="1.3"/>
<circle cx="280.6" cy="754.6" r="1.3"/>
<circle cx="322.4" cy="754.6" r="1.3"/>
<circle cx="303.4" cy="754.6" r="1.3"/>
<circle cx="319.4" cy="754.6" r="1.3"/>
<circle cx="409.9" cy="754.6" r="1.3"/>
<circle cx="281.4" cy="754.6" r="1.3"/>
<circle cx="315.9" cy="754.6" r="1.3"/>
<circle cx="307.2" cy="754.6" r="1.3"/>
<circle cx="331.9" cy="754.6" r="1.3"/>
<circle cx="315.2" cy="754.6" r="1.3"/>
<circle cx="336.5" cy="754.6" r="1.3"/>
<circle cx="349.8" cy="754.6" r="1.3"/>
<circle cx="293.6" cy="754.6" r="1.3"/>
<circle cx="351.1" cy="754.6" r="1.3"/>
<circle cx="337" cy="754.6" r="1.3"/>
<circle cx="351.9" cy="754.6" r="1.3"/>
<circle cx="255.1" cy="754.6" r="1.3"/>
<circle cx="275.9" cy="754.6" r="1.3"/>
<circle cx="297.6" cy="754.6" r="1.3"/>
<circle cx="309.4" cy="754.6" r="1.3"/>
<circle cx="369.6" cy="754.6" r="1.3"/>
<circle cx="253.4" cy="754.6" r="1.3"/>
<circle cx="283.2" cy="754.6" r="1.3"/>
<circle cx="252.2" cy="754.6" r="1.3"/>
<circle cx="370.6" cy="754.6" r="1.3"/>
<circle cx="290.3" cy="754.6" r="1.3"/>
<circle cx="344.3" cy="754.6" r="1.3"/>
<circle cx="314.3" cy="754.6" r="1.3"/>
<circle cx="337" cy="754.6" r="1.3"/>
<circle cx="317.3" cy="754.6" r="1.3"/>
<circle cx="288.2" cy="754.6" r="1.3"/>
<circle cx="353.4" cy="754.6" r="1.3"/>
<circle cx="317" cy="754.6" r="1.3"/>
<circle cx="343.9" cy="754.6" r="1.3"/>
<circle cx="337.5" cy="754.6" r="1.3"/>
<circle cx="357.7" cy="754.6" r="1.3"/>
<circle cx="286.4" cy="754.6" r="1.3"/>
<circle cx="318.9" cy="754.6" r="1.3"/>
<circle cx="312.5" cy="754.6" r="1.3"/>
<circle cx="366.2" cy="754.6" r="1.3"/>
<circle cx="346.2" cy="754.6" r="1.3"/>
<circle cx="287.6" cy="754.6" r="1.3"/>
<circle cx="370" cy="754.6" r="1.3"/>
<circle cx="360.6" cy="754.6" r="1.3"/>
<circle cx="364.6" cy="754.6" r="1.3"/>
<circle cx="396.2" cy="754.6" r="1.3"/>
<circle cx="311.1" cy="754.6" r="1.3"/>
<circle cx="282.7" cy="754.6" r="1.3"/>
<circle cx="303.4" cy="754.6" r="1.3"/>
<circle cx="328.6" cy="754.6" r="1.3"/>
<circle cx="248.8" cy="754.6" r="1.3"/>
<circle cx="300.3" cy="754.6" r="1.3"/>
<circle cx="285.1" cy="754.6" r="1.3"/>
<circle cx="408" cy="754.6" r="1.3"/>
<circle cx="315.4" cy="754.6" r="1.3"/>
<circle cx="288.4" cy="754.6" r="1.3"/>
<circle cx="359" cy="754.6" r="1.3"/>
<circle cx="370.8" cy="754.6" r="1.3"/>
<circle cx="297.3" cy="754.6" r="1.3"/>
<circle cx="246.9" cy="754.6" r="1.3"/>
<circle cx="294.6" cy="754.6" r="1.3"/>
<circle cx="258.6" cy="754.6" r="1.3"/>
<circle cx="378.3" cy="754.6" r="1.3"/>
<circle cx="258.4" cy="754.6" r="1.3"/>
<circle cx="308" cy="754.6" r="1.3"/>
<circle cx="285.8" cy="754.6" r="1.3"/>
<circle cx="327.1" cy="754.6" r="1.3"/>
<circle cx="301.9" cy="754.6" r="1.3"/>
<circle cx="314.6" cy="754.6" r="1.3"/>
<circle cx="309.3" cy="754.6" r="1.3"/>
<circle cx="297.4" cy="754.6" r="1.3"/>
<circle cx="297.8" cy="754.6" r="1.3"/>
<circle cx="255.4" cy="754.6" r="1.3"/>
<circle cx="326.1" cy="754.6" r="1.3"/>
<circle cx="310.9" cy="754.6" r="1.3"/>
<circle cx="306.6" cy="754.6" r="1.3"/>
<circle cx="284.3" cy="754.6" r="1.3"/>
<circle cx="298.4" cy="754.6" r="1.3"/>
<circle cx="323.5" cy="754.6" r="1.3"/>
<circle cx="296.1" cy="754.6" r="1.3"/>
<circle cx="345.6" cy="754.6" r="1.3"/>
<circle cx="328.1" cy="754.6" r="1.3"/>
<circle cx="311" cy="754.6" r="1.3"/>
<circle cx="327.3" cy="754.6" r="1.3"/>
<circle cx="377.9" cy="754.6" r="1.3"/>
<circle cx="296.8" cy="754.6" r="1.3"/>
<circle cx="300.9" cy="754.6" r="1.3"/>
<circle cx="308.8" cy="754.6" r="1.3"/>
<circle cx="312.9" cy="754.6" r="1.3"/>
<circle cx="265.6" cy="754.6" r="1.3"/>
<circle cx="296.9" cy="754.6" r="1.3"/>
<circle cx="325.6" cy="754.6" r="1.3"/>
<circle cx="360.1" cy="754.6" r="1.3"/>
<circle cx="307.8" cy="754.6" r="1.3"/>
<circle cx="299.4" cy="754.6" r="1.3"/>
<circle cx="335.7" cy="754.6" r="1.3"/>
<circle cx="279.2" cy="754.6" r="1.3"/>
<circle cx="322.9" cy="754.6" r="1.3"/>
<circle cx="365.8" cy="754.6" r="1.3"/>
<circle cx="325.4" cy="754.6" r="1.3"/>
<circle cx="320.4" cy="754.6" r="1.3"/>
<circle cx="363.4" cy="754.6" r="1.3"/>
<circle cx="359.2" cy="754.6" r="1.3"/>
<circle cx="295.3" cy="754.6" r="1.3"/>
<circle cx="296.9" cy="754.6" r="1.3"/>
<circle cx="349" cy="754.6" r="1.3"/>
<circle cx="362.6" cy="754.6" r="1.3"/>
<circle cx="288.6" cy="754.6" r="1.3"/>
<circle cx="312.7" cy="754.6" r="1.3"/>
<circle cx="347.7" cy="754.6" r="1.3"/>
<circle cx="377.1" cy="754.6" r="1.3"/>
<circle cx="299.3" cy="754.6" r="1.3"/>
<circle cx="304.9" cy="754.6" r="1.3"/>
<circle cx="351.3" cy="754.6" r="1.3"/>
<circle cx="318.9" cy="754.6" r="1.3"/>
<circle cx="383.9" cy="754.6" r="1.3"/>
<circle cx="294.5" cy="754.6" r="1.3"/>
<circle cx="284.3" cy="754.6" r="1.3"/>
<circle cx="291.4" cy="754.6" r="1.3"/>
<circle cx="311" cy="754.6" r="1.3"/>
<circle cx="300.2" cy="754.6" r="1.3"/>
<circle cx="292.3" cy="754.6" r="1.3"/>
<circle cx="323.8" cy="754.6" r="1.3"/>
<circle cx="266.5" cy="754.6" r="1.3"/>
<circle cx="301.5" cy="754.6" r="1.3"/>
<circle cx="335.4" cy="754.6" r="1.3"/>
<circle cx="277.8" cy="754.6" r="1.3"/>
<circle cx="297.6" cy="754.6" r="1.3"/>
<circle cx="303.4" cy="754.6" r="1.3"/>
<circle cx="352" cy="754.6" r="1.3"/>
<circle cx="283.6" cy="754.6" r="1.3"/>
<circle cx="343.3" cy="754.6" r="1.3"/>
<circle cx="311.1" cy="754.6" r="1.3"/>
<circle cx="333" cy="754.6" r="1.3"/>
<circle cx="346.5" cy="754.6" r="1.3"/>
<circle cx="372.1" cy="754.6" r="1.3"/>
<circle cx="310.1" cy="754.6" r="1.3"/>
<circle cx="278.7" cy="754.6" r="1.3"/>
<circle cx="292.7" cy="754.6" r="1.3"/>
<circle cx="282.2" cy="754.6" r="1.3"/>
<circle cx="291" cy="754.6" r="1.3"/>
<circle cx="323.4" cy="754.6" r="1.3"/>
<circle cx="313.7" cy="754.6" r="1.3"/>
<circle cx="390.7" cy="754.6" r="1.3"/>
<circle cx="286.5" cy="754.6" r="1.3"/>
<circle cx="334.9" cy="754.6" r="1.3"/>
<circle cx="302.1" cy="754.6" r="1.3"/>
<circle cx="322.5" cy="754.6" r="1.3"/>
<circle cx="289.6" cy="754.6" r="1.3"/>
<circle cx="289.2" cy="754.6" r="1.3"/>
<circle cx="258.4" cy="754.6" r="1.3"/>
<circle cx="342.5" cy="754.6" r="1.3"/>
<circle cx="323.7" cy="754.6" r="1.3"/>
<circle cx="390.8" cy="754.6" r="1.3"/>
<circle cx="337.8" cy="754.6" r="1.3"/>
<circle cx="320.6" cy="754.6" r="1.3"/>
<circle cx="287.2" cy="754.6" r="1.3"/>
<circle cx="297.4" cy="754.6" r="1.3"/>
<circle cx="293.2" cy="754.6" r="1.3"/>
<circle cx="309.6" cy="754.6" r="1.3"/>
<circle cx="272.2" cy="754.6" r="1.3"/>
<circle cx="287.9" cy="754.6" r="1.3"/>
<circle cx="322.8" cy="754.6" r="1.3"/>
<circle cx="353.6" cy="754.6" r="1.3"/>
<circle cx="351.6" cy="754.6" r="1.3"/>
<circle cx="377.1" cy="754.6" r="1.3"/>
<circle cx="299.2" cy="754.6" r="1.3"/>
<circle cx="338" cy="754.6" r="1.3"/>
<circle cx="286.9" cy="754.6" r="1.3"/>
<circle cx="345.9" cy="754.6" r="1.3"/>
<circle cx="277.2" cy="754.6" r="1.3"/>
<circle cx="313.1" cy="754.6" r="1.3"/>
<circle cx="286" cy="754.6" r="1.3"/>
<circle cx="269.2" cy="754.6" r="1.3"/>
<circle cx="293.4" cy="754.6" r="1.3"/>
<circle cx="319.6" cy="754.6" r="1.3"/>
<circle cx="341.8" cy="754.6" r="1.3"/>
<circle cx="305.6" cy="754.6" r="1.3"/>
<circle cx="317.2" cy="754.6" r="1.3"/>
<circle cx="293" cy="754.6" r="1.3"/>
<circle cx="292.9" cy="754.6" r="1.3"/>
<circle cx="291.1" cy="754.6" r="1.3"/>
<circle cx="302.5" cy="754.6" r="1.3"/>
<circle cx="366" cy="754.6" r="1.3"/>
<circle cx="312.1" cy="754.6" r="1.3"/>
<circle cx="314" cy="754.6" r="1.3"/>
<circle cx="336.9" cy="754.6" r="1.3"/>
<circle cx="373" cy="754.6" r="1.3"/>
<circle cx="325.9" cy="754.6" r="1.3"/>
<circle cx="306" cy="754.6" r="1.3"/>
<circle cx="284.8" cy="754.6" r="1.3"/>
<circle cx="329.3" cy="754.6" r="1.3"/>
<circle cx="312.6" cy="754.6" r="1.3"/>
<circle cx="297.7" cy="754.6" r="1.3"/>
<circle cx="298.5" cy="754.6" r="1.3"/>
<circle cx="379.3" cy="754.6" r="1.3"/>
<circle cx="279.1" cy="754.6" r="1.3"/>
<circle cx="309.8" cy="754.6" r="1.3"/>
<circle cx="321.5" cy="754.6" r="1.3"/>
<circle cx="305.7" cy="754.6" r="1.3"/>
<circle cx="284.8" cy="754.6" r="1.3"/>
<circle cx="250.5" cy="754.6" r="1.3"/>
<circle cx="297.4" cy="754.6" r="1.3"/>
<circle cx="366" cy="754.6" r="1.3"/>
<circle cx="298.7" cy="754.6" r="1.3"/>
<circle cx="269.4" cy="754.6" r="1.3"/>
<circle cx="269.6" cy="754.6" r="1.3"/>
<circle cx="295" cy="754.6" r="1.3"/>
<circle cx="355.7" cy="754.6" r="1.3"/>
<circle cx="282.8" cy="754.6" r="1.3"/>
<circle cx="261.2" cy="754.6" r="1.3"/>
<circle cx="319" cy="754.6" r="1.3"/>
<circle cx="276.6" cy="754.6" r="1.3"/>
<circle cx="368.4" cy="754.6" r="1.3"/>
<circle cx="332.2" cy="754.6" r="1.3"/>
<circle cx="288.7" cy="754.6" r="1.3"/>
<circle cx="321.9" cy="754.6" r="1.3"/>
<circle cx="265.5" cy="754.6" r="1.3"/>
<circle cx="306.1" cy="754.6" r="1.3"/>
<circle cx="356.6" cy="754.6" r="1.3"/>
<circle cx="290.6" cy="754.6" r="1.3"/>
<circle cx="379.3" cy="754.6" r="1.3"/>
<circle cx="309" cy="754.6" r="1.3"/>
<circle cx="297" cy="754.6" r="1.3"/>
<circle cx="327.9" cy="754.6" r="1.3"/>
<circle cx="289.2" cy="754.6" r="1.3"/>
<circle cx="288.6" cy="754.6" r="1.3"/>
<circle cx="305.9" cy="754.6" r="1.3"/>
<circle cx="309.4" cy="754.6" r="1.3"/>
<circle cx="273" cy="754.6" r="1.3"/>
<circle cx="305.2" cy="754.6" r="1.3"/>
<circle cx="267.4" cy="754.6" r="1.3"/>
<circle cx="321.6" cy="754.6" r="1.3"/>
<circle cx="318.7" cy="754.6" r="1.3"/>
<circle cx="284.5" cy="754.6" r="1.3"/>
<circle cx="309.6" cy="754.6" r="1.3"/>
<circle cx="314.3" cy="754.6" r="1.3"/>
<circle cx="391.5" cy="754.6" r="1.3"/>
<circle cx="368.7" cy="754.6" r="1.3"/>
<circle cx="305.3" cy="754.6" r="1.3"/>
<circle cx="300.8" cy="754.6" r="1.3"/>
<circle cx="326.2" cy="754.6" r="1.3"/>
<circle cx="283.3" cy="754.6" r="1.3"/>
<circle cx="334" cy="754.6" r="1.3"/>
<circle cx="331" cy="754.6" r="1.3"/>
<circle cx="263.2" cy="754.6" r="1.3"/>
<circle cx="315.7" cy="754.6" r="1.3"/>
<circle cx="373.2" cy="754.6" r="1.3"/>
<circle cx="285.4" cy="754.6" r="1.3"/>
<circle cx="294.6" cy="754.6" r="1.3"/>
<circle cx="280.7" cy="754.6" r="1.3"/>
<circle cx="315.1" cy="754.6" r="1.3"/>
<circle cx="345.2" cy="754.6" r="1.3"/>
<circle cx="301.9" cy="754.6" r="1.3"/>
<circle cx="273.6" cy="754.6" r="1.3"/>
<circle cx="328.6" cy="754.6" r="1.3"/>
<circle cx="366.5" cy="754.6" r="1.3"/>
<circle cx="288" cy="754.6" r="1.3"/>
<circle cx="259.1" cy="754.6" r="1.3"/>
<circle cx="333.3" cy="754.6" r="1.3"/>
<circle cx="340.9" cy="754.6" r="1.3"/>
<circle cx="338.2" cy="754.6" r="1.3"/>
<circle cx="307.8" cy="754.6" r="1.3"/>
<circle cx="308.9" cy="754.6" r="1.3"/>
<circle cx="394.8" cy="754.6" r="1.3"/>
<circle cx="338" cy="754.6" r="1.3"/>
<circle cx="376.2" cy="754.6" r="1.3"/>
<circle cx="333.5" cy="754.6" r="1.3"/>
<circle cx="307.8" cy="754.6" r="1.3"/>
<circle cx="280.5" cy="754.6" r="1.3"/>
<circle cx="359.1" cy="754.6" r="1.3"/>
<circle cx="316.9" cy="754.6" r="1.3"/>
<circle cx="270.1" cy="754.6" r="1.3"/>
<circle cx="302.2" cy="754.6" r="1.3"/>
<circle cx="387.5" cy="754.6" r="1.3"/>
<circle cx="263.7" cy="754.6" r="1.3"/>
<circle cx="319.4" cy="754.6" r="1.3"/>
<circle cx="405.5" cy="754.6" r="1.3"/>
<circle cx="368.3" cy="754.6" r="1.3"/>
<circle cx="300.8" cy="754.6" r="1.3"/>
<circle cx="278.3" cy="754.6" r="1.3"/>
<circle cx="310.9" cy="754.6" r="1.3"/>
<circle cx="303.3" cy="754.6" r="1.3"/>
<circle cx="323.5" cy="754.6" r="1.3"/>
<circle cx="313" cy="754.6" r="1.3"/>
<circle cx="365.6" cy="754.6" r="1.3"/>
<circle cx="288.6" cy="754.6" r="1.3"/>
<circle cx="291.8" cy="754.6" r="1.3"/>
<circle cx="300.2" cy="754.6" r="1.3"/>
<circle cx="314.7" cy="754.6" r="1.3"/>
<circle cx="305.2" cy="754.6" r="1.3"/>
<circle cx="248.3" cy="754.6" r="1.3"/>
<circle cx="324.3" cy="754.6" r="1.3"/>
<circle cx="263.1" cy="754.6" r="1.3"/>
<circle cx="351.7" cy="754.6" r="1.3"/>
<circle cx="354.6" cy="754.6" r="1.3"/>
<circle cx="324.8" cy="754.6" r="1.3"/>
<circle cx="291.8" cy="754.6" r="1.3"/>
<circle cx="303.9" cy="754.6" r="1.3"/>
<circle cx="298.7" cy="754.6" r="1.3"/>
<circle cx="312.6" cy="754.6" r="1.3"/>
<circle cx="320.4" cy="754.6" r="1.3"/>
<circle cx="305.5" cy="754.6" r="1.3"/>
<circle cx="284.8" cy="754.6" r="1.3"/>
<circle cx="295.4" cy="754.6" r="1.3"/>
<circle cx="290.7" cy="754.6" r="1.3"/>
<circle cx="284.5" cy="754.6" r="1.3"/>
<circle cx="286.5" cy="754.6" r="1.3"/>
<circle cx="302.5" cy="754.6" r="1.3"/>
<circle cx="285.9" cy="754.6" r="1.3"/>
<circle cx="286.8" cy="754.6" r="1.3"/>
<circle cx="285.3" cy="754.6" r="1.3"/>
<circle cx="358.2" cy="754.6" r="1.3"/>
<circle cx="341.9" cy="754.6" r="1.3"/>
<circle cx="305.6" cy="754.6" r="1.3"/>
<circle cx="288.3" cy="754.6" r="1.3"/>
<circle cx="330.8" cy="754.6" r="1.3"/>
<circle cx="347.5" cy="754.6" r="1.3"/>
<circle cx="341.7" cy="754.6" r="1.3"/>
<circle cx="282.3" cy="754.6" r="1.3"/>
<circle cx="283.7" cy="754.6" r="1.3"/>
<circle cx="298.5" cy="754.6" r="1.3"/>
<circle cx="281.1" cy="754.6" r="1.3"/>
<circle cx="289.8" cy="754.6" r="1.3"/>
<circle cx="363.7" cy="754.6" r="1.3"/>
<circle cx="300.7" cy="754.6" r="1.3"/>
<circle cx="293" cy="754.6" r="1.3"/>
<circle cx="293.2" cy="754.6" r="1.3"/>
<circle cx="346.9" cy="754.6" r="1.3"/>
<circle cx="382.2" cy="754.6" r="1.3"/>
<circle cx="356.7" cy="754.6" r="1.3"/>
<circle cx="264.9" cy="754.6" r="1.3"/>
<circle cx="320.4" cy="754.6" r="1.3"/>
<circle cx="364.9" cy="754.6" r="1.3"/>
<circle cx="314.1" cy="754.6" r="1.3"/>
<circle cx="287" cy="754.6" r="1.3"/>
<circle cx="313.7" cy="754.6" r="1.3"/>
<circle cx="309.7" cy="754.6" r="1.3"/>
<circle cx="260.1" cy="754.6" r="1.3"/>
<circle cx="313.7" cy="754.6" r="1.3"/>
<circle cx="252.3" cy="754.6" r="1.3"/>
<circle cx="387.6" cy="754.6" r="1.3"/>
<circle cx="313.8" cy="754.6" r="1.3"/>
<circle cx="358.9" cy="754.6" r="1.3"/>
<circle cx="320.7" cy="754.6" r="1.3"/>
<circle cx="301.2" cy="754.6" r="1.3"/>
<circle cx="326.4" cy="754.6" r="1.3"/>
<circle cx="309.4" cy="754.6" r="1.3"/>
<circle cx="362.6" cy="754.6" r="1.3"/>
<circle cx="293.9" cy="754.6" r="1.3"/>
<circle cx="317" cy="754.6" r="1.3"/>
<circle cx="303.5" cy="754.6" r="1.3"/>
<circle cx="301.8" cy="754.6" r="1.3"/>
<circle cx="307.7" cy="754.6" r="1.3"/>
<circle cx="325.3" cy="754.6" r="1.3"/>
<circle cx="372.3" cy="754.6" r="1.3"/>
<circle cx="329.2" cy="754.6" r="1.3"/>
<circle cx="359.4" cy="754.6" r="1.3"/>
<circle cx="258.5" cy="754.6" r="1.3"/>
<circle cx="284.9" cy="754.6" r="1.3"/>
<circle cx="301.8" cy="754.6" r="1.3"/>
<circle cx="307.8" cy="754.6" r="1.3"/>
<circle cx="306.2" cy="754.6" r="1.3"/>
<circle cx="375.1" cy="754.6" r="1.3"/>
<circle cx="303" cy="754.6" r="1.3"/>
<circle cx="341.7" cy="754.6" r="1.3"/>
<circle cx="272.7" cy="754.6" r="1.3"/>
<circle cx="291.6" cy="754.6" r="1.3"/>
<circle cx="253.5" cy="754.6" r="1.3"/>
<circle cx="302.3" cy="754.6" r="1.3"/>
<circle cx="317.3" cy="754.6" r="1.3"/>
<circle cx="292.5" cy="754.6" r="1.3"/>
<circle cx="321.6" cy="754.6" r="1.3"/>
<circle cx="347.7" cy="754.6" r="1.3"/>
<circle cx="393" cy="754.6" r="1.3"/>
<circle cx="286" cy="754.6" r="1.3"/>
<circle cx="287.2" cy="754.6" r="1.3"/>
<circle cx="404.4" cy="754.6" r="1.3"/>
<circle cx="316.2" cy="754.6" r="1.3"/>
<circle cx="317.6" cy="754.6" r="1.3"/>
<circle cx="294.2" cy="754.6" r="1.3"/>
<circle cx="349.4" cy="754.6" r="1.3"/>
<circle cx="280.6" cy="754.6" r="1.3"/>
<circle cx="357.6" cy="754.6" r="1.3"/>
<circle cx="362.3" cy="754.6" r="1.3"/>
<circle cx="325.9" cy="754.6" r="1.3"/>
<circle cx="311.4" cy="754.6" r="1.3"/>
<circle cx="294.2" cy="754.6" r="1.3"/>
<circle cx="250.7" cy="754.6" r="1.3"/>
<circle cx="312.4" cy="754.6" r="1.3"/>
<circle cx="300.6" cy="754.6" r="1.3"/>
<circle cx="264.9" cy="754.6" r="1.3"/>
<circle cx="371.5" cy="754.6" r="1.3"/>
<circle cx="293" cy="754.6" r="1.3"/>
<circle cx="284.6" cy="754.6" r="1.3"/>
<circle cx="314" cy="754.6" r="1.3"/>
<circle cx="347.4" cy="754.6" r="1.3"/>
<circle cx="303.8" cy="754.6" r="1.3"/>
<circle cx="274.5" cy="754.6" r="1.3"/>
<circle cx="284.7" cy="754.6" r="1.3"/>
<circle cx="278.6" cy="754.6" r="1.3"/>
<circle cx="294.5" cy="754.6" r="1.3"/>
<circle cx="270.1" cy="754.6" r="1.3"/>
<circle cx="318.5" cy="754.6" r="1.3"/>
<circle cx="352.2" cy="754.6" r="1.3"/>
<circle cx="292.2" cy="754.6" r="1.3"/>
<circle cx="274.9" cy="754.6" r="1.3"/>
<circle cx="309.8" cy="754.6" r="1.3"/>
<circle cx="271.4" cy="754.6" r="1.3"/>
<circle cx="290.9" cy="754.6" r="1.3"/>
<circle cx="333.2" cy="754.6" r="1.3"/>
<circle cx="394.7" cy="754.6" r="1.3"/>
<circle cx="331" cy="754.6" r="1.3"/>
<circle cx="306.9" cy="754.6" r="1.3"/>
<circle cx="323" cy="754.6" r="1.3"/>
<circle cx="318.5" cy="754.6" r="1.3"/>
<circle cx="354.7" cy="754.6" r="1.3"/>
<circle cx="253.2" cy="754.6" r="1.3"/>
<circle cx="343.1" cy="754.6" r="1.3"/>
<circle cx="350.6" cy="754.6" r="1.3"/>
<circle cx="309.2" cy="754.6" r="1.3"/>
<circle cx="270.6" cy="754.6" r="1.3"/>
<circle cx="376.1" cy="754.6" r="1.3"/>
<circle cx="369.2" cy="754.6" r="1.3"/>
<circle cx="294.2" cy="754.6" r="1.3"/>
<circle cx="297.5" cy="754.6" r="1.3"/>
<circle cx="311.7" cy="754.6" r="1.3"/>
<circle cx="325.6" cy="754.6" r="1.3"/>
<circle cx="331.4" cy="754.6" r="1.3"/>
<circle cx="273.4" cy="754.6" r="1.3"/>
<circle cx="336.7" cy="754.6" r="1.3"/>
<circle cx="329.2" cy="754.6" r="1.3"/>
<circle cx="338.6" cy="754.6" r="1.3"/>
<circle cx="288.2" cy="754.6" r="1.3"/>
<circle cx="279.3" cy="754.6" r="1.3"/>
<circle cx="313.4" cy="754.6" r="1.3"/>
<circle cx="330.7" cy="754.6" r="1.3"/>
<circle cx="391.5" cy="754.6" r="1.3"/>
<circle cx="284.5" cy="754.6" r="1.3"/>
<circle cx="288" cy="754.6" r="1.3"/>
<circle cx="291.5" cy="754.6" r="1.3"/>
<circle cx="347.2" cy="754.6" r="1.3"/>
<circle cx="298.5" cy="754.6" r="1.3"/>
<circle cx="343.6" cy="754.6" r="1.3"/>
<circle cx="339.6" cy="754.6" r="1.3"/>
<circle cx="297.5" cy="754.6" r="1.3"/>
<circle cx="364.7" cy="754.6" r="1.3"/>
<circle cx="299.4" cy="754.6" r="1.3"/>
<circle cx="330.5" cy="754.6" r="1.3"/>
<circle cx="290.3" cy="754.6" r="1.3"/>
<circle cx="304.8" cy="754.6" r="1.3"/>
<circle cx="247.5" cy="754.6" r="1.3"/>
<circle cx="242.4" cy="754.6" r="1.3"/>
<circle cx="356.2" cy="754.6" r="1.3"/>
<circle cx="284.2" cy="754.6" r="1.3"/>
<circle cx="286.2" cy="754.6" r="1.3"/>
<circle cx="306.4" cy="754.6" r="1.3"/>
<circle cx="267.1" cy="754.6" r="1.3"/>
<circle cx="307.5" cy="754.6" r="1.3"/>
<circle cx="341.8" cy="754.6" r="1.3"/>
<circle cx="290.6" cy="754.6" r="1.3"/>
<circle cx="260.4" cy="754.6" r="1.3"/>
<circle cx="265.9" cy="754.6" r="1.3"/>
<circle cx="358.7" cy="754.6" r="1.3"/>
<circle cx="331.2" cy="754.6" r="1.3"/>
<circle cx="329.3" cy="754.6" r="1.3"/>
<circle cx="329" cy="754.6" r="1.3"/>
<circle cx="322.4" cy="754.6" r="1.3"/>
<circle cx="336.1" cy="754.6" r="1.3"/>
<circle cx="319.8" cy="754.6" r="1.3"/>
<circle cx="336.5" cy="754.6" r="1.3"/>
<circle cx="304.2" cy="754.6" r="1.3"/>
<circle cx="289.7" cy="754.6" r="1.3"/>
<circle cx="299.5" cy="754.6" r="1.3"/>
<circle cx="307.6" cy="754.6" r="1.3"/>
<circle cx="353.9" cy="754.6" r="1.3"/>
<circle cx="347.9" cy="754.6" r="1.3"/>
<circle cx="374.9" cy="754.6" r="1.3"/>
<circle cx="288.4" cy="754.6" r="1.3"/>
<circle cx="314.1" cy="754.6" r="1.3"/>
<circle cx="311.8" cy="754.6" r="1.3"/>
<circle cx="359.1" cy="754.6" r="1.3"/>
<circle cx="292.4" cy="754.6" r="1.3"/>
<circle cx="309.7" cy="754.6" r="1.3"/>
<circle cx="303.4" cy="754.6" r="1.3"/>
<circle cx="324.4" cy="754.6" r="1.3"/>
<circle cx="286.9" cy="754.6" r="1.3"/>
<circle cx="310.2" cy="754.6" r="1.3"/>
<circle cx="336.1" cy="754.6" r="1.3"/>
<circle cx="300.9" cy="754.6" r="1.3"/>
<circle cx="332.2" cy="754.6" r="1.3"/>
<circle cx="249.9" cy="754.6" r="1.3"/>
<circle cx="407.1" cy="754.6" r="1.3"/>
<circle cx="313" cy="754.6" r="1.3"/>
<circle cx="277.3" cy="754.6" r="1.3"/>
<circle cx="298.5" cy="754.6" r="1.3"/>
<circle cx="278.6" cy="754.6" r="1.3"/>
<circle cx="281.1" cy="754.6" r="1.3"/>
<circle cx="359.7" cy="754.6" r="1.3"/>
<circle cx="365.5" cy="754.6" r="1.3"/>
<circle cx="365.4" cy="754.6" r="1.3"/>
<circle cx="342.6" cy="754.6" r="1.3"/>
<circle cx="322.6" cy="754.6" r="1.3"/>
<circle cx="388.7" cy="754.6" r="1.3"/>
<circle cx="315.9" cy="754.6" r="1.3"/>
<circle cx="304.5" cy="754.6" r="1.3"/>
<circle cx="283" cy="754.6" r="1.3"/>
<circle cx="383.4" cy="754.6" r="1.3"/>
<circle cx="368.6" cy="754.6" r="1.3"/>
<circle cx="278.6" cy="754.6" r="1.3"/>
<circle cx="347.8" cy="754.6" r="1.3"/>
<circle cx="298" cy="754.6" r="1.3"/>
<circle cx="295.6" cy="754.6" r="1.3"/>
<circle cx="367.7" cy="754.6" r="1.3"/>
<circle cx="348.2" cy="754.6" r="1.3"/>
<circle cx="319" cy="754.6" r="1.3"/>
<circle cx="323.7" cy="754.6" r="1.3"/>
<circle cx="329.5" cy="754.6" r="1.3"/>
<circle cx="368" cy="754.6" r="1.3"/>
<circle cx="308.4" cy="754.6" r="1.3"/>
<circle cx="288.3" cy="754.6" r="1.3"/>
<circle cx="362.5" cy="754.6" r="1.3"/>
<circle cx="351.8" cy="754.6" r="1.3"/>
<circle cx="304.9" cy="754.6" r="1.3"/>
<circle cx="343.6" cy="754.6" r="1.3"/>
<circle cx="356.5" cy="754.6" r="1.3"/>
<circle cx="298.5" cy="754.6" r="1.3"/>
<circle cx="361.6" cy="754.6" r="1.3"/>
<circle cx="362.7" cy="754.6" r="1.3"/>
<circle cx="358.9" cy="754.6" r="1.3"/>
<circle cx="336.3" cy="754.6" r="1.3"/>
<circle cx="355" cy="754.6" r="1.3"/>
<circle cx="328.1" cy="754.6" r="1.3"/>
<circle cx="347" cy="754.6" r="1.3"/>
<circle cx="351.5" cy="754.6" r="1.3"/>
<circle cx="354.2" cy="754.6" r="1.3"/>
<circle cx="331.2" cy="754.6" r="1.3"/>
<circle cx="366.3" cy="754.6" r="1.3"/>
<circle cx="293.3" cy="754.6" r="1.3"/>
<circle cx="291.8" cy="754.6" r="1.3"/>
<circle cx="261.8" cy="754.6" r="1.3"/>
<circle cx="404.4" cy="754.6" r="1.3"/>
<circle cx="276.9" cy="754.6" r="1.3"/>
<circle cx="299.5" cy="754.6" r="1.3"/>
<circle cx="309.1" cy="754.6" r="1.3"/>
<circle cx="352.4" cy="754.6" r="1.3"/>
<circle cx="365.8" cy="754.6" r="1.3"/>
<circle cx="365.4" cy="754.6" r="1.3"/>
<circle cx="346.2" cy="754.6" r="1.3"/>
<circle cx="342.7" cy="754.6" r="1.3"/>
<circle cx="306.9" cy="754.6" r="1.3"/>
<circle cx="281.1" cy="754.6" r="1.3"/>
<circle cx="349.4" cy="754.6" r="1.3"/>
<circle cx="287.7" cy="754.6" r="1.3"/>
<circle cx="306.2" cy="754.6" r="1.3"/>
<circle cx="296.7" cy="754.6" r="1.3"/>
<circle cx="331" cy="754.6" r="1.3"/>
<circle cx="298.7" cy="754.6" r="1.3"/>
<circle cx="290.8" cy="754.6" r="1.3"/>
<circle cx="332.3" cy="754.6" r="1.3"/>
<circle cx="288.7" cy="754.6" r="1.3"/>
<circle cx="279.3" cy="754.6" r="1.3"/>
<circle cx="329.2" cy="754.6" r="1.3"/>
<circle cx="346.6" cy="754.6" r="1.3"/>
<circle cx="337.5" cy="754.6" r="1.3"/>
<circle cx="273.3" cy="754.6" r="1.3"/>
<circle cx="252.8" cy="754.6" r="1.3"/>
<circle cx="289.3" cy="754.6" r="1.3"/>
<circle cx="294.1" cy="754.6" r="1.3"/>
<circle cx="256.3" cy="754.6" r="1.3"/>
<circle cx="285.1" cy="754.6" r="1.3"/>
<circle cx="273.2" cy="754.6" r="1.3"/>
<circle cx="332.9" cy="754.6" r="1.3"/>
<circle cx="314.2" cy="754.6" r="1.3"/>
<circle cx="327.6" cy="754.6" r="1.3"/>
<circle cx="341.4" cy="754.6" r="1.3"/>
<circle cx="360.1" cy="754.6" r="1.3"/>
<circle cx="303.2" cy="754.6" r="1.3"/>
<circle cx="351" cy="754.6" r="1.3"/>
<circle cx="351.5" cy="754.6" r="1.3"/>
<circle cx="294.7" cy="754.6" r="1.3"/>
<circle cx="323.4" cy="754.6" r="1.3"/>
<circle cx="286.9" cy="754.6" r="1.3"/>
<circle cx="307.2" cy="754.6" r="1.3"/>
<circle cx="353.6" cy="754.6" r="1.3"/>
<circle cx="252.7" cy="754.6" r="1.3"/>
<circle cx="295.3" cy="754.6" r="1.3"/>
<circle cx="255.6" cy="754.6" r="1.3"/>
<circle cx="315.3" cy="754.6" r="1.3"/>
<circle cx="304.2" cy="754.6" r="1.3"/>
<circle cx="300" cy="754.6" r="1.3"/>
<circle cx="330.7" cy="754.6" r="1.3"/>
<circle cx="367.1" cy="754.6" r="1.3"/>
<circle cx="315.8" cy="754.6" r="1.3"/>
<circle cx="276" cy="754.6" r="1.3"/>
<circle cx="330.7" cy="754.6" r="1.3"/>
<circle cx="366.4" cy="754.6" r="1.3"/>
<circle cx="291.8" cy="754.6" r="1.3"/>
<circle cx="289.9" cy="754.6" r="1.3"/>
<circle cx="368.7" cy="754.6" r="1.3"/>
<circle cx="349.6" cy="754.6" r="1.3"/>
<circle cx="349.2" cy="754.6" r="1.3"/>
<circle cx="370.7" cy="754.6" r="1.3"/>
<circle cx="344.1" cy="754.6" r="1.3"/>
<circle cx="285.1" cy="754.6" r="1.3"/>
<circle cx="304.4" cy="754.6" r="1.3"/>
<circle cx="249.9" cy="754.6" r="1.3"/>
<circle cx="351.8" cy="754.6" r="1.3"/>
<circle cx="304.1" cy="754.6" r="1.3"/>
<circle cx="311.2" cy="754.6" r="1.3"/>
<circle cx="309.7" cy="754.6" r="1.3"/>
<circle cx="321.7" cy="754.6" r="1.3"/>
<circle cx="336.1" cy="754.6" r="1.3"/>
<circle cx="248.6" cy="754.6" r="1.3"/>
<circle cx="282.1" cy="754.6" r="1.3"/>
<circle cx="341.6" cy="754.6" r="1.3"/>
<circle cx="276.9" cy="754.6" r="1.3"/>
<circle cx="290.6" cy="754.6" r="1.3"/>
<circle cx="247.7" cy="754.6" r="1.3"/>
<circle cx="309.5" cy="754.6" r="1.3"/>
<circle cx="288.4" cy="754.6" r="1.3"/>
<circle cx="298.2" cy="754.6" r="1.3"/>
<circle cx="307.6" cy="754.6" r="1.3"/>
<circle cx="380.9" cy="754.6" r="1.3"/>
<circle cx="317" cy="754.6" r="1.3"/>
<circle cx="278.2" cy="754.6" r="1.3"/>
<circle cx="353.8" cy="754.6" r="1.3"/>
<circle cx="298" cy="754.6" r="1.3"/>
<circle cx="302.6" cy="754.6" r="1.3"/>
<circle cx="303.8" cy="754.6" r="1.3"/>
<circle cx="294.8" cy="754.6" r="1.3"/>
<circle cx="315.9" cy="754.6" r="1.3"/>
<circle cx="278.2" cy="754.6" r="1.3"/>
<circle cx="295.5" cy="754.6" r="1.3"/>
<circle cx="333.5" cy="754.6" r="1.3"/>
<circle cx="305.8" cy="754.6" r="1.3"/>
<circle cx="267.1" cy="754.6" r="1.3"/>
<circle cx="265" cy="754.6" r="1.3"/>
<circle cx="280.3" cy="754.6" r="1.3"/>
<circle cx="378.8" cy="754.6" r="1.3"/>
<circle cx="278.4" cy="754.6" r="1.3"/>
<circle cx="365.2" cy="754.6" r="1.3"/>
<circle cx="300.5" cy="754.6" r="1.3"/>
<circle cx="282.8" cy="754.6" r="1.3"/>
<circle cx="293.4" cy="754.6" r="1.3"/>
<circle cx="385.9" cy="754.6" r="1.3"/>
<circle cx="285.2" cy="754.6" r="1.3"/>
<circle cx="307" cy="754.6" r="1.3"/>
<circle cx="289.8" cy="754.6" r="1.3"/>
<circle cx="297.2" cy="754.6" r="1.3"/>
<circle cx="341.8" cy="754.6" r="1.3"/>
<circle cx="308.1" cy="754.6" r="1.3"/>
<circle cx="368.3" cy="754.6" r="1.3"/>
<circle cx="403.5" cy="754.6" r="1.3"/>
<circle cx="275.8" cy="754.6" r="1.3"/>
<circle cx="317.9" cy="754.6" r="1.3"/>
<circle cx="341" cy="754.6" r="1.3"/>
<circle cx="287.1" cy="754.6" r="1.3"/>
<circle cx="321.7" cy="754.6" r="1.3"/>
<circle cx="319.7" cy="754.6" r="1.3"/>
<circle cx="309.3" cy="754.6" r="1.3"/>
<circle cx="334.6" cy="754.6" r="1.3"/>
<circle cx="280.7" cy="754.6" r="1.3"/>
<circle cx="255" cy="754.6" r="1.3"/>
<circle cx="284.6" cy="754.6" r="1.3"/>
<circle cx="289.3" cy="754.6" r="1.3"/>
<circle cx="311.7" cy="754.6" r="1.3"/>
<circle cx="340.3" cy="754.6" r="1.3"/>
<circle cx="397.8" cy="754.6" r="1.3"/>
<circle cx="341.1" cy="754.6" r="1.3"/>
<circle cx="287.6" cy="754.6" r="1.3"/>
<circle cx="330.6" cy="754.6" r="1.3"/>
<circle cx="353.1" cy="754.6" r="1.3"/>
<circle cx="278.6" cy="754.6" r="1.3"/>
<circle cx="275.7" cy="754.6" r="1.3"/>
<circle cx="317.1" cy="754.6" r="1.3"/>
<circle cx="292.7" cy="754.6" r="1.3"/>
<circle cx="261.6" cy="754.6" r="1.3"/>
<circle cx="369.6" cy="754.6" r="1.3"/>
<circle cx="392.2" cy="754.6" r="1.3"/>
<circle cx="304.8" cy="754.6" r="1.3"/>
<circle cx="319.2" cy="754.6" r="1.3"/>
<circle cx="327.5" cy="754.6" r="1.3"/>
<circle cx="301.5" cy="754.6" r="1.3"/>
<circle cx="332.1" cy="754.6" r="1.3"/>
<circle cx="312.6" cy="754.6" r="1.3"/>
<circle cx="290.3" cy="754.6" r="1.3"/>
<circle cx="321.5" cy="754.6" r="1.3"/>
<circle cx="311.1" cy="754.6" r="1.3"/>
<circle cx="271.9" cy="754.6" r="1.3"/>
<circle cx="276.1" cy="754.6" r="1.3"/>
<circle cx="313" cy="754.6" r="1.3"/>
<circle cx="350.5" cy="754.6" r="1.3"/>
<circle cx="275.2" cy="754.6" r="1.3"/>
<circle cx="286" cy="754.6" r="1.3"/>
<circle cx="304.5" cy="754.6" r="1.3"/>
<circle cx="276.2" cy="754.6" r="1.3"/>
<circle cx="375.9" cy="754.6" r="1.3"/>
<circle cx="314" cy="754.6" r="1.3"/>
<circle cx="296.1" cy="754.6" r="1.3"/>
<circle cx="298.7" cy="754.6" r="1.3"/>
<circle cx="312.9" cy="754.6" r="1.3"/>
<circle cx="254" cy="754.6" r="1.3"/>
<circle cx="385.4" cy="754.6" r="1.3"/>
<circle cx="330.3" cy="754.6" r="1.3"/>
<circle cx="287.9" cy="754.6" r="1.3"/>
<circle cx="382.5" cy="754.6" r="1.3"/>
<circle cx="301.1" cy="754.6" r="1.3"/>
<circle cx="286.4" cy="754.6" r="1.3"/>
<circle cx="303.5" cy="754.6" r="1.3"/>
<circle cx="307.9" cy="754.6" r="1.3"/>
<circle cx="374.3" cy="754.6" r="1.3"/>
<circle cx="250.1" cy="754.6" r="1.3"/>
<circle cx="355.3" cy="754.6" r="1.3"/>
<circle cx="342.6" cy="754.6" r="1.3"/>
<circle cx="299.1" cy="754.6" r="1.3"/>
<circle cx="336" cy="754.6" r="1.3"/>
<circle cx="352.1" cy="754.6" r="1.3"/>
<circle cx="362.6" cy="754.6" r="1.3"/>
<circle cx="343.8" cy="754.6" r="1.3"/>
<circle cx="335.9" cy="754.6" r="1.3"/>
<circle cx="302.5" cy="754.6" r="1.3"/>
<circle cx="299.4" cy="754.6" r="1.3"/>
<circle cx="346.4" cy="754.6" r="1.3"/>
<circle cx="289.5" cy="754.6" r="1.3"/>
<circle cx="243.6" cy="754.6" r="1.3"/>
<circle cx="287.6" cy="754.6" r="1.3"/>
<circle cx="292.2" cy="754.6" r="1.3"/>
<circle cx="306" cy="754.6" r="1.3"/>
<circle cx="337.9" cy="754.6" r="1.3"/>
<circle cx="307.9" cy="754.6" r="1.3"/>
<circle cx="380" cy="754.6" r="1.3"/>
<circle cx="279.7" cy="754.6" r="1.3"/>
<circle cx="320.7" cy="754.6" r="1.3"/>
<circle cx="351.6" cy="754.6" r="1.3"/>
<circle cx="327.3" cy="754.6" r="1.3"/>
<circle cx="306.8" cy="754.6" r="1.3"/>
<circle cx="301.6" cy="754.6" r="1.3"/>
<circle cx="339.7" cy="754.6" r="1.3"/>
<circle cx="299.5" cy="754.6" r="1.3"/>
<circle cx="317" cy="754.6" r="1.3"/>
<circle cx="286.3" cy="754.6" r="1.3"/>
<circle cx="288.1" cy="754.6" r="1.3"/>
<circle cx="314.3" cy="754.6" r="1.3"/>
<circle cx="308.9" cy="754.6" r="1.3"/>
<circle cx="309.2" cy="754.6" r="1.3"/>
<circle cx="357.8" cy="754.6" r="1.3"/>
<circle cx="305.9" cy="754.6" r="1.3"/>
<circle cx="285.5" cy="754.6" r="1.3"/>
<circle cx="288.3" cy="754.6" r="1.3"/>
<circle cx="321.1" cy="754.6" r="1.3"/>
<circle cx="350" cy="754.6" r="1.3"/>
<circle cx="307.3" cy="754.6" r="1.3"/>
<circle cx="329.7" cy="754.6" r="1.3"/>
<circle cx="340.8" cy="754.6" r="1.3"/>
<circle cx="327" cy="754.6" r="1.3"/>
<circle cx="380.1" cy="754.6" r="1.3"/>
<circle cx="310.7" cy="754.6" r="1.3"/>
<circle cx="289.8" cy="754.6" r="1.3"/>
<circle cx="275.3" cy="754.6" r="1.3"/>
<circle cx="375" cy="754.6" r="1.3"/>
<circle cx="320.9" cy="754.6" r="1.3"/>
<circle cx="257.7" cy="754.6" r="1.3"/>
<circle cx="282.1" cy="754.6" r="1.3"/>
<circle cx="363.4" cy="754.6" r="1.3"/>
<circle cx="349.4" cy="754.6" r="1.3"/>
<circle cx="294.4" cy="754.6" r="1.3"/>
<circle cx="383.8" cy="754.6" r="1.3"/>
<circle cx="307.6" cy="754.6" r="1.3"/>
<circle cx="325.2" cy="754.6" r="1.3"/>
<circle cx="294.5" cy="754.6" r="1.3"/>
<circle cx="293.8" cy="754.6" r="1.3"/>
<circle cx="330.7" cy="754.6" r="1.3"/>
<circle cx="302.7" cy="754.6" r="1.3"/>
<circle cx="304.4" cy="754.6" r="1.3"/>
<circle cx="308.3" cy="754.6" r="1.3"/>
<circle cx="296.1" cy="754.6" r="1.3"/>
<circle cx="339.5" cy="754.6" r="1.3"/>
<circle cx="309.1" cy="754.6" r="1.3"/>
<circle cx="297" cy="754.6" r="1.3"/>
<circle cx="309.1" cy="754.6" r="1.3"/>
<circle cx="354.1" cy="754.6" r="1.3"/>
<circle cx="274.1" cy="754.6" r="1.3"/>
<circle cx="296" cy="754.6" r="1.3"/>
<circle cx="317.7" cy="754.6" r="1.3"/>
<circle cx="380.4" cy="754.6" r="1.3"/>
<circle cx="300.8" cy="754.6" r="1.3"/>
<circle cx="269.6" cy="754.6" r="1.3"/>
<circle cx="277.9" cy="754.6" r="1.3"/>
<circle cx="334.9" cy="754.6" r="1.3"/>
<circle cx="341.8" cy="754.6" r="1.3"/>
<circle cx="368.4" cy="754.6" r="1.3"/>
<circle cx="271.9" cy="754.6" r="1.3"/>
<circle cx="299.5" cy="754.6" r="1.3"/>
<circle cx="309.8" cy="754.6" r="1.3"/>
<circle cx="296.6" cy="754.6" r="1.3"/>
<circle cx="283.8" cy="754.6" r="1.3"/>
<circle cx="305.5" cy="754.6" r="1.3"/>
<circle cx="365.3" cy="754.6" r="1.3"/>
<circle cx="321.8" cy="754.6" r="1.3"/>
<circle cx="302.9" cy="754.6" r="1.3"/>
<circle cx="310.4" cy="754.6" r="1.3"/>
<circle cx="360.5" cy="754.6" r="1.3"/>
<circle cx="344.8" cy="754.6" r="1.3"/>
<circle cx="292.6" cy="754.6" r="1.3"/>
<circle cx="297.1" cy="754.6" r="1.3"/>
<circle cx="333" cy="754.6" r="1.3"/>
<circle cx="315.3" cy="754.6" r="1.3"/>
<circle cx="279.2" cy="754.6" r="1.3"/>
<circle cx="287.6" cy="754.6" r="1.3"/>
<circle cx="347.3" cy="754.6" r="1.3"/>
<circle cx="405.5" cy="754.6" r="1.3"/>
<circle cx="248.4" cy="754.6" r="1.3"/>
<circle cx="325.9" cy="754.6" r="1.3"/>
<circle cx="316.6" cy="754.6" r="1.3"/>
<circle cx="296.6" cy="754.6" r="1.3"/>
<circle cx="330.5" cy="754.6" r="1.3"/>
<circle cx="303.8" cy="754.6" r="1.3"/>
<circle cx="374.9" cy="754.6" r="1.3"/>
<circle cx="297.9" cy="754.6" r="1.3"/>
<circle cx="303.7" cy="754.6" r="1.3"/>
<circle cx="334.7" cy="754.6" r="1.3"/>
<circle cx="352.7" cy="754.6" r="1.3"/>
<circle cx="307.6" cy="754.6" r="1.3"/>
<circle cx="289.3" cy="754.6" r="1.3"/>
<circle cx="375.1" cy="754.6" r="1.3"/>
<circle cx="291.1" cy="754.6" r="1.3"/>
<circle cx="294.9" cy="754.6" r="1.3"/>
<circle cx="351.5" cy="754.6" r="1.3"/>
<circle cx="339.5" cy="754.6" r="1.3"/>
<circle cx="294.7" cy="754.6" r="1.3"/>
<circle cx="272.3" cy="754.6" r="1.3"/>
<circle cx="347.7" cy="754.6" r="1.3"/>
<circle cx="371.4" cy="754.6" r="1.3"/>
<circle cx="256.7" cy="754.6" r="1.3"/>
<circle cx="287.6" cy="754.6" r="1.3"/>
<circle cx="321" cy="754.6" r="1.3"/>
<circle cx="286.4" cy="754.6" r="1.3"/>
<circle cx="297.3" cy="754.6" r="1.3"/>
<circle cx="309.9" cy="754.6" r="1.3"/>
<circle cx="297.8" cy="754.6" r="1.3"/>
<circle cx="260.8" cy="754.6" r="1.3"/>
<circle cx="324.5" cy="754.6" r="1.3"/>
<circle cx="359.2" cy="754.6" r="1.3"/>
<circle cx="364.7" cy="754.6" r="1.3"/>
<circle cx="300.6" cy="754.6" r="1.3"/>
<circle cx="267.9" cy="754.6" r="1.3"/>
<circle cx="340.9" cy="754.6" r="1.3"/>
<circle cx="337.8" cy="754.6" r="1.3"/>
<circle cx="321.5" cy="754.6" r="1.3"/>
<circle cx="262.2" cy="754.6" r="1.3"/>
<circle cx="278.6" cy="754.6" r="1.3"/>
<circle cx="295.4" cy="754.6" r="1.3"/>
<circle cx="247.1" cy="754.6" r="1.3"/>
<circle cx="316" cy="754.6" r="1.3"/>
<circle cx="371" cy="754.6" r="1.3"/>
<circle cx="310.5" cy="754.6" r="1.3"/>
<circle cx="301.6" cy="754.6" r="1.3"/>
<circle cx="290.3" cy="754.6" r="1.3"/>
<circle cx="325.5" cy="754.6" r="1.3"/>
<circle cx="312.6" cy="754.6" r="1.3"/>
<circle cx="313.5" cy="754.6" r="1.3"/>
<circle cx="285.9" cy="754.6" r="1.3"/>
<circle cx="355.9" cy="754.6" r="1.3"/>
<circle cx="293.5" cy="754.6" r="1.3"/>
<circle cx="293.2" cy="754.6" r="1.3"/>
<circle cx="340.4" cy="754.6" r="1.3"/>
<circle cx="270.2" cy="754.6" r="1.3"/>
<circle cx="324.7" cy="754.6" r="1.3"/>
<circle cx="330.7" cy="754.6" r="1.3"/>
<circle cx="401.9" cy="754.6" r="1.3"/>
<circle cx="342.5" cy="754.6" r="1.3"/>
<circle cx="315.8" cy="754.6" r="1.3"/>
<circle cx="356.1" cy="754.6" r="1.3"/>
<circle cx="303.8" cy="754.6" r="1.3"/>
<circle cx="326.7" cy="754.6" r="1.3"/>
<circle cx="317.2" cy="754.6" r="1.3"/>
<circle cx="314.8" cy="754.6" r="1.3"/>
<circle cx="322.6" cy="754.6" r="1.3"/>
<circle cx="335.9" cy="754.6" r="1.3"/>
<circle cx="308.3" cy="754.6" r="1.3"/>
<circle cx="245.4" cy="754.6" r="1.3"/>
<circle cx="368.5" cy="754.6" r="1.3"/>
<circle cx="313.1" cy="754.6" r="1.3"/>
<circle cx="278.2" cy="754.6" r="1.3"/>
<circle cx="345.7" cy="754.6" r="1.3"/>
<circle cx="326" cy="754.6" r="1.3"/>
<circle cx="354.3" cy="754.6" r="1.3"/>
<circle cx="271.2" cy="754.6" r="1.3"/>
<circle cx="288.3" cy="754.6" r="1.3"/>
<circle cx="332" cy="754.6" r="1.3"/>
<circle cx="344.7" cy="754.6" r="1.3"/>
<circle cx="252.6" cy="754.6" r="1.3"/>
<circle cx="362.1" cy="754.6" r="1.3"/>
<circle cx="335.2" cy="754.6" r="1.3"/>
<circle cx="333.2" cy="754.6" r="1.3"/>
<circle cx="294.5" cy="754.6" r="1.3"/>
<circle cx="298.6" cy="754.6" r="1.3"/>
<circle cx="373.2" cy="754.6" r="1.3"/>
<circle cx="376.9" cy="754.6" r="1.3"/>
<circle cx="370.2" cy="754.6" r="1.3"/>
<circle cx="337.9" cy="754.6" r="1.3"/>
<circle cx="341" cy="754.6" r="1.3"/>
<circle cx="326.6" cy="754.6" r="1.3"/>
<circle cx="356.7" cy="754.6" r="1.3"/>
<circle cx="247.1" cy="754.6" r="1.3"/>
<circle cx="307.4" cy="754.6" r="1.3"/>
<circle cx="339" cy="754.6" r="1.3"/>
<circle cx="307.8" cy="754.6" r="1.3"/>
<circle cx="291.6" cy="754.6" r="1.3"/>
<circle cx="253.6" cy="754.6" r="1.3"/>
<circle cx="349.1" cy="754.6" r="1.3"/>
<circle cx="293.9" cy="754.6" r="1.3"/>
<circle cx="313.2" cy="754.6" r="1.3"/>
<circle cx="326.3" cy="754.6" r="1.3"/>
<circle cx="328.3" cy="754.6" r="1.3"/>
<circle cx="320.9" cy="754.6" r="1.3"/>
<circle cx="385" cy="754.6" r="1.3"/>
<circle cx="249" cy="754.6" r="1.3"/>
<circle cx="370.9" cy="754.6" r="1.3"/>
<circle cx="325" cy="754.6" r="1.3"/>
<circle cx="355.4" cy="754.6" r="1.3"/>
<circle cx="321.7" cy="754.6" r="1.3"/>
<circle cx="349.8" cy="754.6" r="1.3"/>
<circle cx="344.1" cy="754.6" r="1.3"/>
<circle cx="342.8" cy="754.6" r="1.3"/>
<circle cx="287.6" cy="754.6" r="1.3"/>
<circle cx="298.7" cy="754.6" r="1.3"/>
<circle cx="369" cy="754.6" r="1.3"/>
<circle cx="329.8" cy="754.6" r="1.3"/>
<circle cx="331.2" cy="754.6" r="1.3"/>
<circle cx="321" cy="754.6" r="1.3"/>
<circle cx="282.3" cy="754.6" r="1.3"/>
<circle cx="361.9" cy="754.6" r="1.3"/>
<circle cx="361" cy="754.6" r="1.3"/>
<circle cx="372.7" cy="754.6" r="1.3"/>
<circle cx="323" cy="754.6" r="1.3"/>
<circle cx="336.4" cy="754.6" r="1.3"/>
<circle cx="319.6" cy="754.6" r="1.3"/>
<circle cx="337.6" cy="754.6" r="1.3"/>
<circle cx="290.1" cy="754.6" r="1.3"/>
<circle cx="277.1" cy="754.6" r="1.3"/>
<circle cx="330.2" cy="754.6" r="1.3"/>
<circle cx="368.5" cy="754.6" r="1.3"/>
<circle cx="344.9" cy="754.6" r="1.3"/>
<circle cx="339" cy="754.6" r="1.3"/>
<circle cx="325.1" cy="754.6" r="1.3"/>
<circle cx="371.6" cy="754.6" r="1.3"/>
<circle cx="373.2" cy="754.6" r="1.3"/>
<circle cx="290.4" cy="754.6" r="1.3"/>
<circle cx="285.8" cy="754.6" r="1.3"/>
<circle cx="346.8" cy="754.6" r="1.3"/>
<circle cx="322.7" cy="754.6" r="1.3"/>
<circle cx="294.5" cy="754.6" r="1.3"/>
<circle cx="313.1" cy="754.6" r="1.3"/>
<circle cx="382.1" cy="754.6" r="1.3"/>
<circle cx="399.6" cy="754.6" r="1.3"/>
<circle cx="354.6" cy="754.6" r="1.3"/>
<circle cx="275.9" cy="754.6" r="1.3"/>
<circle cx="262.2" cy="754.6" r="1.3"/>
<circle cx="384.9" cy="754.6" r="1.3"/>
<circle cx="308.7" cy="754.6" r="1.3"/>
<circle cx="302.8" cy="754.6" r="1.3"/>
<circle cx="294.2" cy="754.6" r="1.3"/>
<circle cx="303.9" cy="754.6" r="1.3"/>
<circle cx="293.8" cy="754.6" r="1.3"/>
<circle cx="303.8" cy="754.6" r="1.3"/>
<circle cx="303.1" cy="754.6" r="1.3"/>
<circle cx="334.4" cy="754.6" r="1.3"/>
<circle cx="312.2" cy="754.6" r="1.3"/>
<circle cx="332" cy="754.6" r="1.3"/>
<circle cx="295.4" cy="754.6" r="1.3"/>
<circle cx="292.4" cy="754.6" r="1.3"/>
<circle cx="322.8" cy="754.6" r="1.3"/>
<circle cx="276.4" cy="754.6" r="1.3"/>
<circle cx="366.7" cy="754.6" r="1.3"/>
<circle cx="338.2" cy="754.6" r="1.3"/>
<circle cx="304.8" cy="754.6" r="1.3"/>
<circle cx="320" cy="754.6" r="1.3"/>
<circle cx="355.4" cy="754.6" r="1.3"/>
<circle cx="327.4" cy="754.6" r="1.3"/>
<circle cx="349.2" cy="754.6" r="1.3"/>
<circle cx="342.7" cy="754.6" r="1.3"/>
<circle cx="346.1" cy="754.6" r="1.3"/>
<circle cx="371.5" cy="754.6" r="1.3"/>
<circle cx="339.5" cy="754.6" r="1.3"/>
<circle cx="401.9" cy="754.6" r="1.3"/>
<circle cx="346.1" cy="754.6" r="1.3"/>
<circle cx="313.1" cy="754.6" r="1.3"/>
<circle cx="367.9" cy="754.6" r="1.3"/>
<circle cx="308.7" cy="754.6" r="1.3"/>
<circle cx="281.3" cy="754.6" r="1.3"/>
<circle cx="310.6" cy="754.6" r="1.3"/>
<circle cx="301.5" cy="754.6" r="1.3"/>
<circle cx="257.7" cy="754.6" r="1.3"/>
<circle cx="279.8" cy="754.6" r="1.3"/>
<circle cx="327.3" cy="754.6" r="1.3"/>
<circle cx="300.7" cy="754.6" r="1.3"/>
<circle cx="270" cy="754.6" r="1.3"/>
<circle cx="263.7" cy="754.6" r="1.3"/>
<circle cx="305" cy="754.6" r="1.3"/>
<circle cx="295.9" cy="754.6" r="1.3"/>
<circle cx="267" cy="754.6" r="1.3"/>
<circle cx="279.6" cy="754.6" r="1.3"/>
<circle cx="379.8" cy="754.6" r="1.3"/>
<circle cx="294.8" cy="754.6" r="1.3"/>
<circle cx="275.6" cy="754.6" r="1.3"/>
<circle cx="255.1" cy="754.6" r="1.3"/>
<circle cx="339.6" cy="754.6" r="1.3"/>
<circle cx="308.1" cy="754.6" r="1.3"/>
<circle cx="304.5" cy="754.6" r="1.3"/>
<circle cx="272" cy="754.6" r="1.3"/>
<circle cx="318" cy="754.6" r="1.3"/>
<circle cx="261.7" cy="754.6" r="1.3"/>
<circle cx="329.8" cy="754.6" r="1.3"/>
<circle cx="307.7" cy="754.6" r="1.3"/>
<circle cx="291.3" cy="754.6" r="1.3"/>
<circle cx="292.3" cy="754.6" r="1.3"/>
<circle cx="319.7" cy="754.6" r="1.3"/>
<circle cx="338" cy="754.6" r="1.3"/>
<circle cx="291.7" cy="754.6" r="1.3"/>
<circle cx="353.7" cy="754.6" r="1.3"/>
<circle cx="289" cy="754.6" r="1.3"/>
<circle cx="327" cy="754.6" r="1.3"/>
<circle cx="371.2" cy="754.6" r="1.3"/>
<circle cx="311.3" cy="754.6" r="1.3"/>
<circle cx="297.6" cy="754.6" r="1.3"/>
<circle cx="286.4" cy="754.6" r="1.3"/>
<circle cx="349.6" cy="754.6" r="1.3"/>
<circle cx="298.1" cy="754.6" r="1.3"/>
<circle cx="312.6" cy="754.6" r="1.3"/>
<circle cx="268.3" cy="754.6" r="1.3"/>
<circle cx="281" cy="754.6" r="1.3"/>
<circle cx="244.8" cy="754.6" r="1.3"/>
<circle cx="282.2" cy="754.6" r="1.3"/>
<circle cx="282.1" cy="754.6" r="1.3"/>
<circle cx="387.8" cy="754.6" r="1.3"/>
<circle cx="372.6" cy="754.6" r="1.3"/>
<circle cx="362.2" cy="754.6" r="1.3"/>
<circle cx="301" cy="754.6" r="1.3"/>
<circle cx="281.6" cy="754.6" r="1.3"/>
<circle cx="348.3" cy="754.6" r="1.3"/>
<circle cx="286.8" cy="754.6" r="1.3"/>
<circle cx="355.6" cy="754.6" r="1.3"/>
<circle cx="315.1" cy="754.6" r="1.3"/>
<circle cx="348.2" cy="754.6" r="1.3"/>
<circle cx="287.3" cy="754.6" r="1.3"/>
<circle cx="291.6" cy="754.6" r="1.3"/>
<circle cx="268.4" cy="754.6" r="1.3"/>
<circle cx="306.2" cy="754.6" r="1.3"/>
<circle cx="323.8" cy="754.6" r="1.3"/>
<circle cx="298.4" cy="754.6" r="1.3"/>
<circle cx="297.8" cy="754.6" r="1.3"/>
<circle cx="283.7" cy="754.6" r="1.3"/>
<circle cx="330.4" cy="754.6" r="1.3"/>
<circle cx="346.7" cy="754.6" r="1.3"/>
<circle cx="368.8" cy="754.6" r="1.3"/>
<circle cx="309.7" cy="754.6" r="1.3"/>
<circle cx="279.5" cy="754.6" r="1.3"/>
<circle cx="311.6" cy="754.6" r="1.3"/>
<circle cx="311.3" cy="754.6" r="1.3"/>
<circle cx="267.7" cy="754.6" r="1.3"/>
<circle cx="371.6" cy="754.6" r="1.3"/>
<circle cx="279" cy="754.6" r="1.3"/>
<circle cx="374" cy="754.6" r="1.3"/>
<circle cx="291.9" cy="754.6" r="1.3"/>
<circle cx="344.6" cy="754.6" r="1.3"/>
<circle cx="285.1" cy="754.6" r="1.3"/>
<circle cx="315.2" cy="754.6" r="1.3"/>
<circle cx="294.5" cy="754.6" r="1.3"/>
<circle cx="288.9" cy="754.6" r="1.3"/>
<circle cx="291.8" cy="754.6" r="1.3"/>
<circle cx="290.6" cy="754.6" r="1.3"/>
<circle cx="298" cy="754.6" r="1.3"/>
<circle cx="282.1" cy="754.6" r="1.3"/>
<circle cx="293.3" cy="754.6" r="1.3"/>
<circle cx="355.7" cy="754.6" r="1.3"/>
<circle cx="359.4" cy="754.6" r="1.3"/>
<circle cx="362" cy="754.6" r="1.3"/>
<circle cx="363.9" cy="754.6" r="1.3"/>
<circle cx="355.7" cy="754.6" r="1.3"/>
<circle cx="348.4" cy="754.6" r="1.3"/>
<circle cx="353.4" cy="754.6" r="1.3"/>
<circle cx="358.9" cy="754.6" r="1.3"/>
<circle cx="364.4" cy="754.6" r="1.3"/>
<circle cx="425.6" cy="754.6" r="1.3"/>
<circle cx="435.6" cy="754.6" r="1.3"/>
<circle cx="441.7" cy="754.6" r="1.3"/>
<circle cx="441.7" cy="754.6" r="1.3"/>
<circle cx="437.7" cy="754.6" r="1.3"/>
<circle cx="444.5" cy="754.6" r="1.3"/>
<circle cx="480.8" cy="754.6" r="1.3"/>
<circle cx="469" cy="754.6" r="1.3"/>
<circle cx="453.5" cy="754.6" r="1.3"/>
<circle cx="455.8" cy="754.6" r="1.3"/>
<circle cx="457.4" cy="754.6" r="1.3"/>
<circle cx="486.1" cy="754.6" r="1.3"/>
<circle cx="555.4" cy="754.6" r="1.3"/>
<circle cx="611.1" cy="754.6" r="1.3"/>
<circle cx="525.5" cy="754.6" r="1.3"/>
<circle cx="519.8" cy="754.6" r="1.3"/>
<circle cx="584.2" cy="754.6" r="1.3"/>
<circle cx="433" cy="754.6" r="1.3"/>
<circle cx="429.6" cy="754.6" r="1.3"/>
<circle cx="420" cy="754.6" r="1.3"/>
<circle cx="425.3" cy="754.6" r="1.3"/>
<circle cx="419" cy="754.6" r="1.3"/>
<circle cx="423.1" cy="754.6" r="1.3"/>
<circle cx="423.1" cy="754.6" r="1.3"/>
<circle cx="420.4" cy="754.6" r="1.3"/>
<circle cx="430.7" cy="754.6" r="1.3"/>
<circle cx="430.7" cy="754.6" r="1.3"/>
<circle cx="431.5" cy="754.6" r="1.3"/>
<circle cx="429.5" cy="754.6" r="1.3"/>
<circle cx="435" cy="754.6" r="1.3"/>
<circle cx="439.9" cy="754.6" r="1.3"/>
<circle cx="439.9" cy="754.6" r="1.3"/>
<circle cx="446.7" cy="754.6" r="1.3"/>
<circle cx="462" cy="754.6" r="1.3"/>
<circle cx="465.7" cy="754.6" r="1.3"/>
<circle cx="203.6" cy="754.6" r="1.3"/>
<circle cx="210.9" cy="754.6" r="1.3"/>
<circle cx="209.5" cy="754.6" r="1.3"/>
<circle cx="216.5" cy="754.6" r="1.3"/>
<circle cx="221.4" cy="754.6" r="1.3"/>
<circle cx="213" cy="754.6" r="1.3"/>
<circle cx="217.3" cy="754.6" r="1.3"/>
<circle cx="226.4" cy="754.6" r="1.3"/>
<circle cx="230.2" cy="754.6" r="1.3"/>
<circle cx="233.7" cy="754.6" r="1.3"/>
<circle cx="222.9" cy="754.6" r="1.3"/>
<circle cx="226.4" cy="754.6" r="1.3"/>
<circle cx="226.4" cy="754.6" r="1.3"/>
<circle cx="236.6" cy="754.6" r="1.3"/>
<circle cx="205.1" cy="754.6" r="1.3"/>
<circle cx="209.5" cy="754.6" r="1.3"/>
<circle cx="220" cy="754.6" r="1.3"/>
<circle cx="211.8" cy="754.6" r="1.3"/>
<circle cx="235.1" cy="754.6" r="1.3"/>
<circle cx="238.5" cy="754.6" r="1.3"/>
<circle cx="112.5" cy="754.6" r="1.3"/>
<circle cx="140" cy="754.6" r="1.3"/>
<circle cx="177" cy="754.6" r="1.3"/>
<circle cx="184.3" cy="754.6" r="1.3"/>
<circle cx="188.1" cy="754.6" r="1.3"/>
<circle cx="190.2" cy="754.6" r="1.3"/>
<circle cx="199.8" cy="754.6" r="1.3"/>
<circle cx="165.6" cy="754.6" r="1.3"/>
<circle cx="203.6" cy="754.6" r="1.3"/>
<circle cx="216.5" cy="754.6" r="1.3"/>
<circle cx="224.3" cy="754.6" r="1.3"/>
<circle cx="224.3" cy="754.6" r="1.3"/>
<circle cx="207.1" cy="754.6" r="1.3"/>
<circle cx="147.6" cy="754.6" r="1.3"/>
<circle cx="198.6" cy="754.6" r="1.3"/>
<circle cx="201.9" cy="754.6" r="1.3"/>
<circle cx="210.9" cy="754.6" r="1.3"/>
<circle cx="206.8" cy="754.6" r="1.3"/>
<circle cx="222" cy="754.6" r="1.3"/>
<circle cx="222.9" cy="754.6" r="1.3"/>
<circle cx="229.3" cy="754.6" r="1.3"/>
<circle cx="231.4" cy="754.6" r="1.3"/>
<circle cx="238.4" cy="754.6" r="1.3"/>
<circle cx="377.5" cy="754.6" r="1.3"/>
<circle cx="396.5" cy="754.6" r="1.3"/>
<circle cx="366.8" cy="754.6" r="1.3"/>
<circle cx="398.3" cy="754.6" r="1.3"/>
<circle cx="396.5" cy="754.6" r="1.3"/>
<circle cx="386" cy="754.6" r="1.3"/>
<circle cx="412.5" cy="754.6" r="1.3"/>
<circle cx="378.9" cy="754.6" r="1.3"/>
<circle cx="369.9" cy="754.6" r="1.3"/>
<circle cx="401.5" cy="754.6" r="1.3"/>
<circle cx="383.6" cy="754.6" r="1.3"/>
<circle cx="418.8" cy="754.6" r="1.3"/>
<circle cx="383.1" cy="754.6" r="1.3"/>
<circle cx="228.5" cy="754.6" r="1.3"/>
<circle cx="238.4" cy="754.6" r="1.3"/>
<circle cx="247.2" cy="754.6" r="1.3"/>
<circle cx="268.2" cy="754.6" r="1.3"/>
<circle cx="272.6" cy="754.6" r="1.3"/>
<circle cx="194" cy="754.6" r="1.3"/>
<circle cx="223.5" cy="754.6" r="1.3"/>
<circle cx="244.5" cy="754.6" r="1.3"/>
<circle cx="202.5" cy="754.6" r="1.3"/>
<circle cx="209.5" cy="754.6" r="1.3"/>
<circle cx="253.6" cy="754.6" r="1.3"/>
<circle cx="272.4" cy="754.6" r="1.3"/>
<circle cx="263.3" cy="754.6" r="1.3"/>
<circle cx="243.4" cy="754.6" r="1.3"/>
<circle cx="258.4" cy="754.6" r="1.3"/>
<circle cx="274.4" cy="754.6" r="1.3"/>
<circle cx="244.8" cy="754.6" r="1.3"/>
<circle cx="268.9" cy="754.6" r="1.3"/>
<circle cx="228.5" cy="754.6" r="1.3"/>
<circle cx="271.6" cy="754.6" r="1.3"/>
<circle cx="249.8" cy="754.6" r="1.3"/>
<circle cx="256.3" cy="754.6" r="1.3"/>
<circle cx="261.3" cy="754.6" r="1.3"/>
<circle cx="207.3" cy="754.6" r="1.3"/>
<circle cx="257.6" cy="754.6" r="1.3"/>
<circle cx="238.6" cy="754.6" r="1.3"/>
<circle cx="260.3" cy="754.6" r="1.3"/>
<circle cx="239.6" cy="754.6" r="1.3"/>
<circle cx="261.5" cy="754.6" r="1.3"/>
<circle cx="272.4" cy="754.6" r="1.3"/>
<circle cx="276.3" cy="754.6" r="1.3"/>
<circle cx="276.3" cy="754.6" r="1.3"/>
<circle cx="265.3" cy="754.6" r="1.3"/>
<circle cx="266.2" cy="754.6" r="1.3"/>
<circle cx="272.2" cy="754.6" r="1.3"/>
<circle cx="257.1" cy="754.6" r="1.3"/>
<circle cx="205.4" cy="754.6" r="1.3"/>
<circle cx="275.8" cy="754.6" r="1.3"/>
<circle cx="278.6" cy="754.6" r="1.3"/>
<circle cx="224.4" cy="754.6" r="1.3"/>
<circle cx="274.4" cy="754.6" r="1.3"/>
<circle cx="276.3" cy="754.6" r="1.3"/>
<circle cx="278.1" cy="754.6" r="1.3"/>
<circle cx="279.9" cy="754.6" r="1.3"/>
<circle cx="235.5" cy="754.6" r="1.3"/>
<circle cx="273.6" cy="754.6" r="1.3"/>
<circle cx="255.6" cy="754.6" r="1.3"/>
<circle cx="257.1" cy="754.6" r="1.3"/>
<circle cx="261.6" cy="754.6" r="1.3"/>
<circle cx="239.7" cy="754.6" r="1.3"/>
<circle cx="244.5" cy="754.6" r="1.3"/>
<circle cx="270.9" cy="754.6" r="1.3"/>
<circle cx="271.8" cy="754.6" r="1.3"/>
<circle cx="275.1" cy="754.6" r="1.3"/>
<circle cx="276.3" cy="754.6" r="1.3"/>
<circle cx="219.4" cy="754.6" r="1.3"/>
<circle cx="254.7" cy="754.6" r="1.3"/>
<circle cx="265.6" cy="754.6" r="1.3"/>
<circle cx="256.3" cy="754.6" r="1.3"/>
<circle cx="265.6" cy="754.6" r="1.3"/>
<circle cx="112.5" cy="754.6" r="1.3"/>
<circle cx="140" cy="754.6" r="1.3"/>
<circle cx="147.6" cy="754.6" r="1.3"/>
<circle cx="165.4" cy="754.6" r="1.3"/>
<circle cx="177" cy="754.6" r="1.3"/>
<circle cx="184.3" cy="754.6" r="1.3"/>
<circle cx="187.8" cy="754.6" r="1.3"/>
<circle cx="190.8" cy="754.6" r="1.3"/>
<circle cx="194" cy="754.6" r="1.3"/>
<circle cx="480.9" cy="754.6" r="1.3"/>
<circle cx="486" cy="754.6" r="1.3"/>
<circle cx="519.8" cy="754.6" r="1.3"/>
<circle cx="525.5" cy="754.6" r="1.3"/>
<circle cx="555.4" cy="754.6" r="1.3"/>
<circle cx="564.7" cy="754.6" r="1.3"/>
<circle cx="584.2" cy="754.6" r="1.3"/>
<circle cx="611.1" cy="754.6" r="1.3"/>
<circle cx="429" cy="754.6" r="1.3"/>
<circle cx="432" cy="754.6" r="1.3"/>
<circle cx="435.6" cy="754.6" r="1.3"/>
<circle cx="439.5" cy="754.6" r="1.3"/>
<circle cx="443.5" cy="754.6" r="1.3"/>
<circle cx="448.7" cy="754.6" r="1.3"/>
<circle cx="454" cy="754.6" r="1.3"/>
<circle cx="457" cy="754.6" r="1.3"/>
<circle cx="459" cy="754.6" r="1.3"/>
<circle cx="463" cy="754.6" r="1.3"/>
<circle cx="466" cy="754.6" r="1.3"/>
<circle cx="470" cy="754.6" r="1.3"/>
<circle cx="210.9" cy="733.4" r="1.3"/>
<circle cx="144.3" cy="690.8" r="1.3"/>
<circle cx="175" cy="690.5" r="1.3"/>
<circle cx="181.4" cy="687" r="1.3"/>
<circle cx="510.2" cy="740" r="1.3"/>
<circle cx="334.2" cy="676.7" r="1.3"/>
<circle cx="379.6" cy="680.9" r="1.3"/>
<circle cx="389.1" cy="725.1" r="1.3"/>
<circle cx="415.4" cy="733" r="1.3"/>
<circle cx="236.6" cy="685.5" r="1.3"/>
<circle cx="240.1" cy="686.1" r="1.3"/>
<circle cx="241.9" cy="669.2" r="1.3"/>
<circle cx="299.2" cy="724.7" r="1.3"/>
<circle cx="282.6" cy="703.9" r="1.3"/>
<circle cx="328.5" cy="748.1" r="1.3"/>
<circle cx="288.5" cy="733.7" r="1.3"/>
<circle cx="297.4" cy="671.9" r="1.3"/>
<circle cx="322.2" cy="754.4" r="1.3"/>
<circle cx="281.9" cy="635.8" r="1.3"/>
<circle cx="359.1" cy="744.2" r="1.3"/>
<circle cx="305.6" cy="713.7" r="1.3"/>
<circle cx="308.9" cy="717.5" r="1.3"/>
<circle cx="288.3" cy="682.6" r="1.3"/>
<circle cx="381.2" cy="748.4" r="1.3"/>
<circle cx="298.2" cy="709.4" r="1.3"/>
<circle cx="271.7" cy="729.1" r="1.3"/>
<circle cx="329.6" cy="753.7" r="1.3"/>
<circle cx="313.1" cy="746.7" r="1.3"/>
<circle cx="286" cy="688.5" r="1.3"/>
<circle cx="315.9" cy="744.1" r="1.3"/>
<circle cx="318.7" cy="746.6" r="1.3"/>
<circle cx="327.2" cy="752.6" r="1.3"/>
<circle cx="310.7" cy="732.2" r="1.3"/>
<circle cx="271.1" cy="687.4" r="1.3"/>
<circle cx="392.5" cy="695.5" r="1.3"/>
<circle cx="331.7" cy="747.7" r="1.3"/>
<circle cx="340.4" cy="752.1" r="1.3"/>
<circle cx="244.6" cy="748.9" r="1.3"/>
<circle cx="347.9" cy="742.6" r="1.3"/>
<circle cx="327.2" cy="751.8" r="1.3"/>
<circle cx="291.5" cy="724.8" r="1.3"/>
<circle cx="363" cy="738.7" r="1.3"/>
<circle cx="336.2" cy="742.1" r="1.3"/>
<circle cx="270.4" cy="700.2" r="1.3"/>
<circle cx="364.1" cy="739.3" r="1.3"/>
<circle cx="328.8" cy="751.5" r="1.3"/>
<circle cx="290.9" cy="730.7" r="1.3"/>
<circle cx="301.2" cy="730.8" r="1.3"/>
<circle cx="292.5" cy="706.8" r="1.3"/>
<circle cx="307.2" cy="735.6" r="1.3"/>
<circle cx="313.9" cy="748.8" r="1.3"/>
<circle cx="343.3" cy="747.8" r="1.3"/>
<circle cx="293.8" cy="648.5" r="1.3"/>
<circle cx="351.4" cy="743.6" r="1.3"/>
<circle cx="340.3" cy="747.1" r="1.3"/>
<circle cx="343.3" cy="719.4" r="1.3"/>
<circle cx="284.8" cy="664.7" r="1.3"/>
<circle cx="407.4" cy="726.4" r="1.3"/>
<circle cx="375.7" cy="715.4" r="1.3"/>
<circle cx="276.5" cy="702.3" r="1.3"/>
<circle cx="308.2" cy="710.3" r="1.3"/>
<circle cx="369.3" cy="727" r="1.3"/>
<circle cx="343" cy="739.2" r="1.3"/>
<circle cx="351.6" cy="706.8" r="1.3"/>
<circle cx="320.2" cy="752.3" r="1.3"/>
<circle cx="315.3" cy="741.1" r="1.3"/>
<circle cx="293.5" cy="727.6" r="1.3"/>
<circle cx="279.5" cy="617.2" r="1.3"/>
<circle cx="301.3" cy="713.5" r="1.3"/>
<circle cx="309.3" cy="718.1" r="1.3"/>
<circle cx="298.1" cy="690.4" r="1.3"/>
<circle cx="289.5" cy="700" r="1.3"/>
<circle cx="291.8" cy="741.8" r="1.3"/>
<circle cx="305.3" cy="702.2" r="1.3"/>
<circle cx="315.3" cy="742.9" r="1.3"/>
<circle cx="320.8" cy="753.2" r="1.3"/>
<circle cx="318.6" cy="744.2" r="1.3"/>
<circle cx="398.7" cy="718.8" r="1.3"/>
<circle cx="373.7" cy="742.4" r="1.3"/>
<circle cx="335.2" cy="717" r="1.3"/>
<circle cx="279.3" cy="693.8" r="1.3"/>
<circle cx="310.9" cy="728.4" r="1.3"/>
<circle cx="280.7" cy="710.5" r="1.3"/>
<circle cx="282.6" cy="668.6" r="1.3"/>
<circle cx="277" cy="684.1" r="1.3"/>
<circle cx="279" cy="685.3" r="1.3"/>
<circle cx="320.5" cy="752.1" r="1.3"/>
<circle cx="299.8" cy="716.3" r="1.3"/>
<circle cx="324.8" cy="753.9" r="1.3"/>
<circle cx="351.3" cy="735.7" r="1.3"/>
<circle cx="377.6" cy="706.1" r="1.3"/>
<circle cx="308" cy="709.2" r="1.3"/>
<circle cx="286.3" cy="697.6" r="1.3"/>
<circle cx="366.8" cy="750.1" r="1.3"/>
<circle cx="315.4" cy="743.2" r="1.3"/>
<circle cx="271.1" cy="701.3" r="1.3"/>
<circle cx="340.1" cy="741.4" r="1.3"/>
<circle cx="349.8" cy="734" r="1.3"/>
<circle cx="315.6" cy="744.8" r="1.3"/>
<circle cx="311.7" cy="709.1" r="1.3"/>
<circle cx="345.8" cy="743.4" r="1.3"/>
<circle cx="270.8" cy="717" r="1.3"/>
<circle cx="294.7" cy="728.8" r="1.3"/>
<circle cx="306.7" cy="738.2" r="1.3"/>
<circle cx="277.5" cy="700.3" r="1.3"/>
<circle cx="300.5" cy="689.7" r="1.3"/>
<circle cx="300.6" cy="658.2" r="1.3"/>
<circle cx="298.3" cy="705" r="1.3"/>
<circle cx="310.9" cy="747.5" r="1.3"/>
<circle cx="330.3" cy="747.6" r="1.3"/>
<circle cx="359.5" cy="749.9" r="1.3"/>
<circle cx="293.4" cy="704.7" r="1.3"/>
<circle cx="283.8" cy="653.4" r="1.3"/>
<circle cx="309.9" cy="743.2" r="1.3"/>
<circle cx="284.7" cy="691.9" r="1.3"/>
<circle cx="280.8" cy="609.9" r="1.3"/>
<circle cx="286.1" cy="651.5" r="1.3"/>
<circle cx="314.5" cy="747.3" r="1.3"/>
<circle cx="315.2" cy="738.3" r="1.3"/>
<circle cx="315.4" cy="747.5" r="1.3"/>
<circle cx="306.6" cy="704.5" r="1.3"/>
<circle cx="299.3" cy="697.2" r="1.3"/>
<circle cx="319.6" cy="750.8" r="1.3"/>
<circle cx="298.7" cy="685" r="1.3"/>
<circle cx="297" cy="718.5" r="1.3"/>
<circle cx="345.2" cy="751.9" r="1.3"/>
<circle cx="273.6" cy="687.2" r="1.3"/>
<circle cx="405.5" cy="717.5" r="1.3"/>
<circle cx="300.8" cy="703.3" r="1.3"/>
<circle cx="291.8" cy="702.2" r="1.3"/>
<circle cx="285.9" cy="720.7" r="1.3"/>
<circle cx="382.2" cy="688.1" r="1.3"/>
<circle cx="272.7" cy="734.3" r="1.3"/>
<circle cx="298.5" cy="592.8" r="1.3"/>
<circle cx="364.7" cy="745.3" r="1.3"/>
<circle cx="299.4" cy="732.6" r="1.3"/>
<circle cx="347.8" cy="748.4" r="1.3"/>
<circle cx="354.2" cy="742.9" r="1.3"/>
<circle cx="360.1" cy="709.6" r="1.3"/>
<circle cx="307.2" cy="746" r="1.3"/>
<circle cx="315.3" cy="744.1" r="1.3"/>
<circle cx="370.7" cy="687" r="1.3"/>
<circle cx="309.5" cy="727.2" r="1.3"/>
<circle cx="343.8" cy="740.6" r="1.3"/>
<circle cx="320.7" cy="752.6" r="1.3"/>
<circle cx="383.8" cy="697.4" r="1.3"/>
<circle cx="307.6" cy="738.2" r="1.3"/>
<circle cx="324.7" cy="752.7" r="1.3"/>
<circle cx="335.2" cy="749.4" r="1.3"/>
<circle cx="370.2" cy="671.9" r="1.3"/>
<circle cx="372.7" cy="682.2" r="1.3"/>
<circle cx="290.1" cy="597" r="1.3"/>
<circle cx="399.6" cy="736.1" r="1.3"/>
<circle cx="294.2" cy="707.8" r="1.3"/>
<circle cx="303.1" cy="729.6" r="1.3"/>
<circle cx="320" cy="743.6" r="1.3"/>
<circle cx="244.8" cy="669.6" r="1.3"/>
<circle cx="268.4" cy="737.5" r="1.3"/>
<circle cx="306.2" cy="751.3" r="1.3"/>
<circle cx="285.1" cy="663.8" r="1.3"/>
</g>
<g class="bs" fill="#ed7d31">
<circle cx="241" cy="538.6" r="1.6"/>
<circle cx="287.7" cy="573.3" r="1.6"/>
<circle cx="220.6" cy="597.2" r="1.6"/>
<circle cx="194.9" cy="605.5" r="1.6"/>
<circle cx="209.5" cy="628" r="1.6"/>
<circle cx="218.5" cy="634.2" r="1.6"/>
<circle cx="218.5" cy="649.6" r="1.6"/>
<circle cx="233.7" cy="650.2" r="1.6"/>
<circle cx="233.7" cy="659.3" r="1.6"/>
<circle cx="252.1" cy="628" r="1.6"/>
<circle cx="247.1" cy="644.3" r="1.6"/>
<circle cx="262.8" cy="595.7" r="1.6"/>
<circle cx="255.1" cy="609" r="1.6"/>
<circle cx="275.5" cy="666" r="1.6"/>
<circle cx="274.5" cy="654.1" r="1.6"/>
<circle cx="258.5" cy="643.8" r="1.6"/>
<circle cx="267.1" cy="598.3" r="1.6"/>
<circle cx="256.3" cy="643.5" r="1.6"/>
<circle cx="255.1" cy="651" r="1.6"/>
</g>
<g fill="#00b050">
<circle cx="381.2" cy="506.7" r="1.6"/>
<circle cx="394.4" cy="518.3" r="1.6"/>
<circle cx="564.7" cy="616" r="1.6"/>
<circle cx="281.2" cy="533.2" r="1"/>
</g>
<rect x="483.2" y="462.9" width="184.2" height="76.3" fill="#fff" stroke="#5d7078" stroke-width="1.3"/>
<circle cx="497.6" cy="479.2" r="1.9" fill="#4472c4"/>
<text x="506.1" y="484.4" font-size="14.7">All</text>
<circle cx="497.6" cy="501.1" r="1.9" fill="#ed7d31"/>
<text x="506.1" y="506.2" font-size="14.7">Toxin/Anti-toxin</text>
<circle cx="497.6" cy="522.9" r="1.9" fill="#00b050"/>
<text x="506.1" y="528.1" font-size="14.7">gidB/Rv3679/Rv3680</text>
<text x="66.6" y="428.3" font-size="15.9">b) STM selection</text>
<text x="53.6" y="493.3" font-size="13.8" text-anchor="end">4</text>
<text x="53.6" y="558.3" font-size="13.8" text-anchor="end">3</text>
<text x="53.6" y="623.5" font-size="13.8" text-anchor="end">2</text>
<text x="53.6" y="689.2" font-size="13.8" text-anchor="end">1</text>
<text x="69.1" y="774.5" font-size="13.8" text-anchor="middle">-6</text>
<text x="156.5" y="774.5" font-size="13.8" text-anchor="middle">-4</text>
<text x="243.5" y="774.5" font-size="13.8" text-anchor="middle">-2</text>
<text x="330.2" y="774.5" font-size="13.8" text-anchor="middle">0</text>
<text x="418" y="774.5" font-size="13.8" text-anchor="middle">2</text>
<text x="505" y="774.5" font-size="13.8" text-anchor="middle">4</text>
<text x="592.7" y="774.5" font-size="13.8" text-anchor="middle">6</text>
<text x="680.5" y="774.5" font-size="13.8" text-anchor="middle">8</text>
<text x="344.7" y="792.8" font-size="15.7" text-anchor="middle">Log2 fold change</text>
<text transform="translate(20.8,603.8) rotate(-90)" font-size="15.7" text-anchor="middle">-log10 p value</text>
</svg></body></html>
